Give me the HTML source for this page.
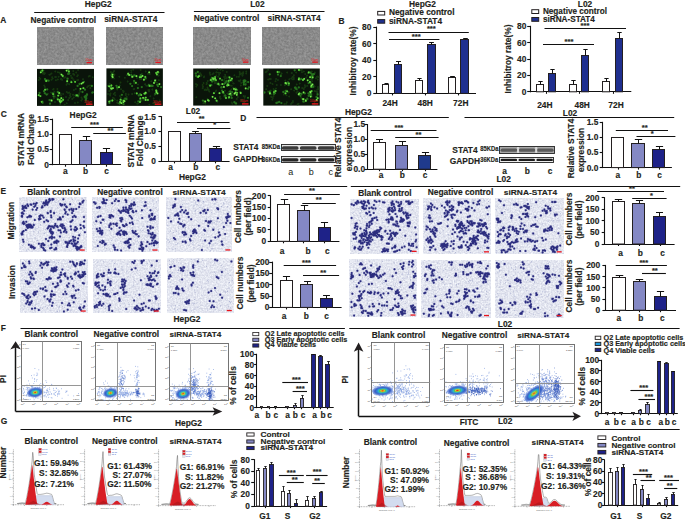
<!DOCTYPE html>
<html><head><meta charset="utf-8"><style>
html,body{margin:0;padding:0;background:#fff;}
svg{display:block;}
text{font-family:"Liberation Sans",sans-serif;}
text[font-weight="bold"]{stroke:#231f20;stroke-width:0.15px;}
</style></head><body>
<svg width="685" height="519" viewBox="0 0 685 519">
<defs>
<filter id="fph" x="0" y="0" width="1" height="1" color-interpolation-filters="sRGB">
<feTurbulence type="fractalNoise" baseFrequency="0.45" numOctaves="3" seed="3"/>
<feColorMatrix values="0.2 0 0 0 0.44  0.2 0 0 0 0.44  0.2 0 0 0 0.44  0 0 0 0 1"/>
<feGaussianBlur stdDeviation="0.35"/>
</filter>
<filter id="fgr" x="0" y="0" width="1" height="1" color-interpolation-filters="sRGB">
<feTurbulence type="fractalNoise" baseFrequency="0.3" numOctaves="2" seed="5"/>
<feComponentTransfer><feFuncR type="table" tableValues="0 0 0 0.02 0.08 0.25 0.6 0.95 1 1"/><feFuncA type="table" tableValues="1 1"/></feComponentTransfer>
<feColorMatrix values="0.42 0 0 0 0.035  0.8 0 0 0 0.07  0.16 0 0 0 0.035  0 0 0 0 1"/>
<feGaussianBlur stdDeviation="0.3"/>
</filter>
<filter id="fbl" x="-2%" y="-2%" width="104%" height="104%"><feGaussianBlur stdDeviation="0.35"/></filter>
<filter id="fbb" x="-30%" y="-30%" width="160%" height="160%"><feGaussianBlur stdDeviation="0.7"/></filter>
<filter id="ftw" x="0" y="0" width="1" height="1" color-interpolation-filters="sRGB">
<feTurbulence type="fractalNoise" baseFrequency="0.6" numOctaves="2" seed="11"/>
<feColorMatrix values="0.26 0 0 0 0.76  0.26 0 0 0 0.77  0.18 0 0 0 0.85  0 0 0 0 1"/>
</filter>
</defs>
<rect width="685" height="519" fill="#fff"/>
<text x="0.2" y="22.8" font-size="8.4" text-anchor="start" font-weight="bold" fill="#231f20" >A</text>
<text x="98.2" y="7" font-size="8.4" text-anchor="middle" font-weight="bold" fill="#231f20" >HepG2</text>
<line x1="34.2" y1="12.5" x2="164.5" y2="12.5" stroke="#111" stroke-width="1.2"/>
<text x="30.5" y="23" font-size="8.4" text-anchor="start" font-weight="bold" fill="#231f20" >Negative control</text>
<text x="104.2" y="22.2" font-size="8.4" text-anchor="start" font-weight="bold" fill="#231f20" >siRNA-STAT4</text>
<rect x="37" y="27.8" width="57" height="37" filter="url(#fph)"/>
<rect x="86.5" y="62" width="5.5" height="1.3" fill="#e8141c"/>
<text x="85.5" y="61.3" font-size="2.6" fill="#e8141c">50μm</text>
<rect x="106.4" y="27.3" width="56.5" height="37.3" filter="url(#fph)"/>
<rect x="155.4" y="61.8" width="5.5" height="1.3" fill="#e8141c"/>
<text x="154.4" y="61.1" font-size="2.6" fill="#e8141c">50μm</text>
<rect x="37" y="68.9" width="57" height="37" fill="#0a140a"/>
<g filter="url(#fbl)">
<path d="M91.8 85.9h0M80.4 91.5h0M79.2 93.2h0M79.0 94.8h0M39.4 77.8h0M54.4 97.8h0M54.4 94.3h0M55.1 96.5h0M51.0 92.5h0M51.8 93.1h0M47.8 93.8h0M65.5 77.2h0M64.5 77.8h0M90.4 87.9h0M88.3 86.1h0M64.7 104.8h0M66.7 92.1h0M68.1 92.9h0M69.2 92.6h0M55.9 80.3h0M72.6 78.5h0M72.0 77.6h0M71.5 78.1h0M43.6 70.6h0M55.0 102.1h0M70.0 95.4h0M70.4 93.9h0M73.1 94.7h0M73.5 73.8h0M73.2 74.0h0M74.1 74.8h0M60.8 79.2h0M57.1 98.9h0M53.7 98.5h0M54.2 97.0h0M79.8 90.6h0M55.9 77.0h0M57.9 79.6h0M55.2 77.0h0M75.8 88.9h0M57.3 97.9h0M52.7 78.5h0M51.5 79.8h0M52.2 77.3h0M60.3 100.2h0M61.4 102.1h0M60.2 104.1h0M73.8 80.3h0M77.2 80.2h0M78.1 80.1h0M66.7 103.2h0M58.6 76.8h0M81.4 100.5h0M81.5 97.5h0M53.1 89.5h0M45.7 94.2h0M47.5 93.9h0M73.3 71.0h0M40.3 78.7h0M38.7 80.0h0M51.9 101.2h0M83.0 79.3h0M88.7 76.4h0M92.7 77.3h0M84.5 97.1h0M82.3 99.1h0M66.5 84.8h0M67.5 83.3h0M73.0 94.8h0M70.6 96.7h0M72.3 99.1h0M73.7 97.5h0M59.9 95.0h0M90.7 104.8h0M91.5 104.7h0M90.1 103.9h0M50.1 74.5h0M51.5 73.6h0M49.4 74.8h0M73.9 89.9h0M44.9 87.0h0M78.1 70.1h0M69.2 98.1h0M71.2 81.0h0M67.3 79.3h0M76.2 72.4h0M77.2 76.3h0M60.6 74.3h0M59.6 72.8h0M85.8 101.7h0M60.6 93.4h0M61.1 95.6h0M63.1 94.1h0M57.4 89.0h0M54.4 91.8h0M53.6 88.9h0M59.0 100.7h0M77.8 102.4h0M75.0 103.0h0M44.2 73.9h0M42.8 73.6h0M89.7 76.1h0M66.0 96.9h0M70.9 75.7h0M44.8 73.3h0M43.4 72.4h0M42.4 72.5h0M55.3 71.6h0M90.0 85.6h0M68.2 100.0h0M61.9 99.2h0M63.3 98.0h0M63.4 77.4h0M62.1 79.7h0M61.1 78.8h0M77.8 75.2h0M44.2 85.6h0M67.1 82.9h0M69.2 84.2h0M57.9 72.3h0M87.2 87.3h0" stroke="#1a4714" stroke-width="2" stroke-linecap="round" stroke-opacity="0.7"/>
<path d="M83.9 81.8h0M83.0 82.6h0M40.4 96.1h0M38.7 95.2h0M46.7 94.6h0M46.2 81.0h0M45.0 79.1h0M48.6 80.7h0M46.9 80.4h0M50.0 103.7h0M91.9 85.9h0M39.5 93.0h0M53.6 96.3h0M53.1 94.1h0M53.0 93.3h0M79.6 84.0h0M81.6 83.6h0M68.9 71.4h0M63.1 99.8h0M59.8 100.0h0M61.3 98.2h0M60.4 102.3h0M80.5 88.8h0M82.5 92.0h0M85.0 89.7h0M83.4 88.2h0M61.5 74.6h0M62.9 75.8h0M75.1 81.8h0M62.7 76.0h0M59.8 101.2h0M61.6 101.1h0M85.6 97.3h0M85.9 99.8h0M86.0 97.4h0M86.2 96.2h0M50.5 100.3h0M49.5 100.1h0M51.6 100.5h0M44.8 93.2h0M44.0 91.2h0M78.1 96.3h0M78.1 95.9h0M76.9 95.4h0M77.0 95.4h0M75.7 95.5h0M92.3 92.7h0M92.9 92.3h0M45.4 79.8h0M42.4 101.7h0M42.6 102.8h0M42.4 101.9h0M41.7 101.8h0M42.4 70.5h0M86.3 98.2h0M84.8 96.7h0M85.4 97.8h0M87.0 94.5h0M71.4 82.2h0M67.6 78.7h0M67.2 81.2h0M68.2 73.9h0M68.3 70.0h0M69.2 73.5h0M66.6 70.6h0M68.7 71.7h0M57.8 92.0h0M58.2 95.6h0M59.2 93.0h0M57.9 99.4h0M45.1 89.7h0M47.2 89.4h0M40.8 72.3h0M41.7 71.0h0M41.5 70.9h0M87.1 94.8h0M85.9 95.8h0M77.6 85.9h0" stroke="#2a8420" stroke-width="2.3" stroke-linecap="round" stroke-opacity="0.8"/>
<path d="M83.0 82.6h0M40.4 96.1h0M38.7 95.2h0M46.2 81.0h0M53.1 94.1h0M81.6 83.6h0M68.9 71.4h0M63.1 99.8h0M59.8 100.0h0M61.3 98.2h0M60.4 102.3h0M80.5 88.8h0M83.4 88.2h0M61.5 74.6h0M75.1 81.8h0M62.7 76.0h0M59.8 101.2h0M61.6 101.1h0M51.6 100.5h0M76.9 95.4h0M77.0 95.4h0M41.7 101.8h0M42.4 70.5h0M71.4 82.2h0M67.2 81.2h0M66.6 70.6h0M58.2 95.6h0M59.2 93.0h0M57.9 99.4h0M45.1 89.7h0M40.8 72.3h0" stroke="#5ccf3a" stroke-width="1.8" stroke-linecap="round"/>
<path d="M83.0 82.6h0M81.6 83.6h0M61.3 98.2h0M80.5 88.8h0M61.5 74.6h0M59.8 101.2h0M51.6 100.5h0M67.2 81.2h0M66.6 70.6h0M59.2 93.0h0M40.8 72.3h0" stroke="#9aec64" stroke-width="1" stroke-linecap="round"/>
</g>
<rect x="86" y="103.5" width="6.5" height="1.4" fill="#e8141c"/>
<text x="84" y="102.5" font-size="2.6" fill="#e8141c">100μm</text>
<rect x="106.4" y="68.4" width="56.5" height="37.5" fill="#0a140a"/>
<g filter="url(#fbl)">
<path d="M159.7 100.4h0M114.2 98.4h0M110.1 94.5h0M110.2 95.5h0M123.5 92.3h0M123.7 91.2h0M117.2 89.6h0M113.8 75.7h0M112.8 74.0h0M114.5 74.6h0M145.1 84.2h0M147.8 85.7h0M146.3 85.7h0M128.0 74.6h0M110.8 71.9h0M110.1 90.2h0M109.3 91.0h0M110.5 93.4h0M143.4 99.7h0M145.0 98.2h0M147.6 100.2h0M119.0 87.3h0M118.3 87.3h0M119.8 85.4h0M113.0 97.8h0M108.0 93.9h0M136.9 77.9h0M121.0 97.8h0M128.5 94.4h0M134.3 83.4h0M157.3 85.1h0M126.8 97.0h0M138.0 84.6h0M132.1 94.1h0M125.8 93.8h0M125.8 95.1h0M134.1 82.5h0M150.8 84.6h0M151.7 85.2h0M151.1 85.3h0M129.2 74.9h0M126.9 75.2h0M119.4 76.8h0M135.8 82.3h0M151.3 81.2h0M122.9 90.8h0M158.6 75.4h0M158.3 75.8h0M139.8 78.9h0M139.3 76.4h0M141.2 78.9h0M153.2 103.2h0M149.4 104.7h0M133.3 69.7h0M131.2 70.4h0M131.4 72.6h0M134.8 93.3h0M153.6 98.5h0M134.1 89.1h0M150.3 96.2h0M155.9 80.1h0M156.9 82.6h0M158.9 80.2h0M114.0 78.6h0M120.0 96.1h0M140.6 70.1h0M141.8 73.8h0M117.6 103.2h0M119.0 103.0h0M117.2 102.8h0M124.9 77.7h0M117.2 100.6h0M137.2 103.8h0M114.8 99.4h0M135.2 102.3h0M115.3 95.2h0M118.7 87.1h0M121.0 89.3h0M117.3 86.9h0M145.6 71.6h0M109.6 83.7h0M124.3 99.6h0M124.4 98.4h0M114.9 92.8h0M113.7 93.9h0M112.0 72.7h0M114.1 71.1h0M113.2 72.5h0M148.0 73.8h0M149.8 74.1h0M127.6 81.6h0M149.0 91.6h0M133.6 89.3h0M154.8 104.3h0M154.8 102.2h0M138.0 103.5h0M157.3 92.3h0M154.6 95.0h0M156.7 92.9h0M149.3 90.0h0M152.4 89.6h0M148.4 90.1h0M111.5 89.4h0M144.5 100.0h0M141.4 101.1h0M143.3 99.4h0M126.7 99.5h0M112.1 78.1h0M120.5 82.5h0" stroke="#1a4714" stroke-width="2" stroke-linecap="round" stroke-opacity="0.7"/>
<path d="M126.4 98.9h0M112.7 77.2h0M112.6 74.6h0M111.6 75.6h0M112.3 76.3h0M111.8 74.5h0M140.0 102.0h0M140.3 99.8h0M138.3 101.3h0M156.7 90.9h0M155.3 93.8h0M140.9 76.0h0M141.1 77.0h0M139.8 77.2h0M142.5 75.9h0M140.7 75.2h0M109.1 86.3h0M111.1 88.3h0M108.6 85.9h0M111.4 85.5h0M159.4 84.1h0M157.3 84.8h0M161.1 87.1h0M158.0 86.2h0M145.8 97.6h0M145.7 99.9h0M147.9 99.9h0M144.4 98.4h0M143.1 97.8h0M132.1 86.1h0M130.4 83.8h0M131.3 75.2h0M134.2 75.3h0M132.5 76.7h0M132.2 76.8h0M120.6 99.7h0M120.1 102.0h0M123.5 104.2h0M121.4 103.2h0M119.5 103.5h0M121.9 94.8h0M112.4 100.5h0M109.4 103.0h0M109.2 101.6h0M110.4 100.9h0M156.4 92.0h0M157.5 93.4h0M156.2 90.4h0M149.2 72.3h0M119.0 87.2h0M151.5 85.9h0M149.6 85.9h0M152.6 85.9h0M148.9 84.9h0M123.9 100.6h0M125.3 98.6h0M124.5 101.2h0M122.0 100.6h0M123.4 102.1h0M128.1 73.8h0M128.3 73.3h0M129.2 75.0h0M116.5 85.8h0M117.2 87.7h0M141.8 87.1h0M137.9 88.1h0M136.5 76.1h0M135.7 75.9h0M145.3 76.9h0M134.1 81.0h0M135.9 82.8h0M111.5 88.9h0M112.9 88.2h0M110.4 87.5h0M110.1 86.4h0M157.0 72.5h0M157.9 72.0h0M156.2 72.9h0M158.4 72.6h0M156.9 74.4h0M140.4 98.3h0M141.2 94.9h0M145.6 78.2h0M145.6 78.4h0M143.9 79.7h0M144.4 93.6h0M145.7 92.7h0M145.1 93.5h0M146.1 93.2h0M155.1 80.4h0M154.0 82.9h0M154.8 81.8h0M138.8 95.4h0M140.2 94.2h0M136.8 93.4h0" stroke="#2a8420" stroke-width="2.3" stroke-linecap="round" stroke-opacity="0.8"/>
<path d="M112.7 77.2h0M112.6 74.6h0M112.3 76.3h0M140.0 102.0h0M141.1 77.0h0M139.8 77.2h0M142.5 75.9h0M109.1 86.3h0M111.1 88.3h0M111.4 85.5h0M159.4 84.1h0M145.8 97.6h0M145.7 99.9h0M147.9 99.9h0M143.1 97.8h0M132.5 76.7h0M132.2 76.8h0M120.6 99.7h0M120.1 102.0h0M121.4 103.2h0M112.4 100.5h0M109.2 101.6h0M156.4 92.0h0M157.5 93.4h0M156.2 90.4h0M149.2 72.3h0M119.0 87.2h0M149.6 85.9h0M123.9 100.6h0M124.5 101.2h0M123.4 102.1h0M128.1 73.8h0M129.2 75.0h0M136.5 76.1h0M145.3 76.9h0M135.9 82.8h0M111.5 88.9h0M112.9 88.2h0M157.9 72.0h0M156.2 72.9h0M156.9 74.4h0M140.4 98.3h0M141.2 94.9h0M143.9 79.7h0M144.4 93.6h0M145.7 92.7h0M145.1 93.5h0M155.1 80.4h0M154.0 82.9h0M136.8 93.4h0" stroke="#5ccf3a" stroke-width="1.8" stroke-linecap="round"/>
<path d="M112.7 77.2h0M112.6 74.6h0M112.3 76.3h0M142.5 75.9h0M109.1 86.3h0M111.1 88.3h0M159.4 84.1h0M145.7 99.9h0M143.1 97.8h0M132.2 76.8h0M121.4 103.2h0M156.4 92.0h0M157.5 93.4h0M149.2 72.3h0M119.0 87.2h0M123.9 100.6h0M124.5 101.2h0M123.4 102.1h0M128.1 73.8h0M129.2 75.0h0M136.5 76.1h0M112.9 88.2h0M157.9 72.0h0M143.9 79.7h0M145.7 92.7h0M155.1 80.4h0M154.0 82.9h0" stroke="#9aec64" stroke-width="1" stroke-linecap="round"/>
</g>
<rect x="154.9" y="103.5" width="6.5" height="1.4" fill="#e8141c"/>
<text x="152.9" y="102.5" font-size="2.6" fill="#e8141c">100μm</text>
<text x="257.4" y="7" font-size="8.4" text-anchor="middle" font-weight="bold" fill="#231f20" >L02</text>
<line x1="193.9" y1="11.5" x2="324.5" y2="11.5" stroke="#111" stroke-width="1.2"/>
<text x="193.8" y="21.2" font-size="8.4" text-anchor="start" font-weight="bold" fill="#231f20" >Negative control</text>
<text x="267.5" y="21.2" font-size="8.4" text-anchor="start" font-weight="bold" fill="#231f20" >siRNA-STAT4</text>
<rect x="193.9" y="27.3" width="56.5" height="37" filter="url(#fph)"/>
<rect x="242.9" y="61.5" width="5.5" height="1.3" fill="#e8141c"/>
<text x="241.9" y="60.8" font-size="2.6" fill="#e8141c">50μm</text>
<rect x="262.8" y="27.3" width="57" height="37" filter="url(#fph)"/>
<rect x="312.3" y="61.5" width="5.5" height="1.3" fill="#e8141c"/>
<text x="311.3" y="60.8" font-size="2.6" fill="#e8141c">50μm</text>
<rect x="193.2" y="68.5" width="56.8" height="37.1" fill="#0a140a"/>
<g filter="url(#fbl)">
<path d="M206.3 90.0h0M209.3 91.6h0M207.7 88.8h0M227.4 93.6h0M227.7 93.8h0M202.6 88.3h0M203.0 86.8h0M209.2 84.7h0M244.6 97.8h0M243.5 96.0h0M245.0 96.3h0M218.2 76.8h0M220.6 98.7h0M220.0 96.4h0M219.9 97.6h0M234.9 93.5h0M232.9 94.7h0M222.1 92.4h0M225.0 90.8h0M231.4 89.5h0M244.5 82.1h0M243.6 84.9h0M246.4 82.4h0M210.2 74.8h0M207.7 80.9h0M232.3 103.8h0M231.7 102.4h0M202.6 85.0h0M243.1 73.3h0M246.2 73.5h0M217.5 101.8h0M216.1 81.0h0M214.7 80.5h0M201.1 74.6h0M203.9 77.3h0M204.1 76.5h0M228.9 91.8h0M229.4 94.4h0M231.4 94.1h0M206.7 82.7h0M228.5 76.7h0M225.4 76.2h0M233.7 83.6h0M231.7 85.8h0M206.9 83.4h0M203.5 83.0h0M211.5 78.9h0M210.1 80.2h0M211.7 77.6h0M216.1 80.8h0M239.6 72.0h0M213.5 73.3h0M212.5 74.2h0M216.3 72.3h0M216.7 72.6h0M217.3 69.6h0M241.8 73.5h0M240.2 74.3h0M240.0 73.8h0M216.1 90.6h0M234.4 75.2h0M240.8 85.4h0M241.3 83.0h0M214.9 81.7h0M214.6 83.2h0M216.1 83.2h0M206.5 84.2h0M233.2 87.7h0M236.8 98.9h0M237.7 97.0h0M239.8 81.3h0M240.4 80.3h0M238.6 80.8h0M226.6 78.2h0M224.8 78.2h0M226.7 77.7h0M226.3 80.7h0M224.1 76.9h0M230.1 85.4h0M233.2 83.2h0M229.6 85.2h0M224.0 95.9h0M224.9 96.9h0M232.2 81.0h0M204.6 89.9h0M205.2 89.6h0M204.4 101.0h0M204.0 101.2h0M203.4 103.2h0M197.3 85.0h0M196.4 86.5h0M195.9 84.1h0M208.7 90.1h0M207.2 89.4h0M207.5 87.4h0M239.7 74.7h0M240.3 73.6h0M242.6 74.9h0M215.6 91.5h0M201.5 75.6h0M200.1 73.2h0M200.6 76.0h0M209.9 72.4h0M209.8 72.9h0M246.3 71.6h0M220.7 69.7h0M222.9 70.6h0M199.2 74.0h0M217.2 84.3h0M218.2 82.4h0M218.3 84.5h0M224.1 81.1h0M224.3 79.7h0M196.3 97.3h0M216.3 75.5h0M228.5 96.5h0M243.9 102.4h0M243.3 102.3h0M207.5 99.1h0M236.8 76.8h0M238.9 76.7h0M225.1 74.8h0M226.7 72.1h0M243.2 72.2h0M242.4 75.8h0M205.3 103.6h0M203.8 102.0h0M235.0 103.6h0M220.2 72.9h0M219.2 74.7h0M218.6 72.7h0M241.9 100.0h0M240.9 100.5h0" stroke="#1a4714" stroke-width="2" stroke-linecap="round" stroke-opacity="0.7"/>
<path d="M234.4 102.2h0M236.1 103.5h0M196.1 76.0h0M199.0 76.1h0M198.1 77.0h0M195.8 73.5h0M215.0 78.8h0M214.4 80.2h0M213.4 80.4h0M213.5 77.9h0M216.0 80.1h0M248.2 82.1h0M211.3 85.1h0M210.2 85.7h0M248.0 97.8h0M229.5 77.3h0M231.9 78.7h0M229.7 79.2h0M230.7 80.3h0M222.0 80.2h0M220.0 78.6h0M236.8 94.8h0M216.6 100.7h0M210.9 80.0h0M211.7 78.8h0M213.2 79.0h0M212.1 81.6h0M225.5 95.9h0M230.8 94.0h0M232.1 92.1h0M229.5 94.2h0M230.2 91.4h0M230.3 93.7h0M197.8 72.0h0M208.7 100.7h0M208.0 100.2h0M221.3 87.4h0M223.8 84.2h0M221.6 87.4h0M222.3 84.1h0M223.9 86.9h0M213.9 93.2h0M212.6 96.8h0M218.3 84.0h0M219.3 84.7h0M202.9 100.6h0M205.2 101.5h0M228.6 82.2h0M228.7 80.8h0M228.2 84.2h0M227.2 85.6h0M226.5 81.5h0M225.3 82.9h0M228.5 85.2h0M227.6 84.4h0M231.2 95.6h0M231.7 97.9h0M228.9 97.9h0M229.1 97.2h0M240.4 92.5h0M240.7 93.0h0M248.9 87.3h0M248.1 88.8h0M245.7 88.4h0M219.5 93.2h0M223.5 93.2h0M223.1 92.0h0M222.1 90.6h0M225.1 95.5h0M226.0 98.0h0M234.7 93.4h0M234.5 93.6h0M237.1 92.8h0M237.0 89.9h0M235.6 92.7h0M243.7 82.5h0M245.5 84.5h0M244.0 84.3h0M245.4 80.9h0M196.9 76.4h0M215.2 98.3h0M235.5 90.0h0M235.5 88.7h0M234.0 88.9h0M235.9 89.5h0M235.8 90.8h0M211.9 78.2h0M214.7 78.4h0M215.1 77.1h0M212.8 78.1h0M244.8 80.3h0M243.7 80.7h0" stroke="#2a8420" stroke-width="2.3" stroke-linecap="round" stroke-opacity="0.8"/>
<path d="M199.0 76.1h0M198.1 77.0h0M215.0 78.8h0M216.0 80.1h0M210.2 85.7h0M229.5 77.3h0M231.9 78.7h0M230.7 80.3h0M220.0 78.6h0M236.8 94.8h0M216.6 100.7h0M210.9 80.0h0M213.2 79.0h0M229.5 94.2h0M230.3 93.7h0M208.7 100.7h0M208.0 100.2h0M222.3 84.1h0M223.9 86.9h0M213.9 93.2h0M212.6 96.8h0M218.3 84.0h0M205.2 101.5h0M228.7 80.8h0M227.2 85.6h0M228.5 85.2h0M227.6 84.4h0M229.1 97.2h0M240.7 93.0h0M245.7 88.4h0M219.5 93.2h0M223.1 92.0h0M226.0 98.0h0M234.7 93.4h0M234.5 93.6h0M237.1 92.8h0M235.6 92.7h0M215.2 98.3h0M234.0 88.9h0M235.9 89.5h0M215.1 77.1h0M212.8 78.1h0" stroke="#5ccf3a" stroke-width="1.8" stroke-linecap="round"/>
<path d="M199.0 76.1h0M215.0 78.8h0M231.9 78.7h0M236.8 94.8h0M213.2 79.0h0M230.3 93.7h0M208.0 100.2h0M222.3 84.1h0M223.9 86.9h0M212.6 96.8h0M205.2 101.5h0M228.5 85.2h0M240.7 93.0h0M245.7 88.4h0M219.5 93.2h0M234.7 93.4h0M234.5 93.6h0M235.6 92.7h0M215.2 98.3h0M234.0 88.9h0M235.9 89.5h0" stroke="#9aec64" stroke-width="1" stroke-linecap="round"/>
</g>
<rect x="242" y="103.2" width="6.5" height="1.4" fill="#e8141c"/>
<text x="240" y="102.2" font-size="2.6" fill="#e8141c">100μm</text>
<rect x="263.3" y="68.5" width="56.5" height="37.1" fill="#0a140a"/>
<g filter="url(#fbl)">
<path d="M271.2 96.8h0M272.8 97.9h0M272.3 99.8h0M281.6 73.4h0M270.4 82.9h0M268.1 79.4h0M269.8 79.1h0M291.0 104.1h0M313.1 74.6h0M311.8 71.6h0M314.7 73.5h0M306.3 77.4h0M307.2 75.6h0M310.7 76.2h0M274.2 90.0h0M276.0 88.6h0M271.6 94.2h0M271.7 97.1h0M273.6 96.1h0M267.3 86.0h0M317.4 92.0h0M317.4 89.4h0M284.8 85.3h0M266.1 89.2h0M307.3 85.7h0M305.4 86.4h0M304.9 85.2h0M316.1 91.4h0M272.5 84.1h0M269.1 91.9h0M270.7 93.5h0M267.9 91.6h0M270.8 90.4h0M314.3 104.1h0M318.3 88.6h0M318.3 89.2h0M317.9 87.1h0M297.5 104.5h0M298.5 103.8h0M312.9 76.4h0M275.5 81.3h0M276.1 79.0h0M277.9 80.0h0M304.3 102.1h0M284.4 103.9h0M286.3 103.8h0M317.7 79.6h0M292.6 77.0h0M289.3 79.3h0M309.2 79.4h0M312.1 81.2h0M311.0 79.4h0M304.6 87.2h0M303.8 89.1h0M302.2 88.1h0M314.5 90.9h0M317.4 93.2h0M268.1 69.7h0M304.1 99.1h0M307.7 99.5h0M288.6 92.0h0M293.7 77.2h0M293.9 79.0h0M285.3 92.5h0M283.9 94.4h0M287.1 72.5h0M314.9 72.6h0M294.1 90.5h0M296.5 92.7h0M297.6 91.5h0M270.7 78.9h0M292.9 102.2h0M301.1 97.8h0M299.7 83.4h0M289.0 85.1h0M288.9 84.2h0M273.8 93.2h0M317.7 76.6h0M318.5 77.0h0M266.7 71.4h0M265.6 72.2h0M291.8 103.0h0M276.7 85.0h0M281.0 74.7h0M296.7 84.6h0M310.8 75.9h0M313.3 76.4h0M296.1 72.5h0M302.0 72.3h0M303.9 71.4h0M305.3 74.0h0M280.9 85.1h0M286.8 102.3h0M293.9 75.3h0M314.6 86.5h0M313.9 85.7h0M315.8 100.3h0M316.5 100.2h0M292.9 100.9h0M285.3 80.5h0M291.8 73.0h0M315.8 78.2h0M317.0 76.8h0M291.4 78.4h0M293.0 79.5h0M286.5 95.3h0M289.1 96.4h0M291.1 89.2h0M288.7 92.5h0M286.8 90.4h0M273.5 88.9h0M299.6 70.3h0M301.8 69.8h0M301.6 70.2h0" stroke="#1a4714" stroke-width="2" stroke-linecap="round" stroke-opacity="0.7"/>
<path d="M269.8 74.3h0M303.3 101.5h0M305.8 100.4h0M303.4 99.2h0M302.7 99.1h0M305.8 100.9h0M308.5 72.9h0M308.7 72.3h0M311.0 73.3h0M309.9 72.3h0M311.1 94.4h0M309.5 95.2h0M311.2 94.1h0M311.2 96.2h0M304.2 93.1h0M303.6 92.4h0M307.3 98.7h0M308.6 95.8h0M310.7 96.6h0M312.2 75.3h0M317.7 98.2h0M316.7 100.0h0M316.5 96.9h0M308.6 83.1h0M307.7 80.3h0M309.9 82.0h0M277.6 72.0h0M310.2 91.8h0M310.0 94.4h0M308.5 93.5h0M310.5 92.5h0M276.4 103.0h0M279.2 102.0h0M277.6 102.6h0M311.6 91.1h0M294.7 70.3h0M299.3 70.2h0M298.9 69.9h0M281.4 103.1h0M311.7 76.9h0M312.7 77.3h0M312.5 78.0h0M269.9 93.5h0M269.9 93.0h0M269.6 91.7h0M275.6 91.0h0M275.0 93.2h0M274.0 92.1h0M274.2 91.6h0M274.0 93.9h0M313.8 74.2h0M311.9 74.1h0M280.8 76.1h0M278.0 74.6h0M279.2 72.2h0M312.3 78.3h0M310.1 77.2h0M298.7 94.4h0M311.4 85.5h0M310.7 83.1h0M311.2 86.7h0M313.0 87.0h0M312.5 84.5h0M285.7 90.8h0M283.3 92.0h0M287.1 91.3h0M285.5 93.3h0M264.5 92.5h0M304.9 93.3h0M298.8 87.4h0M295.8 88.6h0M295.6 87.6h0M295.0 87.7h0M296.6 89.2h0M317.6 94.5h0M288.5 85.1h0M285.5 83.0h0M285.3 83.2h0M288.0 82.3h0M286.3 83.5h0M288.9 83.4h0M301.2 79.0h0M304.2 78.8h0M303.0 80.0h0M299.0 78.5h0M299.8 79.5h0M298.8 79.4h0M299.5 93.5h0M298.9 93.9h0M301.5 93.9h0M300.5 95.8h0" stroke="#2a8420" stroke-width="2.3" stroke-linecap="round" stroke-opacity="0.8"/>
<path d="M305.8 100.4h0M303.4 99.2h0M302.7 99.1h0M305.8 100.9h0M308.7 72.3h0M303.6 92.4h0M310.7 96.6h0M317.7 98.2h0M316.7 100.0h0M307.7 80.3h0M309.9 82.0h0M277.6 72.0h0M310.2 91.8h0M310.5 92.5h0M311.6 91.1h0M298.9 69.9h0M312.7 77.3h0M269.9 93.5h0M269.9 93.0h0M275.6 91.0h0M274.0 92.1h0M310.1 77.2h0M298.7 94.4h0M311.4 85.5h0M311.2 86.7h0M312.5 84.5h0M287.1 91.3h0M285.5 93.3h0M285.5 83.0h0M286.3 83.5h0M288.9 83.4h0M304.2 78.8h0M303.0 80.0h0M299.0 78.5h0M298.8 79.4h0M299.5 93.5h0M298.9 93.9h0" stroke="#5ccf3a" stroke-width="1.8" stroke-linecap="round"/>
<path d="M305.8 100.4h0M303.4 99.2h0M303.6 92.4h0M310.7 96.6h0M316.7 100.0h0M307.7 80.3h0M310.2 91.8h0M310.5 92.5h0M312.7 77.3h0M269.9 93.5h0M310.1 77.2h0M298.7 94.4h0M311.4 85.5h0M312.5 84.5h0M285.5 83.0h0M304.2 78.8h0M298.8 79.4h0M298.9 93.9h0" stroke="#9aec64" stroke-width="1" stroke-linecap="round"/>
</g>
<rect x="311.8" y="103.2" width="6.5" height="1.4" fill="#e8141c"/>
<text x="309.8" y="102.2" font-size="2.6" fill="#e8141c">100μm</text>
<text x="338.5" y="24.4" font-size="8.4" text-anchor="start" font-weight="bold" fill="#231f20" >B</text>
<text x="422.5" y="6.5" font-size="8.4" text-anchor="middle" font-weight="bold" fill="#231f20" >HepG2</text>
<rect x="377.7" y="11.4" width="7" height="3.6" fill="#fff" stroke="#231f20" stroke-width="1"/>
<text x="388.9" y="15.4" font-size="8.4" text-anchor="start" font-weight="bold" fill="#231f20" >Negative control</text>
<rect x="377.7" y="19.6" width="7" height="3.6" fill="#1f2f8f" stroke="#231f20" stroke-width="1"/>
<text x="388.9" y="23.9" font-size="8.4" text-anchor="start" font-weight="bold" fill="#231f20" >siRNA-STAT4</text>
<line x1="376.5" y1="26.6" x2="376.5" y2="93.9" stroke="#111" stroke-width="1.1"/>
<line x1="373.3" y1="93.5" x2="376.1" y2="93.5" stroke="#111" stroke-width="1.1"/>
<text x="371.4" y="96.34" font-size="8.4" text-anchor="end" font-weight="bold" fill="#231f20" >0</text>
<line x1="373.3" y1="76.5" x2="376.1" y2="76.5" stroke="#111" stroke-width="1.1"/>
<text x="371.4" y="79.77" font-size="8.4" text-anchor="end" font-weight="bold" fill="#231f20" >20</text>
<line x1="373.3" y1="60.5" x2="376.1" y2="60.5" stroke="#111" stroke-width="1.1"/>
<text x="371.4" y="63.19" font-size="8.4" text-anchor="end" font-weight="bold" fill="#231f20" >40</text>
<line x1="373.3" y1="43.5" x2="376.1" y2="43.5" stroke="#111" stroke-width="1.1"/>
<text x="371.4" y="46.61" font-size="8.4" text-anchor="end" font-weight="bold" fill="#231f20" >60</text>
<line x1="373.3" y1="27.5" x2="376.1" y2="27.5" stroke="#111" stroke-width="1.1"/>
<text x="371.4" y="30.04" font-size="8.4" text-anchor="end" font-weight="bold" fill="#231f20" >80</text>
<line x1="375.6" y1="93.5" x2="476" y2="93.5" stroke="#111" stroke-width="1.1"/>
<line x1="392.5" y1="93.4" x2="392.5" y2="95.4" stroke="#111" stroke-width="1.1"/>
<line x1="425.5" y1="93.4" x2="425.5" y2="95.4" stroke="#111" stroke-width="1.1"/>
<line x1="458.5" y1="93.4" x2="458.5" y2="95.4" stroke="#111" stroke-width="1.1"/>
<rect x="382.5" y="84.5" width="6" height="8.9" fill="#fff" stroke="#231f20" stroke-width="1"/>
<line x1="386.5" y1="83" x2="386.5" y2="84.5" stroke="#111" stroke-width="1"/>
<line x1="384.49" y1="83.5" x2="388.51" y2="83.5" stroke="#111" stroke-width="1"/>
<rect x="394.5" y="64.5" width="7" height="28.9" fill="#1f2f8f" stroke="#231f20" stroke-width="1"/>
<line x1="398.5" y1="61.8" x2="398.5" y2="64.5" stroke="#111" stroke-width="1"/>
<line x1="396.05" y1="61.5" x2="400.95" y2="61.5" stroke="#111" stroke-width="1"/>
<rect x="415.5" y="80.5" width="7" height="12.9" fill="#fff" stroke="#231f20" stroke-width="1"/>
<line x1="419.5" y1="78.9" x2="419.5" y2="80.5" stroke="#111" stroke-width="1"/>
<line x1="417.38" y1="78.5" x2="421.62" y2="78.5" stroke="#111" stroke-width="1"/>
<rect x="427.5" y="44.5" width="8" height="48.9" fill="#1f2f8f" stroke="#231f20" stroke-width="1"/>
<line x1="431.5" y1="42.9" x2="431.5" y2="44.5" stroke="#111" stroke-width="1"/>
<line x1="429.11" y1="42.5" x2="433.89" y2="42.5" stroke="#111" stroke-width="1"/>
<rect x="448.5" y="77.5" width="7" height="15.9" fill="#fff" stroke="#231f20" stroke-width="1"/>
<line x1="452.5" y1="76.3" x2="452.5" y2="77.5" stroke="#111" stroke-width="1"/>
<line x1="450.13" y1="76.5" x2="454.87" y2="76.5" stroke="#111" stroke-width="1"/>
<rect x="460.5" y="39.5" width="8" height="53.9" fill="#1f2f8f" stroke="#231f20" stroke-width="1"/>
<line x1="465.5" y1="38.2" x2="465.5" y2="39.5" stroke="#111" stroke-width="1"/>
<line x1="463.19" y1="38.5" x2="467.81" y2="38.5" stroke="#111" stroke-width="1"/>
<line x1="388.5" y1="32.5" x2="468.8" y2="32.5" stroke="#111" stroke-width="1.1"/>
<text x="431.3" y="31.4" font-size="7.5" text-anchor="middle" font-weight="bold" fill="#231f20" >***</text>
<line x1="389" y1="39.5" x2="439.4" y2="39.5" stroke="#111" stroke-width="1.1"/>
<text x="416.2" y="39.1" font-size="7.5" text-anchor="middle" font-weight="bold" fill="#231f20" >***</text>
<text x="390.1" y="105.8" font-size="8.4" text-anchor="middle" font-weight="bold" fill="#231f20" >24H</text>
<text x="425.2" y="105.8" font-size="8.4" text-anchor="middle" font-weight="bold" fill="#231f20" >48H</text>
<text x="460.8" y="105.8" font-size="8.4" text-anchor="middle" font-weight="bold" fill="#231f20" >72H</text>
<text transform="translate(356.18,61) rotate(-90)" font-size="8.4" text-anchor="middle" font-weight="bold" fill="#231f20" >Inhibitroy rate(%)</text>
<text x="585" y="6.5" font-size="8.4" text-anchor="middle" font-weight="bold" fill="#231f20" >L02</text>
<rect x="531.8" y="9.7" width="6.9" height="3.8" fill="#fff" stroke="#231f20" stroke-width="1"/>
<text x="542.9" y="13.66" font-size="8.2" text-anchor="start" font-weight="bold" fill="#231f20" >Negative control</text>
<rect x="531.8" y="17.5" width="6.9" height="3.8" fill="#1f2f8f" stroke="#231f20" stroke-width="1"/>
<text x="542.9" y="22.46" font-size="8.2" text-anchor="start" font-weight="bold" fill="#231f20" >siRNA-STAT4</text>
<line x1="530.5" y1="25.8" x2="530.5" y2="92.3" stroke="#111" stroke-width="1.1"/>
<line x1="527.2" y1="91.5" x2="530" y2="91.5" stroke="#111" stroke-width="1.1"/>
<text x="526.4" y="94.74" font-size="8.4" text-anchor="end" font-weight="bold" fill="#231f20" >0</text>
<line x1="527.2" y1="75.5" x2="530" y2="75.5" stroke="#111" stroke-width="1.1"/>
<text x="526.4" y="78.36" font-size="8.4" text-anchor="end" font-weight="bold" fill="#231f20" >20</text>
<line x1="527.2" y1="59.5" x2="530" y2="59.5" stroke="#111" stroke-width="1.1"/>
<text x="526.4" y="61.99" font-size="8.4" text-anchor="end" font-weight="bold" fill="#231f20" >40</text>
<line x1="527.2" y1="42.5" x2="530" y2="42.5" stroke="#111" stroke-width="1.1"/>
<text x="526.4" y="45.61" font-size="8.4" text-anchor="end" font-weight="bold" fill="#231f20" >60</text>
<line x1="527.2" y1="26.5" x2="530" y2="26.5" stroke="#111" stroke-width="1.1"/>
<text x="526.4" y="29.24" font-size="8.4" text-anchor="end" font-weight="bold" fill="#231f20" >80</text>
<line x1="529.5" y1="91.5" x2="631.3" y2="91.5" stroke="#111" stroke-width="1.1"/>
<line x1="546.5" y1="91.8" x2="546.5" y2="93.8" stroke="#111" stroke-width="1.1"/>
<line x1="579.5" y1="91.8" x2="579.5" y2="93.8" stroke="#111" stroke-width="1.1"/>
<line x1="613.5" y1="91.8" x2="613.5" y2="93.8" stroke="#111" stroke-width="1.1"/>
<rect x="536.5" y="84.5" width="7" height="7.3" fill="#fff" stroke="#231f20" stroke-width="1"/>
<line x1="540.5" y1="81" x2="540.5" y2="84.5" stroke="#111" stroke-width="1"/>
<line x1="538.3" y1="81.5" x2="542.7" y2="81.5" stroke="#111" stroke-width="1"/>
<rect x="548.5" y="73.5" width="7" height="18.3" fill="#1f2f8f" stroke="#231f20" stroke-width="1"/>
<line x1="552.5" y1="69.7" x2="552.5" y2="73.5" stroke="#111" stroke-width="1"/>
<line x1="550.33" y1="69.5" x2="554.67" y2="69.5" stroke="#111" stroke-width="1"/>
<rect x="569.5" y="84.5" width="7" height="7.3" fill="#fff" stroke="#231f20" stroke-width="1"/>
<line x1="573.5" y1="80" x2="573.5" y2="84.5" stroke="#111" stroke-width="1"/>
<line x1="571.3" y1="80.5" x2="575.7" y2="80.5" stroke="#111" stroke-width="1"/>
<rect x="581.5" y="55.5" width="7" height="36.3" fill="#1f2f8f" stroke="#231f20" stroke-width="1"/>
<line x1="585.5" y1="49.4" x2="585.5" y2="55.5" stroke="#111" stroke-width="1"/>
<line x1="583.33" y1="49.5" x2="587.67" y2="49.5" stroke="#111" stroke-width="1"/>
<rect x="602.5" y="81.5" width="7" height="10.3" fill="#fff" stroke="#231f20" stroke-width="1"/>
<line x1="606.5" y1="78.4" x2="606.5" y2="81.5" stroke="#111" stroke-width="1"/>
<line x1="604.36" y1="78.5" x2="608.64" y2="78.5" stroke="#111" stroke-width="1"/>
<rect x="615.5" y="38.5" width="7" height="53.3" fill="#1f2f8f" stroke="#231f20" stroke-width="1"/>
<line x1="619.5" y1="32" x2="619.5" y2="38.5" stroke="#111" stroke-width="1"/>
<line x1="617.3" y1="32.5" x2="621.7" y2="32.5" stroke="#111" stroke-width="1"/>
<line x1="544.5" y1="28.5" x2="626" y2="28.5" stroke="#111" stroke-width="1.1"/>
<text x="585" y="27.8" font-size="7.5" text-anchor="middle" font-weight="bold" fill="#231f20" >***</text>
<line x1="543" y1="44.5" x2="594" y2="44.5" stroke="#111" stroke-width="1.1"/>
<text x="569" y="44.1" font-size="7.5" text-anchor="middle" font-weight="bold" fill="#231f20" >***</text>
<text x="544.9" y="107.9" font-size="8.4" text-anchor="middle" font-weight="bold" fill="#231f20" >24H</text>
<text x="582.2" y="107.9" font-size="8.4" text-anchor="middle" font-weight="bold" fill="#231f20" >48H</text>
<text x="616" y="107.9" font-size="8.4" text-anchor="middle" font-weight="bold" fill="#231f20" >72H</text>
<text transform="translate(511.18,59) rotate(-90)" font-size="8.4" text-anchor="middle" font-weight="bold" fill="#231f20" >Inhibitroy rate(%)</text>
<text x="0.8" y="117" font-size="8.4" text-anchor="start" font-weight="bold" fill="#231f20" >C</text>
<text x="83.1" y="117.6" font-size="8.4" text-anchor="middle" font-weight="bold" fill="#231f20" >HepG2</text>
<text transform="translate(24.48,139.5) rotate(-90)" font-size="8.4" text-anchor="middle" font-weight="bold" fill="#231f20" >STAT4 mRNA</text>
<text transform="translate(33.68,139.5) rotate(-90)" font-size="8.4" text-anchor="middle" font-weight="bold" fill="#231f20" >Fold Change</text>
<line x1="52.5" y1="118.7" x2="52.5" y2="165.2" stroke="#111" stroke-width="1.1"/>
<line x1="49.7" y1="164.5" x2="52.5" y2="164.5" stroke="#111" stroke-width="1.1"/>
<text x="48.9" y="167.64" font-size="8.4" text-anchor="end" font-weight="bold" fill="#231f20" >0</text>
<line x1="49.7" y1="149.5" x2="52.5" y2="149.5" stroke="#111" stroke-width="1.1"/>
<text x="48.9" y="152.47" font-size="8.4" text-anchor="end" font-weight="bold" fill="#231f20" >0.5</text>
<line x1="49.7" y1="134.5" x2="52.5" y2="134.5" stroke="#111" stroke-width="1.1"/>
<text x="48.9" y="137.31" font-size="8.4" text-anchor="end" font-weight="bold" fill="#231f20" >1.0</text>
<line x1="49.7" y1="119.5" x2="52.5" y2="119.5" stroke="#111" stroke-width="1.1"/>
<text x="48.9" y="122.14" font-size="8.4" text-anchor="end" font-weight="bold" fill="#231f20" >1.5</text>
<line x1="49.2" y1="164.5" x2="121" y2="164.5" stroke="#111" stroke-width="1.1"/>
<line x1="65.5" y1="164.7" x2="65.5" y2="166.7" stroke="#111" stroke-width="1.1"/>
<line x1="86.5" y1="164.7" x2="86.5" y2="166.7" stroke="#111" stroke-width="1.1"/>
<line x1="106.5" y1="164.7" x2="106.5" y2="166.7" stroke="#111" stroke-width="1.1"/>
<rect x="59.5" y="134.5" width="12" height="30" fill="#fff" stroke="#231f20" stroke-width="1"/>
<rect x="79.5" y="140.5" width="12" height="24" fill="#8488c4" stroke="#231f20" stroke-width="1"/>
<line x1="86.5" y1="136.3" x2="86.5" y2="140.5" stroke="#111" stroke-width="1"/>
<line x1="82.84" y1="136.5" x2="90.16" y2="136.5" stroke="#111" stroke-width="1"/>
<rect x="100.5" y="152.5" width="12" height="12" fill="#1e2288" stroke="#231f20" stroke-width="1"/>
<line x1="106.5" y1="148" x2="106.5" y2="152.5" stroke="#111" stroke-width="1"/>
<line x1="102.92" y1="148.5" x2="110.08" y2="148.5" stroke="#111" stroke-width="1"/>
<text x="65.3" y="174.2" font-size="8.4" text-anchor="middle" font-weight="bold" fill="#231f20" >a</text>
<text x="85.5" y="174.2" font-size="8.4" text-anchor="middle" font-weight="bold" fill="#231f20" >b</text>
<text x="106.6" y="174.2" font-size="8.4" text-anchor="middle" font-weight="bold" fill="#231f20" >c</text>
<line x1="71.2" y1="127.5" x2="122.8" y2="127.5" stroke="#111" stroke-width="1.1"/>
<text x="94.5" y="126.7" font-size="7.5" text-anchor="middle" font-weight="bold" fill="#231f20" >***</text>
<line x1="93.2" y1="133.5" x2="125.9" y2="133.5" stroke="#111" stroke-width="1.1"/>
<text x="110.5" y="133.3" font-size="7.5" text-anchor="middle" font-weight="bold" fill="#231f20" >**</text>
<text x="193" y="114.4" font-size="8.4" text-anchor="middle" font-weight="bold" fill="#231f20" >L02</text>
<text transform="translate(133.58,141) rotate(-90)" font-size="8.4" text-anchor="middle" font-weight="bold" fill="#231f20" >STAT4 mRNA</text>
<text transform="translate(143.18,141) rotate(-90)" font-size="8.4" text-anchor="middle" font-weight="bold" fill="#231f20" >Fold Change</text>
<line x1="161.5" y1="116.1" x2="161.5" y2="161.9" stroke="#111" stroke-width="1.1"/>
<line x1="158.4" y1="161.5" x2="161.2" y2="161.5" stroke="#111" stroke-width="1.1"/>
<text x="156" y="164.34" font-size="8.4" text-anchor="end" font-weight="bold" fill="#231f20" >0</text>
<line x1="158.4" y1="146.5" x2="161.2" y2="146.5" stroke="#111" stroke-width="1.1"/>
<text x="156" y="149.41" font-size="8.4" text-anchor="end" font-weight="bold" fill="#231f20" >0.5</text>
<line x1="158.4" y1="131.5" x2="161.2" y2="131.5" stroke="#111" stroke-width="1.1"/>
<text x="156" y="134.47" font-size="8.4" text-anchor="end" font-weight="bold" fill="#231f20" >1.0</text>
<line x1="158.4" y1="116.5" x2="161.2" y2="116.5" stroke="#111" stroke-width="1.1"/>
<text x="156" y="119.54" font-size="8.4" text-anchor="end" font-weight="bold" fill="#231f20" >1.5</text>
<line x1="160.7" y1="161.5" x2="229.6" y2="161.5" stroke="#111" stroke-width="1.1"/>
<line x1="174.5" y1="161.4" x2="174.5" y2="163.4" stroke="#111" stroke-width="1.1"/>
<line x1="195.5" y1="161.4" x2="195.5" y2="163.4" stroke="#111" stroke-width="1.1"/>
<line x1="215.5" y1="161.4" x2="215.5" y2="163.4" stroke="#111" stroke-width="1.1"/>
<rect x="168.5" y="131.5" width="12" height="29.9" fill="#fff" stroke="#231f20" stroke-width="1"/>
<rect x="189.5" y="133.5" width="12" height="27.9" fill="#8488c4" stroke="#231f20" stroke-width="1"/>
<line x1="195.5" y1="131.6" x2="195.5" y2="133.5" stroke="#111" stroke-width="1"/>
<line x1="192.15" y1="131.5" x2="198.85" y2="131.5" stroke="#111" stroke-width="1"/>
<rect x="209.5" y="148.5" width="12" height="12.9" fill="#1e2288" stroke="#231f20" stroke-width="1"/>
<line x1="216.5" y1="146.5" x2="216.5" y2="148.5" stroke="#111" stroke-width="1"/>
<line x1="212.9" y1="146.5" x2="220.1" y2="146.5" stroke="#111" stroke-width="1"/>
<text x="170.6" y="170.3" font-size="8.4" text-anchor="middle" font-weight="bold" fill="#231f20" >a</text>
<text x="195.8" y="170.3" font-size="8.4" text-anchor="middle" font-weight="bold" fill="#231f20" >b</text>
<text x="217.8" y="170.3" font-size="8.4" text-anchor="middle" font-weight="bold" fill="#231f20" >c</text>
<line x1="177" y1="122.5" x2="229.6" y2="122.5" stroke="#111" stroke-width="1.1"/>
<text x="201.6" y="121.4" font-size="7.5" text-anchor="middle" font-weight="bold" fill="#231f20" >**</text>
<line x1="197" y1="128.5" x2="230.5" y2="128.5" stroke="#111" stroke-width="1.1"/>
<text x="214.7" y="127.4" font-size="7.5" text-anchor="middle" font-weight="bold" fill="#231f20" >*</text>
<text x="240.3" y="120.5" font-size="8.4" text-anchor="start" font-weight="bold" fill="#231f20" >D</text>
<line x1="256.5" y1="117.5" x2="448.8" y2="117.5" stroke="#111" stroke-width="1.2"/>
<text x="358.4" y="114.8" font-size="8.4" text-anchor="middle" font-weight="bold" fill="#231f20" >HepG2</text>
<rect x="281.5" y="144.5" width="54" height="6" fill="#e4e4e4" stroke="#222" stroke-width="0.9"/>
<rect x="281.92" y="146.25" width="16.56" height="3.58" rx="1.62" fill="#3a3a3a" filter="url(#fbb)"/>
<rect x="299.92" y="146.25" width="16.56" height="3.58" rx="1.62" fill="#3a3a3a" filter="url(#fbb)"/>
<rect x="317.92" y="146.25" width="16.56" height="3.58" rx="1.62" fill="#3a3a3a" filter="url(#fbb)"/>
<rect x="281.5" y="156.5" width="54" height="6" fill="#e6e6e6" stroke="#222" stroke-width="0.9"/>
<rect x="281.92" y="158.25" width="16.56" height="3.25" rx="1.62" fill="#262626" filter="url(#fbb)"/>
<rect x="299.92" y="158.25" width="16.56" height="3.25" rx="1.62" fill="#262626" filter="url(#fbb)"/>
<rect x="317.92" y="158.25" width="16.56" height="3.25" rx="1.62" fill="#262626" filter="url(#fbb)"/>
<text x="233.2" y="150.2" font-size="8.4" text-anchor="start" font-weight="bold" fill="#231f20" >STAT4</text>
<text transform="translate(261.7,148.82) scale(0.92,1)" font-size="6.4" font-weight="bold" fill="#231f20">85KDa</text>
<text x="233.3" y="162.3" font-size="8.4" text-anchor="start" font-weight="bold" fill="#231f20" >GAPDH</text>
<text transform="translate(262.1,161.52) scale(0.9,1)" font-size="6.4" font-weight="bold" fill="#231f20">36KDa</text>
<text x="290.8" y="174.6" font-size="9" text-anchor="middle" font-weight="normal" fill="#231f20" >a</text>
<text x="311.3" y="174.6" font-size="9" text-anchor="middle" font-weight="normal" fill="#231f20" >b</text>
<text x="330.8" y="174.6" font-size="9" text-anchor="middle" font-weight="normal" fill="#231f20" >c</text>
<text transform="translate(341.18,147.5) rotate(-90)" font-size="8.4" text-anchor="middle" font-weight="bold" fill="#231f20" >Relative STAT4</text>
<text transform="translate(352.18,149.1) rotate(-90)" font-size="8.4" text-anchor="middle" font-weight="bold" fill="#231f20" >expression</text>
<line x1="367.5" y1="124" x2="367.5" y2="169.7" stroke="#111" stroke-width="1.1"/>
<line x1="364.2" y1="169.5" x2="367" y2="169.5" stroke="#111" stroke-width="1.1"/>
<text x="365.1" y="172.14" font-size="8.4" text-anchor="end" font-weight="bold" fill="#231f20" >0.0</text>
<line x1="364.2" y1="154.5" x2="367" y2="154.5" stroke="#111" stroke-width="1.1"/>
<text x="365.1" y="157.24" font-size="8.4" text-anchor="end" font-weight="bold" fill="#231f20" >0.5</text>
<line x1="364.2" y1="139.5" x2="367" y2="139.5" stroke="#111" stroke-width="1.1"/>
<text x="365.1" y="142.34" font-size="8.4" text-anchor="end" font-weight="bold" fill="#231f20" >1.0</text>
<line x1="364.2" y1="124.5" x2="367" y2="124.5" stroke="#111" stroke-width="1.1"/>
<text x="365.1" y="127.44" font-size="8.4" text-anchor="end" font-weight="bold" fill="#231f20" >1.5</text>
<line x1="366.5" y1="169.5" x2="437.4" y2="169.5" stroke="#111" stroke-width="1.1"/>
<line x1="379.5" y1="169.2" x2="379.5" y2="171.2" stroke="#111" stroke-width="1.1"/>
<line x1="402.5" y1="169.2" x2="402.5" y2="171.2" stroke="#111" stroke-width="1.1"/>
<line x1="425.5" y1="169.2" x2="425.5" y2="171.2" stroke="#111" stroke-width="1.1"/>
<rect x="373.5" y="142.5" width="12" height="26.7" fill="#fff" stroke="#231f20" stroke-width="1"/>
<line x1="379.5" y1="139" x2="379.5" y2="142.5" stroke="#111" stroke-width="1"/>
<line x1="376.01" y1="139.5" x2="382.99" y2="139.5" stroke="#111" stroke-width="1"/>
<rect x="395.5" y="145.5" width="12" height="23.7" fill="#7b80c0" stroke="#231f20" stroke-width="1"/>
<line x1="402.5" y1="141.7" x2="402.5" y2="145.5" stroke="#111" stroke-width="1"/>
<line x1="398.95" y1="141.5" x2="406.05" y2="141.5" stroke="#111" stroke-width="1"/>
<rect x="418.5" y="155.5" width="12" height="13.7" fill="#1f3a8c" stroke="#231f20" stroke-width="1"/>
<line x1="425.5" y1="152.2" x2="425.5" y2="155.5" stroke="#111" stroke-width="1"/>
<line x1="421.93" y1="152.5" x2="429.07" y2="152.5" stroke="#111" stroke-width="1"/>
<text x="381.2" y="178" font-size="8.4" text-anchor="middle" font-weight="bold" fill="#231f20" >a</text>
<text x="402.3" y="178" font-size="8.4" text-anchor="middle" font-weight="bold" fill="#231f20" >b</text>
<text x="425" y="178" font-size="8.4" text-anchor="middle" font-weight="bold" fill="#231f20" >c</text>
<line x1="370.7" y1="130.5" x2="436.5" y2="130.5" stroke="#111" stroke-width="1.1"/>
<text x="398.9" y="129.7" font-size="7.5" text-anchor="middle" font-weight="bold" fill="#231f20" >***</text>
<line x1="395.2" y1="137.5" x2="438.6" y2="137.5" stroke="#111" stroke-width="1.1"/>
<text x="418.5" y="137.2" font-size="7.5" text-anchor="middle" font-weight="bold" fill="#231f20" >**</text>
<line x1="464.5" y1="117.5" x2="674.2" y2="117.5" stroke="#111" stroke-width="1.2"/>
<text x="570" y="115.5" font-size="8.4" text-anchor="middle" font-weight="bold" fill="#231f20" >L02</text>
<rect x="499.5" y="146.5" width="55" height="7" fill="#d8d8d8" stroke="#222" stroke-width="0.9"/>
<rect x="500" y="147" width="54" height="6" fill="#a8a8a8"/>
<rect x="500.63" y="148.53" width="16.68" height="3.25" rx="1.62" fill="#5a5a5a" filter="url(#fbb)"/>
<rect x="518.76" y="148.53" width="16.68" height="3.25" rx="1.62" fill="#5a5a5a" filter="url(#fbb)"/>
<rect x="536.89" y="148.53" width="16.68" height="3.25" rx="1.62" fill="#5a5a5a" filter="url(#fbb)"/>
<rect x="517.03" y="147" width="2" height="6" fill="#d8d8d8" filter="url(#fbl)"/>
<rect x="535.17" y="147" width="2" height="6" fill="#d8d8d8" filter="url(#fbl)"/>
<rect x="499.5" y="157.5" width="54" height="5" fill="#ececec" stroke="#222" stroke-width="0.9"/>
<rect x="500.62" y="158.71" width="16.47" height="2.39" rx="1.42" fill="#1a1a1a" filter="url(#fbb)"/>
<rect x="518.52" y="158.71" width="16.47" height="2.39" rx="1.42" fill="#1a1a1a" filter="url(#fbb)"/>
<rect x="536.42" y="158.71" width="16.47" height="2.39" rx="1.42" fill="#1a1a1a" filter="url(#fbb)"/>
<text x="452.3" y="152.6" font-size="8.4" text-anchor="start" font-weight="bold" fill="#231f20" >STAT4</text>
<text transform="translate(480.2,150.82) scale(0.92,1)" font-size="6.4" font-weight="bold" fill="#231f20">85KDa</text>
<text x="449.8" y="163.6" font-size="8.4" text-anchor="start" font-weight="bold" fill="#231f20" >GAPDH</text>
<text transform="translate(480.2,162.42) scale(0.9,1)" font-size="6.4" font-weight="bold" fill="#231f20">36KDa</text>
<text x="504.5" y="173.7" font-size="8.4" text-anchor="middle" font-weight="bold" fill="#231f20" >a</text>
<text x="527.3" y="173.7" font-size="8.4" text-anchor="middle" font-weight="bold" fill="#231f20" >b</text>
<text x="550" y="173.7" font-size="8.4" text-anchor="middle" font-weight="bold" fill="#231f20" >c</text>
<text transform="translate(573.68,148.5) rotate(-90)" font-size="8.4" text-anchor="middle" font-weight="bold" fill="#231f20" >Relative STAT4</text>
<text transform="translate(583.98,150) rotate(-90)" font-size="8.4" text-anchor="middle" font-weight="bold" fill="#231f20" >expression</text>
<line x1="602.5" y1="121.8" x2="602.5" y2="168.1" stroke="#111" stroke-width="1.1"/>
<line x1="599.7" y1="167.5" x2="602.5" y2="167.5" stroke="#111" stroke-width="1.1"/>
<text x="598.3" y="170.54" font-size="8.4" text-anchor="end" font-weight="bold" fill="#231f20" >0.0</text>
<line x1="599.7" y1="152.5" x2="602.5" y2="152.5" stroke="#111" stroke-width="1.1"/>
<text x="598.3" y="155.44" font-size="8.4" text-anchor="end" font-weight="bold" fill="#231f20" >0.5</text>
<line x1="599.7" y1="137.5" x2="602.5" y2="137.5" stroke="#111" stroke-width="1.1"/>
<text x="598.3" y="140.34" font-size="8.4" text-anchor="end" font-weight="bold" fill="#231f20" >1.0</text>
<line x1="599.7" y1="122.5" x2="602.5" y2="122.5" stroke="#111" stroke-width="1.1"/>
<text x="598.3" y="125.24" font-size="8.4" text-anchor="end" font-weight="bold" fill="#231f20" >1.5</text>
<line x1="602" y1="167.5" x2="671.9" y2="167.5" stroke="#111" stroke-width="1.1"/>
<line x1="618.5" y1="167.6" x2="618.5" y2="169.6" stroke="#111" stroke-width="1.1"/>
<line x1="638.5" y1="167.6" x2="638.5" y2="169.6" stroke="#111" stroke-width="1.1"/>
<line x1="659.5" y1="167.6" x2="659.5" y2="169.6" stroke="#111" stroke-width="1.1"/>
<rect x="611.5" y="137.5" width="12" height="30.1" fill="#fff" stroke="#231f20" stroke-width="1"/>
<rect x="631.5" y="143.5" width="13" height="24.1" fill="#8488c4" stroke="#231f20" stroke-width="1"/>
<line x1="638.5" y1="139.5" x2="638.5" y2="143.5" stroke="#111" stroke-width="1"/>
<line x1="634.84" y1="139.5" x2="642.16" y2="139.5" stroke="#111" stroke-width="1"/>
<rect x="652.5" y="149.5" width="12" height="18.1" fill="#1e2288" stroke="#231f20" stroke-width="1"/>
<line x1="659.5" y1="146.9" x2="659.5" y2="149.5" stroke="#111" stroke-width="1"/>
<line x1="655.9" y1="146.5" x2="663.1" y2="146.5" stroke="#111" stroke-width="1"/>
<text x="617.9" y="178.3" font-size="8.4" text-anchor="middle" font-weight="bold" fill="#231f20" >a</text>
<text x="638.9" y="178.3" font-size="8.4" text-anchor="middle" font-weight="bold" fill="#231f20" >b</text>
<text x="659.6" y="178.3" font-size="8.4" text-anchor="middle" font-weight="bold" fill="#231f20" >c</text>
<line x1="615.8" y1="130.5" x2="668" y2="130.5" stroke="#111" stroke-width="1.1"/>
<text x="644.7" y="130.2" font-size="7.5" text-anchor="middle" font-weight="bold" fill="#231f20" >**</text>
<line x1="636.5" y1="136.5" x2="675.4" y2="136.5" stroke="#111" stroke-width="1.1"/>
<text x="652.2" y="136.3" font-size="7.5" text-anchor="middle" font-weight="bold" fill="#231f20" >*</text>
<text x="0.4" y="193.7" font-size="8.4" text-anchor="start" font-weight="bold" fill="#231f20" >E</text>
<line x1="19.7" y1="186.5" x2="347.2" y2="186.5" stroke="#111" stroke-width="1.2"/>
<line x1="350.8" y1="186.5" x2="680.2" y2="186.5" stroke="#111" stroke-width="1.2"/>
<text x="192.4" y="180" font-size="8.4" text-anchor="middle" font-weight="bold" fill="#231f20" >HepG2</text>
<text x="503.6" y="182.4" font-size="8.4" text-anchor="middle" font-weight="bold" fill="#231f20" >L02</text>
<text x="27.2" y="195.3" font-size="8.4" text-anchor="start" font-weight="bold" fill="#231f20" >Blank control</text>
<text x="97.2" y="195.3" font-size="8.4" text-anchor="start" font-weight="bold" fill="#231f20" >Negative control</text>
<text transform="translate(172.4,194.55) scale(1,0.82)" font-size="8.4" text-anchor="start" font-weight="bold" fill="#231f20" >siRNA-STAT4</text>
<rect x="19.7" y="197.6" width="66.5" height="54.4" filter="url(#ftw)"/>
<path d="M26.1 211.4h0M57.9 235.1h0M41.9 247.3h0M44.0 222.9h0M28.7 249.6h0M29.4 246.0h0M55.8 228.0h0M56.8 212.5h0M79.4 250.6h0M73.4 230.1h0M28.6 241.8h0M39.3 245.6h0M36.2 228.7h0M74.3 208.3h0M56.0 202.6h0M22.8 208.0h0M84.4 247.8h0M63.2 214.7h0M64.0 237.3h0M45.3 229.6h0M72.5 199.5h0M33.6 223.1h0M29.9 218.8h0M57.4 207.7h0M54.2 212.4h0M57.3 216.0h0M62.1 200.6h0M64.0 206.2h0M82.6 230.0h0M51.0 220.2h0M60.9 234.7h0M69.6 238.0h0M52.0 250.7h0M74.8 243.4h0M47.1 221.3h0M57.2 246.0h0M54.6 226.1h0M48.6 246.0h0M41.4 201.5h0M67.5 245.8h0M67.9 229.9h0M69.2 214.6h0M59.0 202.3h0M28.7 222.0h0M53.1 219.4h0M24.1 235.0h0M54.6 211.1h0M40.5 219.3h0M35.9 202.2h0M79.5 249.2h0M63.6 244.0h0M47.9 240.8h0M35.0 237.7h0M57.3 245.9h0M27.1 240.1h0M28.7 226.8h0M82.0 198.6h0M36.4 214.3h0M41.6 201.9h0M78.4 241.3h0M46.3 217.3h0M58.5 201.0h0M22.7 245.7h0M40.6 224.7h0M80.9 249.8h0M51.2 209.4h0M39.7 246.9h0M78.5 208.8h0M74.7 217.2h0M51.2 207.6h0M77.4 250.8h0M33.7 231.7h0M33.1 244.7h0M23.9 204.2h0M67.5 215.0h0M78.8 244.2h0M66.7 205.7h0M65.6 247.7h0M49.4 202.7h0M35.1 214.7h0M66.5 208.9h0M32.4 210.9h0M63.6 240.0h0M44.7 233.3h0M77.7 229.5h0M35.5 214.4h0M80.5 233.6h0M38.6 232.1h0M26.5 250.1h0M49.1 226.3h0M54.9 201.0h0M59.4 213.5h0M36.9 240.7h0M26.3 213.5h0M69.4 211.5h0M38.7 227.3h0M32.7 245.6h0M84.4 200.4h0M50.5 237.9h0M45.5 247.3h0M52.9 208.0h0M56.6 232.4h0M43.9 233.1h0M71.2 225.7h0M53.3 242.9h0M64.8 225.9h0M82.1 207.7h0M71.0 207.3h0M59.9 210.9h0M49.1 239.1h0M71.4 240.1h0M35.9 224.2h0M35.0 229.0h0M52.9 200.5h0M59.2 236.1h0M57.6 244.3h0M32.3 206.6h0M21.8 224.6h0M48.7 221.7h0M37.7 240.4h0" stroke="#9ba1c9" stroke-width="0.8" stroke-linecap="round"/>
<path d="M47.6 228.5h0M50.8 229.8h0M47.9 228.2h0M50.6 229.3h0M32.5 227.4h0M32.1 226.4h0M29.3 226.2h0M31.9 227.0h0M31.1 227.2h0M30.1 227.2h0M28.4 227.2h0M31.1 225.4h0M63.7 225.8h0M60.3 225.7h0M62.6 224.5h0M61.9 226.8h0M61.5 224.8h0M61.1 224.5h0M63.0 225.6h0M62.2 224.9h0M64.8 210.0h0M47.1 204.5h0M45.6 203.8h0M48.1 202.8h0M47.2 202.3h0M46.3 202.4h0M44.6 203.0h0M45.9 201.8h0M43.8 202.6h0M71.4 221.6h0M70.5 221.8h0M72.5 220.2h0M41.4 246.9h0M38.9 243.7h0M23.6 208.5h0M23.0 207.6h0M24.4 206.8h0M22.6 205.9h0M60.8 219.4h0M59.9 217.4h0M57.9 219.4h0M59.0 219.2h0M60.0 236.5h0M32.2 247.2h0M34.0 248.4h0M34.8 247.9h0M33.2 247.0h0M71.1 229.5h0M74.6 229.7h0M50.6 231.9h0M52.6 232.2h0M53.0 232.9h0M51.0 232.9h0M52.3 234.0h0M50.8 232.4h0M42.9 243.4h0M43.3 244.6h0M44.5 245.1h0M79.2 235.2h0M52.3 237.2h0M50.3 237.2h0M54.2 237.4h0M66.8 207.2h0M70.1 204.3h0M66.1 206.6h0M75.3 227.3h0M76.9 228.6h0M76.9 229.0h0M76.1 230.1h0M75.0 230.6h0M75.6 227.1h0M50.6 226.5h0M49.1 226.0h0M50.8 228.9h0M48.5 227.0h0M51.7 226.4h0M21.8 213.1h0M23.4 213.8h0M21.8 216.0h0M21.7 216.4h0M22.5 212.6h0M22.1 215.5h0M22.2 216.7h0M35.7 204.0h0M33.8 203.7h0M34.2 206.8h0M50.6 211.9h0M47.7 212.9h0M66.1 242.7h0M69.2 242.9h0M68.9 243.0h0M65.5 242.0h0M66.9 242.2h0M67.9 243.7h0M23.0 239.8h0M23.5 241.8h0M28.9 224.5h0M27.5 225.7h0M26.9 226.8h0M29.7 226.7h0M27.7 225.7h0M27.8 228.0h0M27.4 225.0h0M26.3 225.3h0M48.3 241.1h0M46.0 239.1h0M50.0 231.3h0M75.1 240.6h0M77.8 242.1h0M78.1 238.5h0M69.4 209.7h0M64.6 209.5h0M65.8 212.0h0M75.7 217.0h0M47.9 213.2h0M47.2 202.5h0M49.0 201.4h0M46.2 200.5h0M49.6 199.1h0M50.1 200.2h0M79.8 204.0h0M82.6 201.8h0M31.4 227.5h0M33.8 224.9h0M30.4 224.7h0M32.7 226.9h0M31.2 227.2h0M47.3 204.8h0M80.5 225.0h0M83.5 226.1h0M84.2 227.6h0M50.1 248.2h0M51.5 247.7h0M51.3 244.6h0M51.1 215.5h0M51.3 217.3h0M83.4 200.7h0M39.7 217.3h0M39.5 216.2h0M40.0 215.9h0M40.8 215.2h0M43.6 217.6h0M42.5 215.7h0M54.2 242.3h0M56.6 242.2h0M56.2 242.8h0M55.3 241.5h0M56.6 242.9h0M41.3 245.7h0M43.1 248.0h0M31.4 204.7h0M27.4 204.4h0M30.6 204.5h0M63.4 199.2h0M63.9 231.7h0M66.3 232.4h0M66.4 232.1h0M55.1 225.7h0M57.1 226.2h0M57.0 226.6h0M55.3 224.0h0M57.7 227.0h0M57.0 225.9h0M44.2 221.8h0M48.1 221.2h0M46.6 220.2h0M51.8 236.3h0M51.9 238.4h0M49.7 237.8h0M76.6 243.6h0M75.5 245.9h0M73.6 246.0h0M74.6 245.0h0M74.8 243.3h0M75.7 243.9h0M73.9 245.8h0M73.6 245.4h0M32.6 209.6h0M53.4 199.3h0M52.3 199.8h0M52.3 199.1h0M34.8 219.9h0M84.9 232.2h0M22.4 232.3h0M23.6 231.1h0M44.8 205.3h0M43.4 203.6h0M54.3 242.7h0M25.9 229.9h0M43.7 248.7h0M44.0 249.9h0M45.3 250.6h0M50.7 211.1h0M54.1 213.2h0M58.5 230.2h0M60.2 230.5h0M60.9 232.4h0M79.7 203.4h0M82.6 202.5h0M56.0 249.3h0M54.5 249.4h0M56.0 247.9h0M56.2 248.9h0M41.8 207.6h0M42.5 207.2h0M42.3 206.2h0M70.7 226.4h0M36.7 203.0h0M35.4 205.7h0M65.3 229.3h0M64.9 230.4h0M62.7 228.1h0M65.5 230.0h0M64.6 228.0h0M64.7 228.5h0M24.1 210.7h0M22.6 208.9h0M60.4 219.3h0M60.4 218.3h0M62.9 216.7h0M59.1 218.9h0M73.4 239.3h0M75.1 237.4h0M73.1 236.8h0M73.7 240.3h0M67.6 245.1h0M67.2 246.9h0M67.0 246.2h0M56.6 243.1h0M58.4 241.6h0M56.9 240.6h0M56.6 243.0h0M65.3 213.6h0M41.4 244.1h0M44.1 244.7h0M43.4 245.0h0M72.8 217.0h0M72.1 213.0h0M74.4 215.8h0M21.7 234.6h0M21.5 233.6h0M22.7 231.8h0M22.5 234.3h0M53.8 227.4h0M54.9 225.8h0M52.7 226.5h0M52.5 226.7h0M53.8 227.8h0M53.8 227.4h0M60.8 204.9h0M60.3 204.1h0M61.8 205.3h0M61.4 205.6h0M62.3 204.7h0M60.4 204.1h0M64.6 204.8h0M64.9 204.5h0M84.0 217.0h0M79.3 248.7h0M78.6 248.6h0M80.0 247.5h0M77.8 249.5h0M76.4 247.1h0M77.1 249.8h0M76.4 248.3h0M79.1 247.5h0M67.7 214.6h0M22.7 222.9h0M24.5 223.6h0M23.7 224.1h0M23.5 221.7h0M23.3 222.6h0M26.3 221.8h0M76.9 246.8h0M77.9 247.6h0M81.1 246.0h0M78.1 248.9h0M80.9 247.0h0M79.3 248.0h0M81.4 246.8h0M77.8 248.6h0M54.0 213.1h0M31.8 247.4h0M28.9 244.8h0M32.1 246.5h0M30.8 246.9h0M31.1 245.5h0M29.0 216.4h0M27.4 217.3h0M31.1 216.6h0M30.1 216.1h0M29.6 215.7h0M29.9 216.8h0M72.2 210.5h0M76.2 208.9h0M73.1 211.1h0M71.4 208.9h0M73.5 209.2h0M24.4 207.2h0M28.1 205.7h0M25.6 206.0h0M24.2 207.6h0M25.9 207.9h0M25.5 206.2h0M28.1 206.1h0M26.3 207.9h0M39.6 216.1h0M39.6 216.6h0M40.5 218.9h0M38.9 218.9h0M39.1 219.5h0M51.4 231.4h0M51.5 232.6h0M50.1 230.3h0M51.7 233.4h0M74.5 229.6h0M84.1 221.4h0M80.5 204.0h0M79.1 207.0h0M49.2 199.5h0M37.2 208.1h0M36.3 209.8h0M71.1 240.5h0M70.0 241.3h0M71.6 243.5h0M69.4 241.5h0M72.2 243.8h0M73.6 241.6h0M80.8 228.3h0" stroke="#5559a4" stroke-width="2.8" stroke-linecap="round" stroke-opacity="0.4"/>
<path d="M47.6 228.5h0M50.8 229.8h0M47.9 228.2h0M50.6 229.3h0M32.5 227.4h0M32.1 226.4h0M29.3 226.2h0M31.9 227.0h0M31.1 227.2h0M30.1 227.2h0M28.4 227.2h0M31.1 225.4h0M63.7 225.8h0M60.3 225.7h0M62.6 224.5h0M61.9 226.8h0M61.5 224.8h0M61.1 224.5h0M63.0 225.6h0M62.2 224.9h0M64.8 210.0h0M47.1 204.5h0M45.6 203.8h0M48.1 202.8h0M47.2 202.3h0M46.3 202.4h0M44.6 203.0h0M45.9 201.8h0M43.8 202.6h0M71.4 221.6h0M70.5 221.8h0M72.5 220.2h0M41.4 246.9h0M38.9 243.7h0M23.6 208.5h0M23.0 207.6h0M24.4 206.8h0M22.6 205.9h0M60.8 219.4h0M59.9 217.4h0M57.9 219.4h0M59.0 219.2h0M60.0 236.5h0M32.2 247.2h0M34.0 248.4h0M34.8 247.9h0M33.2 247.0h0M71.1 229.5h0M74.6 229.7h0M50.6 231.9h0M52.6 232.2h0M53.0 232.9h0M51.0 232.9h0M52.3 234.0h0M50.8 232.4h0M42.9 243.4h0M43.3 244.6h0M44.5 245.1h0M79.2 235.2h0M52.3 237.2h0M50.3 237.2h0M54.2 237.4h0M66.8 207.2h0M70.1 204.3h0M66.1 206.6h0M75.3 227.3h0M76.9 228.6h0M76.9 229.0h0M76.1 230.1h0M75.0 230.6h0M75.6 227.1h0M50.6 226.5h0M49.1 226.0h0M50.8 228.9h0M48.5 227.0h0M51.7 226.4h0M21.8 213.1h0M23.4 213.8h0M21.8 216.0h0M21.7 216.4h0M22.5 212.6h0M22.1 215.5h0M22.2 216.7h0M35.7 204.0h0M33.8 203.7h0M34.2 206.8h0M50.6 211.9h0M47.7 212.9h0M66.1 242.7h0M69.2 242.9h0M68.9 243.0h0M65.5 242.0h0M66.9 242.2h0M67.9 243.7h0M23.0 239.8h0M23.5 241.8h0M28.9 224.5h0M27.5 225.7h0M26.9 226.8h0M29.7 226.7h0M27.7 225.7h0M27.8 228.0h0M27.4 225.0h0M26.3 225.3h0M48.3 241.1h0M46.0 239.1h0M50.0 231.3h0M75.1 240.6h0M77.8 242.1h0M78.1 238.5h0M69.4 209.7h0M64.6 209.5h0M65.8 212.0h0M75.7 217.0h0M47.9 213.2h0M47.2 202.5h0M49.0 201.4h0M46.2 200.5h0M49.6 199.1h0M50.1 200.2h0M79.8 204.0h0M82.6 201.8h0M31.4 227.5h0M33.8 224.9h0M30.4 224.7h0M32.7 226.9h0M31.2 227.2h0M47.3 204.8h0M80.5 225.0h0M83.5 226.1h0M84.2 227.6h0M50.1 248.2h0M51.5 247.7h0M51.3 244.6h0M51.1 215.5h0M51.3 217.3h0M83.4 200.7h0M39.7 217.3h0M39.5 216.2h0M40.0 215.9h0M40.8 215.2h0M43.6 217.6h0M42.5 215.7h0M54.2 242.3h0M56.6 242.2h0M56.2 242.8h0M55.3 241.5h0M56.6 242.9h0M41.3 245.7h0M43.1 248.0h0M31.4 204.7h0M27.4 204.4h0M30.6 204.5h0M63.4 199.2h0M63.9 231.7h0M66.3 232.4h0M66.4 232.1h0M55.1 225.7h0M57.1 226.2h0M57.0 226.6h0M55.3 224.0h0M57.7 227.0h0M57.0 225.9h0M44.2 221.8h0M48.1 221.2h0M46.6 220.2h0M51.8 236.3h0M51.9 238.4h0M49.7 237.8h0M76.6 243.6h0M75.5 245.9h0M73.6 246.0h0M74.6 245.0h0M74.8 243.3h0M75.7 243.9h0M73.9 245.8h0M73.6 245.4h0M32.6 209.6h0M53.4 199.3h0M52.3 199.8h0M52.3 199.1h0M34.8 219.9h0M84.9 232.2h0M22.4 232.3h0M23.6 231.1h0M44.8 205.3h0M43.4 203.6h0M54.3 242.7h0M25.9 229.9h0M43.7 248.7h0M44.0 249.9h0M45.3 250.6h0M50.7 211.1h0M54.1 213.2h0M58.5 230.2h0M60.2 230.5h0M60.9 232.4h0M79.7 203.4h0M82.6 202.5h0M56.0 249.3h0M54.5 249.4h0M56.0 247.9h0M56.2 248.9h0M41.8 207.6h0M42.5 207.2h0M42.3 206.2h0M70.7 226.4h0M36.7 203.0h0M35.4 205.7h0M65.3 229.3h0M64.9 230.4h0M62.7 228.1h0M65.5 230.0h0M64.6 228.0h0M64.7 228.5h0M24.1 210.7h0M22.6 208.9h0M60.4 219.3h0M60.4 218.3h0M62.9 216.7h0M59.1 218.9h0M73.4 239.3h0M75.1 237.4h0M73.1 236.8h0M73.7 240.3h0M67.6 245.1h0M67.2 246.9h0M67.0 246.2h0M56.6 243.1h0M58.4 241.6h0M56.9 240.6h0M56.6 243.0h0M65.3 213.6h0M41.4 244.1h0M44.1 244.7h0M43.4 245.0h0M72.8 217.0h0M72.1 213.0h0M74.4 215.8h0M21.7 234.6h0M21.5 233.6h0M22.7 231.8h0M22.5 234.3h0M53.8 227.4h0M54.9 225.8h0M52.7 226.5h0M52.5 226.7h0M53.8 227.8h0M53.8 227.4h0M60.8 204.9h0M60.3 204.1h0M61.8 205.3h0M61.4 205.6h0M62.3 204.7h0M60.4 204.1h0M64.6 204.8h0M64.9 204.5h0M84.0 217.0h0M79.3 248.7h0M78.6 248.6h0M80.0 247.5h0M77.8 249.5h0M76.4 247.1h0M77.1 249.8h0M76.4 248.3h0M79.1 247.5h0M67.7 214.6h0M22.7 222.9h0M24.5 223.6h0M23.7 224.1h0M23.5 221.7h0M23.3 222.6h0M26.3 221.8h0M76.9 246.8h0M77.9 247.6h0M81.1 246.0h0M78.1 248.9h0M80.9 247.0h0M79.3 248.0h0M81.4 246.8h0M77.8 248.6h0M54.0 213.1h0M31.8 247.4h0M28.9 244.8h0M32.1 246.5h0M30.8 246.9h0M31.1 245.5h0M29.0 216.4h0M27.4 217.3h0M31.1 216.6h0M30.1 216.1h0M29.6 215.7h0M29.9 216.8h0M72.2 210.5h0M76.2 208.9h0M73.1 211.1h0M71.4 208.9h0M73.5 209.2h0M24.4 207.2h0M28.1 205.7h0M25.6 206.0h0M24.2 207.6h0M25.9 207.9h0M25.5 206.2h0M28.1 206.1h0M26.3 207.9h0M39.6 216.1h0M39.6 216.6h0M40.5 218.9h0M38.9 218.9h0M39.1 219.5h0M51.4 231.4h0M51.5 232.6h0M50.1 230.3h0M51.7 233.4h0M74.5 229.6h0M84.1 221.4h0M80.5 204.0h0M79.1 207.0h0M49.2 199.5h0M37.2 208.1h0M36.3 209.8h0M71.1 240.5h0M70.0 241.3h0M71.6 243.5h0M69.4 241.5h0M72.2 243.8h0M73.6 241.6h0M80.8 228.3h0" stroke="#2b2c7e" stroke-width="2" stroke-linecap="round"/>
<rect x="79.7" y="249.4" width="5" height="1.3" fill="#e8141c"/>
<rect x="92.5" y="197.6" width="66.5" height="54.4" filter="url(#ftw)"/>
<path d="M143.9 250.1h0M133.4 199.1h0M148.9 213.8h0M96.8 240.3h0M135.5 235.7h0M94.9 217.9h0M148.7 217.9h0M104.6 221.4h0M101.1 242.9h0M153.0 227.9h0M147.6 208.3h0M133.9 236.3h0M115.3 203.9h0M141.1 214.6h0M142.2 246.7h0M95.3 201.6h0M126.6 211.2h0M113.9 199.3h0M113.6 227.2h0M134.0 243.9h0M114.7 205.1h0M124.9 242.9h0M100.0 245.1h0M123.9 232.2h0M120.7 241.6h0M113.5 226.3h0M125.6 221.0h0M109.2 223.5h0M102.0 208.9h0M94.0 223.0h0M156.2 207.6h0M156.3 241.1h0M111.6 229.8h0M143.8 209.5h0M146.7 242.0h0M94.9 224.4h0M145.9 232.4h0M149.7 250.3h0M138.4 233.3h0M104.1 246.3h0M151.1 246.0h0M129.0 215.3h0M104.6 221.5h0M104.8 248.0h0M128.3 244.4h0M109.4 230.5h0M155.4 220.1h0M111.8 216.2h0M154.0 221.3h0M97.8 231.3h0M101.4 233.3h0M127.2 204.8h0M125.8 200.2h0M142.8 226.5h0M152.6 200.0h0M147.9 221.3h0M121.7 248.0h0M133.0 242.9h0M153.7 200.9h0M116.1 209.1h0M119.2 212.7h0M153.2 227.5h0M117.9 208.4h0M118.8 215.4h0M100.5 206.8h0M140.3 230.2h0M149.9 249.6h0M105.9 206.9h0M100.9 201.7h0M143.5 206.3h0M144.5 239.0h0M117.4 225.1h0M132.2 227.4h0M132.8 221.3h0M137.3 206.2h0M145.8 222.0h0M137.3 240.9h0M111.9 209.3h0M138.0 220.6h0M133.1 205.2h0M95.9 219.8h0M95.3 247.4h0M111.1 210.7h0M96.3 231.0h0M147.3 235.9h0M142.3 230.6h0M96.3 216.7h0M134.4 199.1h0M111.4 240.6h0M152.4 249.6h0M125.1 205.7h0M125.1 250.7h0M131.8 200.5h0M154.2 242.4h0M116.9 238.8h0M152.6 210.3h0M153.6 228.3h0M149.0 235.7h0M113.8 210.2h0M124.0 247.3h0M143.5 241.8h0M134.0 244.7h0M156.6 202.0h0M142.0 202.1h0M105.7 206.1h0M149.1 220.5h0M113.6 247.5h0M138.3 242.2h0M99.7 221.5h0M129.1 206.0h0M109.3 249.1h0M106.6 248.4h0M121.5 234.5h0M105.5 227.0h0M141.0 211.5h0M113.3 245.8h0M123.1 224.5h0M110.9 244.4h0M149.3 226.2h0M126.9 210.7h0" stroke="#9ba1c9" stroke-width="0.8" stroke-linecap="round"/>
<path d="M123.2 234.1h0M125.9 232.9h0M123.0 231.7h0M124.9 232.1h0M126.2 233.0h0M125.7 232.8h0M123.5 233.9h0M123.1 232.5h0M124.6 242.5h0M127.3 241.4h0M128.2 240.5h0M128.8 242.6h0M127.4 241.1h0M125.8 241.7h0M125.8 243.0h0M127.7 243.0h0M97.1 207.8h0M129.9 223.1h0M132.9 224.1h0M132.2 222.4h0M153.5 243.1h0M154.1 245.2h0M151.6 243.6h0M126.2 200.4h0M125.5 199.9h0M126.3 202.1h0M141.9 210.3h0M111.2 215.1h0M110.4 217.7h0M109.4 217.3h0M112.3 215.8h0M113.2 216.6h0M110.4 216.4h0M111.6 215.6h0M109.5 215.3h0M152.3 240.4h0M98.2 231.0h0M97.8 231.2h0M96.9 228.9h0M132.8 210.8h0M133.4 212.3h0M132.6 211.5h0M132.7 211.4h0M136.1 211.2h0M148.6 231.0h0M148.6 233.2h0M148.0 230.3h0M150.5 233.7h0M120.0 211.5h0M118.7 210.5h0M121.9 210.9h0M96.3 221.2h0M129.8 215.8h0M132.0 218.5h0M131.1 217.2h0M94.0 202.2h0M95.6 203.2h0M95.3 203.7h0M151.5 234.7h0M154.0 236.4h0M152.6 233.0h0M154.9 235.2h0M154.8 235.3h0M136.9 234.3h0M136.3 234.3h0M115.9 199.3h0M119.0 201.1h0M114.8 201.0h0M118.2 201.1h0M154.9 216.7h0M154.4 217.8h0M149.5 216.5h0M152.2 215.1h0M149.2 216.7h0M152.1 215.2h0M149.3 215.6h0M119.9 234.0h0M117.7 233.2h0M119.1 233.5h0M119.4 231.6h0M118.3 233.1h0M116.8 234.1h0M120.3 235.0h0M117.6 234.4h0M118.0 232.8h0M121.1 230.6h0M100.1 230.8h0M100.1 233.1h0M101.7 233.6h0M100.7 233.1h0M100.0 233.3h0M102.4 233.0h0M101.8 234.4h0M101.2 232.0h0M149.6 243.9h0M147.5 242.0h0M146.3 246.2h0M141.6 243.7h0M142.2 244.3h0M141.4 242.2h0M142.1 244.4h0M140.7 245.4h0M131.4 204.2h0M132.7 204.3h0M133.7 205.2h0M131.2 204.3h0M131.1 205.9h0M134.1 202.4h0M134.9 204.6h0M133.6 204.3h0M142.2 217.9h0M120.6 220.4h0M122.4 219.2h0M121.3 221.4h0M121.9 217.9h0M121.5 219.8h0M120.3 218.3h0M152.8 234.2h0M154.0 236.7h0M154.4 235.8h0M153.4 238.5h0M151.1 237.3h0M152.3 237.5h0M154.5 237.4h0M155.3 235.8h0M143.3 247.9h0M141.7 247.3h0M142.5 248.3h0M102.7 219.7h0M100.8 222.7h0M103.4 219.7h0M123.4 207.6h0M126.2 209.5h0M124.6 210.7h0M125.9 207.4h0M123.5 209.4h0M123.4 210.9h0M102.3 230.8h0M99.8 228.3h0M100.4 230.2h0M99.8 231.1h0M116.8 225.7h0M116.8 223.5h0M113.4 223.7h0M115.5 224.2h0M114.9 249.8h0M114.9 249.6h0M117.4 250.1h0M135.5 233.7h0M134.2 232.7h0M132.9 232.1h0M133.5 232.7h0M135.5 231.3h0M132.6 230.8h0M125.7 231.9h0M124.0 233.6h0M126.7 233.9h0M124.2 234.9h0M124.3 234.6h0M124.1 231.5h0M130.2 208.5h0M131.5 208.4h0M130.3 209.1h0M100.1 241.9h0M102.5 242.6h0M102.4 240.8h0M128.6 210.3h0M128.4 212.9h0M128.1 211.5h0M127.6 212.6h0M125.9 211.7h0M126.2 224.2h0M124.7 226.0h0M123.5 225.9h0M124.5 226.2h0M126.7 225.0h0M122.9 225.0h0M152.9 227.5h0M150.2 227.8h0M150.7 227.9h0M150.5 226.3h0M150.5 228.6h0M109.4 225.3h0M110.6 223.6h0M110.8 224.4h0M112.1 203.2h0M145.4 202.2h0M129.1 207.9h0M126.1 209.2h0M127.4 209.8h0M138.6 236.6h0M138.7 236.3h0M103.8 201.0h0M103.4 199.0h0M104.3 200.3h0M103.8 202.0h0M106.7 200.1h0M129.5 206.1h0M129.2 238.9h0M130.6 238.9h0M142.4 250.7h0M139.5 248.7h0M143.2 249.1h0M139.6 248.9h0M140.4 248.9h0M144.6 206.0h0M145.8 205.5h0M154.6 242.3h0M157.6 242.6h0M156.0 241.8h0M156.7 243.3h0M154.3 243.1h0M156.0 242.9h0M155.3 240.9h0M103.4 241.2h0M105.8 244.0h0M105.3 243.8h0M103.7 242.2h0M104.8 244.7h0M102.2 242.9h0M102.3 202.3h0M103.0 203.2h0M105.8 203.3h0M104.8 203.0h0M109.3 227.1h0M111.4 228.8h0M130.4 245.0h0M128.4 246.6h0M129.3 245.6h0M129.4 247.8h0M129.6 245.6h0M97.8 245.9h0M119.6 227.8h0M147.5 226.7h0M99.7 207.6h0M99.2 207.1h0M99.4 207.9h0M152.2 213.8h0M151.6 214.1h0M150.5 210.3h0M121.1 250.5h0M114.5 247.5h0M114.8 247.6h0M115.0 249.7h0M113.6 245.5h0M151.8 219.6h0M154.3 217.8h0M151.5 218.6h0M154.7 219.1h0M150.5 219.8h0M153.6 219.0h0M153.5 219.3h0M150.4 219.3h0M142.1 249.5h0M100.6 216.0h0M98.0 217.0h0M98.4 216.6h0M120.9 212.7h0" stroke="#5559a4" stroke-width="2.8" stroke-linecap="round" stroke-opacity="0.4"/>
<path d="M123.2 234.1h0M125.9 232.9h0M123.0 231.7h0M124.9 232.1h0M126.2 233.0h0M125.7 232.8h0M123.5 233.9h0M123.1 232.5h0M124.6 242.5h0M127.3 241.4h0M128.2 240.5h0M128.8 242.6h0M127.4 241.1h0M125.8 241.7h0M125.8 243.0h0M127.7 243.0h0M97.1 207.8h0M129.9 223.1h0M132.9 224.1h0M132.2 222.4h0M153.5 243.1h0M154.1 245.2h0M151.6 243.6h0M126.2 200.4h0M125.5 199.9h0M126.3 202.1h0M141.9 210.3h0M111.2 215.1h0M110.4 217.7h0M109.4 217.3h0M112.3 215.8h0M113.2 216.6h0M110.4 216.4h0M111.6 215.6h0M109.5 215.3h0M152.3 240.4h0M98.2 231.0h0M97.8 231.2h0M96.9 228.9h0M132.8 210.8h0M133.4 212.3h0M132.6 211.5h0M132.7 211.4h0M136.1 211.2h0M148.6 231.0h0M148.6 233.2h0M148.0 230.3h0M150.5 233.7h0M120.0 211.5h0M118.7 210.5h0M121.9 210.9h0M96.3 221.2h0M129.8 215.8h0M132.0 218.5h0M131.1 217.2h0M94.0 202.2h0M95.6 203.2h0M95.3 203.7h0M151.5 234.7h0M154.0 236.4h0M152.6 233.0h0M154.9 235.2h0M154.8 235.3h0M136.9 234.3h0M136.3 234.3h0M115.9 199.3h0M119.0 201.1h0M114.8 201.0h0M118.2 201.1h0M154.9 216.7h0M154.4 217.8h0M149.5 216.5h0M152.2 215.1h0M149.2 216.7h0M152.1 215.2h0M149.3 215.6h0M119.9 234.0h0M117.7 233.2h0M119.1 233.5h0M119.4 231.6h0M118.3 233.1h0M116.8 234.1h0M120.3 235.0h0M117.6 234.4h0M118.0 232.8h0M121.1 230.6h0M100.1 230.8h0M100.1 233.1h0M101.7 233.6h0M100.7 233.1h0M100.0 233.3h0M102.4 233.0h0M101.8 234.4h0M101.2 232.0h0M149.6 243.9h0M147.5 242.0h0M146.3 246.2h0M141.6 243.7h0M142.2 244.3h0M141.4 242.2h0M142.1 244.4h0M140.7 245.4h0M131.4 204.2h0M132.7 204.3h0M133.7 205.2h0M131.2 204.3h0M131.1 205.9h0M134.1 202.4h0M134.9 204.6h0M133.6 204.3h0M142.2 217.9h0M120.6 220.4h0M122.4 219.2h0M121.3 221.4h0M121.9 217.9h0M121.5 219.8h0M120.3 218.3h0M152.8 234.2h0M154.0 236.7h0M154.4 235.8h0M153.4 238.5h0M151.1 237.3h0M152.3 237.5h0M154.5 237.4h0M155.3 235.8h0M143.3 247.9h0M141.7 247.3h0M142.5 248.3h0M102.7 219.7h0M100.8 222.7h0M103.4 219.7h0M123.4 207.6h0M126.2 209.5h0M124.6 210.7h0M125.9 207.4h0M123.5 209.4h0M123.4 210.9h0M102.3 230.8h0M99.8 228.3h0M100.4 230.2h0M99.8 231.1h0M116.8 225.7h0M116.8 223.5h0M113.4 223.7h0M115.5 224.2h0M114.9 249.8h0M114.9 249.6h0M117.4 250.1h0M135.5 233.7h0M134.2 232.7h0M132.9 232.1h0M133.5 232.7h0M135.5 231.3h0M132.6 230.8h0M125.7 231.9h0M124.0 233.6h0M126.7 233.9h0M124.2 234.9h0M124.3 234.6h0M124.1 231.5h0M130.2 208.5h0M131.5 208.4h0M130.3 209.1h0M100.1 241.9h0M102.5 242.6h0M102.4 240.8h0M128.6 210.3h0M128.4 212.9h0M128.1 211.5h0M127.6 212.6h0M125.9 211.7h0M126.2 224.2h0M124.7 226.0h0M123.5 225.9h0M124.5 226.2h0M126.7 225.0h0M122.9 225.0h0M152.9 227.5h0M150.2 227.8h0M150.7 227.9h0M150.5 226.3h0M150.5 228.6h0M109.4 225.3h0M110.6 223.6h0M110.8 224.4h0M112.1 203.2h0M145.4 202.2h0M129.1 207.9h0M126.1 209.2h0M127.4 209.8h0M138.6 236.6h0M138.7 236.3h0M103.8 201.0h0M103.4 199.0h0M104.3 200.3h0M103.8 202.0h0M106.7 200.1h0M129.5 206.1h0M129.2 238.9h0M130.6 238.9h0M142.4 250.7h0M139.5 248.7h0M143.2 249.1h0M139.6 248.9h0M140.4 248.9h0M144.6 206.0h0M145.8 205.5h0M154.6 242.3h0M157.6 242.6h0M156.0 241.8h0M156.7 243.3h0M154.3 243.1h0M156.0 242.9h0M155.3 240.9h0M103.4 241.2h0M105.8 244.0h0M105.3 243.8h0M103.7 242.2h0M104.8 244.7h0M102.2 242.9h0M102.3 202.3h0M103.0 203.2h0M105.8 203.3h0M104.8 203.0h0M109.3 227.1h0M111.4 228.8h0M130.4 245.0h0M128.4 246.6h0M129.3 245.6h0M129.4 247.8h0M129.6 245.6h0M97.8 245.9h0M119.6 227.8h0M147.5 226.7h0M99.7 207.6h0M99.2 207.1h0M99.4 207.9h0M152.2 213.8h0M151.6 214.1h0M150.5 210.3h0M121.1 250.5h0M114.5 247.5h0M114.8 247.6h0M115.0 249.7h0M113.6 245.5h0M151.8 219.6h0M154.3 217.8h0M151.5 218.6h0M154.7 219.1h0M150.5 219.8h0M153.6 219.0h0M153.5 219.3h0M150.4 219.3h0M142.1 249.5h0M100.6 216.0h0M98.0 217.0h0M98.4 216.6h0M120.9 212.7h0" stroke="#2b2c7e" stroke-width="2" stroke-linecap="round"/>
<rect x="152.5" y="249.4" width="5" height="1.3" fill="#e8141c"/>
<rect x="166.2" y="197.4" width="65.7" height="54.5" filter="url(#ftw)"/>
<path d="M211.8 240.3h0M221.5 206.5h0M170.6 231.0h0M200.2 225.8h0M217.0 207.5h0M212.2 220.8h0M194.1 211.2h0M185.1 228.8h0M202.5 246.0h0M185.0 236.0h0M173.4 232.6h0M177.4 243.4h0M228.7 211.8h0M218.7 209.9h0M186.7 203.8h0M195.3 203.9h0M212.1 228.6h0M194.0 235.7h0M182.1 215.8h0M190.4 198.5h0M223.7 203.0h0M173.6 240.3h0M219.3 221.9h0M194.0 205.7h0M167.3 225.7h0M182.7 206.3h0M224.9 199.4h0M190.3 237.9h0M214.8 204.0h0M214.5 228.0h0M207.3 247.9h0M218.1 229.9h0M216.2 224.2h0M202.3 241.3h0M206.7 218.2h0M168.5 239.9h0M188.9 220.9h0M185.5 227.6h0M192.7 242.2h0M205.0 227.7h0M217.1 221.5h0M201.4 237.8h0M213.2 237.4h0M224.0 227.7h0M202.6 208.3h0M182.6 221.2h0M199.0 245.6h0M169.9 216.8h0M214.3 222.5h0M221.2 206.8h0M216.3 221.0h0M203.4 201.4h0M192.9 240.5h0M214.0 228.0h0M194.1 200.4h0M211.7 221.8h0M213.3 230.5h0M192.8 244.3h0M175.6 248.8h0M172.7 249.3h0M204.6 221.9h0M226.8 225.3h0M199.6 201.5h0M218.0 232.0h0M182.5 204.4h0M194.0 247.5h0M222.7 222.8h0M169.5 241.9h0M180.1 236.8h0M199.0 249.0h0M176.6 240.1h0M213.1 199.3h0M203.2 213.9h0M211.5 248.9h0M209.6 224.3h0M205.7 211.5h0M197.0 204.5h0M213.1 201.9h0M200.8 207.8h0M203.1 201.4h0M168.9 231.2h0M213.0 245.0h0M210.3 250.7h0M176.3 231.4h0M207.7 207.6h0M176.1 211.0h0M200.5 239.7h0M212.5 228.4h0M172.1 236.3h0M199.8 207.3h0M206.6 211.3h0M186.9 222.1h0M215.1 204.0h0M195.4 210.7h0M209.9 241.2h0M184.0 236.2h0M196.8 209.8h0M184.8 226.6h0M218.6 230.0h0M167.2 239.4h0M204.2 220.6h0M182.6 221.5h0M211.3 212.6h0M176.0 244.5h0M195.4 202.1h0M223.9 204.1h0M190.4 230.9h0M209.5 245.6h0M178.4 228.3h0M223.2 222.9h0M212.7 222.9h0M212.8 248.7h0M188.8 237.1h0M189.2 245.0h0M215.9 243.4h0M222.9 229.7h0M227.7 206.6h0M203.8 202.3h0M204.3 234.5h0" stroke="#9ba1c9" stroke-width="0.8" stroke-linecap="round"/>
<path d="M184.6 232.2h0M182.6 232.7h0M185.3 232.9h0M184.1 234.8h0M185.1 232.6h0M184.8 234.4h0M182.8 232.1h0M186.2 234.2h0M173.9 238.1h0M175.1 239.3h0M185.2 241.8h0M185.8 242.6h0M185.3 241.6h0M182.8 241.7h0M204.3 230.0h0M205.0 230.7h0M210.2 221.7h0M188.7 217.1h0M191.2 219.2h0M182.1 210.1h0M180.5 211.7h0M198.2 200.4h0M179.3 218.8h0M178.3 222.2h0M191.1 235.9h0M184.6 225.0h0M184.4 224.9h0M181.5 224.0h0M183.3 226.4h0M180.2 223.7h0M183.3 225.8h0M205.1 240.6h0M208.2 226.0h0M185.7 210.5h0M184.1 212.4h0M188.0 213.0h0M187.6 214.1h0M184.2 212.2h0M186.7 213.7h0M217.9 218.2h0M209.5 243.3h0M211.0 241.0h0M196.1 232.3h0M196.4 233.0h0M194.4 231.9h0M218.0 208.5h0M218.1 209.2h0M217.3 208.3h0M217.8 209.0h0M177.0 215.0h0M178.4 215.7h0M175.1 215.5h0M177.9 214.7h0M176.4 214.5h0M177.8 213.4h0M223.8 227.0h0M225.1 234.1h0M190.5 240.6h0M189.9 239.3h0M215.3 237.5h0M218.4 236.5h0M174.9 204.4h0M174.0 206.4h0M173.5 205.5h0M173.0 207.4h0M174.9 206.1h0M200.6 212.8h0M194.0 229.8h0M194.3 230.2h0M193.3 233.2h0M193.0 231.2h0M194.7 229.5h0M194.7 231.0h0M194.2 232.3h0M195.5 230.5h0M222.5 244.8h0M221.7 241.6h0M222.3 244.5h0M227.4 220.7h0M230.4 223.1h0M226.1 222.9h0M175.4 199.0h0M198.9 225.8h0M210.8 221.2h0M209.9 222.6h0M208.8 221.4h0M206.0 220.9h0M208.4 222.6h0M203.9 211.3h0M207.8 209.9h0M204.7 209.9h0M203.3 211.0h0M206.0 213.0h0M168.3 217.9h0M219.0 232.5h0M219.9 234.9h0M213.3 229.7h0M215.0 199.0h0M212.4 199.4h0M215.5 199.4h0M228.4 217.0h0M226.7 217.8h0M227.8 214.0h0M226.8 218.4h0M229.8 216.6h0M226.2 217.3h0M228.1 215.9h0M227.6 216.4h0M201.9 250.0h0M180.9 207.0h0M171.0 221.4h0" stroke="#5559a4" stroke-width="2.8" stroke-linecap="round" stroke-opacity="0.4"/>
<path d="M184.6 232.2h0M182.6 232.7h0M185.3 232.9h0M184.1 234.8h0M185.1 232.6h0M184.8 234.4h0M182.8 232.1h0M186.2 234.2h0M173.9 238.1h0M175.1 239.3h0M185.2 241.8h0M185.8 242.6h0M185.3 241.6h0M182.8 241.7h0M204.3 230.0h0M205.0 230.7h0M210.2 221.7h0M188.7 217.1h0M191.2 219.2h0M182.1 210.1h0M180.5 211.7h0M198.2 200.4h0M179.3 218.8h0M178.3 222.2h0M191.1 235.9h0M184.6 225.0h0M184.4 224.9h0M181.5 224.0h0M183.3 226.4h0M180.2 223.7h0M183.3 225.8h0M205.1 240.6h0M208.2 226.0h0M185.7 210.5h0M184.1 212.4h0M188.0 213.0h0M187.6 214.1h0M184.2 212.2h0M186.7 213.7h0M217.9 218.2h0M209.5 243.3h0M211.0 241.0h0M196.1 232.3h0M196.4 233.0h0M194.4 231.9h0M218.0 208.5h0M218.1 209.2h0M217.3 208.3h0M217.8 209.0h0M177.0 215.0h0M178.4 215.7h0M175.1 215.5h0M177.9 214.7h0M176.4 214.5h0M177.8 213.4h0M223.8 227.0h0M225.1 234.1h0M190.5 240.6h0M189.9 239.3h0M215.3 237.5h0M218.4 236.5h0M174.9 204.4h0M174.0 206.4h0M173.5 205.5h0M173.0 207.4h0M174.9 206.1h0M200.6 212.8h0M194.0 229.8h0M194.3 230.2h0M193.3 233.2h0M193.0 231.2h0M194.7 229.5h0M194.7 231.0h0M194.2 232.3h0M195.5 230.5h0M222.5 244.8h0M221.7 241.6h0M222.3 244.5h0M227.4 220.7h0M230.4 223.1h0M226.1 222.9h0M175.4 199.0h0M198.9 225.8h0M210.8 221.2h0M209.9 222.6h0M208.8 221.4h0M206.0 220.9h0M208.4 222.6h0M203.9 211.3h0M207.8 209.9h0M204.7 209.9h0M203.3 211.0h0M206.0 213.0h0M168.3 217.9h0M219.0 232.5h0M219.9 234.9h0M213.3 229.7h0M215.0 199.0h0M212.4 199.4h0M215.5 199.4h0M228.4 217.0h0M226.7 217.8h0M227.8 214.0h0M226.8 218.4h0M229.8 216.6h0M226.2 217.3h0M228.1 215.9h0M227.6 216.4h0M201.9 250.0h0M180.9 207.0h0M171.0 221.4h0" stroke="#2b2c7e" stroke-width="2" stroke-linecap="round"/>
<rect x="225.4" y="249.3" width="5" height="1.3" fill="#e8141c"/>
<rect x="20.5" y="259" width="66.7" height="54" filter="url(#ftw)"/>
<path d="M75.0 280.5h0M40.6 300.0h0M50.9 298.1h0M86.1 288.9h0M50.5 269.7h0M79.6 305.7h0M40.1 310.4h0M54.2 261.8h0M71.1 310.0h0M32.6 309.1h0M81.2 304.8h0M59.7 310.9h0M74.3 288.6h0M52.8 270.8h0M32.4 305.3h0M24.0 305.3h0M29.6 261.4h0M73.8 281.4h0M58.7 268.8h0M53.5 268.7h0M60.3 276.3h0M70.3 268.4h0M79.5 273.7h0M38.6 286.6h0M35.9 303.9h0M70.8 273.2h0M55.0 294.3h0M54.1 262.0h0M49.9 304.1h0M39.8 291.1h0M67.0 311.2h0M64.4 307.3h0M73.6 285.5h0M63.3 303.9h0M68.1 270.2h0M45.6 306.7h0M82.1 260.6h0M42.3 280.9h0M59.8 275.3h0M49.5 304.9h0M21.9 280.3h0M25.4 272.6h0M57.0 311.1h0M58.8 274.1h0M31.0 266.4h0M65.0 288.7h0M42.4 272.2h0M40.6 307.8h0M31.8 281.6h0M71.7 288.3h0M50.8 275.2h0M78.7 289.8h0M64.1 289.9h0M56.9 305.7h0M25.7 261.5h0M72.5 277.6h0M68.1 262.6h0M28.5 298.8h0M74.2 288.1h0M59.4 306.4h0M48.3 290.3h0M75.2 294.1h0M24.5 306.7h0M64.8 278.8h0M37.1 308.5h0M62.3 306.6h0M37.3 296.7h0M58.3 277.7h0M59.7 285.1h0M58.3 262.5h0M84.3 280.2h0M47.4 307.7h0M79.0 298.0h0M29.2 280.7h0M50.7 261.1h0M44.7 299.1h0M55.8 303.0h0M68.8 267.1h0M85.8 276.6h0M48.6 287.0h0M23.1 309.3h0M39.7 261.6h0M34.8 310.6h0M27.9 299.1h0M36.1 299.8h0M29.0 292.5h0M36.5 292.3h0M69.5 296.1h0M59.2 307.4h0M49.9 284.2h0M63.6 266.1h0M69.0 277.7h0M21.5 289.0h0M22.1 296.5h0M24.6 279.6h0M33.1 297.3h0M81.0 304.7h0M74.0 298.0h0M46.6 300.2h0M37.9 268.7h0M75.7 278.6h0M83.7 301.9h0M81.1 266.2h0M52.3 306.6h0M69.2 287.6h0M56.7 263.2h0M76.2 282.7h0M80.2 277.9h0M42.7 308.5h0M35.5 305.0h0M57.3 311.6h0M78.0 275.1h0M58.8 308.8h0M71.7 265.6h0M45.4 295.7h0M84.3 264.6h0M73.5 296.1h0M26.8 295.8h0M74.8 301.9h0M27.4 272.8h0" stroke="#9ba1c9" stroke-width="0.8" stroke-linecap="round"/>
<path d="M27.4 296.2h0M28.5 295.2h0M30.2 297.1h0M26.3 296.9h0M26.7 297.8h0M28.4 298.6h0M27.7 298.3h0M27.3 297.8h0M54.3 267.8h0M54.4 267.9h0M54.5 269.2h0M55.6 270.8h0M52.8 269.9h0M53.0 269.3h0M56.4 267.2h0M56.4 269.7h0M62.4 269.6h0M65.4 276.3h0M64.1 274.2h0M65.2 273.6h0M64.8 274.6h0M64.8 273.4h0M64.1 274.1h0M51.5 296.4h0M51.0 295.9h0M53.2 294.5h0M51.2 296.5h0M51.2 294.4h0M58.0 285.3h0M57.6 283.3h0M47.7 279.3h0M47.8 279.5h0M50.8 278.6h0M49.2 277.5h0M49.9 278.8h0M49.0 278.2h0M55.2 287.1h0M56.5 286.6h0M55.6 287.1h0M51.9 268.3h0M53.3 271.6h0M45.3 287.1h0M46.6 290.7h0M46.0 290.7h0M45.5 290.6h0M43.1 288.4h0M42.9 289.3h0M22.3 293.6h0M23.8 294.1h0M24.5 295.2h0M32.5 275.2h0M31.6 273.8h0M30.3 271.9h0M29.3 274.4h0M27.6 301.9h0M37.1 291.4h0M34.1 292.4h0M35.5 291.9h0M33.5 294.0h0M35.7 294.1h0M34.3 295.3h0M34.7 292.1h0M37.1 291.5h0M26.2 303.5h0M81.2 264.6h0M80.0 265.0h0M83.2 263.8h0M81.9 262.2h0M80.1 263.6h0M82.8 263.6h0M80.6 262.1h0M84.1 263.8h0M38.8 309.9h0M24.4 265.5h0M25.5 267.0h0M24.6 266.0h0M24.2 267.0h0M21.8 268.0h0M24.1 265.9h0M67.7 309.7h0M63.9 311.4h0M85.0 301.4h0M50.9 294.3h0M63.4 294.2h0M66.4 294.0h0M65.3 291.7h0M51.3 270.7h0M67.7 277.7h0M72.1 278.8h0M67.8 278.7h0M70.9 276.7h0M41.3 262.8h0M51.9 291.2h0M54.7 294.7h0M53.5 294.9h0M84.2 306.3h0M60.6 280.5h0M59.6 277.3h0M58.0 278.0h0M29.4 263.3h0M29.1 261.6h0M75.9 273.5h0M75.6 272.4h0M78.3 271.8h0M74.3 295.5h0M72.8 295.9h0M71.6 296.0h0M72.4 297.7h0M75.4 298.1h0M62.0 303.0h0M78.4 289.8h0M75.9 290.5h0M48.4 262.2h0M47.9 264.8h0M47.1 262.8h0M44.3 263.8h0M47.8 264.4h0M45.1 263.3h0M46.5 261.9h0M47.1 265.3h0M44.5 296.4h0M32.0 308.7h0M35.0 308.3h0M47.6 299.1h0M49.3 300.7h0M49.4 300.6h0M50.6 299.4h0M49.8 301.5h0M35.9 272.0h0M35.6 273.1h0M70.2 261.7h0M72.6 261.8h0M73.7 302.3h0M61.3 274.7h0M64.8 275.0h0M60.4 274.9h0M60.9 272.6h0M80.0 307.5h0M83.4 307.6h0M80.3 309.3h0M79.3 307.9h0M81.0 310.0h0M76.9 264.0h0M75.5 266.2h0M73.8 264.5h0M76.9 263.3h0M74.2 264.8h0M75.6 265.8h0M75.0 265.5h0M73.4 263.0h0M68.8 283.5h0M67.7 286.7h0M67.0 285.4h0M46.6 279.1h0M31.6 301.6h0M29.9 304.5h0M31.2 302.7h0M31.7 301.2h0M27.6 301.0h0M29.8 302.6h0M28.9 304.4h0M31.0 302.5h0M54.4 270.9h0M84.8 260.6h0M60.9 281.6h0M60.4 281.8h0M61.0 281.5h0M25.9 281.2h0M28.9 283.3h0M29.8 282.6h0M28.5 283.9h0M27.3 281.5h0M27.6 283.6h0M83.9 283.4h0M82.8 283.1h0M73.1 285.8h0M73.5 286.6h0M52.1 269.4h0M55.8 268.6h0M51.8 270.4h0M55.1 269.6h0M55.4 269.5h0M54.0 269.6h0M22.9 263.5h0M31.1 278.5h0M33.3 278.6h0M33.9 279.0h0M30.7 277.2h0M75.0 274.4h0M74.7 274.1h0M78.3 275.7h0M82.8 272.3h0M84.6 272.0h0M82.1 274.9h0M85.2 273.9h0M83.7 275.0h0M83.6 273.6h0M53.0 283.8h0M40.6 288.6h0M80.3 276.2h0M78.8 276.4h0M83.2 276.1h0M82.3 275.5h0M80.2 277.8h0M81.8 277.1h0M79.7 274.9h0M81.6 277.0h0M52.7 302.8h0M52.0 305.7h0M40.4 265.4h0M42.1 267.7h0M43.2 264.5h0M43.8 264.5h0M41.5 263.5h0M69.1 303.5h0M67.9 305.3h0M70.0 305.5h0" stroke="#5559a4" stroke-width="2.8" stroke-linecap="round" stroke-opacity="0.4"/>
<path d="M27.4 296.2h0M28.5 295.2h0M30.2 297.1h0M26.3 296.9h0M26.7 297.8h0M28.4 298.6h0M27.7 298.3h0M27.3 297.8h0M54.3 267.8h0M54.4 267.9h0M54.5 269.2h0M55.6 270.8h0M52.8 269.9h0M53.0 269.3h0M56.4 267.2h0M56.4 269.7h0M62.4 269.6h0M65.4 276.3h0M64.1 274.2h0M65.2 273.6h0M64.8 274.6h0M64.8 273.4h0M64.1 274.1h0M51.5 296.4h0M51.0 295.9h0M53.2 294.5h0M51.2 296.5h0M51.2 294.4h0M58.0 285.3h0M57.6 283.3h0M47.7 279.3h0M47.8 279.5h0M50.8 278.6h0M49.2 277.5h0M49.9 278.8h0M49.0 278.2h0M55.2 287.1h0M56.5 286.6h0M55.6 287.1h0M51.9 268.3h0M53.3 271.6h0M45.3 287.1h0M46.6 290.7h0M46.0 290.7h0M45.5 290.6h0M43.1 288.4h0M42.9 289.3h0M22.3 293.6h0M23.8 294.1h0M24.5 295.2h0M32.5 275.2h0M31.6 273.8h0M30.3 271.9h0M29.3 274.4h0M27.6 301.9h0M37.1 291.4h0M34.1 292.4h0M35.5 291.9h0M33.5 294.0h0M35.7 294.1h0M34.3 295.3h0M34.7 292.1h0M37.1 291.5h0M26.2 303.5h0M81.2 264.6h0M80.0 265.0h0M83.2 263.8h0M81.9 262.2h0M80.1 263.6h0M82.8 263.6h0M80.6 262.1h0M84.1 263.8h0M38.8 309.9h0M24.4 265.5h0M25.5 267.0h0M24.6 266.0h0M24.2 267.0h0M21.8 268.0h0M24.1 265.9h0M67.7 309.7h0M63.9 311.4h0M85.0 301.4h0M50.9 294.3h0M63.4 294.2h0M66.4 294.0h0M65.3 291.7h0M51.3 270.7h0M67.7 277.7h0M72.1 278.8h0M67.8 278.7h0M70.9 276.7h0M41.3 262.8h0M51.9 291.2h0M54.7 294.7h0M53.5 294.9h0M84.2 306.3h0M60.6 280.5h0M59.6 277.3h0M58.0 278.0h0M29.4 263.3h0M29.1 261.6h0M75.9 273.5h0M75.6 272.4h0M78.3 271.8h0M74.3 295.5h0M72.8 295.9h0M71.6 296.0h0M72.4 297.7h0M75.4 298.1h0M62.0 303.0h0M78.4 289.8h0M75.9 290.5h0M48.4 262.2h0M47.9 264.8h0M47.1 262.8h0M44.3 263.8h0M47.8 264.4h0M45.1 263.3h0M46.5 261.9h0M47.1 265.3h0M44.5 296.4h0M32.0 308.7h0M35.0 308.3h0M47.6 299.1h0M49.3 300.7h0M49.4 300.6h0M50.6 299.4h0M49.8 301.5h0M35.9 272.0h0M35.6 273.1h0M70.2 261.7h0M72.6 261.8h0M73.7 302.3h0M61.3 274.7h0M64.8 275.0h0M60.4 274.9h0M60.9 272.6h0M80.0 307.5h0M83.4 307.6h0M80.3 309.3h0M79.3 307.9h0M81.0 310.0h0M76.9 264.0h0M75.5 266.2h0M73.8 264.5h0M76.9 263.3h0M74.2 264.8h0M75.6 265.8h0M75.0 265.5h0M73.4 263.0h0M68.8 283.5h0M67.7 286.7h0M67.0 285.4h0M46.6 279.1h0M31.6 301.6h0M29.9 304.5h0M31.2 302.7h0M31.7 301.2h0M27.6 301.0h0M29.8 302.6h0M28.9 304.4h0M31.0 302.5h0M54.4 270.9h0M84.8 260.6h0M60.9 281.6h0M60.4 281.8h0M61.0 281.5h0M25.9 281.2h0M28.9 283.3h0M29.8 282.6h0M28.5 283.9h0M27.3 281.5h0M27.6 283.6h0M83.9 283.4h0M82.8 283.1h0M73.1 285.8h0M73.5 286.6h0M52.1 269.4h0M55.8 268.6h0M51.8 270.4h0M55.1 269.6h0M55.4 269.5h0M54.0 269.6h0M22.9 263.5h0M31.1 278.5h0M33.3 278.6h0M33.9 279.0h0M30.7 277.2h0M75.0 274.4h0M74.7 274.1h0M78.3 275.7h0M82.8 272.3h0M84.6 272.0h0M82.1 274.9h0M85.2 273.9h0M83.7 275.0h0M83.6 273.6h0M53.0 283.8h0M40.6 288.6h0M80.3 276.2h0M78.8 276.4h0M83.2 276.1h0M82.3 275.5h0M80.2 277.8h0M81.8 277.1h0M79.7 274.9h0M81.6 277.0h0M52.7 302.8h0M52.0 305.7h0M40.4 265.4h0M42.1 267.7h0M43.2 264.5h0M43.8 264.5h0M41.5 263.5h0M69.1 303.5h0M67.9 305.3h0M70.0 305.5h0" stroke="#2b2c7e" stroke-width="2" stroke-linecap="round"/>
<rect x="80.7" y="310.4" width="5" height="1.3" fill="#e8141c"/>
<rect x="93.3" y="259" width="67" height="54" filter="url(#ftw)"/>
<path d="M149.7 272.4h0M112.3 290.1h0M105.6 293.6h0M154.3 276.6h0M105.4 305.7h0M97.8 304.3h0M121.6 301.5h0M118.7 309.9h0M137.0 291.0h0M99.1 290.2h0M109.7 296.9h0M115.0 271.9h0M103.4 273.2h0M102.4 274.5h0M129.2 304.6h0M144.8 278.8h0M154.4 278.3h0M122.0 288.4h0M133.2 285.6h0M137.4 270.3h0M108.1 277.5h0M122.9 273.2h0M131.2 263.8h0M121.8 283.8h0M133.6 267.4h0M136.9 284.0h0M154.4 267.2h0M120.4 300.7h0M155.1 302.1h0M152.1 282.8h0M109.0 273.4h0M135.6 294.5h0M121.9 269.9h0M151.2 276.9h0M109.9 303.3h0M144.8 294.9h0M146.0 292.3h0M134.7 280.3h0M105.6 308.4h0M101.3 300.2h0M114.9 299.0h0M152.7 300.7h0M95.8 305.4h0M109.3 273.8h0M158.4 303.8h0M104.7 304.2h0M111.1 292.6h0M147.3 263.7h0M106.2 266.6h0M103.6 307.1h0M96.3 276.5h0M149.5 261.1h0M124.1 303.3h0M153.8 302.8h0M97.8 262.1h0M142.5 283.9h0M126.1 295.3h0M146.6 274.4h0M156.7 275.5h0M150.9 264.1h0M96.7 291.2h0M143.0 293.1h0M98.5 308.4h0M154.3 307.0h0M140.1 260.3h0M123.1 269.7h0M109.2 284.9h0M149.9 293.5h0M157.9 278.3h0M100.3 301.6h0M151.6 286.3h0M109.4 293.3h0M110.8 280.8h0M132.7 297.6h0M142.3 265.2h0M120.3 286.6h0M114.5 263.5h0M111.3 282.7h0M135.4 311.0h0M107.6 289.5h0M107.9 266.9h0M112.7 282.0h0M149.3 276.2h0M155.9 300.7h0M120.3 305.6h0M112.0 260.9h0M124.1 292.3h0M138.9 260.8h0M95.2 295.6h0M154.3 285.5h0M144.2 269.1h0M103.6 284.2h0M156.8 266.0h0M128.9 295.7h0M95.8 302.0h0M106.9 303.2h0M133.3 262.7h0M108.0 282.1h0M98.0 298.4h0M121.9 266.8h0M108.4 295.5h0M122.4 287.3h0M107.1 274.4h0M109.6 283.1h0M103.3 261.4h0M156.2 310.4h0M96.8 306.4h0M113.5 287.8h0M127.7 264.1h0M116.5 282.2h0M130.0 288.3h0M118.0 286.9h0M102.0 296.5h0M132.6 269.7h0M124.0 286.2h0M126.4 271.9h0M125.9 289.0h0M158.4 304.9h0M144.1 278.6h0M128.0 276.9h0" stroke="#9ba1c9" stroke-width="0.8" stroke-linecap="round"/>
<path d="M156.8 260.9h0M97.0 307.1h0M95.1 306.1h0M96.8 305.1h0M94.8 306.5h0M94.9 307.4h0M147.3 284.9h0M146.5 284.5h0M147.7 284.3h0M150.4 283.7h0M126.2 308.9h0M134.1 300.6h0M151.7 265.4h0M139.8 308.6h0M142.4 309.7h0M118.4 274.0h0M116.0 273.4h0M149.8 300.6h0M149.0 300.6h0M148.7 308.0h0M152.2 308.8h0M153.0 286.7h0M149.2 285.2h0M151.1 284.1h0M150.3 284.8h0M151.0 286.0h0M115.5 293.9h0M117.4 293.1h0M114.2 294.2h0M98.7 282.6h0M95.7 283.6h0M95.6 282.4h0M109.1 310.1h0M112.2 311.0h0M109.1 307.9h0M156.5 310.0h0M154.0 309.8h0M154.7 310.7h0M157.3 310.3h0M100.0 304.1h0M101.7 305.5h0M100.0 302.9h0M98.9 305.1h0M99.8 302.4h0M103.3 303.8h0M99.0 302.7h0M100.1 301.8h0M123.3 290.1h0M124.1 292.2h0M123.8 293.7h0M126.5 292.2h0M123.4 289.4h0M125.9 292.5h0M105.4 294.6h0M107.9 296.0h0M108.2 294.7h0M106.3 295.8h0M151.7 280.2h0M153.6 279.4h0M150.0 279.6h0M152.3 279.9h0M149.0 280.2h0M149.8 277.4h0M124.7 282.8h0M125.7 281.0h0M123.3 281.2h0M122.0 281.6h0M124.1 279.7h0M124.3 279.7h0M122.2 279.6h0M125.0 283.1h0M122.8 285.1h0M124.2 284.2h0M122.0 284.5h0M124.9 285.9h0M122.4 286.9h0M124.5 284.1h0M156.5 275.7h0M154.2 273.1h0M152.5 273.2h0M106.1 293.8h0M103.5 294.1h0M110.5 272.7h0M108.5 272.5h0M108.9 269.9h0M142.7 307.9h0M140.5 310.7h0M140.9 310.5h0M143.2 309.7h0M107.0 294.0h0M109.9 296.4h0M114.3 273.0h0M114.8 272.4h0M115.2 269.2h0M115.3 272.8h0M138.2 307.6h0M135.3 307.4h0M136.6 309.8h0M135.9 308.4h0M137.5 309.3h0M147.5 276.3h0M148.5 278.5h0M136.9 305.9h0M134.6 308.5h0M135.7 307.7h0M139.5 294.8h0M134.8 260.9h0M133.9 262.9h0M132.4 262.1h0M158.9 308.7h0M151.5 310.0h0M95.3 283.8h0M96.1 284.6h0M97.4 282.9h0M95.5 284.9h0M154.9 280.8h0M157.6 283.7h0M156.9 284.3h0M149.9 272.8h0M150.9 275.6h0M151.2 276.7h0M110.2 283.7h0M107.8 282.8h0M110.7 285.2h0M99.2 287.7h0M98.8 285.5h0M97.3 286.5h0M105.0 289.5h0M103.1 290.4h0M100.6 289.8h0M141.7 263.0h0M141.6 261.1h0M98.1 293.3h0M131.7 269.6h0M135.5 268.2h0M119.5 300.7h0M119.3 298.4h0M119.6 299.6h0M110.0 281.7h0M110.7 281.6h0M108.0 279.7h0M141.5 261.2h0M142.0 261.6h0M143.7 260.4h0M142.0 262.6h0M142.2 261.5h0M142.1 261.8h0M102.3 276.2h0M103.9 273.3h0M102.9 275.5h0M103.8 276.1h0M101.1 274.5h0M120.7 287.9h0M123.7 287.5h0M154.9 271.2h0M158.4 272.3h0M157.9 272.9h0M96.9 277.6h0M96.9 275.5h0M97.0 276.5h0M98.0 273.9h0M98.5 276.4h0M143.8 303.3h0M145.8 306.6h0M141.6 304.1h0M102.4 285.4h0M105.1 287.0h0M108.8 306.2h0M110.1 305.2h0M155.6 296.6h0M156.0 297.7h0M156.6 298.3h0M156.0 298.1h0M155.4 296.6h0M156.1 299.1h0M140.9 280.3h0" stroke="#5559a4" stroke-width="2.8" stroke-linecap="round" stroke-opacity="0.4"/>
<path d="M156.8 260.9h0M97.0 307.1h0M95.1 306.1h0M96.8 305.1h0M94.8 306.5h0M94.9 307.4h0M147.3 284.9h0M146.5 284.5h0M147.7 284.3h0M150.4 283.7h0M126.2 308.9h0M134.1 300.6h0M151.7 265.4h0M139.8 308.6h0M142.4 309.7h0M118.4 274.0h0M116.0 273.4h0M149.8 300.6h0M149.0 300.6h0M148.7 308.0h0M152.2 308.8h0M153.0 286.7h0M149.2 285.2h0M151.1 284.1h0M150.3 284.8h0M151.0 286.0h0M115.5 293.9h0M117.4 293.1h0M114.2 294.2h0M98.7 282.6h0M95.7 283.6h0M95.6 282.4h0M109.1 310.1h0M112.2 311.0h0M109.1 307.9h0M156.5 310.0h0M154.0 309.8h0M154.7 310.7h0M157.3 310.3h0M100.0 304.1h0M101.7 305.5h0M100.0 302.9h0M98.9 305.1h0M99.8 302.4h0M103.3 303.8h0M99.0 302.7h0M100.1 301.8h0M123.3 290.1h0M124.1 292.2h0M123.8 293.7h0M126.5 292.2h0M123.4 289.4h0M125.9 292.5h0M105.4 294.6h0M107.9 296.0h0M108.2 294.7h0M106.3 295.8h0M151.7 280.2h0M153.6 279.4h0M150.0 279.6h0M152.3 279.9h0M149.0 280.2h0M149.8 277.4h0M124.7 282.8h0M125.7 281.0h0M123.3 281.2h0M122.0 281.6h0M124.1 279.7h0M124.3 279.7h0M122.2 279.6h0M125.0 283.1h0M122.8 285.1h0M124.2 284.2h0M122.0 284.5h0M124.9 285.9h0M122.4 286.9h0M124.5 284.1h0M156.5 275.7h0M154.2 273.1h0M152.5 273.2h0M106.1 293.8h0M103.5 294.1h0M110.5 272.7h0M108.5 272.5h0M108.9 269.9h0M142.7 307.9h0M140.5 310.7h0M140.9 310.5h0M143.2 309.7h0M107.0 294.0h0M109.9 296.4h0M114.3 273.0h0M114.8 272.4h0M115.2 269.2h0M115.3 272.8h0M138.2 307.6h0M135.3 307.4h0M136.6 309.8h0M135.9 308.4h0M137.5 309.3h0M147.5 276.3h0M148.5 278.5h0M136.9 305.9h0M134.6 308.5h0M135.7 307.7h0M139.5 294.8h0M134.8 260.9h0M133.9 262.9h0M132.4 262.1h0M158.9 308.7h0M151.5 310.0h0M95.3 283.8h0M96.1 284.6h0M97.4 282.9h0M95.5 284.9h0M154.9 280.8h0M157.6 283.7h0M156.9 284.3h0M149.9 272.8h0M150.9 275.6h0M151.2 276.7h0M110.2 283.7h0M107.8 282.8h0M110.7 285.2h0M99.2 287.7h0M98.8 285.5h0M97.3 286.5h0M105.0 289.5h0M103.1 290.4h0M100.6 289.8h0M141.7 263.0h0M141.6 261.1h0M98.1 293.3h0M131.7 269.6h0M135.5 268.2h0M119.5 300.7h0M119.3 298.4h0M119.6 299.6h0M110.0 281.7h0M110.7 281.6h0M108.0 279.7h0M141.5 261.2h0M142.0 261.6h0M143.7 260.4h0M142.0 262.6h0M142.2 261.5h0M142.1 261.8h0M102.3 276.2h0M103.9 273.3h0M102.9 275.5h0M103.8 276.1h0M101.1 274.5h0M120.7 287.9h0M123.7 287.5h0M154.9 271.2h0M158.4 272.3h0M157.9 272.9h0M96.9 277.6h0M96.9 275.5h0M97.0 276.5h0M98.0 273.9h0M98.5 276.4h0M143.8 303.3h0M145.8 306.6h0M141.6 304.1h0M102.4 285.4h0M105.1 287.0h0M108.8 306.2h0M110.1 305.2h0M155.6 296.6h0M156.0 297.7h0M156.6 298.3h0M156.0 298.1h0M155.4 296.6h0M156.1 299.1h0M140.9 280.3h0" stroke="#2b2c7e" stroke-width="2" stroke-linecap="round"/>
<rect x="153.8" y="310.4" width="5" height="1.3" fill="#e8141c"/>
<rect x="167.3" y="258.3" width="66" height="54.2" filter="url(#ftw)"/>
<path d="M193.9 303.6h0M196.9 307.9h0M177.5 309.7h0M179.0 305.5h0M180.8 289.7h0M207.6 310.0h0M194.7 303.3h0M171.6 306.2h0M201.5 287.3h0M230.3 275.7h0M207.6 289.9h0M187.7 267.0h0M195.8 274.1h0M207.3 280.6h0M173.6 295.3h0M227.4 291.5h0M187.4 275.1h0M229.6 282.5h0M214.7 263.2h0M220.4 305.9h0M185.0 275.3h0M209.9 309.0h0M218.6 260.4h0M175.7 305.7h0M194.0 309.0h0M197.1 302.9h0M182.3 309.7h0M198.7 259.5h0M181.0 263.6h0M195.1 309.3h0M230.4 307.7h0M194.5 299.5h0M215.9 302.7h0M230.3 302.8h0M217.2 275.9h0M179.2 281.1h0M186.9 298.6h0M178.4 269.9h0M215.1 261.4h0M173.7 259.3h0M169.6 264.4h0M215.7 273.3h0M175.1 285.3h0M191.2 259.5h0M172.5 272.6h0M195.2 265.5h0M195.1 284.6h0M227.7 291.1h0M187.8 270.9h0M180.0 279.5h0M229.4 309.9h0M177.8 293.0h0M217.2 307.6h0M216.8 292.4h0M174.1 273.1h0M228.4 306.8h0M224.9 276.9h0M218.3 300.4h0M193.6 276.8h0M197.7 287.4h0M169.5 260.4h0M232.2 280.5h0M194.5 290.1h0M202.1 295.7h0M202.4 260.3h0M171.1 273.0h0M191.4 310.8h0M200.1 266.1h0M221.8 275.7h0M195.2 292.3h0M214.4 272.0h0M194.8 259.8h0M228.1 305.0h0M220.7 270.0h0M208.4 281.8h0M178.0 270.4h0M224.1 291.0h0M206.5 266.4h0M205.9 305.9h0M181.2 271.6h0M228.1 273.6h0M197.8 307.2h0M215.4 275.6h0M189.7 272.2h0M170.9 286.6h0M177.7 272.7h0M221.3 265.6h0M173.5 262.0h0M208.7 272.1h0M185.5 286.5h0M215.1 309.9h0M172.1 277.5h0M169.3 277.7h0M210.9 276.9h0M195.8 275.3h0M231.1 301.6h0M225.2 291.3h0M225.5 292.9h0M174.2 266.2h0M229.1 288.2h0M215.5 288.5h0M225.6 269.7h0M178.5 270.7h0M215.2 290.5h0M202.2 270.0h0M195.5 274.4h0M174.5 309.1h0M219.5 300.7h0M192.3 303.0h0M220.2 271.5h0M229.4 301.5h0M171.9 264.8h0M173.8 294.3h0M178.3 267.0h0M170.4 282.1h0M187.9 288.7h0M179.8 295.8h0M208.3 279.9h0M230.1 290.2h0" stroke="#9ba1c9" stroke-width="0.8" stroke-linecap="round"/>
<path d="M191.5 284.6h0M192.9 282.8h0M191.6 285.5h0M188.8 303.2h0M186.6 303.6h0M188.7 301.3h0M189.2 300.3h0M187.2 301.3h0M185.4 302.1h0M187.1 302.7h0M186.9 302.8h0M217.5 277.4h0M216.7 276.9h0M218.4 278.2h0M231.4 261.4h0M217.1 260.5h0M215.1 259.7h0M214.0 307.1h0M212.2 305.6h0M211.3 307.3h0M220.2 294.7h0M174.5 265.9h0M222.1 297.7h0M178.4 294.3h0M178.4 293.7h0M175.6 293.0h0M173.8 293.1h0M197.8 261.6h0M185.8 310.2h0M184.1 309.9h0M186.1 310.5h0M221.9 271.9h0M181.8 269.1h0M181.1 270.2h0M183.9 267.8h0M180.6 268.1h0M184.2 267.5h0M183.4 267.2h0M183.0 271.0h0M183.3 270.6h0M177.9 288.1h0M176.7 287.7h0M178.7 289.0h0M177.1 286.5h0M176.3 288.0h0M176.2 289.1h0M178.1 288.6h0M177.1 288.4h0M168.9 276.6h0M170.7 276.3h0M168.9 278.4h0M170.0 275.0h0M208.6 292.4h0M211.2 290.9h0M183.6 290.8h0M182.3 288.6h0M182.8 290.2h0M193.3 272.3h0M192.9 275.2h0M190.6 273.1h0M194.2 275.9h0M192.4 275.4h0M191.3 274.8h0M192.9 274.7h0M193.3 274.6h0M209.7 300.9h0M213.5 301.3h0M193.3 265.2h0M193.0 266.5h0M193.3 267.7h0M182.1 279.4h0M215.0 288.1h0M171.0 266.9h0M170.5 267.3h0" stroke="#5559a4" stroke-width="2.8" stroke-linecap="round" stroke-opacity="0.4"/>
<path d="M191.5 284.6h0M192.9 282.8h0M191.6 285.5h0M188.8 303.2h0M186.6 303.6h0M188.7 301.3h0M189.2 300.3h0M187.2 301.3h0M185.4 302.1h0M187.1 302.7h0M186.9 302.8h0M217.5 277.4h0M216.7 276.9h0M218.4 278.2h0M231.4 261.4h0M217.1 260.5h0M215.1 259.7h0M214.0 307.1h0M212.2 305.6h0M211.3 307.3h0M220.2 294.7h0M174.5 265.9h0M222.1 297.7h0M178.4 294.3h0M178.4 293.7h0M175.6 293.0h0M173.8 293.1h0M197.8 261.6h0M185.8 310.2h0M184.1 309.9h0M186.1 310.5h0M221.9 271.9h0M181.8 269.1h0M181.1 270.2h0M183.9 267.8h0M180.6 268.1h0M184.2 267.5h0M183.4 267.2h0M183.0 271.0h0M183.3 270.6h0M177.9 288.1h0M176.7 287.7h0M178.7 289.0h0M177.1 286.5h0M176.3 288.0h0M176.2 289.1h0M178.1 288.6h0M177.1 288.4h0M168.9 276.6h0M170.7 276.3h0M168.9 278.4h0M170.0 275.0h0M208.6 292.4h0M211.2 290.9h0M183.6 290.8h0M182.3 288.6h0M182.8 290.2h0M193.3 272.3h0M192.9 275.2h0M190.6 273.1h0M194.2 275.9h0M192.4 275.4h0M191.3 274.8h0M192.9 274.7h0M193.3 274.6h0M209.7 300.9h0M213.5 301.3h0M193.3 265.2h0M193.0 266.5h0M193.3 267.7h0M182.1 279.4h0M215.0 288.1h0M171.0 266.9h0M170.5 267.3h0" stroke="#2b2c7e" stroke-width="2" stroke-linecap="round"/>
<rect x="226.8" y="309.9" width="5" height="1.3" fill="#e8141c"/>
<text transform="translate(13.98,220.6) rotate(-90)" font-size="8.4" text-anchor="middle" font-weight="bold" fill="#231f20" >Migration</text>
<text transform="translate(14.78,282) rotate(-90)" font-size="8.4" text-anchor="middle" font-weight="bold" fill="#231f20" >Invasion</text>
<text transform="translate(241.48,216.5) rotate(-90)" font-size="8.4" text-anchor="middle" font-weight="bold" fill="#231f20" >Cell numbers</text>
<text transform="translate(250.98,216.5) rotate(-90)" font-size="8.4" text-anchor="middle" font-weight="bold" fill="#231f20" >(per field)</text>
<line x1="270.5" y1="195.3" x2="270.5" y2="241.8" stroke="#111" stroke-width="1.1"/>
<line x1="267.7" y1="241.5" x2="270.5" y2="241.5" stroke="#111" stroke-width="1.1"/>
<text x="266.1" y="244.24" font-size="8.4" text-anchor="end" font-weight="bold" fill="#231f20" >0</text>
<line x1="267.7" y1="229.5" x2="270.5" y2="229.5" stroke="#111" stroke-width="1.1"/>
<text x="266.1" y="232.87" font-size="8.4" text-anchor="end" font-weight="bold" fill="#231f20" >50</text>
<line x1="267.7" y1="218.5" x2="270.5" y2="218.5" stroke="#111" stroke-width="1.1"/>
<text x="266.1" y="221.49" font-size="8.4" text-anchor="end" font-weight="bold" fill="#231f20" >100</text>
<line x1="267.7" y1="207.5" x2="270.5" y2="207.5" stroke="#111" stroke-width="1.1"/>
<text x="266.1" y="210.12" font-size="8.4" text-anchor="end" font-weight="bold" fill="#231f20" >150</text>
<line x1="267.7" y1="195.5" x2="270.5" y2="195.5" stroke="#111" stroke-width="1.1"/>
<text x="266.1" y="198.74" font-size="8.4" text-anchor="end" font-weight="bold" fill="#231f20" >200</text>
<line x1="270" y1="241.5" x2="339.4" y2="241.5" stroke="#111" stroke-width="1.1"/>
<line x1="283.5" y1="241.3" x2="283.5" y2="243.3" stroke="#111" stroke-width="1.1"/>
<line x1="303.5" y1="241.3" x2="303.5" y2="243.3" stroke="#111" stroke-width="1.1"/>
<line x1="324.5" y1="241.3" x2="324.5" y2="243.3" stroke="#111" stroke-width="1.1"/>
<rect x="277.5" y="204.5" width="12" height="36.8" fill="#fff" stroke="#231f20" stroke-width="1"/>
<line x1="284.5" y1="199.4" x2="284.5" y2="204.5" stroke="#111" stroke-width="1"/>
<line x1="280.81" y1="199.5" x2="288.19" y2="199.5" stroke="#111" stroke-width="1"/>
<rect x="297.5" y="210.5" width="12" height="30.8" fill="#8488c4" stroke="#231f20" stroke-width="1"/>
<line x1="304.5" y1="205.5" x2="304.5" y2="210.5" stroke="#111" stroke-width="1"/>
<line x1="300.81" y1="205.5" x2="308.19" y2="205.5" stroke="#111" stroke-width="1"/>
<rect x="318.5" y="227.5" width="12" height="13.8" fill="#1e2288" stroke="#231f20" stroke-width="1"/>
<line x1="324.5" y1="222.8" x2="324.5" y2="227.5" stroke="#111" stroke-width="1"/>
<line x1="320.93" y1="222.5" x2="328.07" y2="222.5" stroke="#111" stroke-width="1"/>
<text x="282" y="254" font-size="8.4" text-anchor="middle" font-weight="bold" fill="#231f20" >a</text>
<text x="308" y="254" font-size="8.4" text-anchor="middle" font-weight="bold" fill="#231f20" >b</text>
<text x="327.4" y="254" font-size="8.4" text-anchor="middle" font-weight="bold" fill="#231f20" >c</text>
<line x1="284.1" y1="194.5" x2="339.8" y2="194.5" stroke="#111" stroke-width="1.1"/>
<text x="311.9" y="193.4" font-size="7.5" text-anchor="middle" font-weight="bold" fill="#231f20" >**</text>
<line x1="302.3" y1="203.5" x2="335.8" y2="203.5" stroke="#111" stroke-width="1.1"/>
<text x="318.7" y="202.4" font-size="7.5" text-anchor="middle" font-weight="bold" fill="#231f20" >**</text>
<text transform="translate(243.48,283) rotate(-90)" font-size="8.4" text-anchor="middle" font-weight="bold" fill="#231f20" >Cell numbers</text>
<text transform="translate(253.98,283.5) rotate(-90)" font-size="8.4" text-anchor="middle" font-weight="bold" fill="#231f20" >(per field)</text>
<line x1="272.5" y1="261.6" x2="272.5" y2="307.9" stroke="#111" stroke-width="1.1"/>
<line x1="269.2" y1="307.5" x2="272" y2="307.5" stroke="#111" stroke-width="1.1"/>
<text x="269.4" y="310.34" font-size="8.4" text-anchor="end" font-weight="bold" fill="#231f20" >0</text>
<line x1="269.2" y1="296.5" x2="272" y2="296.5" stroke="#111" stroke-width="1.1"/>
<text x="269.4" y="299.01" font-size="8.4" text-anchor="end" font-weight="bold" fill="#231f20" >50</text>
<line x1="269.2" y1="284.5" x2="272" y2="284.5" stroke="#111" stroke-width="1.1"/>
<text x="269.4" y="287.69" font-size="8.4" text-anchor="end" font-weight="bold" fill="#231f20" >100</text>
<line x1="269.2" y1="273.5" x2="272" y2="273.5" stroke="#111" stroke-width="1.1"/>
<text x="269.4" y="276.37" font-size="8.4" text-anchor="end" font-weight="bold" fill="#231f20" >150</text>
<line x1="269.2" y1="262.5" x2="272" y2="262.5" stroke="#111" stroke-width="1.1"/>
<text x="269.4" y="265.04" font-size="8.4" text-anchor="end" font-weight="bold" fill="#231f20" >200</text>
<line x1="271.5" y1="307.5" x2="341.6" y2="307.5" stroke="#111" stroke-width="1.1"/>
<line x1="286.5" y1="307.4" x2="286.5" y2="309.4" stroke="#111" stroke-width="1.1"/>
<line x1="307.5" y1="307.4" x2="307.5" y2="309.4" stroke="#111" stroke-width="1.1"/>
<line x1="326.5" y1="307.4" x2="326.5" y2="309.4" stroke="#111" stroke-width="1.1"/>
<rect x="280.5" y="280.5" width="12" height="26.9" fill="#fff" stroke="#231f20" stroke-width="1"/>
<line x1="286.5" y1="276.3" x2="286.5" y2="280.5" stroke="#111" stroke-width="1"/>
<line x1="282.93" y1="276.5" x2="290.07" y2="276.5" stroke="#111" stroke-width="1"/>
<rect x="300.5" y="284.5" width="12" height="22.9" fill="#8488c4" stroke="#231f20" stroke-width="1"/>
<line x1="307.5" y1="281.4" x2="307.5" y2="284.5" stroke="#111" stroke-width="1"/>
<line x1="304.04" y1="281.5" x2="310.96" y2="281.5" stroke="#111" stroke-width="1"/>
<rect x="320.5" y="298.5" width="12" height="8.9" fill="#1e2288" stroke="#231f20" stroke-width="1"/>
<line x1="326.5" y1="295.6" x2="326.5" y2="298.5" stroke="#111" stroke-width="1"/>
<line x1="323.04" y1="295.5" x2="329.96" y2="295.5" stroke="#111" stroke-width="1"/>
<text x="284.1" y="319.1" font-size="8.4" text-anchor="middle" font-weight="bold" fill="#231f20" >a</text>
<text x="306.4" y="319.1" font-size="8.4" text-anchor="middle" font-weight="bold" fill="#231f20" >b</text>
<text x="326.5" y="319.1" font-size="8.4" text-anchor="middle" font-weight="bold" fill="#231f20" >c</text>
<line x1="283.7" y1="265.5" x2="336.1" y2="265.5" stroke="#111" stroke-width="1.1"/>
<text x="306.4" y="264.8" font-size="7.5" text-anchor="middle" font-weight="bold" fill="#231f20" >***</text>
<line x1="303" y1="275.5" x2="339.1" y2="275.5" stroke="#111" stroke-width="1.1"/>
<text x="323.2" y="274.6" font-size="7.5" text-anchor="middle" font-weight="bold" fill="#231f20" >**</text>
<text x="358.2" y="195.6" font-size="8.4" text-anchor="start" font-weight="bold" fill="#231f20" >Blank control</text>
<text x="427.7" y="195.4" font-size="8.4" text-anchor="start" font-weight="bold" fill="#231f20" >Negative control</text>
<text transform="translate(503.8,194.75) scale(1,0.82)" font-size="8.4" text-anchor="start" font-weight="bold" fill="#231f20" >siRNA-STAT4</text>
<rect x="350.1" y="199.1" width="68" height="54.2" filter="url(#ftw)"/>
<path d="M388.0 226.4h0M372.2 222.4h0M359.3 247.0h0M368.4 216.0h0M405.4 209.8h0M372.8 224.2h0M392.9 223.2h0M416.0 245.0h0M374.7 242.9h0M365.8 234.1h0M363.5 231.6h0M367.2 232.1h0M407.9 204.2h0M362.4 218.5h0M361.0 223.4h0M388.5 215.3h0M410.9 245.4h0M376.5 216.6h0M364.2 216.3h0M391.6 211.8h0M354.9 217.0h0M370.9 228.1h0M372.4 233.3h0M362.5 239.6h0M376.7 223.4h0M403.5 243.6h0M396.3 237.9h0M353.2 212.5h0M395.6 222.6h0M415.4 235.7h0M361.6 210.7h0M380.4 229.8h0M402.8 235.5h0M377.9 201.9h0M383.0 222.6h0M390.1 207.3h0M394.0 200.2h0M355.0 238.4h0M399.5 206.8h0M364.1 240.7h0M411.6 239.8h0M408.1 226.9h0M370.7 221.6h0M398.6 203.6h0M390.1 240.1h0M386.7 222.1h0M413.2 202.2h0M365.8 202.8h0M371.2 225.3h0M396.6 244.3h0M370.3 237.6h0M386.5 220.1h0M392.7 247.6h0M390.7 202.0h0M366.0 213.9h0M379.1 205.1h0M409.8 200.6h0M416.4 217.8h0M414.8 201.0h0M410.2 236.3h0M360.5 216.4h0M359.3 220.6h0M360.6 203.2h0M360.5 209.7h0M381.4 233.5h0M404.1 226.7h0M368.2 229.6h0M361.7 202.0h0M403.7 204.0h0M356.4 241.3h0M393.7 246.9h0M403.6 211.3h0M366.3 226.2h0M412.6 209.5h0M369.8 244.2h0M363.0 246.1h0M361.1 231.8h0M352.6 245.5h0M403.4 214.1h0M376.8 220.2h0M380.0 208.4h0M392.6 245.0h0M407.0 204.6h0M403.8 223.6h0M398.7 206.6h0M388.4 244.3h0M411.7 232.5h0M368.8 210.2h0M393.6 205.3h0M366.4 233.6h0M391.9 249.3h0M411.2 239.6h0M387.5 217.4h0M384.8 226.6h0M416.7 243.9h0M370.9 249.7h0M403.7 200.3h0M398.9 232.9h0M407.7 223.9h0M411.3 250.9h0M379.9 251.9h0M412.1 227.0h0M408.6 242.2h0M364.0 241.8h0M369.3 247.8h0M360.3 213.0h0M361.0 215.7h0M404.0 209.7h0M376.8 226.6h0M411.0 239.3h0M359.2 212.9h0M388.7 204.5h0M358.2 208.6h0M381.2 248.5h0M389.6 240.7h0M395.1 225.7h0M359.0 202.2h0M354.0 233.1h0M386.1 248.1h0M351.7 241.5h0M363.3 236.7h0M370.2 231.5h0" stroke="#9ba1c9" stroke-width="0.8" stroke-linecap="round"/>
<path d="M361.7 238.1h0M364.0 235.9h0M363.3 235.8h0M359.9 235.6h0M364.7 236.2h0M361.3 236.4h0M362.2 233.7h0M361.6 234.5h0M416.1 239.9h0M415.6 241.6h0M375.5 208.4h0M380.2 229.4h0M380.1 227.5h0M381.3 228.3h0M364.4 233.1h0M362.4 234.2h0M365.6 236.3h0M364.9 234.2h0M366.5 234.1h0M363.0 235.9h0M362.8 235.6h0M365.9 235.1h0M353.8 205.2h0M351.6 204.2h0M351.8 204.6h0M354.0 205.1h0M394.1 234.2h0M394.9 233.4h0M397.3 233.6h0M404.0 220.1h0M401.5 218.8h0M403.1 219.3h0M402.2 219.5h0M401.2 221.1h0M401.0 217.8h0M402.3 221.5h0M400.7 220.3h0M401.1 203.7h0M399.5 204.8h0M362.0 203.3h0M363.9 205.6h0M363.5 204.3h0M395.1 247.6h0M395.1 245.7h0M395.4 246.2h0M392.2 248.2h0M406.1 215.8h0M406.7 214.9h0M408.5 217.7h0M406.8 217.6h0M407.0 218.6h0M378.9 235.7h0M357.7 201.1h0M358.6 202.6h0M356.7 203.8h0M355.6 203.0h0M392.7 211.7h0M392.1 208.0h0M389.8 209.7h0M354.5 248.5h0M355.2 247.4h0M354.8 247.2h0M397.0 216.6h0M399.5 250.0h0M397.2 250.7h0M402.0 208.1h0M400.1 211.2h0M401.8 210.1h0M401.6 210.5h0M401.9 208.3h0M399.0 210.8h0M353.2 233.2h0M354.8 234.0h0M354.0 234.0h0M388.7 221.6h0M388.6 222.4h0M388.2 219.6h0M355.6 226.5h0M357.4 226.7h0M355.6 223.8h0M356.7 223.3h0M406.4 213.2h0M403.3 212.5h0M407.6 213.4h0M406.5 214.0h0M371.8 220.6h0M385.5 230.8h0M387.5 233.8h0M385.2 231.4h0M373.6 234.1h0M375.2 233.8h0M375.7 232.7h0M374.8 232.5h0M373.5 235.4h0M373.1 232.6h0M372.0 234.4h0M371.3 234.0h0M395.0 235.9h0M395.7 234.7h0M396.1 232.8h0M395.1 234.5h0M394.7 234.8h0M393.5 233.6h0M368.6 202.6h0M367.7 202.1h0M368.2 200.8h0M364.9 201.7h0M371.7 223.7h0M372.5 220.3h0M369.3 222.3h0M371.2 221.4h0M369.4 222.8h0M416.1 234.4h0M390.1 230.7h0M391.7 233.2h0M390.6 234.2h0M393.4 232.5h0M395.1 210.0h0M369.0 203.4h0M403.0 221.0h0M386.4 219.8h0M388.7 222.5h0M363.8 201.3h0M365.1 202.2h0M364.2 203.7h0M407.9 223.2h0M363.2 240.1h0M367.2 240.3h0M368.0 239.7h0M365.7 240.3h0M364.4 242.0h0M363.8 239.3h0M392.0 208.7h0M394.0 210.4h0M393.3 210.3h0M394.0 206.5h0M394.8 208.1h0M391.2 217.3h0M390.9 218.8h0M388.8 219.4h0M392.7 218.9h0M390.8 219.3h0M392.3 217.8h0M392.1 217.5h0M391.5 219.4h0M379.2 231.6h0M379.1 235.0h0M377.8 234.6h0M379.0 235.2h0M379.4 201.2h0M383.0 202.2h0M374.7 200.8h0M376.4 201.8h0M398.4 202.6h0M398.4 206.1h0M402.0 247.5h0M404.6 246.6h0M369.3 208.2h0M366.5 205.8h0M360.6 242.1h0M359.1 241.8h0M359.4 241.0h0M360.6 240.6h0M396.9 221.7h0M383.4 250.9h0M382.3 251.8h0M376.8 233.0h0M374.4 234.1h0M374.5 231.6h0M374.4 232.4h0M376.1 235.4h0M377.8 231.9h0M376.2 231.0h0M375.8 231.9h0M360.8 202.3h0M361.6 201.6h0M364.2 209.0h0M362.6 207.9h0M362.3 206.8h0M364.3 208.8h0M363.2 207.2h0M365.9 208.5h0M366.3 231.4h0M366.5 228.2h0M378.7 230.2h0M391.5 210.9h0M389.7 207.8h0M388.3 209.6h0M388.2 211.4h0M388.4 208.6h0M389.5 209.3h0M389.1 210.5h0M388.3 211.7h0M399.6 208.9h0M399.6 206.1h0M353.8 238.8h0M355.8 238.7h0M356.3 237.5h0M353.9 233.6h0M355.9 231.9h0M354.6 233.1h0M355.0 234.8h0M353.4 234.3h0M354.7 234.6h0M381.5 237.6h0M380.1 236.3h0M381.5 239.7h0M381.8 239.5h0M382.6 237.3h0M370.2 238.4h0M372.3 239.8h0M369.6 240.8h0M371.2 237.2h0M370.1 238.7h0M368.0 238.0h0M370.8 241.4h0M370.4 238.0h0M357.2 201.7h0M386.3 249.6h0M387.1 249.5h0M384.4 250.4h0M384.5 248.4h0M385.4 251.1h0M384.3 250.5h0M384.5 251.3h0M383.2 249.5h0M410.3 214.9h0M408.4 215.6h0M406.5 216.6h0M409.8 223.5h0M407.7 225.7h0M407.6 222.8h0M364.8 208.7h0M351.6 218.0h0M384.4 202.6h0M386.9 243.6h0M387.7 243.5h0M388.9 243.7h0M366.2 213.0h0M367.2 213.7h0M369.3 211.9h0M367.0 242.8h0M368.7 242.3h0M381.5 236.1h0M413.1 246.0h0M416.6 247.3h0M396.5 201.7h0M401.1 202.0h0M410.8 251.1h0M408.8 249.7h0M395.5 251.5h0M394.1 251.8h0M370.2 215.2h0M370.6 215.1h0M373.7 212.9h0M408.9 226.2h0M408.5 222.8h0M409.8 222.2h0M408.7 225.8h0M398.5 226.3h0M400.0 229.9h0M415.3 227.6h0M367.6 238.4h0M368.0 239.1h0M366.9 237.8h0M412.1 243.9h0M408.9 243.7h0M409.0 244.0h0M413.2 243.8h0M411.1 245.7h0M409.1 245.1h0M395.5 213.9h0M372.1 218.7h0M370.3 221.8h0M392.8 219.8h0M396.3 221.4h0M374.5 217.9h0M377.2 219.9h0M376.4 217.4h0M394.2 247.2h0M389.9 237.3h0M392.3 238.2h0M391.2 236.0h0M391.4 239.7h0M389.3 238.5h0M390.9 235.4h0M391.8 239.4h0M388.8 238.9h0M361.0 243.4h0M362.7 243.4h0M362.5 242.5h0M373.9 205.0h0M371.6 207.5h0M373.1 208.4h0M410.4 202.8h0M410.5 203.1h0M412.2 201.9h0M409.8 204.0h0M409.9 203.3h0M391.4 202.9h0M392.4 201.4h0M367.0 224.0h0M369.0 227.0h0M401.5 221.4h0M400.1 221.6h0M400.4 221.8h0M405.3 235.7h0M371.0 234.2h0M370.0 232.4h0M368.7 235.7h0M369.2 236.7h0M360.5 228.6h0M385.4 250.7h0M383.6 250.0h0M387.8 251.2h0M388.1 249.6h0M387.1 249.9h0M405.6 212.4h0M403.9 213.5h0M375.1 235.4h0M377.2 237.0h0M389.5 214.3h0M366.8 225.7h0M369.6 225.2h0M367.3 225.7h0M408.0 201.5h0M409.0 203.9h0M408.7 201.5h0M391.7 204.9h0M393.9 204.3h0M392.7 203.4h0M367.7 243.4h0M369.4 244.3h0M366.8 244.9h0M354.8 227.8h0M357.1 229.1h0M355.5 225.8h0M369.7 234.7h0M366.8 232.9h0M377.2 230.3h0M368.3 247.8h0M360.9 249.7h0M359.7 246.7h0M362.7 246.7h0M359.5 249.5h0M361.5 248.5h0M358.3 248.6h0M372.3 219.0h0M372.6 218.7h0M408.5 203.3h0M406.2 201.5h0M366.0 231.5h0M364.3 230.2h0M366.1 230.4h0M396.8 225.7h0M393.4 224.5h0M395.7 225.5h0M397.3 223.7h0M394.9 224.5h0" stroke="#5559a4" stroke-width="2.8" stroke-linecap="round" stroke-opacity="0.4"/>
<path d="M361.7 238.1h0M364.0 235.9h0M363.3 235.8h0M359.9 235.6h0M364.7 236.2h0M361.3 236.4h0M362.2 233.7h0M361.6 234.5h0M416.1 239.9h0M415.6 241.6h0M375.5 208.4h0M380.2 229.4h0M380.1 227.5h0M381.3 228.3h0M364.4 233.1h0M362.4 234.2h0M365.6 236.3h0M364.9 234.2h0M366.5 234.1h0M363.0 235.9h0M362.8 235.6h0M365.9 235.1h0M353.8 205.2h0M351.6 204.2h0M351.8 204.6h0M354.0 205.1h0M394.1 234.2h0M394.9 233.4h0M397.3 233.6h0M404.0 220.1h0M401.5 218.8h0M403.1 219.3h0M402.2 219.5h0M401.2 221.1h0M401.0 217.8h0M402.3 221.5h0M400.7 220.3h0M401.1 203.7h0M399.5 204.8h0M362.0 203.3h0M363.9 205.6h0M363.5 204.3h0M395.1 247.6h0M395.1 245.7h0M395.4 246.2h0M392.2 248.2h0M406.1 215.8h0M406.7 214.9h0M408.5 217.7h0M406.8 217.6h0M407.0 218.6h0M378.9 235.7h0M357.7 201.1h0M358.6 202.6h0M356.7 203.8h0M355.6 203.0h0M392.7 211.7h0M392.1 208.0h0M389.8 209.7h0M354.5 248.5h0M355.2 247.4h0M354.8 247.2h0M397.0 216.6h0M399.5 250.0h0M397.2 250.7h0M402.0 208.1h0M400.1 211.2h0M401.8 210.1h0M401.6 210.5h0M401.9 208.3h0M399.0 210.8h0M353.2 233.2h0M354.8 234.0h0M354.0 234.0h0M388.7 221.6h0M388.6 222.4h0M388.2 219.6h0M355.6 226.5h0M357.4 226.7h0M355.6 223.8h0M356.7 223.3h0M406.4 213.2h0M403.3 212.5h0M407.6 213.4h0M406.5 214.0h0M371.8 220.6h0M385.5 230.8h0M387.5 233.8h0M385.2 231.4h0M373.6 234.1h0M375.2 233.8h0M375.7 232.7h0M374.8 232.5h0M373.5 235.4h0M373.1 232.6h0M372.0 234.4h0M371.3 234.0h0M395.0 235.9h0M395.7 234.7h0M396.1 232.8h0M395.1 234.5h0M394.7 234.8h0M393.5 233.6h0M368.6 202.6h0M367.7 202.1h0M368.2 200.8h0M364.9 201.7h0M371.7 223.7h0M372.5 220.3h0M369.3 222.3h0M371.2 221.4h0M369.4 222.8h0M416.1 234.4h0M390.1 230.7h0M391.7 233.2h0M390.6 234.2h0M393.4 232.5h0M395.1 210.0h0M369.0 203.4h0M403.0 221.0h0M386.4 219.8h0M388.7 222.5h0M363.8 201.3h0M365.1 202.2h0M364.2 203.7h0M407.9 223.2h0M363.2 240.1h0M367.2 240.3h0M368.0 239.7h0M365.7 240.3h0M364.4 242.0h0M363.8 239.3h0M392.0 208.7h0M394.0 210.4h0M393.3 210.3h0M394.0 206.5h0M394.8 208.1h0M391.2 217.3h0M390.9 218.8h0M388.8 219.4h0M392.7 218.9h0M390.8 219.3h0M392.3 217.8h0M392.1 217.5h0M391.5 219.4h0M379.2 231.6h0M379.1 235.0h0M377.8 234.6h0M379.0 235.2h0M379.4 201.2h0M383.0 202.2h0M374.7 200.8h0M376.4 201.8h0M398.4 202.6h0M398.4 206.1h0M402.0 247.5h0M404.6 246.6h0M369.3 208.2h0M366.5 205.8h0M360.6 242.1h0M359.1 241.8h0M359.4 241.0h0M360.6 240.6h0M396.9 221.7h0M383.4 250.9h0M382.3 251.8h0M376.8 233.0h0M374.4 234.1h0M374.5 231.6h0M374.4 232.4h0M376.1 235.4h0M377.8 231.9h0M376.2 231.0h0M375.8 231.9h0M360.8 202.3h0M361.6 201.6h0M364.2 209.0h0M362.6 207.9h0M362.3 206.8h0M364.3 208.8h0M363.2 207.2h0M365.9 208.5h0M366.3 231.4h0M366.5 228.2h0M378.7 230.2h0M391.5 210.9h0M389.7 207.8h0M388.3 209.6h0M388.2 211.4h0M388.4 208.6h0M389.5 209.3h0M389.1 210.5h0M388.3 211.7h0M399.6 208.9h0M399.6 206.1h0M353.8 238.8h0M355.8 238.7h0M356.3 237.5h0M353.9 233.6h0M355.9 231.9h0M354.6 233.1h0M355.0 234.8h0M353.4 234.3h0M354.7 234.6h0M381.5 237.6h0M380.1 236.3h0M381.5 239.7h0M381.8 239.5h0M382.6 237.3h0M370.2 238.4h0M372.3 239.8h0M369.6 240.8h0M371.2 237.2h0M370.1 238.7h0M368.0 238.0h0M370.8 241.4h0M370.4 238.0h0M357.2 201.7h0M386.3 249.6h0M387.1 249.5h0M384.4 250.4h0M384.5 248.4h0M385.4 251.1h0M384.3 250.5h0M384.5 251.3h0M383.2 249.5h0M410.3 214.9h0M408.4 215.6h0M406.5 216.6h0M409.8 223.5h0M407.7 225.7h0M407.6 222.8h0M364.8 208.7h0M351.6 218.0h0M384.4 202.6h0M386.9 243.6h0M387.7 243.5h0M388.9 243.7h0M366.2 213.0h0M367.2 213.7h0M369.3 211.9h0M367.0 242.8h0M368.7 242.3h0M381.5 236.1h0M413.1 246.0h0M416.6 247.3h0M396.5 201.7h0M401.1 202.0h0M410.8 251.1h0M408.8 249.7h0M395.5 251.5h0M394.1 251.8h0M370.2 215.2h0M370.6 215.1h0M373.7 212.9h0M408.9 226.2h0M408.5 222.8h0M409.8 222.2h0M408.7 225.8h0M398.5 226.3h0M400.0 229.9h0M415.3 227.6h0M367.6 238.4h0M368.0 239.1h0M366.9 237.8h0M412.1 243.9h0M408.9 243.7h0M409.0 244.0h0M413.2 243.8h0M411.1 245.7h0M409.1 245.1h0M395.5 213.9h0M372.1 218.7h0M370.3 221.8h0M392.8 219.8h0M396.3 221.4h0M374.5 217.9h0M377.2 219.9h0M376.4 217.4h0M394.2 247.2h0M389.9 237.3h0M392.3 238.2h0M391.2 236.0h0M391.4 239.7h0M389.3 238.5h0M390.9 235.4h0M391.8 239.4h0M388.8 238.9h0M361.0 243.4h0M362.7 243.4h0M362.5 242.5h0M373.9 205.0h0M371.6 207.5h0M373.1 208.4h0M410.4 202.8h0M410.5 203.1h0M412.2 201.9h0M409.8 204.0h0M409.9 203.3h0M391.4 202.9h0M392.4 201.4h0M367.0 224.0h0M369.0 227.0h0M401.5 221.4h0M400.1 221.6h0M400.4 221.8h0M405.3 235.7h0M371.0 234.2h0M370.0 232.4h0M368.7 235.7h0M369.2 236.7h0M360.5 228.6h0M385.4 250.7h0M383.6 250.0h0M387.8 251.2h0M388.1 249.6h0M387.1 249.9h0M405.6 212.4h0M403.9 213.5h0M375.1 235.4h0M377.2 237.0h0M389.5 214.3h0M366.8 225.7h0M369.6 225.2h0M367.3 225.7h0M408.0 201.5h0M409.0 203.9h0M408.7 201.5h0M391.7 204.9h0M393.9 204.3h0M392.7 203.4h0M367.7 243.4h0M369.4 244.3h0M366.8 244.9h0M354.8 227.8h0M357.1 229.1h0M355.5 225.8h0M369.7 234.7h0M366.8 232.9h0M377.2 230.3h0M368.3 247.8h0M360.9 249.7h0M359.7 246.7h0M362.7 246.7h0M359.5 249.5h0M361.5 248.5h0M358.3 248.6h0M372.3 219.0h0M372.6 218.7h0M408.5 203.3h0M406.2 201.5h0M366.0 231.5h0M364.3 230.2h0M366.1 230.4h0M396.8 225.7h0M393.4 224.5h0M395.7 225.5h0M397.3 223.7h0M394.9 224.5h0" stroke="#2b2c7e" stroke-width="2" stroke-linecap="round"/>
<rect x="411.6" y="250.7" width="5" height="1.3" fill="#e8141c"/>
<rect x="423.2" y="198.8" width="67.3" height="55" filter="url(#ftw)"/>
<path d="M445.7 214.7h0M443.3 230.8h0M447.9 234.7h0M482.4 252.4h0M424.5 232.1h0M462.0 222.7h0M472.2 246.5h0M440.2 233.5h0M434.5 223.1h0M447.3 243.3h0M483.7 245.9h0M458.3 237.4h0M466.7 228.5h0M433.1 214.1h0M486.7 231.3h0M431.7 218.7h0M432.9 206.4h0M449.1 215.3h0M425.4 226.1h0M484.8 224.3h0M450.3 220.0h0M441.6 217.1h0M436.9 222.5h0M484.0 219.2h0M481.7 226.3h0M465.8 225.3h0M449.8 246.7h0M462.8 209.9h0M444.2 220.6h0M461.2 219.8h0M441.5 215.9h0M489.1 239.0h0M480.6 247.2h0M433.5 228.2h0M471.5 225.6h0M458.8 233.3h0M465.5 209.1h0M427.7 214.2h0M426.5 216.2h0M426.7 205.4h0M467.1 210.1h0M470.8 222.0h0M478.8 229.4h0M481.1 222.3h0M451.5 249.0h0M468.9 222.5h0M481.1 238.4h0M466.3 201.3h0M482.2 205.5h0M425.3 217.8h0M436.9 212.6h0M455.9 226.5h0M468.6 245.7h0M469.6 245.7h0M452.3 207.6h0M470.6 252.5h0M435.3 232.3h0M449.5 251.9h0M426.3 225.1h0M447.6 219.4h0M472.7 199.8h0M442.2 251.1h0M454.2 200.5h0M464.6 234.6h0M484.8 246.7h0M486.1 213.8h0M445.0 236.7h0M446.8 219.7h0M426.8 210.3h0M432.9 219.5h0M470.0 210.1h0M443.0 204.2h0M450.8 231.0h0M463.4 234.1h0M459.2 236.7h0M476.5 244.3h0M424.2 249.1h0M455.5 252.4h0M474.0 224.3h0M427.2 204.9h0M474.9 200.2h0M427.5 236.8h0M463.8 235.6h0M428.6 250.6h0M473.1 200.4h0M461.4 217.1h0M439.4 232.3h0M488.4 201.5h0M476.8 249.2h0M429.9 247.4h0M425.1 216.9h0M425.7 209.2h0M435.4 229.6h0M452.6 251.1h0M473.5 203.8h0M428.8 214.6h0M477.4 242.3h0M478.9 245.7h0M471.9 229.4h0M479.2 243.4h0M477.6 246.4h0M458.9 204.4h0M465.0 236.9h0M486.2 239.4h0M482.7 248.2h0M445.6 248.9h0M461.4 222.8h0M453.2 226.1h0M451.3 238.1h0M440.9 222.9h0M466.6 251.2h0M471.9 229.2h0M448.7 234.8h0M484.6 200.7h0M449.4 214.8h0M474.8 235.2h0M424.4 247.3h0M450.9 207.2h0M430.7 203.6h0M440.4 204.2h0M470.2 207.1h0M452.4 234.6h0M453.0 215.2h0" stroke="#9ba1c9" stroke-width="0.8" stroke-linecap="round"/>
<path d="M486.5 207.5h0M470.1 238.2h0M469.8 239.4h0M471.0 238.7h0M460.1 238.0h0M461.7 237.3h0M459.8 239.5h0M480.9 231.1h0M478.9 231.5h0M477.6 232.0h0M481.2 229.0h0M478.1 230.5h0M479.2 232.6h0M452.4 218.0h0M441.6 244.4h0M442.3 247.7h0M441.7 245.7h0M463.2 226.3h0M462.3 228.9h0M462.3 228.8h0M473.4 203.0h0M477.1 204.4h0M436.7 230.8h0M434.4 227.6h0M436.5 229.1h0M474.7 238.3h0M472.9 240.0h0M476.4 238.1h0M475.9 237.5h0M472.9 238.6h0M477.1 238.7h0M472.7 239.2h0M473.9 237.7h0M475.2 243.9h0M475.8 244.3h0M476.0 243.3h0M473.9 241.7h0M474.9 242.1h0M476.2 243.5h0M468.2 249.9h0M479.6 200.6h0M479.1 204.1h0M478.1 201.7h0M469.1 223.2h0M469.0 222.7h0M467.4 208.7h0M468.3 209.4h0M468.8 206.8h0M467.2 210.4h0M468.1 210.4h0M465.6 208.9h0M466.0 208.9h0M466.8 209.3h0M486.7 235.7h0M488.8 234.3h0M485.8 234.9h0M443.1 245.5h0M443.8 246.2h0M457.5 236.6h0M450.8 245.9h0M437.1 208.6h0M428.0 227.6h0M430.9 203.6h0M443.1 246.5h0M443.5 249.9h0M446.8 247.2h0M446.6 246.7h0M443.9 246.8h0M444.5 249.0h0M430.1 247.2h0M430.1 250.1h0M477.9 248.2h0M447.5 243.8h0M445.6 241.2h0M481.8 224.3h0M483.8 225.3h0M444.6 207.4h0M435.0 227.8h0M435.8 230.0h0M432.6 230.9h0M460.6 223.8h0M459.9 224.7h0M461.1 224.5h0M461.3 222.1h0M464.0 225.6h0M462.2 223.5h0M460.1 223.3h0M462.1 225.0h0M471.9 208.1h0M474.5 210.5h0M472.3 223.6h0M453.5 244.1h0M453.9 240.9h0M451.6 241.6h0M460.6 230.9h0M459.3 232.2h0M487.1 207.7h0M489.0 206.4h0M460.3 225.7h0M459.2 224.7h0M460.2 227.3h0M458.7 227.9h0M460.1 226.7h0M457.9 227.3h0M461.5 228.4h0M459.1 226.5h0M432.0 221.3h0M430.3 217.7h0M430.2 218.0h0M429.9 221.4h0M446.2 244.8h0M447.5 245.4h0M442.9 243.9h0M444.3 243.5h0M443.3 245.3h0M445.6 246.6h0M444.9 244.8h0M444.3 246.0h0M431.5 247.4h0M433.3 245.9h0M435.4 249.5h0M482.6 224.4h0M485.8 224.1h0M484.2 224.5h0M461.7 247.5h0M459.7 247.7h0M450.8 209.9h0M451.6 210.4h0M473.1 243.5h0M472.7 242.7h0M472.8 243.3h0M474.5 241.6h0M472.6 242.1h0M474.4 239.8h0M473.6 240.3h0M475.5 240.7h0M485.2 223.1h0M484.9 224.3h0M483.0 226.2h0M484.3 223.5h0M483.4 224.8h0M484.1 225.6h0M453.3 206.9h0M449.7 206.7h0M453.1 209.4h0M451.9 208.6h0M451.7 205.7h0M453.2 207.0h0M449.8 209.9h0M449.7 206.7h0M468.6 230.2h0M469.0 230.2h0M488.4 248.0h0M487.3 247.8h0M432.3 204.9h0M463.7 233.4h0M465.6 230.3h0M466.1 233.5h0M465.2 233.0h0M471.8 223.2h0M474.8 223.1h0M472.3 225.4h0M474.1 223.4h0M473.2 222.9h0M487.0 228.3h0M486.1 226.8h0M487.1 228.5h0M480.2 220.0h0M481.6 220.5h0M470.9 244.2h0M470.9 243.7h0M471.2 245.1h0M487.8 214.3h0M444.7 213.1h0M444.7 213.5h0M447.1 215.2h0M444.9 216.7h0M446.1 215.9h0M479.1 225.3h0M478.2 223.4h0M478.5 226.4h0M477.2 226.4h0M479.0 224.4h0M451.3 215.0h0M451.7 217.0h0M453.1 214.6h0M454.8 214.9h0M488.3 238.6h0M486.1 235.8h0M486.4 235.0h0M487.7 236.1h0M488.5 236.5h0M487.6 237.2h0M447.5 212.3h0M447.4 213.0h0M447.7 211.5h0M430.1 236.9h0M431.6 240.1h0M430.6 239.0h0M427.7 238.4h0M429.2 240.6h0M428.8 240.5h0M471.2 245.2h0M470.1 245.4h0M431.4 210.1h0M431.3 207.0h0M445.9 210.6h0M447.5 214.2h0M448.8 212.3h0M429.0 207.5h0M427.9 209.2h0M429.4 206.5h0M431.0 209.1h0M428.2 206.5h0M428.3 208.6h0M426.7 226.5h0M463.0 231.5h0M461.2 230.9h0M441.9 205.8h0M453.0 229.6h0M482.5 233.6h0M484.0 232.0h0M484.3 231.8h0M429.4 241.4h0M428.3 242.1h0M431.1 243.1h0M428.7 241.2h0M430.6 240.5h0M432.6 241.4h0M428.7 242.5h0M428.4 241.2h0M468.5 247.0h0M467.5 247.1h0M469.2 248.5h0M466.4 227.8h0M464.5 228.1h0M467.4 221.1h0M471.7 221.2h0M467.7 222.0h0M470.3 221.3h0M469.5 216.4h0M470.0 216.0h0M467.8 217.0h0M446.0 202.2h0M447.5 202.9h0M447.2 202.1h0M447.6 205.0h0M447.2 204.3h0M457.1 228.8h0M441.4 244.2h0M441.0 245.9h0M442.9 244.1h0M434.7 235.6h0M433.3 233.4h0M434.2 234.2h0M433.7 232.3h0M435.0 233.5h0M452.3 233.9h0M454.9 232.3h0M486.1 226.8h0M435.3 230.2h0M448.0 219.6h0M472.8 240.6h0M472.2 241.6h0M473.8 240.5h0M478.1 239.8h0M456.9 211.8h0M457.4 210.7h0M460.9 212.4h0M487.3 241.6h0M485.1 240.4h0M484.9 242.5h0M468.4 226.3h0M477.9 235.8h0M475.1 237.7h0M473.6 236.0h0M429.7 241.1h0M426.4 239.9h0M483.5 234.0h0M483.9 232.2h0M485.5 233.0h0M484.2 235.1h0M484.7 233.1h0M480.9 233.5h0M481.7 233.3h0M482.9 232.2h0M449.2 202.4h0M449.6 201.4h0M447.3 201.2h0M479.6 223.5h0M479.8 223.7h0M480.3 225.5h0M470.5 224.4h0M472.4 223.9h0M471.9 224.1h0M471.5 223.1h0M434.5 207.3h0M431.6 231.4h0M431.9 231.5h0M430.0 229.3h0M429.8 229.3h0M432.6 229.6h0M430.9 231.4h0M435.4 236.7h0M458.5 227.2h0M457.0 228.1h0M455.3 224.7h0M455.5 226.0h0M476.4 236.7h0M467.8 202.2h0M467.7 202.3h0M468.2 202.6h0M466.5 201.1h0M465.0 201.2h0M438.1 223.8h0M441.0 223.1h0M439.1 223.8h0M440.1 223.6h0M453.6 248.5h0M462.7 203.6h0M461.7 202.3h0M458.5 202.2h0M461.5 202.9h0M460.2 202.8h0M458.8 205.1h0M459.1 202.2h0M458.8 204.0h0M426.5 229.5h0M465.8 245.3h0M467.2 242.2h0M463.6 241.7h0M428.7 217.4h0M429.5 215.6h0M430.0 218.5h0M457.8 221.8h0M457.0 220.8h0M456.8 221.2h0M458.3 221.0h0M458.7 247.0h0M461.5 245.4h0M461.7 246.8h0M459.2 247.6h0M461.1 247.3h0M461.6 245.5h0M461.5 245.6h0M460.6 246.9h0M447.6 226.2h0" stroke="#5559a4" stroke-width="2.8" stroke-linecap="round" stroke-opacity="0.4"/>
<path d="M486.5 207.5h0M470.1 238.2h0M469.8 239.4h0M471.0 238.7h0M460.1 238.0h0M461.7 237.3h0M459.8 239.5h0M480.9 231.1h0M478.9 231.5h0M477.6 232.0h0M481.2 229.0h0M478.1 230.5h0M479.2 232.6h0M452.4 218.0h0M441.6 244.4h0M442.3 247.7h0M441.7 245.7h0M463.2 226.3h0M462.3 228.9h0M462.3 228.8h0M473.4 203.0h0M477.1 204.4h0M436.7 230.8h0M434.4 227.6h0M436.5 229.1h0M474.7 238.3h0M472.9 240.0h0M476.4 238.1h0M475.9 237.5h0M472.9 238.6h0M477.1 238.7h0M472.7 239.2h0M473.9 237.7h0M475.2 243.9h0M475.8 244.3h0M476.0 243.3h0M473.9 241.7h0M474.9 242.1h0M476.2 243.5h0M468.2 249.9h0M479.6 200.6h0M479.1 204.1h0M478.1 201.7h0M469.1 223.2h0M469.0 222.7h0M467.4 208.7h0M468.3 209.4h0M468.8 206.8h0M467.2 210.4h0M468.1 210.4h0M465.6 208.9h0M466.0 208.9h0M466.8 209.3h0M486.7 235.7h0M488.8 234.3h0M485.8 234.9h0M443.1 245.5h0M443.8 246.2h0M457.5 236.6h0M450.8 245.9h0M437.1 208.6h0M428.0 227.6h0M430.9 203.6h0M443.1 246.5h0M443.5 249.9h0M446.8 247.2h0M446.6 246.7h0M443.9 246.8h0M444.5 249.0h0M430.1 247.2h0M430.1 250.1h0M477.9 248.2h0M447.5 243.8h0M445.6 241.2h0M481.8 224.3h0M483.8 225.3h0M444.6 207.4h0M435.0 227.8h0M435.8 230.0h0M432.6 230.9h0M460.6 223.8h0M459.9 224.7h0M461.1 224.5h0M461.3 222.1h0M464.0 225.6h0M462.2 223.5h0M460.1 223.3h0M462.1 225.0h0M471.9 208.1h0M474.5 210.5h0M472.3 223.6h0M453.5 244.1h0M453.9 240.9h0M451.6 241.6h0M460.6 230.9h0M459.3 232.2h0M487.1 207.7h0M489.0 206.4h0M460.3 225.7h0M459.2 224.7h0M460.2 227.3h0M458.7 227.9h0M460.1 226.7h0M457.9 227.3h0M461.5 228.4h0M459.1 226.5h0M432.0 221.3h0M430.3 217.7h0M430.2 218.0h0M429.9 221.4h0M446.2 244.8h0M447.5 245.4h0M442.9 243.9h0M444.3 243.5h0M443.3 245.3h0M445.6 246.6h0M444.9 244.8h0M444.3 246.0h0M431.5 247.4h0M433.3 245.9h0M435.4 249.5h0M482.6 224.4h0M485.8 224.1h0M484.2 224.5h0M461.7 247.5h0M459.7 247.7h0M450.8 209.9h0M451.6 210.4h0M473.1 243.5h0M472.7 242.7h0M472.8 243.3h0M474.5 241.6h0M472.6 242.1h0M474.4 239.8h0M473.6 240.3h0M475.5 240.7h0M485.2 223.1h0M484.9 224.3h0M483.0 226.2h0M484.3 223.5h0M483.4 224.8h0M484.1 225.6h0M453.3 206.9h0M449.7 206.7h0M453.1 209.4h0M451.9 208.6h0M451.7 205.7h0M453.2 207.0h0M449.8 209.9h0M449.7 206.7h0M468.6 230.2h0M469.0 230.2h0M488.4 248.0h0M487.3 247.8h0M432.3 204.9h0M463.7 233.4h0M465.6 230.3h0M466.1 233.5h0M465.2 233.0h0M471.8 223.2h0M474.8 223.1h0M472.3 225.4h0M474.1 223.4h0M473.2 222.9h0M487.0 228.3h0M486.1 226.8h0M487.1 228.5h0M480.2 220.0h0M481.6 220.5h0M470.9 244.2h0M470.9 243.7h0M471.2 245.1h0M487.8 214.3h0M444.7 213.1h0M444.7 213.5h0M447.1 215.2h0M444.9 216.7h0M446.1 215.9h0M479.1 225.3h0M478.2 223.4h0M478.5 226.4h0M477.2 226.4h0M479.0 224.4h0M451.3 215.0h0M451.7 217.0h0M453.1 214.6h0M454.8 214.9h0M488.3 238.6h0M486.1 235.8h0M486.4 235.0h0M487.7 236.1h0M488.5 236.5h0M487.6 237.2h0M447.5 212.3h0M447.4 213.0h0M447.7 211.5h0M430.1 236.9h0M431.6 240.1h0M430.6 239.0h0M427.7 238.4h0M429.2 240.6h0M428.8 240.5h0M471.2 245.2h0M470.1 245.4h0M431.4 210.1h0M431.3 207.0h0M445.9 210.6h0M447.5 214.2h0M448.8 212.3h0M429.0 207.5h0M427.9 209.2h0M429.4 206.5h0M431.0 209.1h0M428.2 206.5h0M428.3 208.6h0M426.7 226.5h0M463.0 231.5h0M461.2 230.9h0M441.9 205.8h0M453.0 229.6h0M482.5 233.6h0M484.0 232.0h0M484.3 231.8h0M429.4 241.4h0M428.3 242.1h0M431.1 243.1h0M428.7 241.2h0M430.6 240.5h0M432.6 241.4h0M428.7 242.5h0M428.4 241.2h0M468.5 247.0h0M467.5 247.1h0M469.2 248.5h0M466.4 227.8h0M464.5 228.1h0M467.4 221.1h0M471.7 221.2h0M467.7 222.0h0M470.3 221.3h0M469.5 216.4h0M470.0 216.0h0M467.8 217.0h0M446.0 202.2h0M447.5 202.9h0M447.2 202.1h0M447.6 205.0h0M447.2 204.3h0M457.1 228.8h0M441.4 244.2h0M441.0 245.9h0M442.9 244.1h0M434.7 235.6h0M433.3 233.4h0M434.2 234.2h0M433.7 232.3h0M435.0 233.5h0M452.3 233.9h0M454.9 232.3h0M486.1 226.8h0M435.3 230.2h0M448.0 219.6h0M472.8 240.6h0M472.2 241.6h0M473.8 240.5h0M478.1 239.8h0M456.9 211.8h0M457.4 210.7h0M460.9 212.4h0M487.3 241.6h0M485.1 240.4h0M484.9 242.5h0M468.4 226.3h0M477.9 235.8h0M475.1 237.7h0M473.6 236.0h0M429.7 241.1h0M426.4 239.9h0M483.5 234.0h0M483.9 232.2h0M485.5 233.0h0M484.2 235.1h0M484.7 233.1h0M480.9 233.5h0M481.7 233.3h0M482.9 232.2h0M449.2 202.4h0M449.6 201.4h0M447.3 201.2h0M479.6 223.5h0M479.8 223.7h0M480.3 225.5h0M470.5 224.4h0M472.4 223.9h0M471.9 224.1h0M471.5 223.1h0M434.5 207.3h0M431.6 231.4h0M431.9 231.5h0M430.0 229.3h0M429.8 229.3h0M432.6 229.6h0M430.9 231.4h0M435.4 236.7h0M458.5 227.2h0M457.0 228.1h0M455.3 224.7h0M455.5 226.0h0M476.4 236.7h0M467.8 202.2h0M467.7 202.3h0M468.2 202.6h0M466.5 201.1h0M465.0 201.2h0M438.1 223.8h0M441.0 223.1h0M439.1 223.8h0M440.1 223.6h0M453.6 248.5h0M462.7 203.6h0M461.7 202.3h0M458.5 202.2h0M461.5 202.9h0M460.2 202.8h0M458.8 205.1h0M459.1 202.2h0M458.8 204.0h0M426.5 229.5h0M465.8 245.3h0M467.2 242.2h0M463.6 241.7h0M428.7 217.4h0M429.5 215.6h0M430.0 218.5h0M457.8 221.8h0M457.0 220.8h0M456.8 221.2h0M458.3 221.0h0M458.7 247.0h0M461.5 245.4h0M461.7 246.8h0M459.2 247.6h0M461.1 247.3h0M461.6 245.5h0M461.5 245.6h0M460.6 246.9h0M447.6 226.2h0" stroke="#2b2c7e" stroke-width="2" stroke-linecap="round"/>
<rect x="484" y="251.2" width="5" height="1.3" fill="#e8141c"/>
<rect x="495.2" y="198.8" width="68" height="55" filter="url(#ftw)"/>
<path d="M503.2 237.4h0M556.2 212.3h0M535.3 238.0h0M531.5 214.0h0M509.0 245.9h0M540.8 237.7h0M537.4 220.7h0M545.7 216.1h0M553.4 220.6h0M527.5 231.2h0M549.2 231.5h0M549.8 199.9h0M553.0 209.6h0M553.7 206.6h0M528.1 217.9h0M516.8 235.2h0M545.8 233.7h0M547.1 213.4h0M519.4 210.9h0M522.1 234.0h0M559.1 220.2h0M504.9 237.2h0M523.2 236.3h0M556.8 220.2h0M523.3 227.3h0M559.9 237.4h0M549.3 248.4h0M506.8 252.7h0M526.4 204.1h0M533.5 207.7h0M535.3 215.8h0M503.7 230.0h0M527.6 245.1h0M529.0 242.8h0M523.6 224.6h0M496.5 209.9h0M526.8 226.3h0M501.3 211.9h0M541.8 207.4h0M501.1 229.0h0M499.1 237.6h0M503.7 250.2h0M542.9 200.7h0M547.4 206.0h0M537.2 248.7h0M557.8 218.5h0M527.2 228.0h0M560.8 246.4h0M504.5 211.5h0M541.9 244.1h0M497.0 216.2h0M496.8 250.7h0M549.2 211.6h0M497.2 206.2h0M551.5 241.9h0M540.8 228.1h0M551.7 206.7h0M550.7 243.8h0M515.7 235.8h0M551.0 217.8h0M534.8 234.4h0M531.6 206.3h0M529.8 210.8h0M505.6 209.4h0M503.0 226.5h0M513.7 252.1h0M549.2 205.1h0M550.6 213.7h0M528.5 230.6h0M520.8 232.0h0M510.8 218.4h0M559.6 236.0h0M546.2 228.9h0M525.8 236.5h0M496.8 252.7h0M524.9 202.2h0M501.6 226.3h0M516.9 229.8h0M538.1 237.5h0M527.2 200.1h0M517.2 245.7h0M528.7 218.7h0M561.1 238.7h0M496.4 230.9h0M555.3 241.2h0M500.9 238.6h0M500.4 212.0h0M540.9 252.5h0M560.6 235.3h0M552.5 221.0h0M542.1 224.2h0M499.8 249.5h0M503.1 207.8h0M536.2 216.0h0M512.0 203.9h0M517.1 247.1h0M498.2 242.8h0M554.5 231.5h0M543.7 230.2h0M512.5 240.0h0M513.0 242.2h0M548.1 221.4h0M553.9 212.6h0M529.7 214.6h0M536.6 201.9h0M558.9 228.0h0M518.7 214.9h0M510.6 243.3h0M550.3 246.6h0M553.6 225.9h0M507.3 245.4h0M535.7 241.4h0M504.0 236.5h0M507.2 209.9h0M515.2 236.3h0M523.4 223.2h0M529.6 230.3h0M523.4 240.0h0M528.4 217.0h0M519.2 220.8h0M560.5 213.6h0M503.5 214.7h0M538.2 200.6h0M517.0 248.0h0" stroke="#9ba1c9" stroke-width="0.8" stroke-linecap="round"/>
<path d="M557.0 249.8h0M521.3 219.1h0M519.5 217.3h0M501.8 252.3h0M503.3 250.1h0M505.6 252.3h0M501.6 250.5h0M534.9 250.1h0M538.5 250.7h0M539.1 250.7h0M548.3 208.6h0M549.1 208.6h0M550.4 210.6h0M550.2 208.5h0M504.0 205.3h0M514.8 231.0h0M516.6 241.7h0M515.8 240.3h0M516.9 239.3h0M516.0 241.6h0M516.4 240.1h0M521.6 223.6h0M499.2 242.6h0M498.0 242.0h0M499.7 242.0h0M498.3 242.7h0M498.5 240.9h0M499.3 242.8h0M496.7 242.8h0M503.4 230.8h0M503.0 228.2h0M500.3 230.3h0M501.1 229.7h0M504.3 227.9h0M504.2 228.1h0M500.6 230.3h0M503.5 227.6h0M511.4 217.6h0M511.6 215.2h0M512.0 215.9h0M507.3 251.5h0M504.4 250.4h0M534.5 224.7h0M533.0 225.1h0M535.3 224.2h0M531.3 226.0h0M500.1 234.0h0M498.1 236.2h0M500.7 234.3h0M508.7 227.6h0M509.8 226.5h0M527.4 241.2h0M528.4 239.5h0M529.5 239.7h0M530.0 240.4h0M531.4 241.4h0M527.9 239.0h0M530.5 239.7h0M528.5 239.5h0M554.9 251.9h0M526.8 206.2h0M529.0 206.9h0M528.5 207.8h0M525.1 205.8h0M526.2 206.8h0M527.4 208.1h0M537.2 241.0h0M540.9 215.5h0M536.1 202.2h0M497.7 232.1h0M555.1 215.6h0M535.2 217.2h0M510.6 249.7h0M508.4 249.6h0M509.5 249.3h0M508.8 230.0h0M512.8 229.0h0M520.1 251.1h0M545.4 229.5h0M548.2 228.6h0M525.7 210.2h0M528.8 208.8h0M528.1 207.2h0M520.5 226.2h0M526.6 231.8h0M523.9 232.2h0M525.3 230.7h0M524.0 232.4h0M498.2 218.7h0M498.6 221.5h0M498.2 220.2h0M497.1 219.7h0M497.9 220.3h0M500.4 221.2h0M500.0 222.0h0M498.0 222.3h0M544.1 230.2h0M545.9 230.6h0M545.1 230.4h0M547.7 230.7h0M544.1 231.5h0M542.6 210.7h0M546.1 213.2h0M546.8 211.0h0M546.7 213.1h0M545.7 211.5h0M545.2 211.1h0M546.9 212.7h0M544.4 209.4h0M536.2 226.5h0M537.7 226.8h0M556.6 247.7h0M557.1 247.4h0M556.8 248.9h0M556.2 247.6h0M556.7 248.3h0M557.5 246.4h0M554.9 247.6h0M557.3 246.6h0M504.1 240.1h0M503.2 241.0h0M507.4 241.9h0M527.4 215.3h0M525.5 217.1h0M527.1 215.7h0M527.3 213.4h0M528.2 216.5h0M526.4 214.1h0M505.6 234.3h0M508.4 233.5h0M507.5 237.4h0M508.7 233.8h0M510.1 234.9h0M509.0 236.8h0M507.0 236.4h0M505.1 235.6h0M548.0 206.8h0M545.7 205.8h0M535.0 242.1h0M535.3 241.5h0M532.9 240.8h0M533.2 233.5h0M554.9 214.5h0M556.8 214.6h0M524.5 225.3h0M521.1 238.5h0M500.6 201.3h0M499.1 200.3h0M558.4 233.3h0M513.1 227.2h0M512.6 227.0h0M512.6 229.7h0M513.1 227.7h0M513.9 229.3h0M516.0 228.7h0M514.0 204.6h0M517.7 204.9h0M516.2 203.7h0M516.3 204.6h0M534.3 248.4h0M536.5 248.1h0M534.9 246.0h0M512.3 246.5h0M514.2 248.6h0M543.2 240.6h0M542.2 238.1h0M545.8 239.6h0M517.1 241.6h0M509.6 244.5h0M510.2 246.7h0M520.5 228.9h0M518.8 231.7h0M516.7 231.1h0M516.2 228.7h0M498.9 234.4h0M549.9 227.8h0M552.0 228.6h0M550.8 226.6h0M550.8 226.8h0M551.8 230.0h0M550.0 227.3h0M550.8 227.5h0M549.8 230.0h0M554.5 202.0h0M555.5 201.9h0M524.9 241.5h0M560.2 245.6h0M508.3 243.9h0M507.5 242.1h0M525.5 251.1h0M498.3 219.8h0M497.6 218.7h0M496.8 218.7h0M497.6 220.1h0M502.0 213.1h0M523.0 214.0h0M525.8 214.2h0M525.2 213.9h0M523.2 214.0h0M552.2 202.0h0M553.2 246.8h0M551.1 248.6h0M552.6 246.5h0M551.5 247.3h0M553.9 248.3h0M515.1 242.2h0M517.6 241.4h0M517.0 231.1h0M518.1 233.9h0M516.7 233.1h0M524.2 205.9h0M527.9 204.1h0M511.3 218.0h0M542.6 252.4h0M542.9 250.5h0M544.5 250.2h0M545.1 250.8h0M506.9 238.2h0M526.0 231.8h0M526.9 230.4h0M523.0 229.1h0M512.0 242.0h0M510.6 243.2h0M509.3 243.9h0M513.6 242.7h0M510.1 245.1h0M553.0 251.8h0M551.8 249.4h0M553.4 249.6h0M554.2 251.5h0M553.1 250.4h0M553.2 250.3h0M553.2 250.8h0M520.6 207.6h0M521.5 207.2h0M533.4 249.5h0" stroke="#5559a4" stroke-width="2.8" stroke-linecap="round" stroke-opacity="0.4"/>
<path d="M557.0 249.8h0M521.3 219.1h0M519.5 217.3h0M501.8 252.3h0M503.3 250.1h0M505.6 252.3h0M501.6 250.5h0M534.9 250.1h0M538.5 250.7h0M539.1 250.7h0M548.3 208.6h0M549.1 208.6h0M550.4 210.6h0M550.2 208.5h0M504.0 205.3h0M514.8 231.0h0M516.6 241.7h0M515.8 240.3h0M516.9 239.3h0M516.0 241.6h0M516.4 240.1h0M521.6 223.6h0M499.2 242.6h0M498.0 242.0h0M499.7 242.0h0M498.3 242.7h0M498.5 240.9h0M499.3 242.8h0M496.7 242.8h0M503.4 230.8h0M503.0 228.2h0M500.3 230.3h0M501.1 229.7h0M504.3 227.9h0M504.2 228.1h0M500.6 230.3h0M503.5 227.6h0M511.4 217.6h0M511.6 215.2h0M512.0 215.9h0M507.3 251.5h0M504.4 250.4h0M534.5 224.7h0M533.0 225.1h0M535.3 224.2h0M531.3 226.0h0M500.1 234.0h0M498.1 236.2h0M500.7 234.3h0M508.7 227.6h0M509.8 226.5h0M527.4 241.2h0M528.4 239.5h0M529.5 239.7h0M530.0 240.4h0M531.4 241.4h0M527.9 239.0h0M530.5 239.7h0M528.5 239.5h0M554.9 251.9h0M526.8 206.2h0M529.0 206.9h0M528.5 207.8h0M525.1 205.8h0M526.2 206.8h0M527.4 208.1h0M537.2 241.0h0M540.9 215.5h0M536.1 202.2h0M497.7 232.1h0M555.1 215.6h0M535.2 217.2h0M510.6 249.7h0M508.4 249.6h0M509.5 249.3h0M508.8 230.0h0M512.8 229.0h0M520.1 251.1h0M545.4 229.5h0M548.2 228.6h0M525.7 210.2h0M528.8 208.8h0M528.1 207.2h0M520.5 226.2h0M526.6 231.8h0M523.9 232.2h0M525.3 230.7h0M524.0 232.4h0M498.2 218.7h0M498.6 221.5h0M498.2 220.2h0M497.1 219.7h0M497.9 220.3h0M500.4 221.2h0M500.0 222.0h0M498.0 222.3h0M544.1 230.2h0M545.9 230.6h0M545.1 230.4h0M547.7 230.7h0M544.1 231.5h0M542.6 210.7h0M546.1 213.2h0M546.8 211.0h0M546.7 213.1h0M545.7 211.5h0M545.2 211.1h0M546.9 212.7h0M544.4 209.4h0M536.2 226.5h0M537.7 226.8h0M556.6 247.7h0M557.1 247.4h0M556.8 248.9h0M556.2 247.6h0M556.7 248.3h0M557.5 246.4h0M554.9 247.6h0M557.3 246.6h0M504.1 240.1h0M503.2 241.0h0M507.4 241.9h0M527.4 215.3h0M525.5 217.1h0M527.1 215.7h0M527.3 213.4h0M528.2 216.5h0M526.4 214.1h0M505.6 234.3h0M508.4 233.5h0M507.5 237.4h0M508.7 233.8h0M510.1 234.9h0M509.0 236.8h0M507.0 236.4h0M505.1 235.6h0M548.0 206.8h0M545.7 205.8h0M535.0 242.1h0M535.3 241.5h0M532.9 240.8h0M533.2 233.5h0M554.9 214.5h0M556.8 214.6h0M524.5 225.3h0M521.1 238.5h0M500.6 201.3h0M499.1 200.3h0M558.4 233.3h0M513.1 227.2h0M512.6 227.0h0M512.6 229.7h0M513.1 227.7h0M513.9 229.3h0M516.0 228.7h0M514.0 204.6h0M517.7 204.9h0M516.2 203.7h0M516.3 204.6h0M534.3 248.4h0M536.5 248.1h0M534.9 246.0h0M512.3 246.5h0M514.2 248.6h0M543.2 240.6h0M542.2 238.1h0M545.8 239.6h0M517.1 241.6h0M509.6 244.5h0M510.2 246.7h0M520.5 228.9h0M518.8 231.7h0M516.7 231.1h0M516.2 228.7h0M498.9 234.4h0M549.9 227.8h0M552.0 228.6h0M550.8 226.6h0M550.8 226.8h0M551.8 230.0h0M550.0 227.3h0M550.8 227.5h0M549.8 230.0h0M554.5 202.0h0M555.5 201.9h0M524.9 241.5h0M560.2 245.6h0M508.3 243.9h0M507.5 242.1h0M525.5 251.1h0M498.3 219.8h0M497.6 218.7h0M496.8 218.7h0M497.6 220.1h0M502.0 213.1h0M523.0 214.0h0M525.8 214.2h0M525.2 213.9h0M523.2 214.0h0M552.2 202.0h0M553.2 246.8h0M551.1 248.6h0M552.6 246.5h0M551.5 247.3h0M553.9 248.3h0M515.1 242.2h0M517.6 241.4h0M517.0 231.1h0M518.1 233.9h0M516.7 233.1h0M524.2 205.9h0M527.9 204.1h0M511.3 218.0h0M542.6 252.4h0M542.9 250.5h0M544.5 250.2h0M545.1 250.8h0M506.9 238.2h0M526.0 231.8h0M526.9 230.4h0M523.0 229.1h0M512.0 242.0h0M510.6 243.2h0M509.3 243.9h0M513.6 242.7h0M510.1 245.1h0M553.0 251.8h0M551.8 249.4h0M553.4 249.6h0M554.2 251.5h0M553.1 250.4h0M553.2 250.3h0M553.2 250.8h0M520.6 207.6h0M521.5 207.2h0M533.4 249.5h0" stroke="#2b2c7e" stroke-width="2" stroke-linecap="round"/>
<rect x="556.7" y="251.2" width="5" height="1.3" fill="#e8141c"/>
<rect x="349.4" y="259.4" width="67.6" height="57.6" filter="url(#ftw)"/>
<path d="M369.7 261.5h0M378.6 296.9h0M371.4 311.5h0M394.5 263.0h0M382.9 307.1h0M396.7 310.7h0M370.5 293.6h0M352.2 310.7h0M392.1 297.4h0M367.4 295.2h0M390.0 276.2h0M405.9 291.6h0M370.0 304.2h0M382.3 283.6h0M377.5 287.6h0M384.8 304.7h0M371.0 293.4h0M383.3 282.5h0M394.6 290.3h0M374.1 272.6h0M390.1 274.8h0M378.3 300.8h0M379.1 271.8h0M356.5 284.5h0M382.3 304.0h0M395.6 291.3h0M415.9 275.3h0M393.7 279.9h0M384.1 311.4h0M351.8 276.1h0M386.5 291.4h0M357.6 260.9h0M407.2 263.1h0M353.0 301.6h0M367.8 279.7h0M391.1 285.6h0M365.9 286.1h0M365.7 264.6h0M401.5 300.6h0M380.0 307.9h0M365.4 286.3h0M400.4 287.0h0M380.6 265.1h0M362.6 277.1h0M395.9 272.2h0M374.0 290.5h0M357.2 270.9h0M351.4 300.0h0M366.4 272.7h0M389.7 269.2h0M382.5 261.4h0M384.8 282.7h0M384.0 311.7h0M393.5 308.8h0M376.7 265.1h0M380.9 292.0h0M359.8 287.9h0M368.4 278.5h0M380.2 292.2h0M367.7 303.3h0M369.6 293.2h0M383.4 289.4h0M367.7 267.1h0M377.4 300.6h0M355.6 306.2h0M367.8 276.5h0M355.9 284.6h0M384.8 295.2h0M406.3 272.8h0M361.5 315.0h0M413.1 305.2h0M359.8 294.7h0M382.0 305.3h0M361.7 272.6h0M411.8 297.9h0M410.1 276.0h0M395.6 283.7h0M368.5 315.6h0M351.7 292.2h0M399.2 298.9h0M401.8 289.6h0M410.4 279.7h0M372.0 313.0h0M405.4 303.3h0M412.8 277.9h0M402.7 278.3h0M413.5 298.6h0M408.9 274.5h0M387.4 307.9h0M382.8 309.2h0M378.0 268.0h0M402.0 274.4h0M410.8 280.2h0M392.4 274.6h0M408.5 270.9h0M353.8 281.4h0M415.9 299.3h0M402.8 309.0h0M361.9 295.5h0M372.4 263.3h0M403.7 269.9h0M379.6 272.9h0M362.9 261.9h0M405.0 278.4h0M362.3 285.7h0M400.3 282.8h0M373.7 267.0h0M411.7 291.5h0M402.6 273.9h0M362.9 282.2h0M367.8 300.9h0M369.4 290.2h0M354.0 275.0h0M394.5 286.7h0M408.6 273.2h0M398.0 314.5h0M386.2 284.7h0M377.1 264.9h0M399.4 289.1h0M407.3 276.9h0M384.0 280.6h0M358.8 273.3h0M404.8 298.4h0M384.1 280.5h0M398.1 269.5h0M407.2 274.7h0M382.0 293.0h0M376.1 265.1h0M414.0 261.8h0" stroke="#9ba1c9" stroke-width="0.8" stroke-linecap="round"/>
<path d="M397.0 306.9h0M361.7 298.2h0M412.0 262.5h0M412.8 260.9h0M409.3 261.8h0M413.2 264.6h0M412.0 266.5h0M385.9 280.9h0M408.9 264.5h0M361.5 306.4h0M360.5 305.1h0M362.2 308.2h0M361.2 308.1h0M381.9 297.6h0M384.6 273.6h0M383.0 274.7h0M364.2 273.0h0M366.3 271.0h0M361.4 294.1h0M363.2 292.0h0M364.3 290.9h0M379.2 304.0h0M395.1 305.4h0M398.3 303.6h0M396.6 306.7h0M398.3 306.9h0M398.8 306.0h0M405.0 311.0h0M401.6 311.7h0M402.5 312.3h0M402.2 309.5h0M403.1 310.6h0M409.8 287.2h0M359.3 298.1h0M359.1 297.1h0M359.2 296.1h0M360.7 295.9h0M358.7 296.1h0M360.8 295.5h0M357.4 270.8h0M389.1 288.3h0M388.5 288.1h0M388.5 288.2h0M391.9 289.3h0M390.3 288.3h0M363.1 269.1h0M412.0 306.6h0M412.2 309.3h0M411.0 306.0h0M413.1 308.6h0M414.1 307.8h0M414.9 307.2h0M411.5 307.6h0M413.1 305.5h0M360.8 263.2h0M403.6 263.2h0M369.7 273.0h0M372.2 275.6h0M369.8 272.8h0M371.3 274.6h0M403.3 313.5h0M402.4 314.8h0M401.4 313.8h0M402.2 313.4h0M404.9 313.3h0M351.4 301.9h0M354.6 304.0h0M413.2 309.9h0M413.2 310.6h0M414.3 312.6h0M413.4 311.7h0M415.2 309.8h0M415.4 309.9h0M413.0 310.1h0M351.6 307.2h0M412.8 285.3h0M412.6 288.0h0M412.5 286.8h0M412.3 286.7h0M411.3 286.2h0M413.2 271.8h0M397.9 313.1h0M398.8 314.4h0M400.8 311.9h0M398.7 314.9h0M351.4 276.6h0M351.0 278.4h0M352.9 276.2h0M352.7 275.8h0M353.0 276.7h0M372.4 275.4h0M370.8 276.9h0M368.8 312.9h0M369.9 313.6h0M387.0 302.1h0M387.0 305.7h0M359.0 300.6h0M359.9 300.0h0M357.5 300.3h0M359.6 274.9h0M378.4 278.0h0M380.3 275.4h0M381.1 276.6h0M377.4 276.2h0M379.2 277.6h0M376.9 275.8h0M413.7 283.8h0M412.8 285.4h0M413.2 282.8h0M356.9 286.6h0M400.6 296.0h0M400.9 298.2h0M398.9 295.0h0M402.1 298.2h0M388.2 293.3h0M370.3 274.0h0M370.7 272.7h0M373.6 276.5h0M372.1 275.5h0M372.8 275.5h0M370.6 275.4h0M372.6 274.1h0M371.9 277.0h0M368.9 284.2h0M371.9 283.8h0M415.2 295.5h0M363.6 268.6h0M366.9 271.4h0M365.1 267.9h0M367.4 272.4h0M365.8 274.8h0M365.8 274.8h0M414.9 297.8h0M413.9 295.9h0M354.1 315.6h0M377.8 270.6h0M379.1 269.0h0M373.1 306.4h0M369.5 306.6h0M372.7 303.9h0M359.8 291.4h0M354.4 306.0h0M354.2 304.9h0M356.0 305.2h0M361.9 264.4h0M360.0 264.3h0M393.1 307.9h0M390.4 310.0h0M392.2 309.7h0M392.6 276.3h0M402.9 268.4h0M402.8 269.1h0M402.0 267.3h0M381.4 313.1h0M381.0 315.4h0M394.5 269.3h0M396.0 273.0h0M352.4 293.8h0M396.4 291.8h0M396.5 292.4h0M395.9 291.8h0M398.7 292.3h0M395.7 293.5h0M397.1 291.0h0M397.7 290.2h0M397.3 292.9h0M351.7 273.1h0M352.3 275.7h0M352.3 277.2h0M351.8 276.4h0M351.5 274.7h0M373.7 274.3h0M374.5 274.8h0M374.2 273.7h0M375.1 274.6h0M376.4 271.8h0M376.3 274.5h0M374.7 292.2h0M377.7 293.1h0M378.4 292.7h0M374.3 294.1h0M378.0 293.3h0M398.2 293.0h0M380.8 295.0h0M380.6 295.4h0M383.5 293.6h0M369.4 293.1h0M370.8 291.9h0M370.6 293.3h0M371.2 292.6h0M367.9 292.3h0M365.8 311.0h0M363.4 310.9h0M407.3 295.4h0M377.2 311.4h0M378.2 310.1h0M361.8 312.3h0M362.8 312.9h0M363.7 310.8h0M374.1 306.3h0M358.8 283.1h0M360.5 281.2h0M415.5 276.0h0M413.9 276.1h0M415.2 273.7h0M414.1 277.2h0M403.4 265.9h0M400.6 264.0h0M372.3 314.0h0M367.6 313.0h0M368.3 315.7h0M371.4 314.6h0M371.0 314.2h0M371.6 313.3h0M372.0 314.7h0M371.5 312.4h0M378.9 268.3h0M377.4 268.7h0M379.7 266.8h0M371.1 265.5h0M400.5 282.3h0M394.8 299.3h0M382.0 305.6h0M384.3 305.5h0" stroke="#5559a4" stroke-width="2.8" stroke-linecap="round" stroke-opacity="0.4"/>
<path d="M397.0 306.9h0M361.7 298.2h0M412.0 262.5h0M412.8 260.9h0M409.3 261.8h0M413.2 264.6h0M412.0 266.5h0M385.9 280.9h0M408.9 264.5h0M361.5 306.4h0M360.5 305.1h0M362.2 308.2h0M361.2 308.1h0M381.9 297.6h0M384.6 273.6h0M383.0 274.7h0M364.2 273.0h0M366.3 271.0h0M361.4 294.1h0M363.2 292.0h0M364.3 290.9h0M379.2 304.0h0M395.1 305.4h0M398.3 303.6h0M396.6 306.7h0M398.3 306.9h0M398.8 306.0h0M405.0 311.0h0M401.6 311.7h0M402.5 312.3h0M402.2 309.5h0M403.1 310.6h0M409.8 287.2h0M359.3 298.1h0M359.1 297.1h0M359.2 296.1h0M360.7 295.9h0M358.7 296.1h0M360.8 295.5h0M357.4 270.8h0M389.1 288.3h0M388.5 288.1h0M388.5 288.2h0M391.9 289.3h0M390.3 288.3h0M363.1 269.1h0M412.0 306.6h0M412.2 309.3h0M411.0 306.0h0M413.1 308.6h0M414.1 307.8h0M414.9 307.2h0M411.5 307.6h0M413.1 305.5h0M360.8 263.2h0M403.6 263.2h0M369.7 273.0h0M372.2 275.6h0M369.8 272.8h0M371.3 274.6h0M403.3 313.5h0M402.4 314.8h0M401.4 313.8h0M402.2 313.4h0M404.9 313.3h0M351.4 301.9h0M354.6 304.0h0M413.2 309.9h0M413.2 310.6h0M414.3 312.6h0M413.4 311.7h0M415.2 309.8h0M415.4 309.9h0M413.0 310.1h0M351.6 307.2h0M412.8 285.3h0M412.6 288.0h0M412.5 286.8h0M412.3 286.7h0M411.3 286.2h0M413.2 271.8h0M397.9 313.1h0M398.8 314.4h0M400.8 311.9h0M398.7 314.9h0M351.4 276.6h0M351.0 278.4h0M352.9 276.2h0M352.7 275.8h0M353.0 276.7h0M372.4 275.4h0M370.8 276.9h0M368.8 312.9h0M369.9 313.6h0M387.0 302.1h0M387.0 305.7h0M359.0 300.6h0M359.9 300.0h0M357.5 300.3h0M359.6 274.9h0M378.4 278.0h0M380.3 275.4h0M381.1 276.6h0M377.4 276.2h0M379.2 277.6h0M376.9 275.8h0M413.7 283.8h0M412.8 285.4h0M413.2 282.8h0M356.9 286.6h0M400.6 296.0h0M400.9 298.2h0M398.9 295.0h0M402.1 298.2h0M388.2 293.3h0M370.3 274.0h0M370.7 272.7h0M373.6 276.5h0M372.1 275.5h0M372.8 275.5h0M370.6 275.4h0M372.6 274.1h0M371.9 277.0h0M368.9 284.2h0M371.9 283.8h0M415.2 295.5h0M363.6 268.6h0M366.9 271.4h0M365.1 267.9h0M367.4 272.4h0M365.8 274.8h0M365.8 274.8h0M414.9 297.8h0M413.9 295.9h0M354.1 315.6h0M377.8 270.6h0M379.1 269.0h0M373.1 306.4h0M369.5 306.6h0M372.7 303.9h0M359.8 291.4h0M354.4 306.0h0M354.2 304.9h0M356.0 305.2h0M361.9 264.4h0M360.0 264.3h0M393.1 307.9h0M390.4 310.0h0M392.2 309.7h0M392.6 276.3h0M402.9 268.4h0M402.8 269.1h0M402.0 267.3h0M381.4 313.1h0M381.0 315.4h0M394.5 269.3h0M396.0 273.0h0M352.4 293.8h0M396.4 291.8h0M396.5 292.4h0M395.9 291.8h0M398.7 292.3h0M395.7 293.5h0M397.1 291.0h0M397.7 290.2h0M397.3 292.9h0M351.7 273.1h0M352.3 275.7h0M352.3 277.2h0M351.8 276.4h0M351.5 274.7h0M373.7 274.3h0M374.5 274.8h0M374.2 273.7h0M375.1 274.6h0M376.4 271.8h0M376.3 274.5h0M374.7 292.2h0M377.7 293.1h0M378.4 292.7h0M374.3 294.1h0M378.0 293.3h0M398.2 293.0h0M380.8 295.0h0M380.6 295.4h0M383.5 293.6h0M369.4 293.1h0M370.8 291.9h0M370.6 293.3h0M371.2 292.6h0M367.9 292.3h0M365.8 311.0h0M363.4 310.9h0M407.3 295.4h0M377.2 311.4h0M378.2 310.1h0M361.8 312.3h0M362.8 312.9h0M363.7 310.8h0M374.1 306.3h0M358.8 283.1h0M360.5 281.2h0M415.5 276.0h0M413.9 276.1h0M415.2 273.7h0M414.1 277.2h0M403.4 265.9h0M400.6 264.0h0M372.3 314.0h0M367.6 313.0h0M368.3 315.7h0M371.4 314.6h0M371.0 314.2h0M371.6 313.3h0M372.0 314.7h0M371.5 312.4h0M378.9 268.3h0M377.4 268.7h0M379.7 266.8h0M371.1 265.5h0M400.5 282.3h0M394.8 299.3h0M382.0 305.6h0M384.3 305.5h0" stroke="#2b2c7e" stroke-width="2" stroke-linecap="round"/>
<rect x="410.5" y="314.4" width="5" height="1.3" fill="#e8141c"/>
<rect x="421.7" y="260.2" width="68.8" height="57.3" filter="url(#ftw)"/>
<path d="M481.3 291.2h0M431.9 293.8h0M457.5 310.1h0M482.4 309.8h0M432.8 289.4h0M456.0 285.1h0M480.7 313.7h0M431.2 305.3h0M450.3 283.5h0M424.4 289.5h0M463.7 300.4h0M431.8 277.2h0M458.5 276.1h0M481.2 285.8h0M424.8 291.2h0M433.9 301.7h0M449.9 311.8h0M433.5 299.9h0M468.5 281.4h0M478.8 307.3h0M486.6 294.4h0M436.6 307.2h0M434.8 300.9h0M442.9 282.6h0M444.3 295.4h0M480.6 307.0h0M423.6 308.3h0M469.2 282.2h0M481.3 276.4h0M479.2 313.8h0M469.7 280.2h0M447.6 277.4h0M451.2 269.7h0M480.6 280.3h0M437.4 272.5h0M462.5 264.4h0M475.9 308.5h0M443.5 270.8h0M487.3 284.0h0M488.0 299.0h0M466.4 292.5h0M427.8 269.2h0M472.4 280.8h0M443.2 313.1h0M439.4 289.1h0M453.5 308.0h0M435.4 279.6h0M445.4 269.5h0M454.0 303.0h0M472.7 279.1h0M467.0 287.8h0M447.7 302.5h0M463.2 267.8h0M447.0 297.3h0M442.0 294.7h0M435.7 276.2h0M436.5 306.4h0M453.9 267.6h0M462.4 272.4h0M424.5 313.6h0M428.3 313.8h0M449.1 267.8h0M480.0 297.3h0M464.0 269.3h0M486.1 307.6h0M458.6 284.0h0M488.9 312.9h0M444.7 284.7h0M459.4 298.3h0M489.2 304.1h0M437.4 267.2h0M425.5 267.4h0M429.5 281.6h0M458.7 289.8h0M461.4 303.1h0M423.2 300.3h0M432.2 302.6h0M480.4 266.5h0M464.4 269.7h0M458.9 271.9h0M470.8 280.7h0M486.7 291.5h0M478.6 277.7h0M479.4 267.0h0M473.6 308.5h0M427.9 291.1h0M434.7 272.6h0M479.2 267.6h0M475.7 287.7h0M432.3 276.4h0M462.9 271.8h0M468.1 314.7h0M488.9 267.0h0M425.7 281.6h0M477.5 312.1h0M454.5 281.0h0M442.3 305.0h0M466.2 282.2h0M461.0 288.2h0M476.7 309.0h0M486.9 304.5h0M461.5 305.6h0M437.3 306.2h0M432.4 308.8h0M472.7 270.4h0M477.0 283.3h0M457.8 269.6h0M451.5 287.4h0M456.4 284.7h0M423.2 301.9h0M484.7 283.1h0M467.5 303.2h0M435.1 294.2h0M463.9 308.1h0M470.7 291.4h0M437.5 263.0h0M429.0 308.5h0M484.2 274.4h0M472.3 272.9h0M454.5 269.7h0M452.2 268.1h0M475.3 288.4h0M439.0 310.5h0M437.8 277.2h0M460.7 271.8h0M486.7 281.9h0M431.2 272.5h0M442.0 315.0h0M432.1 278.6h0M426.0 313.4h0M469.4 262.1h0" stroke="#9ba1c9" stroke-width="0.8" stroke-linecap="round"/>
<path d="M448.0 312.2h0M467.0 264.2h0M467.1 265.1h0M458.8 301.2h0M459.5 299.9h0M432.6 280.8h0M436.1 279.5h0M433.7 280.3h0M433.7 282.7h0M462.2 264.8h0M465.7 267.0h0M465.0 265.7h0M478.2 272.4h0M477.8 271.9h0M476.1 272.3h0M477.3 288.6h0M479.4 296.2h0M475.1 296.7h0M479.2 295.2h0M477.8 296.7h0M435.4 296.3h0M485.9 282.0h0M474.7 291.7h0M473.2 290.6h0M473.8 290.5h0M486.3 268.6h0M487.8 265.9h0M463.4 274.1h0M456.7 301.8h0M456.1 301.9h0M480.3 276.3h0M451.0 315.5h0M449.9 315.1h0M448.3 313.3h0M450.5 316.1h0M451.6 312.7h0M450.4 314.9h0M451.3 313.7h0M451.2 316.2h0M440.5 300.8h0M442.1 306.2h0M443.5 307.4h0M427.4 279.1h0M427.2 280.1h0M484.4 275.7h0M485.1 275.7h0M487.5 273.4h0M485.1 274.9h0M426.5 266.8h0M423.8 313.7h0M484.7 278.3h0M484.6 279.3h0M483.1 278.6h0M483.8 277.1h0M484.4 279.1h0M473.3 302.5h0M476.2 272.5h0M449.1 293.6h0M450.3 297.3h0M460.1 264.8h0M458.7 290.9h0M472.3 264.6h0M472.2 267.0h0M472.0 265.9h0M469.5 265.3h0M471.9 265.1h0M472.4 264.0h0M472.0 266.0h0M472.1 264.6h0M451.3 262.5h0M451.4 264.8h0M449.2 262.3h0M452.0 262.5h0M479.7 272.8h0M481.1 272.9h0M479.0 272.4h0M480.5 271.9h0M480.0 272.5h0M478.7 274.5h0M480.2 274.1h0M482.6 273.2h0M455.9 273.7h0M455.9 275.2h0M455.3 275.7h0M455.8 275.1h0M456.1 275.3h0M428.9 309.1h0M431.1 310.0h0M429.6 310.3h0M429.0 309.0h0M430.3 308.9h0M430.9 309.0h0M433.7 309.5h0M433.0 309.8h0M470.8 300.5h0M425.3 274.7h0M425.5 274.6h0M424.9 276.1h0M425.8 274.2h0M433.9 315.1h0M432.8 315.7h0M466.5 289.4h0M469.0 290.6h0M469.1 291.1h0M464.8 289.3h0M467.0 292.8h0M466.4 289.3h0M446.5 294.4h0M468.7 307.0h0M467.2 306.5h0M466.1 307.7h0M469.2 309.7h0M468.7 307.9h0M469.6 309.4h0M480.2 261.8h0M480.1 262.9h0M481.2 263.2h0M477.9 262.6h0M457.2 293.5h0M441.9 279.3h0M439.4 277.5h0M473.9 310.3h0M465.8 293.6h0M464.9 292.1h0M429.1 267.4h0M467.1 266.3h0M447.3 297.3h0M432.1 272.0h0M433.0 270.1h0M430.7 268.8h0M432.7 270.8h0M434.3 270.2h0M465.4 295.3h0M465.7 294.4h0M466.0 296.4h0M467.6 296.0h0M468.7 263.5h0M469.0 262.7h0M470.8 264.6h0M480.8 315.0h0M479.5 315.7h0M479.8 315.8h0M430.9 265.2h0M429.0 265.9h0M429.2 314.8h0M452.6 304.0h0M431.8 306.2h0M433.2 306.4h0M434.3 303.9h0M431.5 275.4h0M433.6 275.5h0M432.4 273.7h0M470.8 301.2h0M426.3 289.4h0M427.2 289.0h0M488.6 273.5h0M489.0 274.2h0M486.5 276.3h0M487.5 273.2h0M486.2 273.5h0M487.4 276.6h0M483.7 281.7h0M485.5 279.8h0M483.4 282.6h0M451.1 303.4h0M464.1 296.0h0M464.1 298.7h0M464.8 297.4h0M428.8 316.0h0M457.6 314.9h0M424.3 293.2h0M425.4 292.7h0M440.9 313.6h0M471.6 312.6h0M471.9 312.8h0M471.0 311.5h0M472.4 311.4h0M471.9 311.5h0M472.9 308.8h0M463.3 272.1h0M449.3 290.9h0M449.8 291.6h0M449.5 290.0h0M466.7 274.6h0M468.2 274.5h0M466.8 274.8h0M470.8 273.0h0M470.5 273.2h0M485.3 273.5h0M487.4 274.6h0M487.5 274.7h0M487.4 273.5h0M484.6 274.4h0M487.0 276.2h0" stroke="#5559a4" stroke-width="2.8" stroke-linecap="round" stroke-opacity="0.4"/>
<path d="M448.0 312.2h0M467.0 264.2h0M467.1 265.1h0M458.8 301.2h0M459.5 299.9h0M432.6 280.8h0M436.1 279.5h0M433.7 280.3h0M433.7 282.7h0M462.2 264.8h0M465.7 267.0h0M465.0 265.7h0M478.2 272.4h0M477.8 271.9h0M476.1 272.3h0M477.3 288.6h0M479.4 296.2h0M475.1 296.7h0M479.2 295.2h0M477.8 296.7h0M435.4 296.3h0M485.9 282.0h0M474.7 291.7h0M473.2 290.6h0M473.8 290.5h0M486.3 268.6h0M487.8 265.9h0M463.4 274.1h0M456.7 301.8h0M456.1 301.9h0M480.3 276.3h0M451.0 315.5h0M449.9 315.1h0M448.3 313.3h0M450.5 316.1h0M451.6 312.7h0M450.4 314.9h0M451.3 313.7h0M451.2 316.2h0M440.5 300.8h0M442.1 306.2h0M443.5 307.4h0M427.4 279.1h0M427.2 280.1h0M484.4 275.7h0M485.1 275.7h0M487.5 273.4h0M485.1 274.9h0M426.5 266.8h0M423.8 313.7h0M484.7 278.3h0M484.6 279.3h0M483.1 278.6h0M483.8 277.1h0M484.4 279.1h0M473.3 302.5h0M476.2 272.5h0M449.1 293.6h0M450.3 297.3h0M460.1 264.8h0M458.7 290.9h0M472.3 264.6h0M472.2 267.0h0M472.0 265.9h0M469.5 265.3h0M471.9 265.1h0M472.4 264.0h0M472.0 266.0h0M472.1 264.6h0M451.3 262.5h0M451.4 264.8h0M449.2 262.3h0M452.0 262.5h0M479.7 272.8h0M481.1 272.9h0M479.0 272.4h0M480.5 271.9h0M480.0 272.5h0M478.7 274.5h0M480.2 274.1h0M482.6 273.2h0M455.9 273.7h0M455.9 275.2h0M455.3 275.7h0M455.8 275.1h0M456.1 275.3h0M428.9 309.1h0M431.1 310.0h0M429.6 310.3h0M429.0 309.0h0M430.3 308.9h0M430.9 309.0h0M433.7 309.5h0M433.0 309.8h0M470.8 300.5h0M425.3 274.7h0M425.5 274.6h0M424.9 276.1h0M425.8 274.2h0M433.9 315.1h0M432.8 315.7h0M466.5 289.4h0M469.0 290.6h0M469.1 291.1h0M464.8 289.3h0M467.0 292.8h0M466.4 289.3h0M446.5 294.4h0M468.7 307.0h0M467.2 306.5h0M466.1 307.7h0M469.2 309.7h0M468.7 307.9h0M469.6 309.4h0M480.2 261.8h0M480.1 262.9h0M481.2 263.2h0M477.9 262.6h0M457.2 293.5h0M441.9 279.3h0M439.4 277.5h0M473.9 310.3h0M465.8 293.6h0M464.9 292.1h0M429.1 267.4h0M467.1 266.3h0M447.3 297.3h0M432.1 272.0h0M433.0 270.1h0M430.7 268.8h0M432.7 270.8h0M434.3 270.2h0M465.4 295.3h0M465.7 294.4h0M466.0 296.4h0M467.6 296.0h0M468.7 263.5h0M469.0 262.7h0M470.8 264.6h0M480.8 315.0h0M479.5 315.7h0M479.8 315.8h0M430.9 265.2h0M429.0 265.9h0M429.2 314.8h0M452.6 304.0h0M431.8 306.2h0M433.2 306.4h0M434.3 303.9h0M431.5 275.4h0M433.6 275.5h0M432.4 273.7h0M470.8 301.2h0M426.3 289.4h0M427.2 289.0h0M488.6 273.5h0M489.0 274.2h0M486.5 276.3h0M487.5 273.2h0M486.2 273.5h0M487.4 276.6h0M483.7 281.7h0M485.5 279.8h0M483.4 282.6h0M451.1 303.4h0M464.1 296.0h0M464.1 298.7h0M464.8 297.4h0M428.8 316.0h0M457.6 314.9h0M424.3 293.2h0M425.4 292.7h0M440.9 313.6h0M471.6 312.6h0M471.9 312.8h0M471.0 311.5h0M472.4 311.4h0M471.9 311.5h0M472.9 308.8h0M463.3 272.1h0M449.3 290.9h0M449.8 291.6h0M449.5 290.0h0M466.7 274.6h0M468.2 274.5h0M466.8 274.8h0M470.8 273.0h0M470.5 273.2h0M485.3 273.5h0M487.4 274.6h0M487.5 274.7h0M487.4 273.5h0M484.6 274.4h0M487.0 276.2h0" stroke="#2b2c7e" stroke-width="2" stroke-linecap="round"/>
<rect x="484" y="314.9" width="5" height="1.3" fill="#e8141c"/>
<rect x="495.2" y="260.2" width="68" height="57.3" filter="url(#ftw)"/>
<path d="M501.2 289.5h0M513.7 291.2h0M513.5 275.4h0M559.6 281.2h0M525.6 316.2h0M525.5 279.7h0M513.6 269.9h0M551.3 313.3h0M535.4 295.6h0M503.4 264.9h0M520.4 264.6h0M543.1 300.5h0M552.2 282.2h0M529.1 264.5h0M523.8 311.5h0M510.8 293.4h0M532.1 274.1h0M515.6 266.8h0M551.3 309.4h0M551.7 311.0h0M497.7 266.8h0M515.6 269.3h0M541.2 294.5h0M518.5 316.2h0M497.2 272.9h0M507.9 264.0h0M515.9 298.3h0M560.9 291.4h0M510.9 289.9h0M533.1 271.3h0M540.5 309.7h0M540.8 267.4h0M533.3 314.7h0M543.9 280.3h0M513.4 304.8h0M515.5 314.8h0M559.2 293.4h0M505.9 294.9h0M531.5 261.8h0M499.8 287.2h0M526.0 268.4h0M547.2 296.7h0M513.6 304.2h0M534.4 281.3h0M538.8 268.2h0M499.5 298.8h0M530.0 281.4h0M524.7 296.8h0M504.9 296.6h0M505.7 312.5h0M514.0 295.2h0M537.0 266.0h0M505.5 312.5h0M560.6 308.3h0M553.2 312.3h0M518.1 272.3h0M507.8 280.2h0M505.4 282.7h0M544.2 289.4h0M500.7 307.9h0M514.3 310.5h0M501.2 261.9h0M514.9 296.6h0M557.5 291.2h0M548.2 263.6h0M517.1 285.9h0M510.9 264.0h0M499.2 271.4h0M508.9 280.3h0M497.5 293.9h0M551.2 298.6h0M514.5 288.4h0M551.4 278.0h0M534.5 282.5h0M516.3 283.7h0M551.1 304.9h0M502.3 299.3h0M548.7 295.2h0M504.8 310.9h0M520.6 287.6h0M538.2 274.5h0M500.4 314.2h0M537.8 267.0h0M497.9 302.0h0M499.5 315.2h0M525.7 301.3h0M538.9 313.3h0M523.7 310.4h0M527.7 280.2h0M527.8 275.9h0M515.0 299.8h0M553.1 268.6h0M531.7 298.8h0M534.5 301.9h0M543.9 287.8h0M500.2 304.6h0M511.4 267.8h0M554.6 310.0h0M523.3 288.1h0M519.2 304.3h0M529.6 312.4h0M554.3 274.3h0M542.8 291.3h0M531.1 269.1h0M499.5 270.6h0M526.8 290.6h0M554.9 299.2h0M508.2 283.1h0M560.1 268.8h0M510.1 283.3h0M555.5 277.5h0M551.3 298.0h0M498.7 267.5h0M544.8 292.0h0M511.3 286.1h0M537.3 272.6h0M557.2 289.0h0M505.3 274.4h0M500.8 282.2h0M526.0 287.7h0M546.4 280.4h0M502.7 289.9h0M562.0 269.2h0M534.0 288.3h0M560.1 270.1h0M561.3 280.2h0M497.0 296.8h0M522.0 310.2h0M556.9 305.2h0" stroke="#9ba1c9" stroke-width="0.8" stroke-linecap="round"/>
<path d="M543.6 273.3h0M547.1 274.2h0M525.6 301.4h0M530.2 300.8h0M525.7 302.6h0M528.3 299.2h0M530.2 301.8h0M527.9 302.3h0M534.0 309.0h0M538.1 307.8h0M535.1 309.0h0M504.6 263.9h0M514.9 280.0h0M517.8 281.1h0M517.0 281.2h0M515.7 280.0h0M516.4 278.9h0M518.7 279.7h0M516.9 278.5h0M515.7 279.7h0M547.6 315.7h0M522.6 262.2h0M523.9 264.1h0M523.2 264.6h0M507.0 312.5h0M503.2 312.6h0M504.5 312.6h0M530.6 294.5h0M499.1 266.9h0M498.1 267.8h0M497.2 267.1h0M498.1 267.4h0M500.9 309.0h0M529.7 305.7h0M531.0 304.2h0M521.0 267.5h0M523.6 268.4h0M560.2 281.9h0M559.5 281.8h0M561.3 283.3h0M505.9 274.8h0M529.7 297.5h0M527.1 296.7h0M510.4 302.9h0M560.1 315.5h0M559.0 314.6h0M558.1 315.8h0M557.6 315.7h0M558.9 315.6h0M532.9 279.7h0M533.2 276.3h0M531.7 279.2h0M546.8 278.6h0M548.6 274.7h0M548.3 275.3h0M549.2 275.2h0M549.8 276.5h0M548.0 277.7h0M549.4 276.3h0M545.8 276.5h0M536.3 293.2h0M536.4 294.9h0M537.0 294.7h0M498.8 264.8h0M498.7 264.0h0M498.0 265.4h0M496.8 262.9h0M497.8 265.8h0M498.5 264.2h0M497.2 266.2h0M559.0 275.8h0M500.8 308.3h0M500.4 308.1h0M559.2 297.3h0M558.8 297.2h0M556.2 296.9h0M528.0 272.1h0M528.8 274.7h0M526.5 272.7h0M529.1 271.8h0M545.7 265.9h0M547.7 266.6h0M545.9 268.5h0M548.2 266.3h0M547.3 268.3h0M548.7 268.5h0M547.1 266.5h0M545.5 268.3h0M558.2 286.1h0M558.0 287.9h0M560.2 284.4h0M557.0 287.8h0M556.7 286.0h0M552.3 299.0h0M555.7 300.5h0M552.9 298.8h0M554.5 300.8h0M555.9 300.2h0M553.5 301.6h0M499.2 303.6h0M500.4 300.2h0M502.2 302.3h0M501.8 301.2h0M500.9 302.9h0M531.0 306.2h0M530.8 307.5h0M529.9 305.9h0M509.8 286.2h0M549.4 282.0h0M547.1 281.8h0M546.3 283.5h0M548.1 280.5h0M546.8 282.6h0M548.6 280.7h0M545.1 316.2h0M545.0 313.3h0M521.1 312.9h0M522.5 311.7h0M520.3 313.7h0M521.7 313.8h0M552.5 274.5h0M555.0 275.1h0M504.3 309.7h0M508.7 309.0h0M512.4 305.0h0M515.0 302.9h0M514.4 302.2h0M515.4 302.6h0M515.2 303.8h0M518.3 281.2h0M520.6 282.4h0M520.4 280.5h0" stroke="#5559a4" stroke-width="2.8" stroke-linecap="round" stroke-opacity="0.4"/>
<path d="M543.6 273.3h0M547.1 274.2h0M525.6 301.4h0M530.2 300.8h0M525.7 302.6h0M528.3 299.2h0M530.2 301.8h0M527.9 302.3h0M534.0 309.0h0M538.1 307.8h0M535.1 309.0h0M504.6 263.9h0M514.9 280.0h0M517.8 281.1h0M517.0 281.2h0M515.7 280.0h0M516.4 278.9h0M518.7 279.7h0M516.9 278.5h0M515.7 279.7h0M547.6 315.7h0M522.6 262.2h0M523.9 264.1h0M523.2 264.6h0M507.0 312.5h0M503.2 312.6h0M504.5 312.6h0M530.6 294.5h0M499.1 266.9h0M498.1 267.8h0M497.2 267.1h0M498.1 267.4h0M500.9 309.0h0M529.7 305.7h0M531.0 304.2h0M521.0 267.5h0M523.6 268.4h0M560.2 281.9h0M559.5 281.8h0M561.3 283.3h0M505.9 274.8h0M529.7 297.5h0M527.1 296.7h0M510.4 302.9h0M560.1 315.5h0M559.0 314.6h0M558.1 315.8h0M557.6 315.7h0M558.9 315.6h0M532.9 279.7h0M533.2 276.3h0M531.7 279.2h0M546.8 278.6h0M548.6 274.7h0M548.3 275.3h0M549.2 275.2h0M549.8 276.5h0M548.0 277.7h0M549.4 276.3h0M545.8 276.5h0M536.3 293.2h0M536.4 294.9h0M537.0 294.7h0M498.8 264.8h0M498.7 264.0h0M498.0 265.4h0M496.8 262.9h0M497.8 265.8h0M498.5 264.2h0M497.2 266.2h0M559.0 275.8h0M500.8 308.3h0M500.4 308.1h0M559.2 297.3h0M558.8 297.2h0M556.2 296.9h0M528.0 272.1h0M528.8 274.7h0M526.5 272.7h0M529.1 271.8h0M545.7 265.9h0M547.7 266.6h0M545.9 268.5h0M548.2 266.3h0M547.3 268.3h0M548.7 268.5h0M547.1 266.5h0M545.5 268.3h0M558.2 286.1h0M558.0 287.9h0M560.2 284.4h0M557.0 287.8h0M556.7 286.0h0M552.3 299.0h0M555.7 300.5h0M552.9 298.8h0M554.5 300.8h0M555.9 300.2h0M553.5 301.6h0M499.2 303.6h0M500.4 300.2h0M502.2 302.3h0M501.8 301.2h0M500.9 302.9h0M531.0 306.2h0M530.8 307.5h0M529.9 305.9h0M509.8 286.2h0M549.4 282.0h0M547.1 281.8h0M546.3 283.5h0M548.1 280.5h0M546.8 282.6h0M548.6 280.7h0M545.1 316.2h0M545.0 313.3h0M521.1 312.9h0M522.5 311.7h0M520.3 313.7h0M521.7 313.8h0M552.5 274.5h0M555.0 275.1h0M504.3 309.7h0M508.7 309.0h0M512.4 305.0h0M515.0 302.9h0M514.4 302.2h0M515.4 302.6h0M515.2 303.8h0M518.3 281.2h0M520.6 282.4h0M520.4 280.5h0" stroke="#2b2c7e" stroke-width="2" stroke-linecap="round"/>
<rect x="556.7" y="314.9" width="5" height="1.3" fill="#e8141c"/>
<text transform="translate(571.88,219) rotate(-90)" font-size="8.4" text-anchor="middle" font-weight="bold" fill="#231f20" >Cell numbers</text>
<text transform="translate(581.68,219.6) rotate(-90)" font-size="8.4" text-anchor="middle" font-weight="bold" fill="#231f20" >(per field)</text>
<line x1="604.5" y1="197.2" x2="604.5" y2="244.5" stroke="#111" stroke-width="1.1"/>
<line x1="601.7" y1="244.5" x2="604.5" y2="244.5" stroke="#111" stroke-width="1.1"/>
<text x="599.4" y="246.94" font-size="8.4" text-anchor="end" font-weight="bold" fill="#231f20" >0</text>
<line x1="601.7" y1="232.5" x2="604.5" y2="232.5" stroke="#111" stroke-width="1.1"/>
<text x="599.4" y="235.37" font-size="8.4" text-anchor="end" font-weight="bold" fill="#231f20" >50</text>
<line x1="601.7" y1="220.5" x2="604.5" y2="220.5" stroke="#111" stroke-width="1.1"/>
<text x="599.4" y="223.79" font-size="8.4" text-anchor="end" font-weight="bold" fill="#231f20" >100</text>
<line x1="601.7" y1="209.5" x2="604.5" y2="209.5" stroke="#111" stroke-width="1.1"/>
<text x="599.4" y="212.21" font-size="8.4" text-anchor="end" font-weight="bold" fill="#231f20" >150</text>
<line x1="601.7" y1="197.5" x2="604.5" y2="197.5" stroke="#111" stroke-width="1.1"/>
<text x="599.4" y="200.64" font-size="8.4" text-anchor="end" font-weight="bold" fill="#231f20" >200</text>
<line x1="604" y1="244.5" x2="674.6" y2="244.5" stroke="#111" stroke-width="1.1"/>
<line x1="618.5" y1="244" x2="618.5" y2="246" stroke="#111" stroke-width="1.1"/>
<line x1="639.5" y1="244" x2="639.5" y2="246" stroke="#111" stroke-width="1.1"/>
<line x1="660.5" y1="244" x2="660.5" y2="246" stroke="#111" stroke-width="1.1"/>
<rect x="612.5" y="201.5" width="12" height="42.5" fill="#fff" stroke="#231f20" stroke-width="1"/>
<line x1="618.5" y1="199.2" x2="618.5" y2="201.5" stroke="#111" stroke-width="1"/>
<line x1="614.82" y1="199.5" x2="622.18" y2="199.5" stroke="#111" stroke-width="1"/>
<rect x="632.5" y="203.5" width="12" height="40.5" fill="#8488c4" stroke="#231f20" stroke-width="1"/>
<line x1="639.5" y1="200.2" x2="639.5" y2="203.5" stroke="#111" stroke-width="1"/>
<line x1="635.92" y1="200.5" x2="643.08" y2="200.5" stroke="#111" stroke-width="1"/>
<rect x="653.5" y="216.5" width="12" height="27.5" fill="#1e2288" stroke="#231f20" stroke-width="1"/>
<line x1="659.5" y1="212.5" x2="659.5" y2="216.5" stroke="#111" stroke-width="1"/>
<line x1="656.01" y1="212.5" x2="662.99" y2="212.5" stroke="#111" stroke-width="1"/>
<text x="620.7" y="255.8" font-size="8.4" text-anchor="middle" font-weight="bold" fill="#231f20" >a</text>
<text x="640.3" y="255.8" font-size="8.4" text-anchor="middle" font-weight="bold" fill="#231f20" >b</text>
<text x="662.6" y="255.8" font-size="8.4" text-anchor="middle" font-weight="bold" fill="#231f20" >c</text>
<line x1="597.2" y1="191.5" x2="664" y2="191.5" stroke="#111" stroke-width="1.1"/>
<text x="631.9" y="191.3" font-size="7.5" text-anchor="middle" font-weight="bold" fill="#231f20" >**</text>
<line x1="632.2" y1="198.5" x2="666.6" y2="198.5" stroke="#111" stroke-width="1.1"/>
<text x="651.5" y="197.7" font-size="7.5" text-anchor="middle" font-weight="bold" fill="#231f20" >*</text>
<text transform="translate(571.88,286) rotate(-90)" font-size="8.4" text-anchor="middle" font-weight="bold" fill="#231f20" >Cell numbers</text>
<text transform="translate(581.68,286.6) rotate(-90)" font-size="8.4" text-anchor="middle" font-weight="bold" fill="#231f20" >(per field)</text>
<line x1="605.5" y1="264.9" x2="605.5" y2="310.7" stroke="#111" stroke-width="1.1"/>
<line x1="602.4" y1="310.5" x2="605.2" y2="310.5" stroke="#111" stroke-width="1.1"/>
<text x="600.2" y="313.14" font-size="8.4" text-anchor="end" font-weight="bold" fill="#231f20" >0</text>
<line x1="602.4" y1="299.5" x2="605.2" y2="299.5" stroke="#111" stroke-width="1.1"/>
<text x="600.2" y="301.94" font-size="8.4" text-anchor="end" font-weight="bold" fill="#231f20" >50</text>
<line x1="602.4" y1="287.5" x2="605.2" y2="287.5" stroke="#111" stroke-width="1.1"/>
<text x="600.2" y="290.74" font-size="8.4" text-anchor="end" font-weight="bold" fill="#231f20" >100</text>
<line x1="602.4" y1="276.5" x2="605.2" y2="276.5" stroke="#111" stroke-width="1.1"/>
<text x="600.2" y="279.54" font-size="8.4" text-anchor="end" font-weight="bold" fill="#231f20" >150</text>
<line x1="602.4" y1="265.5" x2="605.2" y2="265.5" stroke="#111" stroke-width="1.1"/>
<text x="600.2" y="268.34" font-size="8.4" text-anchor="end" font-weight="bold" fill="#231f20" >200</text>
<line x1="604.7" y1="310.5" x2="676" y2="310.5" stroke="#111" stroke-width="1.1"/>
<line x1="619.5" y1="310.2" x2="619.5" y2="312.2" stroke="#111" stroke-width="1.1"/>
<line x1="639.5" y1="310.2" x2="639.5" y2="312.2" stroke="#111" stroke-width="1.1"/>
<line x1="660.5" y1="310.2" x2="660.5" y2="312.2" stroke="#111" stroke-width="1.1"/>
<rect x="612.5" y="277.5" width="13" height="32.7" fill="#fff" stroke="#231f20" stroke-width="1"/>
<line x1="619.5" y1="275.2" x2="619.5" y2="277.5" stroke="#111" stroke-width="1"/>
<line x1="615.73" y1="275.5" x2="623.27" y2="275.5" stroke="#111" stroke-width="1"/>
<rect x="633.5" y="281.5" width="12" height="28.7" fill="#8488c4" stroke="#231f20" stroke-width="1"/>
<line x1="639.5" y1="279.3" x2="639.5" y2="281.5" stroke="#111" stroke-width="1"/>
<line x1="635.84" y1="279.5" x2="643.16" y2="279.5" stroke="#111" stroke-width="1"/>
<rect x="654.5" y="296.5" width="12" height="13.7" fill="#1e2288" stroke="#231f20" stroke-width="1"/>
<line x1="660.5" y1="291.1" x2="660.5" y2="296.5" stroke="#111" stroke-width="1"/>
<line x1="656.9" y1="291.5" x2="664.1" y2="291.5" stroke="#111" stroke-width="1"/>
<text x="618.9" y="320.5" font-size="8.4" text-anchor="middle" font-weight="bold" fill="#231f20" >a</text>
<text x="640.9" y="320.5" font-size="8.4" text-anchor="middle" font-weight="bold" fill="#231f20" >b</text>
<text x="662.3" y="320.5" font-size="8.4" text-anchor="middle" font-weight="bold" fill="#231f20" >c</text>
<line x1="615.7" y1="265.5" x2="666.9" y2="265.5" stroke="#111" stroke-width="1.1"/>
<text x="643.8" y="264.8" font-size="7.5" text-anchor="middle" font-weight="bold" fill="#231f20" >***</text>
<line x1="642" y1="273.5" x2="665.9" y2="273.5" stroke="#111" stroke-width="1.1"/>
<text x="654.8" y="272.9" font-size="7.5" text-anchor="middle" font-weight="bold" fill="#231f20" >**</text>
<text x="0.8" y="331.2" font-size="8.4" text-anchor="start" font-weight="bold" fill="#231f20" >F</text>
<line x1="20.5" y1="328.5" x2="344.9" y2="328.5" stroke="#111" stroke-width="1.2"/>
<line x1="349.3" y1="328.5" x2="679.6" y2="328.5" stroke="#111" stroke-width="1.2"/>
<text x="187" y="322.3" font-size="8.4" text-anchor="middle" font-weight="bold" fill="#231f20" >HepG2</text>
<text x="505" y="326.8" font-size="8.4" text-anchor="middle" font-weight="bold" fill="#231f20" >L02</text>
<text x="24.5" y="336.5" font-size="8.4" text-anchor="start" font-weight="bold" fill="#231f20" >Blank control</text>
<text x="93.5" y="336.5" font-size="8.4" text-anchor="start" font-weight="bold" fill="#231f20" >Negative control</text>
<text transform="translate(169.4,337.21) scale(1,0.85)" font-size="8.2" text-anchor="start" font-weight="bold" fill="#231f20" >siRNA-STAT4</text>
<line x1="15.5" y1="344.3" x2="15.5" y2="411.5" stroke="#111" stroke-width="1.5"/>
<path d="M15.6,341.3 L20.9,349.6 L15.6,347.4 L10.3,349.6 Z" fill="#231f20"/>
<line x1="15.6" y1="411.5" x2="219.3" y2="411.5" stroke="#111" stroke-width="1.5"/>
<path d="M222.3,411.5 L212.6,407.2 L214.8,411.5 L212.6,415.8 Z" fill="#231f20"/>
<text transform="translate(6.18,379) rotate(-90)" font-size="8.4" text-anchor="middle" font-weight="bold" fill="#231f20" >PI</text>
<text x="122.5" y="421.8" font-size="8.4" text-anchor="middle" font-weight="bold" fill="#231f20" >FITC</text>
<g>
<text x="20.3" y="400.9" font-size="2.4" fill="#444" text-anchor="end">10<tspan dy="-1" font-size="1.7">0</tspan></text>
<line x1="20.5" y1="400.1" x2="21.1" y2="400.1" stroke="#777" stroke-width="0.4"/>
<text x="22.6" y="405.4" font-size="2.4" fill="#444" text-anchor="middle">10<tspan dy="-1" font-size="1.7">0</tspan></text>
<line x1="22.6" y1="401.6" x2="22.6" y2="402.2" stroke="#777" stroke-width="0.4"/>
<text x="20.3" y="389.88" font-size="2.4" fill="#444" text-anchor="end">10<tspan dy="-1" font-size="1.7">1</tspan></text>
<line x1="20.5" y1="389.08" x2="21.1" y2="389.08" stroke="#777" stroke-width="0.4"/>
<text x="33.76" y="405.4" font-size="2.4" fill="#444" text-anchor="middle">10<tspan dy="-1" font-size="1.7">1</tspan></text>
<line x1="33.76" y1="401.6" x2="33.76" y2="402.2" stroke="#777" stroke-width="0.4"/>
<text x="20.3" y="378.86" font-size="2.4" fill="#444" text-anchor="end">10<tspan dy="-1" font-size="1.7">2</tspan></text>
<line x1="20.5" y1="378.06" x2="21.1" y2="378.06" stroke="#777" stroke-width="0.4"/>
<text x="44.92" y="405.4" font-size="2.4" fill="#444" text-anchor="middle">10<tspan dy="-1" font-size="1.7">2</tspan></text>
<line x1="44.92" y1="401.6" x2="44.92" y2="402.2" stroke="#777" stroke-width="0.4"/>
<text x="20.3" y="367.84" font-size="2.4" fill="#444" text-anchor="end">10<tspan dy="-1" font-size="1.7">3</tspan></text>
<line x1="20.5" y1="367.04" x2="21.1" y2="367.04" stroke="#777" stroke-width="0.4"/>
<text x="56.08" y="405.4" font-size="2.4" fill="#444" text-anchor="middle">10<tspan dy="-1" font-size="1.7">3</tspan></text>
<line x1="56.08" y1="401.6" x2="56.08" y2="402.2" stroke="#777" stroke-width="0.4"/>
<text x="20.3" y="356.82" font-size="2.4" fill="#444" text-anchor="end">10<tspan dy="-1" font-size="1.7">4</tspan></text>
<line x1="20.5" y1="356.02" x2="21.1" y2="356.02" stroke="#777" stroke-width="0.4"/>
<text x="67.24" y="405.4" font-size="2.4" fill="#444" text-anchor="middle">10<tspan dy="-1" font-size="1.7">4</tspan></text>
<line x1="67.24" y1="401.6" x2="67.24" y2="402.2" stroke="#777" stroke-width="0.4"/>
<text x="20.3" y="345.8" font-size="2.4" fill="#444" text-anchor="end">10<tspan dy="-1" font-size="1.7">5</tspan></text>
<line x1="20.5" y1="345" x2="21.1" y2="345" stroke="#777" stroke-width="0.4"/>
<text x="78.4" y="405.4" font-size="2.4" fill="#444" text-anchor="middle">10<tspan dy="-1" font-size="1.7">5</tspan></text>
<line x1="78.4" y1="401.6" x2="78.4" y2="402.2" stroke="#777" stroke-width="0.4"/>
<rect x="21.5" y="341.5" width="60" height="60" fill="#fff" stroke="#666" stroke-width="0.9"/>
<path d="M38.4 391.2h0M26.7 394.8h0M37.2 392.5h0M36.3 397.7h0M41.9 396.3h0M33.0 389.2h0M27.6 390.0h0M36.2 391.4h0M41.6 389.5h0M37.0 394.4h0M23.5 398.5h0M36.2 393.7h0M27.4 388.4h0M47.8 388.8h0M32.1 393.1h0M45.9 380.7h0M46.2 392.2h0M41.9 386.7h0M37.5 398.0h0M34.4 388.4h0M31.9 388.8h0M41.1 391.9h0M31.4 394.5h0M27.0 384.9h0M53.6 388.4h0M47.4 390.7h0M33.5 393.3h0M28.7 387.5h0M33.6 389.4h0M40.5 399.4h0M26.3 387.3h0M40.8 393.3h0M43.6 387.9h0M39.6 390.9h0M22.9 393.0h0M23.4 393.4h0M31.8 390.2h0M51.2 397.6h0M38.4 392.8h0M29.4 396.4h0M39.8 387.4h0M22.7 391.1h0M33.8 394.8h0M27.4 387.3h0M38.3 391.5h0M42.3 395.9h0M28.4 380.9h0M35.6 388.0h0M37.0 379.5h0M34.4 391.5h0M31.0 393.3h0M36.0 392.1h0M44.9 396.7h0M44.2 392.7h0M36.2 393.5h0M37.5 388.0h0M38.1 395.0h0M32.1 386.4h0M39.5 387.9h0M24.0 390.0h0M24.2 392.5h0M31.3 391.4h0M43.7 395.9h0M34.5 381.4h0M31.6 386.1h0M41.9 397.8h0M40.4 393.9h0M39.3 394.0h0M32.4 394.9h0M32.9 386.2h0M35.6 397.9h0M33.8 383.5h0M44.5 392.1h0M39.3 389.1h0M38.8 398.0h0M30.3 394.1h0M37.8 387.4h0M36.5 393.6h0M28.9 396.1h0M26.9 396.1h0M39.8 392.2h0M29.3 387.8h0M34.2 393.5h0M42.9 392.0h0M32.7 395.3h0M35.1 391.0h0M26.4 395.6h0M30.2 399.4h0M28.8 389.1h0M35.9 388.1h0M24.3 386.2h0M29.1 390.1h0M42.5 394.0h0M37.6 394.6h0M31.1 386.7h0M38.8 388.3h0M27.0 394.9h0M30.3 390.1h0M24.0 395.0h0M35.5 397.3h0M51.6 394.0h0M32.5 387.8h0M47.4 390.2h0M39.9 392.1h0M36.4 392.0h0M34.2 392.1h0M27.7 393.7h0M31.4 391.8h0M47.5 392.0h0M27.6 392.7h0M24.5 391.8h0M45.6 386.6h0M34.1 387.4h0M36.5 392.5h0M36.5 389.9h0M32.0 394.6h0M29.6 384.0h0M46.0 392.6h0M28.2 392.2h0M39.6 385.0h0M44.7 387.5h0M41.2 388.7h0M23.5 388.6h0M31.4 391.6h0M22.8 386.9h0M37.5 389.5h0M31.3 393.0h0M25.4 399.5h0M29.7 392.6h0M33.9 395.3h0M31.9 387.8h0M37.0 393.6h0M34.1 399.7h0M40.7 396.9h0M44.6 395.4h0M33.8 397.9h0M32.4 391.7h0M45.4 395.0h0M27.2 389.8h0M28.6 395.9h0M32.5 391.2h0M30.1 388.9h0M40.0 386.9h0M35.5 389.0h0M32.4 385.7h0M43.6 384.3h0M26.1 389.3h0M35.6 387.9h0M23.2 389.0h0M27.7 388.2h0M46.7 382.4h0M34.8 392.6h0M32.0 389.5h0M42.8 390.1h0M31.5 375.6h0M36.9 375.6h0M34.5 379.1h0M34.7 378.8h0M37.7 374.1h0M31.9 386.2h0M37.0 373.1h0M32.3 378.0h0M36.5 381.0h0M36.9 375.2h0M34.9 368.5h0M34.1 375.0h0M38.8 369.8h0M40.8 383.5h0M48.8 391.4h0M53.3 394.0h0M56.4 388.5h0M49.8 394.3h0M57.6 394.1h0M51.4 393.8h0M48.7 397.4h0M57.6 394.0h0M48.4 392.9h0M54.3 393.2h0M62.1 398.3h0M58.1 390.0h0M56.3 391.7h0M52.0 398.0h0M41.3 389.5h0M48.1 395.0h0M49.5 387.9h0M54.4 394.7h0M59.7 393.3h0M58.9 391.5h0M57.5 396.1h0M50.3 392.0h0M59.6 391.1h0M46.5 393.1h0M55.6 395.4h0M49.1 394.4h0M46.6 390.1h0M67.1 391.1h0M42.7 393.8h0M47.5 394.9h0M36.6 390.1h0M58.5 393.7h0M46.4 396.9h0M58.5 392.1h0M59.1 394.6h0M49.7 389.6h0M61.5 388.7h0M47.0 390.4h0M65.8 392.4h0M51.6 384.4h0M66.1 391.1h0M66.4 391.6h0M55.5 392.5h0M53.6 390.2h0M52.0 385.1h0M68.1 395.2h0M54.9 390.6h0M78.5 393.6h0M56.2 388.0h0M73.7 395.9h0" stroke="#7a98de" stroke-width="0.75" stroke-linecap="round"/>
<g filter="url(#fbb)" transform="rotate(-8 35.2 392.4)">
<ellipse cx="35.2" cy="392.4" rx="8.05" ry="4.83" fill="#6d8ddb"/>
<ellipse cx="35.2" cy="392.4" rx="6.65" ry="3.99" fill="#3a5ec4"/>
<ellipse cx="35.2" cy="392.4" rx="5.18" ry="3.11" fill="#2f84d6"/>
<ellipse cx="35.2" cy="392.4" rx="3.92" ry="2.35" fill="#2cbdc4"/>
<ellipse cx="35.2" cy="392.4" rx="2.87" ry="1.72" fill="#5cc24a"/>
<ellipse cx="35.2" cy="392.4" rx="1.96" ry="1.18" fill="#e8d41e"/>
<ellipse cx="35.2" cy="392.4" rx="1.05" ry="0.63" fill="#e8281c"/>
</g>
<line x1="42.5" y1="341.5" x2="42.5" y2="401.6" stroke="#8a8a8a" stroke-width="0.9"/>
<line x1="21.1" y1="385.5" x2="80.9" y2="385.5" stroke="#8a8a8a" stroke-width="0.9"/>
<text x="22.6" y="344.7" font-size="2.3" fill="#444" text-anchor="start">Q1</text>
<text x="22.6" y="348.7" font-size="2.3" fill="#444" text-anchor="start">0.40%</text>
<text x="79.4" y="344.7" font-size="2.3" fill="#444" text-anchor="end">Q2</text>
<text x="79.4" y="348.7" font-size="2.3" fill="#444" text-anchor="end">0.13%</text>
<text x="22.6" y="396.4" font-size="2.3" fill="#444" text-anchor="start">Q4</text>
<text x="22.6" y="400.4" font-size="2.3" fill="#444" text-anchor="start">98.2%</text>
<text x="79.4" y="396.4" font-size="2.3" fill="#444" text-anchor="end">Q3</text>
<text x="79.4" y="400.4" font-size="2.3" fill="#444" text-anchor="end">1.20%</text>
</g>
<g>
<text x="94.7" y="400.4" font-size="2.4" fill="#444" text-anchor="end">10<tspan dy="-1" font-size="1.7">0</tspan></text>
<line x1="94.9" y1="399.6" x2="95.5" y2="399.6" stroke="#777" stroke-width="0.4"/>
<text x="97" y="404.9" font-size="2.4" fill="#444" text-anchor="middle">10<tspan dy="-1" font-size="1.7">0</tspan></text>
<line x1="97" y1="401.1" x2="97" y2="401.7" stroke="#777" stroke-width="0.4"/>
<text x="94.7" y="389.72" font-size="2.4" fill="#444" text-anchor="end">10<tspan dy="-1" font-size="1.7">1</tspan></text>
<line x1="94.9" y1="388.92" x2="95.5" y2="388.92" stroke="#777" stroke-width="0.4"/>
<text x="108.2" y="404.9" font-size="2.4" fill="#444" text-anchor="middle">10<tspan dy="-1" font-size="1.7">1</tspan></text>
<line x1="108.2" y1="401.1" x2="108.2" y2="401.7" stroke="#777" stroke-width="0.4"/>
<text x="94.7" y="379.04" font-size="2.4" fill="#444" text-anchor="end">10<tspan dy="-1" font-size="1.7">2</tspan></text>
<line x1="94.9" y1="378.24" x2="95.5" y2="378.24" stroke="#777" stroke-width="0.4"/>
<text x="119.4" y="404.9" font-size="2.4" fill="#444" text-anchor="middle">10<tspan dy="-1" font-size="1.7">2</tspan></text>
<line x1="119.4" y1="401.1" x2="119.4" y2="401.7" stroke="#777" stroke-width="0.4"/>
<text x="94.7" y="368.36" font-size="2.4" fill="#444" text-anchor="end">10<tspan dy="-1" font-size="1.7">3</tspan></text>
<line x1="94.9" y1="367.56" x2="95.5" y2="367.56" stroke="#777" stroke-width="0.4"/>
<text x="130.6" y="404.9" font-size="2.4" fill="#444" text-anchor="middle">10<tspan dy="-1" font-size="1.7">3</tspan></text>
<line x1="130.6" y1="401.1" x2="130.6" y2="401.7" stroke="#777" stroke-width="0.4"/>
<text x="94.7" y="357.68" font-size="2.4" fill="#444" text-anchor="end">10<tspan dy="-1" font-size="1.7">4</tspan></text>
<line x1="94.9" y1="356.88" x2="95.5" y2="356.88" stroke="#777" stroke-width="0.4"/>
<text x="141.8" y="404.9" font-size="2.4" fill="#444" text-anchor="middle">10<tspan dy="-1" font-size="1.7">4</tspan></text>
<line x1="141.8" y1="401.1" x2="141.8" y2="401.7" stroke="#777" stroke-width="0.4"/>
<text x="94.7" y="347" font-size="2.4" fill="#444" text-anchor="end">10<tspan dy="-1" font-size="1.7">5</tspan></text>
<line x1="94.9" y1="346.2" x2="95.5" y2="346.2" stroke="#777" stroke-width="0.4"/>
<text x="153" y="404.9" font-size="2.4" fill="#444" text-anchor="middle">10<tspan dy="-1" font-size="1.7">5</tspan></text>
<line x1="153" y1="401.1" x2="153" y2="401.7" stroke="#777" stroke-width="0.4"/>
<rect x="95.5" y="342.5" width="60" height="58" fill="#fff" stroke="#666" stroke-width="0.9"/>
<path d="M114.3 393.3h0M105.1 400.1h0M98.8 392.2h0M116.7 394.8h0M114.7 387.9h0M123.6 389.2h0M109.8 392.1h0M110.1 389.9h0M121.3 392.4h0M117.3 385.6h0M114.5 391.2h0M113.1 393.0h0M113.4 391.7h0M110.8 392.7h0M111.9 392.3h0M107.5 393.9h0M104.1 400.6h0M116.4 398.4h0M109.3 386.8h0M99.3 388.9h0M105.7 390.5h0M107.5 394.6h0M107.6 392.7h0M97.3 393.1h0M99.7 394.1h0M112.1 392.8h0M108.8 390.9h0M107.8 395.7h0M110.7 393.0h0M127.2 392.4h0M103.5 382.9h0M116.3 387.8h0M101.8 391.2h0M111.0 395.8h0M109.2 389.4h0M114.9 388.1h0M99.7 387.5h0M107.7 390.3h0M110.0 392.2h0M127.0 393.7h0M111.2 388.6h0M125.5 390.1h0M107.2 392.5h0M108.2 394.2h0M108.1 393.2h0M105.5 381.1h0M113.0 398.8h0M103.1 389.7h0M115.7 389.9h0M110.8 391.0h0M114.3 391.5h0M124.4 392.2h0M108.1 386.1h0M110.7 388.1h0M114.6 394.3h0M128.9 388.8h0M110.9 396.3h0M123.2 392.3h0M109.8 397.0h0M112.0 393.2h0M116.1 388.8h0M123.8 390.6h0M110.0 390.4h0M107.4 392.0h0M115.2 391.6h0M105.4 397.8h0M105.5 391.9h0M119.7 391.5h0M109.0 392.6h0M98.3 391.6h0M111.3 393.5h0M107.4 383.1h0M104.3 395.2h0M104.4 388.3h0M113.9 394.3h0M111.3 394.6h0M115.9 394.1h0M112.6 399.6h0M112.1 389.1h0M115.2 396.3h0M101.5 392.8h0M116.2 395.4h0M110.4 387.7h0M109.8 391.7h0M106.2 392.7h0M111.7 387.9h0M124.8 397.0h0M112.9 386.8h0M107.5 391.4h0M115.9 391.6h0M102.0 391.3h0M108.7 392.1h0M116.4 389.1h0M99.1 396.9h0M117.1 387.1h0M115.4 390.0h0M115.1 394.3h0M100.1 387.8h0M109.0 386.4h0M101.6 388.5h0M108.9 391.7h0M104.6 391.1h0M118.7 394.4h0M113.1 389.3h0M105.3 387.1h0M104.1 384.6h0M109.0 390.5h0M105.2 389.5h0M100.9 395.0h0M114.5 397.0h0M112.6 391.4h0M116.5 387.0h0M100.2 395.9h0M113.6 393.1h0M119.8 391.9h0M111.8 393.8h0M101.7 393.6h0M114.5 391.8h0M105.0 388.8h0M119.8 397.1h0M109.4 388.9h0M118.5 396.5h0M113.9 389.1h0M115.8 395.9h0M106.8 388.7h0M107.2 393.0h0M113.1 394.2h0M110.2 390.0h0M112.5 396.2h0M111.3 394.9h0M109.6 389.1h0M107.3 391.4h0M99.2 391.3h0M105.7 392.8h0M115.5 392.6h0M107.3 393.0h0M102.5 394.1h0M119.5 394.3h0M120.5 390.3h0M97.4 394.4h0M126.1 388.7h0M121.4 390.0h0M121.1 389.6h0M108.3 393.9h0M99.1 392.5h0M109.2 395.8h0M111.8 392.6h0M109.2 399.8h0M113.7 392.8h0M110.4 393.2h0M116.1 393.1h0M120.4 392.2h0M114.2 393.0h0M114.9 393.5h0M113.6 393.3h0M111.8 394.7h0M105.5 389.1h0M110.3 392.6h0M119.1 386.1h0M120.4 390.0h0M104.3 393.5h0M112.6 396.1h0M113.3 397.9h0M108.8 386.2h0M108.4 391.2h0M115.1 395.9h0M111.1 389.3h0M117.2 397.5h0M125.4 392.6h0M118.1 394.8h0M111.7 390.6h0M117.9 395.4h0M109.8 391.4h0M97.8 393.4h0M111.1 388.1h0M119.7 392.3h0M102.9 391.0h0M102.4 389.0h0M101.2 392.6h0M98.9 389.4h0M110.4 391.2h0M111.1 389.1h0M105.7 393.3h0M107.5 395.8h0M106.8 392.5h0M107.9 396.2h0M103.5 395.2h0M126.6 372.0h0M119.8 376.5h0M124.9 379.6h0M120.2 372.5h0M120.9 367.4h0M121.0 370.8h0M122.5 372.9h0M122.5 373.5h0M122.0 372.1h0M123.6 379.9h0M122.4 370.3h0M130.4 374.8h0M122.1 373.6h0M117.5 371.9h0M120.9 371.2h0M120.1 372.7h0M128.0 370.6h0M124.1 378.3h0M123.7 370.5h0M125.4 377.0h0M136.0 385.4h0M137.5 384.1h0M134.7 377.9h0M137.8 382.8h0M136.3 397.0h0M139.2 382.6h0M135.6 366.4h0M138.9 388.7h0M135.0 386.5h0M139.1 376.0h0M137.1 377.5h0M136.4 394.2h0M136.9 375.8h0M138.3 392.1h0M138.0 370.3h0M137.8 375.6h0M134.9 381.2h0M137.3 373.2h0M135.5 389.1h0M137.2 375.9h0M137.0 384.5h0M136.6 386.2h0M137.7 380.2h0M137.4 372.5h0M138.9 380.6h0M136.8 375.0h0M138.2 393.6h0M138.0 372.2h0M136.6 370.8h0M136.4 377.3h0M136.8 383.5h0M137.2 382.3h0M137.8 374.4h0M138.4 380.7h0M138.2 371.4h0M137.6 382.2h0M136.2 385.3h0M137.0 377.8h0M137.8 366.8h0M134.2 375.4h0M137.6 385.2h0M138.3 394.0h0M138.1 376.2h0M137.3 373.7h0M137.9 374.5h0M136.2 373.5h0M135.4 371.8h0M136.8 376.7h0M136.8 384.2h0M136.1 379.2h0M120.9 394.0h0M129.6 392.3h0M119.5 394.3h0M120.5 394.0h0M125.6 394.1h0M122.1 394.0h0M124.4 394.5h0M132.8 394.7h0M126.7 393.9h0M131.1 393.5h0M124.9 395.1h0M140.1 393.0h0M138.3 393.4h0M127.5 393.3h0M124.3 397.4h0M123.2 394.3h0M120.8 395.1h0M122.2 391.9h0M121.9 394.0h0M118.0 392.8h0M110.7 397.8h0M124.1 394.2h0M120.7 395.3h0M120.5 396.3h0M125.3 392.3h0M125.0 391.2h0M130.5 399.4h0M144.5 394.1h0M127.5 391.1h0M140.4 394.0h0M128.0 395.2h0M133.1 392.8h0M137.5 393.5h0M134.2 392.5h0M136.7 393.5h0M122.8 394.9h0M122.0 393.6h0M143.4 393.9h0M137.0 392.5h0M133.2 392.3h0M130.5 394.0h0M128.9 395.8h0M128.5 394.3h0M120.8 391.7h0M137.4 393.1h0M131.9 393.3h0M127.0 395.8h0M129.9 394.0h0M122.5 395.9h0M133.0 392.9h0M123.3 393.4h0M137.1 392.9h0M126.0 394.2h0M126.7 392.4h0M127.7 392.9h0M133.8 392.5h0M119.8 393.8h0M125.3 395.4h0M122.6 395.8h0M130.2 394.5h0M128.3 393.2h0M142.9 394.0h0M127.5 396.7h0M120.1 397.7h0M130.8 394.9h0M124.7 393.2h0M122.7 395.3h0M131.1 391.9h0M121.6 394.2h0M144.6 396.0h0M124.9 394.6h0M123.8 394.4h0M123.1 394.7h0M121.0 392.7h0M143.3 393.1h0M123.6 396.0h0M140.8 397.6h0M131.6 392.6h0M126.5 392.9h0M128.5 394.0h0M123.6 395.7h0M127.0 395.2h0M125.7 392.9h0M125.1 395.4h0M143.2 394.7h0M125.7 393.6h0M132.0 394.3h0M130.4 394.9h0M126.9 390.8h0M127.1 393.7h0" stroke="#7a98de" stroke-width="0.75" stroke-linecap="round"/>
<path d="M123.7 384.1h0M124.0 378.3h0M119.1 379.4h0M121.1 383.7h0M120.9 380.1h0M121.4 388.8h0M120.8 381.9h0M122.3 388.4h0M119.8 375.1h0M121.7 378.7h0M120.8 374.1h0M124.4 376.0h0M122.5 384.4h0M123.2 388.5h0M121.1 377.2h0M122.3 385.9h0M121.7 381.1h0M123.7 378.0h0M124.9 376.0h0M120.5 381.7h0M120.5 385.2h0M120.8 380.0h0M121.3 386.7h0M121.8 381.3h0M123.7 378.6h0M119.8 382.0h0M122.5 378.2h0M121.5 383.6h0M121.5 383.2h0M121.7 387.7h0M119.6 388.9h0M118.8 383.5h0M123.0 392.6h0M123.9 375.1h0M122.5 377.5h0M123.5 388.4h0M123.5 380.8h0M122.0 376.4h0M122.2 373.3h0M121.3 380.2h0M119.9 383.9h0M122.2 388.2h0M121.5 383.5h0M120.2 387.1h0M120.9 379.3h0M119.7 385.0h0M122.2 380.5h0M122.3 385.9h0M122.0 384.5h0M121.5 384.1h0M123.4 383.0h0M119.8 384.1h0M125.2 378.0h0M120.5 382.5h0M120.5 379.1h0M118.7 377.0h0M122.1 370.3h0M122.8 375.7h0M124.4 381.8h0M121.8 376.0h0" stroke="#5577cc" stroke-width="0.75" stroke-linecap="round"/>
<path d="M136.6 390.9h0M135.8 391.8h0M137.3 391.6h0M137.1 393.5h0M138.0 396.9h0M135.7 389.9h0M136.8 393.3h0M139.4 394.3h0M138.9 390.0h0M137.9 395.8h0M138.4 391.4h0M133.8 392.7h0M138.1 395.3h0M137.8 389.9h0M138.8 391.3h0M138.1 394.1h0M136.9 394.7h0M135.8 395.2h0M135.9 390.0h0M137.1 392.0h0M137.8 393.4h0M137.2 390.6h0M138.7 388.7h0M138.6 390.1h0M137.5 393.3h0M135.2 392.7h0M137.9 392.0h0M138.8 393.2h0M136.6 391.4h0M136.7 389.4h0M139.0 388.5h0M138.9 396.7h0M139.1 393.6h0M137.6 391.5h0M137.3 395.5h0M136.9 392.9h0M139.2 393.4h0M138.0 393.4h0M137.4 395.0h0M138.5 393.4h0M137.3 394.0h0M137.5 390.3h0M138.2 388.0h0M138.4 392.0h0M137.2 391.5h0M139.3 393.1h0M136.7 392.3h0M136.9 395.6h0M137.0 391.9h0M137.7 392.2h0" stroke="#3a5cbc" stroke-width="0.75" stroke-linecap="round"/>
<g filter="url(#fbb)" transform="rotate(-10 110.4 393)">
<ellipse cx="110.4" cy="393" rx="7.13" ry="4.6" fill="#6d8ddb"/>
<ellipse cx="110.4" cy="393" rx="5.89" ry="3.8" fill="#3a5ec4"/>
<ellipse cx="110.4" cy="393" rx="4.59" ry="2.96" fill="#2f84d6"/>
<ellipse cx="110.4" cy="393" rx="3.47" ry="2.24" fill="#2cbdc4"/>
<ellipse cx="110.4" cy="393" rx="2.54" ry="1.64" fill="#5cc24a"/>
<ellipse cx="110.4" cy="393" rx="1.74" ry="1.12" fill="#e8d41e"/>
<ellipse cx="110.4" cy="393" rx="0.93" ry="0.6" fill="#e8281c"/>
</g>
<line x1="117.5" y1="342.7" x2="117.5" y2="401.1" stroke="#8a8a8a" stroke-width="0.9"/>
<line x1="95.5" y1="386.5" x2="155.5" y2="386.5" stroke="#8a8a8a" stroke-width="0.9"/>
<text x="97" y="345.9" font-size="2.3" fill="#444" text-anchor="start">Q1</text>
<text x="97" y="349.9" font-size="2.3" fill="#444" text-anchor="start">0.48%</text>
<text x="154" y="345.9" font-size="2.3" fill="#444" text-anchor="end">Q2</text>
<text x="154" y="349.9" font-size="2.3" fill="#444" text-anchor="end">1.97%</text>
<text x="97" y="395.9" font-size="2.3" fill="#444" text-anchor="start">Q4</text>
<text x="97" y="399.9" font-size="2.3" fill="#444" text-anchor="start">95.2%</text>
<text x="154" y="395.9" font-size="2.3" fill="#444" text-anchor="end">Q3</text>
<text x="154" y="399.9" font-size="2.3" fill="#444" text-anchor="end">3.20%</text>
</g>
<g>
<text x="168.5" y="400" font-size="2.4" fill="#444" text-anchor="end">10<tspan dy="-1" font-size="1.7">0</tspan></text>
<line x1="168.7" y1="399.2" x2="169.3" y2="399.2" stroke="#777" stroke-width="0.4"/>
<text x="170.8" y="404.5" font-size="2.4" fill="#444" text-anchor="middle">10<tspan dy="-1" font-size="1.7">0</tspan></text>
<line x1="170.8" y1="400.7" x2="170.8" y2="401.3" stroke="#777" stroke-width="0.4"/>
<text x="168.5" y="389.52" font-size="2.4" fill="#444" text-anchor="end">10<tspan dy="-1" font-size="1.7">1</tspan></text>
<line x1="168.7" y1="388.72" x2="169.3" y2="388.72" stroke="#777" stroke-width="0.4"/>
<text x="181.82" y="404.5" font-size="2.4" fill="#444" text-anchor="middle">10<tspan dy="-1" font-size="1.7">1</tspan></text>
<line x1="181.82" y1="400.7" x2="181.82" y2="401.3" stroke="#777" stroke-width="0.4"/>
<text x="168.5" y="379.04" font-size="2.4" fill="#444" text-anchor="end">10<tspan dy="-1" font-size="1.7">2</tspan></text>
<line x1="168.7" y1="378.24" x2="169.3" y2="378.24" stroke="#777" stroke-width="0.4"/>
<text x="192.84" y="404.5" font-size="2.4" fill="#444" text-anchor="middle">10<tspan dy="-1" font-size="1.7">2</tspan></text>
<line x1="192.84" y1="400.7" x2="192.84" y2="401.3" stroke="#777" stroke-width="0.4"/>
<text x="168.5" y="368.56" font-size="2.4" fill="#444" text-anchor="end">10<tspan dy="-1" font-size="1.7">3</tspan></text>
<line x1="168.7" y1="367.76" x2="169.3" y2="367.76" stroke="#777" stroke-width="0.4"/>
<text x="203.86" y="404.5" font-size="2.4" fill="#444" text-anchor="middle">10<tspan dy="-1" font-size="1.7">3</tspan></text>
<line x1="203.86" y1="400.7" x2="203.86" y2="401.3" stroke="#777" stroke-width="0.4"/>
<text x="168.5" y="358.08" font-size="2.4" fill="#444" text-anchor="end">10<tspan dy="-1" font-size="1.7">4</tspan></text>
<line x1="168.7" y1="357.28" x2="169.3" y2="357.28" stroke="#777" stroke-width="0.4"/>
<text x="214.88" y="404.5" font-size="2.4" fill="#444" text-anchor="middle">10<tspan dy="-1" font-size="1.7">4</tspan></text>
<line x1="214.88" y1="400.7" x2="214.88" y2="401.3" stroke="#777" stroke-width="0.4"/>
<text x="168.5" y="347.6" font-size="2.4" fill="#444" text-anchor="end">10<tspan dy="-1" font-size="1.7">5</tspan></text>
<line x1="168.7" y1="346.8" x2="169.3" y2="346.8" stroke="#777" stroke-width="0.4"/>
<text x="225.9" y="404.5" font-size="2.4" fill="#444" text-anchor="middle">10<tspan dy="-1" font-size="1.7">5</tspan></text>
<line x1="225.9" y1="400.7" x2="225.9" y2="401.3" stroke="#777" stroke-width="0.4"/>
<rect x="169.5" y="343.5" width="59" height="57" fill="#fff" stroke="#666" stroke-width="0.9"/>
<path d="M174.1 390.3h0M185.3 389.7h0M174.5 385.3h0M186.8 391.4h0M177.4 387.9h0M175.5 392.1h0M192.3 390.8h0M181.1 396.7h0M180.7 393.0h0M174.1 388.4h0M170.9 396.9h0M191.0 390.5h0M181.5 391.0h0M201.4 397.3h0M182.0 396.0h0M192.3 388.5h0M187.4 395.8h0M183.3 396.6h0M191.5 393.2h0M180.7 397.2h0M184.3 395.0h0M196.9 394.9h0M182.9 387.2h0M185.8 394.8h0M187.5 395.7h0M188.3 394.3h0M184.3 395.8h0M178.6 388.9h0M176.5 393.7h0M171.1 391.1h0M182.0 394.6h0M176.2 393.5h0M183.6 390.9h0M183.8 392.4h0M175.7 391.7h0M181.8 390.4h0M173.4 393.2h0M185.9 393.4h0M173.9 388.7h0M175.9 394.1h0M177.6 392.8h0M195.8 384.9h0M181.6 393.1h0M172.9 397.9h0M181.5 394.9h0M187.4 399.5h0M178.9 390.4h0M174.6 387.7h0M195.9 391.2h0M171.3 396.3h0M195.6 388.9h0M183.0 387.0h0M175.1 387.9h0M183.4 395.0h0M181.8 398.9h0M178.8 391.7h0M197.4 397.5h0M184.3 387.2h0M193.6 392.8h0M199.5 393.5h0M184.5 390.7h0M184.4 393.2h0M185.4 385.2h0M183.5 395.2h0M174.6 399.0h0M182.2 384.0h0M194.5 391.5h0M183.7 392.3h0M196.9 393.4h0M178.4 390.3h0M187.4 395.9h0M178.6 397.5h0M178.5 393.9h0M187.1 394.5h0M185.2 394.5h0M179.8 394.2h0M185.7 387.6h0M173.3 394.6h0M183.1 394.0h0M188.6 394.9h0M179.6 395.6h0M190.6 393.3h0M178.8 395.5h0M182.2 389.8h0M187.0 393.7h0M189.4 392.4h0M172.3 384.1h0M176.8 400.2h0M188.0 393.9h0M185.3 387.8h0M184.7 388.7h0M185.0 391.7h0M179.8 391.0h0M171.4 396.5h0M180.6 400.1h0M191.2 389.5h0M184.0 399.7h0M195.0 390.5h0M176.4 394.6h0M192.7 397.5h0M185.7 395.6h0M187.1 393.6h0M177.1 396.4h0M186.3 397.2h0M183.2 391.0h0M188.6 397.1h0M195.9 387.3h0M180.2 392.2h0M198.4 382.9h0M189.9 389.7h0M176.1 397.0h0M188.7 379.0h0M174.7 393.2h0M179.8 398.2h0M177.5 392.0h0M183.5 396.4h0M195.9 389.0h0M184.5 390.2h0M170.6 395.6h0M183.2 399.1h0M194.2 385.4h0M180.9 394.8h0M189.0 393.8h0M177.6 391.9h0M187.5 387.2h0M173.5 387.2h0M178.2 398.7h0M179.6 396.0h0M192.3 398.2h0M184.4 392.3h0M182.5 391.4h0M177.7 394.9h0M189.1 390.3h0M176.4 392.7h0M182.8 396.4h0M184.1 393.3h0M172.1 390.7h0M180.4 389.9h0M185.8 392.9h0M177.3 394.7h0M182.2 390.7h0M178.9 395.7h0M181.2 396.8h0M177.9 390.9h0M180.9 392.1h0M174.0 391.7h0M192.2 390.1h0M179.4 394.4h0M178.9 390.4h0M187.4 397.8h0M186.1 399.1h0M183.1 392.3h0M179.9 390.8h0M177.2 399.2h0M188.9 392.2h0M183.2 388.8h0M187.0 392.0h0M181.5 391.4h0M172.3 390.3h0M193.2 389.0h0M176.3 391.6h0M176.1 388.3h0M174.5 388.4h0M182.5 382.4h0M172.6 386.7h0M182.6 388.6h0M185.2 388.9h0M189.8 384.9h0M195.2 387.0h0M180.1 388.1h0M180.6 399.2h0M188.2 390.4h0M187.0 391.4h0M185.2 394.7h0M170.5 390.3h0M187.6 393.9h0M171.7 390.8h0M172.3 393.3h0M178.7 396.4h0M182.6 393.0h0M185.0 397.0h0M180.4 390.5h0M178.8 389.2h0M185.3 386.0h0M186.7 387.7h0M180.6 391.7h0M176.7 394.9h0M182.7 397.3h0M186.7 390.9h0M187.8 395.7h0M183.7 393.9h0M190.5 390.0h0M191.5 393.9h0M186.7 397.6h0M201.2 388.8h0M173.2 397.7h0M180.1 393.1h0M172.7 397.8h0M184.9 385.9h0M189.8 392.7h0M179.2 385.1h0M195.6 388.8h0M187.5 390.1h0M198.5 374.5h0M193.9 372.6h0M194.4 372.6h0M193.7 379.6h0M193.7 377.0h0M195.4 378.6h0M194.1 376.8h0M193.5 368.6h0M191.7 381.5h0M194.5 375.3h0M190.4 373.6h0M197.0 383.6h0M195.3 371.3h0M188.5 374.3h0M199.7 378.9h0M191.5 375.5h0M193.8 381.0h0M198.5 380.4h0M188.6 380.6h0M199.1 373.9h0M195.7 377.9h0M189.1 369.0h0M192.0 373.3h0M195.2 371.8h0M191.2 373.6h0M197.9 374.3h0M197.3 379.6h0M192.5 377.4h0M191.6 376.1h0M196.0 375.1h0M206.8 373.2h0M209.1 369.0h0M209.7 376.9h0M210.6 382.3h0M210.2 382.0h0M210.6 384.0h0M207.5 386.3h0M210.8 375.0h0M209.3 386.7h0M208.8 384.5h0M207.9 382.2h0M213.3 390.5h0M212.4 391.9h0M210.3 383.1h0M211.6 381.7h0M208.1 389.5h0M212.1 387.0h0M211.4 377.9h0M211.1 383.5h0M211.0 380.2h0M209.6 374.7h0M210.6 374.5h0M207.4 380.5h0M210.0 378.7h0M212.1 386.5h0M208.1 379.0h0M209.0 399.9h0M208.8 379.4h0M210.7 386.4h0M209.9 392.0h0M207.7 388.7h0M208.9 393.4h0M212.5 381.4h0M210.6 378.2h0M208.7 384.5h0M206.7 392.4h0M208.1 396.5h0M210.1 378.3h0M208.7 385.6h0M206.4 386.7h0M209.0 377.7h0M208.9 380.3h0M211.3 387.3h0M211.2 373.0h0M212.4 384.8h0M210.4 374.6h0M211.5 381.6h0M211.0 388.3h0M213.3 384.8h0M208.0 386.0h0M208.2 382.9h0M208.2 390.3h0M213.6 369.5h0M208.6 380.3h0M206.5 376.7h0M210.1 383.9h0M207.0 382.7h0M211.1 387.3h0M208.6 376.9h0M208.9 391.8h0M204.3 389.5h0M202.2 392.0h0M194.7 394.3h0M198.5 395.6h0M209.0 391.3h0M203.4 396.6h0M197.4 391.5h0M198.2 394.1h0M190.6 394.2h0M196.9 394.7h0M200.6 399.8h0M200.0 395.7h0M200.8 395.9h0M202.3 388.1h0M187.9 390.2h0M197.8 396.7h0M196.8 394.4h0M196.8 394.0h0M197.5 391.9h0M197.5 389.1h0M205.8 393.3h0M195.0 390.1h0M199.2 392.7h0M199.9 391.6h0M209.9 393.5h0M196.4 393.7h0M203.7 394.9h0M199.2 392.4h0M193.5 392.7h0M204.4 391.1h0M204.1 395.9h0M202.3 393.6h0M206.2 391.1h0M197.5 394.4h0M203.8 395.0h0M187.4 395.9h0M194.2 393.5h0M194.9 393.0h0M194.0 393.0h0M201.7 395.3h0M200.4 392.0h0M189.2 389.5h0M194.4 391.6h0M206.5 390.0h0M199.9 393.1h0M205.6 391.6h0M199.7 393.2h0M201.9 397.0h0M197.2 392.1h0M200.5 388.6h0M207.0 394.9h0M197.0 395.1h0M198.2 396.0h0M212.9 396.4h0M210.6 398.9h0M206.1 393.4h0M197.9 393.9h0M198.4 393.6h0M196.4 393.1h0M200.6 394.4h0M191.6 400.0h0M191.7 392.2h0M203.0 390.7h0M199.5 392.6h0M188.8 392.2h0M198.1 394.0h0M209.1 390.8h0M198.8 394.1h0M194.9 394.9h0M199.1 397.9h0M189.9 391.3h0M186.0 392.1h0M195.4 390.8h0M188.2 393.4h0M194.5 390.8h0M206.2 397.5h0M191.8 386.6h0M196.6 393.9h0M205.1 393.7h0M195.5 393.0h0M199.4 391.4h0M203.0 392.3h0M201.2 394.1h0M203.0 388.0h0M198.4 391.3h0M204.8 389.7h0M199.7 398.4h0M200.4 391.0h0M199.2 392.9h0M201.9 393.6h0M202.7 390.5h0M189.3 389.7h0M199.3 394.3h0M198.8 398.8h0M199.2 393.7h0M205.3 394.0h0M203.3 391.8h0M201.0 390.7h0M208.1 392.5h0M200.4 395.2h0M194.0 392.5h0M185.7 394.9h0M205.5 393.6h0M199.6 387.6h0M204.1 391.3h0M192.0 397.1h0M186.6 390.2h0M207.5 396.0h0M197.4 385.0h0M200.0 396.4h0M203.9 390.8h0M206.5 395.7h0M201.8 394.3h0M206.7 392.9h0M213.9 391.5h0M202.7 394.4h0M200.3 391.4h0M202.1 393.7h0M208.8 389.2h0M204.1 391.2h0M200.6 396.1h0M204.0 393.3h0M215.6 389.1h0M197.0 394.3h0M190.0 389.5h0M193.3 391.7h0M195.2 389.6h0M198.5 395.2h0M193.3 393.4h0M203.9 392.9h0M207.5 393.5h0M214.2 392.0h0M212.9 400.0h0M203.9 391.9h0M200.2 394.7h0M192.4 393.3h0M201.7 395.8h0M196.6 392.7h0" stroke="#7a98de" stroke-width="0.75" stroke-linecap="round"/>
<path d="M191.2 389.9h0M194.8 388.3h0M192.4 388.0h0M194.7 391.3h0M193.1 387.3h0M195.0 376.8h0M193.9 392.0h0M194.7 387.4h0M195.0 390.9h0M189.6 383.3h0M191.4 380.3h0M195.5 382.2h0M193.6 388.4h0M195.9 380.2h0M190.1 378.2h0M194.2 382.2h0M194.3 389.9h0M197.4 381.8h0M193.7 386.0h0M188.8 388.9h0M196.4 380.7h0M194.8 387.1h0M193.8 381.7h0M191.0 395.2h0M195.9 386.5h0M195.9 381.8h0M194.7 383.9h0M187.7 381.9h0M195.0 389.1h0M194.7 385.9h0M193.9 379.4h0M193.1 398.1h0M193.6 383.9h0M197.9 385.5h0M192.9 386.1h0M194.0 380.8h0M193.4 384.4h0M189.4 386.9h0M193.2 383.6h0M192.2 389.9h0M187.0 389.1h0M193.5 385.9h0M192.5 384.5h0M195.2 382.3h0M197.3 380.7h0M194.6 385.0h0M196.9 388.7h0M189.7 387.5h0M191.3 387.5h0M193.2 382.2h0M191.2 386.1h0M193.0 384.6h0M190.6 387.2h0M191.5 378.1h0M189.5 393.4h0M192.8 382.2h0M191.5 384.6h0M193.1 385.3h0M195.1 383.7h0M194.3 386.1h0M192.5 388.6h0M194.5 382.7h0M194.9 384.4h0M190.4 394.1h0M196.7 378.7h0M194.0 387.0h0M192.7 382.6h0M194.2 387.1h0M192.6 389.1h0M190.0 375.7h0M195.3 392.2h0M189.7 381.5h0M198.3 385.5h0M195.8 390.8h0M193.7 382.1h0M197.0 387.3h0M190.8 381.1h0M193.5 379.5h0M198.4 388.6h0M195.4 385.0h0M194.6 376.8h0M191.6 387.5h0M190.3 381.8h0M190.5 389.2h0M195.4 384.9h0M194.4 384.8h0M189.9 381.8h0M191.9 387.8h0M193.0 389.7h0M191.6 388.6h0M193.5 391.4h0M193.7 389.1h0M188.7 387.9h0M193.2 388.5h0M193.9 380.8h0M197.7 393.4h0M194.4 391.4h0M193.7 393.5h0M191.3 390.1h0M194.4 380.0h0M192.7 389.1h0M191.1 383.6h0M193.2 384.5h0M193.6 386.1h0M193.9 383.7h0M193.4 381.6h0M196.4 384.4h0M194.0 384.5h0M195.1 383.6h0M197.6 388.1h0M193.7 391.8h0M195.8 386.5h0M191.1 386.9h0M194.2 383.1h0M194.5 384.8h0M195.2 385.3h0M191.2 377.7h0M191.6 378.9h0M198.3 391.4h0M196.6 387.5h0M195.1 379.9h0M193.0 380.6h0M195.0 385.8h0M196.8 382.1h0M194.3 390.2h0M192.3 386.9h0M196.0 379.7h0M193.4 384.9h0M192.8 376.9h0M192.4 376.9h0" stroke="#5577cc" stroke-width="0.75" stroke-linecap="round"/>
<path d="M210.0 393.9h0M209.4 398.1h0M207.8 394.0h0M208.2 392.1h0M210.0 393.4h0M210.7 392.4h0M208.2 396.2h0M211.0 392.9h0M209.7 397.5h0M209.5 391.0h0M208.9 385.2h0M211.7 395.2h0M211.0 388.7h0M211.6 393.2h0M210.2 398.4h0M211.5 389.3h0M209.4 393.7h0M209.8 391.8h0M210.3 394.0h0M209.4 396.4h0M208.5 393.1h0M207.9 393.7h0M211.4 398.9h0M208.8 389.2h0M208.4 392.5h0M211.4 390.2h0M209.9 400.0h0M210.7 396.2h0M211.0 391.1h0M212.2 399.2h0M209.9 393.7h0M209.4 396.3h0M209.7 398.7h0M210.3 395.2h0M211.5 391.0h0M206.9 394.9h0M208.9 388.7h0M209.5 396.2h0M209.3 396.9h0M209.3 393.1h0M206.7 391.1h0M210.2 393.7h0M208.0 394.6h0M214.9 397.1h0M210.7 390.3h0M207.9 393.5h0M208.5 396.4h0M208.7 393.9h0M209.7 394.2h0M209.3 392.6h0M210.1 395.7h0M210.2 390.7h0M208.5 392.3h0M208.9 392.5h0M210.0 399.1h0M210.1 392.3h0M211.1 396.2h0M210.6 391.5h0M210.5 397.1h0M207.9 394.0h0M209.5 396.7h0M212.9 393.5h0M210.6 397.5h0M210.4 396.1h0M209.4 396.2h0M209.3 396.5h0M209.5 394.8h0M208.5 390.7h0M210.3 395.6h0M211.2 394.4h0M208.0 393.5h0M212.9 391.9h0M210.9 395.9h0M210.4 395.1h0M212.2 394.7h0M214.4 391.7h0M211.4 394.3h0M208.3 398.8h0M211.6 395.9h0M212.2 390.3h0M211.0 397.3h0M209.8 392.6h0M211.8 390.6h0M209.2 396.0h0M213.1 397.4h0M211.0 397.7h0M209.5 390.1h0M210.6 391.7h0M209.7 392.2h0M209.5 389.1h0M207.7 395.0h0M210.1 393.5h0M210.5 396.0h0M209.1 388.7h0M210.8 397.0h0M211.0 392.0h0M210.5 393.3h0M209.4 399.6h0M209.7 392.7h0M208.2 394.2h0M213.9 395.3h0M213.8 395.1h0M209.4 389.9h0M209.4 395.6h0M206.3 394.3h0M211.7 395.9h0" stroke="#3a5cbc" stroke-width="0.75" stroke-linecap="round"/>
<g filter="url(#fbb)" transform="rotate(-12 183.1 393.7)">
<ellipse cx="183.1" cy="393.7" rx="7.36" ry="5.06" fill="#6d8ddb"/>
<ellipse cx="183.1" cy="393.7" rx="6.08" ry="4.18" fill="#3a5ec4"/>
<ellipse cx="183.1" cy="393.7" rx="4.74" ry="3.26" fill="#2f84d6"/>
<ellipse cx="183.1" cy="393.7" rx="3.58" ry="2.46" fill="#2cbdc4"/>
<ellipse cx="183.1" cy="393.7" rx="2.62" ry="1.8" fill="#5cc24a"/>
<ellipse cx="183.1" cy="393.7" rx="1.79" ry="1.23" fill="#e8d41e"/>
<ellipse cx="183.1" cy="393.7" rx="0.96" ry="0.66" fill="#e8281c"/>
</g>
<line x1="190.5" y1="343.3" x2="190.5" y2="400.7" stroke="#8a8a8a" stroke-width="0.9"/>
<line x1="169.3" y1="386.5" x2="228.4" y2="386.5" stroke="#8a8a8a" stroke-width="0.9"/>
<text x="170.8" y="346.5" font-size="2.3" fill="#444" text-anchor="start">Q1</text>
<text x="170.8" y="350.5" font-size="2.3" fill="#444" text-anchor="start">1.18%</text>
<text x="226.9" y="346.5" font-size="2.3" fill="#444" text-anchor="end">Q2</text>
<text x="226.9" y="350.5" font-size="2.3" fill="#444" text-anchor="end">2.15%</text>
<text x="170.8" y="395.5" font-size="2.3" fill="#444" text-anchor="start">Q4</text>
<text x="170.8" y="399.5" font-size="2.3" fill="#444" text-anchor="start">81.9%</text>
<text x="226.9" y="395.5" font-size="2.3" fill="#444" text-anchor="end">Q3</text>
<text x="226.9" y="399.5" font-size="2.3" fill="#444" text-anchor="end">15.2%</text>
</g>
<rect x="252.8" y="332.5" width="6" height="3.2" fill="#fff" stroke="#231f20" stroke-width="0.8"/>
<rect x="252.8" y="338.2" width="6" height="3.2" fill="#8488c4" stroke="#231f20" stroke-width="0.8"/>
<rect x="252.8" y="343.9" width="6" height="3.2" fill="#1e2288" stroke="#231f20" stroke-width="0.8"/>
<text transform="translate(264.8,336.1) scale(1,0.92)" font-size="7.3" font-weight="bold" fill="#231f20">Q2 Late apoptotic cells</text>
<text transform="translate(264.8,341.9) scale(1,0.92)" font-size="7.3" font-weight="bold" fill="#231f20">Q3 Early apoptotic cells</text>
<text transform="translate(264.8,347.4) scale(1,0.92)" font-size="7.3" font-weight="bold" fill="#231f20">Q4 Viable cells</text>
<text transform="translate(235.78,385.5) rotate(-90)" font-size="8.4" text-anchor="middle" font-weight="bold" fill="#231f20" >% of cells</text>
<line x1="256.5" y1="353.8" x2="256.5" y2="408.1" stroke="#111" stroke-width="1.1"/>
<line x1="254.1" y1="407.5" x2="256.9" y2="407.5" stroke="#111" stroke-width="1.1"/>
<text x="254.1" y="410.54" font-size="8.4" text-anchor="end" font-weight="bold" fill="#231f20" >0</text>
<line x1="254.1" y1="396.5" x2="256.9" y2="396.5" stroke="#111" stroke-width="1.1"/>
<text x="254.1" y="399.88" font-size="8.4" text-anchor="end" font-weight="bold" fill="#231f20" >20</text>
<line x1="254.1" y1="386.5" x2="256.9" y2="386.5" stroke="#111" stroke-width="1.1"/>
<text x="254.1" y="389.22" font-size="8.4" text-anchor="end" font-weight="bold" fill="#231f20" >40</text>
<line x1="254.1" y1="375.5" x2="256.9" y2="375.5" stroke="#111" stroke-width="1.1"/>
<text x="254.1" y="378.56" font-size="8.4" text-anchor="end" font-weight="bold" fill="#231f20" >60</text>
<line x1="254.1" y1="364.5" x2="256.9" y2="364.5" stroke="#111" stroke-width="1.1"/>
<text x="254.1" y="367.9" font-size="8.4" text-anchor="end" font-weight="bold" fill="#231f20" >80</text>
<line x1="254.1" y1="354.5" x2="256.9" y2="354.5" stroke="#111" stroke-width="1.1"/>
<text x="254.1" y="357.24" font-size="8.4" text-anchor="end" font-weight="bold" fill="#231f20" >100</text>
<line x1="256.4" y1="407.5" x2="333.7" y2="407.5" stroke="#111" stroke-width="1.1"/>
<line x1="261.5" y1="407.6" x2="261.5" y2="409.2" stroke="#111" stroke-width="1.1"/>
<line x1="269.5" y1="407.6" x2="269.5" y2="409.2" stroke="#111" stroke-width="1.1"/>
<line x1="275.5" y1="407.6" x2="275.5" y2="409.2" stroke="#111" stroke-width="1.1"/>
<line x1="287.5" y1="407.6" x2="287.5" y2="409.2" stroke="#111" stroke-width="1.1"/>
<line x1="294.5" y1="407.6" x2="294.5" y2="409.2" stroke="#111" stroke-width="1.1"/>
<line x1="301.5" y1="407.6" x2="301.5" y2="409.2" stroke="#111" stroke-width="1.1"/>
<line x1="313.5" y1="407.6" x2="313.5" y2="409.2" stroke="#111" stroke-width="1.1"/>
<line x1="320.5" y1="407.6" x2="320.5" y2="409.2" stroke="#111" stroke-width="1.1"/>
<line x1="327.5" y1="407.6" x2="327.5" y2="409.2" stroke="#111" stroke-width="1.1"/>
<rect x="260.5" y="406.5" width="2" height="1.1" fill="#fff" stroke="#231f20" stroke-width="0.9"/>
<rect x="267.5" y="406.5" width="2" height="1.1" fill="#fff" stroke="#231f20" stroke-width="0.9"/>
<rect x="274.5" y="406.5" width="2" height="1.1" fill="#fff" stroke="#231f20" stroke-width="0.9"/>
<line x1="275.5" y1="406.27" x2="275.5" y2="406.5" stroke="#111" stroke-width="0.9"/>
<line x1="274.45" y1="406.5" x2="276.55" y2="406.5" stroke="#111" stroke-width="0.9"/>
<rect x="285.5" y="406.5" width="3" height="1.1" fill="#8488c4" stroke="#231f20" stroke-width="0.9"/>
<rect x="293.5" y="405.5" width="3" height="2.1" fill="#8488c4" stroke="#231f20" stroke-width="0.9"/>
<line x1="295.5" y1="403.6" x2="295.5" y2="405.5" stroke="#111" stroke-width="0.9"/>
<line x1="294.4" y1="403.5" x2="296.6" y2="403.5" stroke="#111" stroke-width="0.9"/>
<rect x="300.5" y="398.5" width="3" height="9.1" fill="#8488c4" stroke="#231f20" stroke-width="0.9"/>
<line x1="302.5" y1="395.61" x2="302.5" y2="398.5" stroke="#111" stroke-width="0.9"/>
<line x1="301.32" y1="395.5" x2="303.68" y2="395.5" stroke="#111" stroke-width="0.9"/>
<rect x="311.5" y="354.5" width="4" height="53.1" fill="#1e2288" stroke="#231f20" stroke-width="0.9"/>
<line x1="313.5" y1="354.3" x2="313.5" y2="354.5" stroke="#111" stroke-width="0.9"/>
<line x1="312.26" y1="354.5" x2="314.74" y2="354.5" stroke="#111" stroke-width="0.9"/>
<rect x="318.5" y="356.5" width="4" height="51.1" fill="#1e2288" stroke="#231f20" stroke-width="0.9"/>
<line x1="320.5" y1="355.37" x2="320.5" y2="356.5" stroke="#111" stroke-width="0.9"/>
<line x1="319.18" y1="355.5" x2="321.82" y2="355.5" stroke="#111" stroke-width="0.9"/>
<rect x="325.5" y="364.5" width="4" height="43.1" fill="#1e2288" stroke="#231f20" stroke-width="0.9"/>
<line x1="328.5" y1="361.5" x2="328.5" y2="364.5" stroke="#111" stroke-width="0.9"/>
<line x1="327.15" y1="361.5" x2="329.85" y2="361.5" stroke="#111" stroke-width="0.9"/>
<text x="256.9" y="418" font-size="8.4" text-anchor="middle" font-weight="bold" fill="#231f20" >a</text>
<text x="268.1" y="418" font-size="8.4" text-anchor="middle" font-weight="bold" fill="#231f20" >b</text>
<text x="275.9" y="418" font-size="8.4" text-anchor="middle" font-weight="bold" fill="#231f20" >c</text>
<text x="287.7" y="418" font-size="8.4" text-anchor="middle" font-weight="bold" fill="#231f20" >a</text>
<text x="295.4" y="418" font-size="8.4" text-anchor="middle" font-weight="bold" fill="#231f20" >b</text>
<text x="303.2" y="418" font-size="8.4" text-anchor="middle" font-weight="bold" fill="#231f20" >c</text>
<text x="314.7" y="418" font-size="8.4" text-anchor="middle" font-weight="bold" fill="#231f20" >a</text>
<text x="323.1" y="418" font-size="8.4" text-anchor="middle" font-weight="bold" fill="#231f20" >b</text>
<text x="329.5" y="418" font-size="8.4" text-anchor="middle" font-weight="bold" fill="#231f20" >c</text>
<line x1="282.3" y1="382.5" x2="308" y2="382.5" stroke="#111" stroke-width="1.1"/>
<text x="296.3" y="382.1" font-size="7.5" text-anchor="middle" font-weight="bold" fill="#231f20" >***</text>
<line x1="292.6" y1="391.5" x2="307" y2="391.5" stroke="#111" stroke-width="1.1"/>
<text x="300.3" y="391.3" font-size="7.5" text-anchor="middle" font-weight="bold" fill="#231f20" >***</text>
<line x1="358.5" y1="345.6" x2="358.5" y2="416.3" stroke="#111" stroke-width="1.5"/>
<path d="M358.6,342.6 L363.4,351.8 L358.6,349.6 L353.8,351.8 Z" fill="#231f20"/>
<line x1="358.6" y1="416.5" x2="578" y2="416.5" stroke="#111" stroke-width="1.5"/>
<path d="M581,416.3 L572.4,411.7 L574.6,416.3 L572.4,420.9 Z" fill="#231f20"/>
<text transform="translate(348.18,379.6) rotate(-90)" font-size="8.4" text-anchor="middle" font-weight="bold" fill="#231f20" >PI</text>
<text x="469" y="424.8" font-size="8.4" text-anchor="middle" font-weight="bold" fill="#231f20" >FITC</text>
<text x="371.8" y="338" font-size="8.4" text-anchor="start" font-weight="bold" fill="#231f20" >Blank control</text>
<text x="441.7" y="338" font-size="8.4" text-anchor="start" font-weight="bold" fill="#231f20" >Negative control</text>
<text transform="translate(517.3,337.81) scale(1,0.85)" font-size="8.2" text-anchor="start" font-weight="bold" fill="#231f20" >siRNA-STAT4</text>
<g>
<text x="371.1" y="402.1" font-size="2.4" fill="#444" text-anchor="end">10<tspan dy="-1" font-size="1.7">0</tspan></text>
<line x1="371.3" y1="401.3" x2="371.9" y2="401.3" stroke="#777" stroke-width="0.4"/>
<text x="373.4" y="406.6" font-size="2.4" fill="#444" text-anchor="middle">10<tspan dy="-1" font-size="1.7">0</tspan></text>
<line x1="373.4" y1="402.8" x2="373.4" y2="403.4" stroke="#777" stroke-width="0.4"/>
<text x="371.1" y="391" font-size="2.4" fill="#444" text-anchor="end">10<tspan dy="-1" font-size="1.7">1</tspan></text>
<line x1="371.3" y1="390.2" x2="371.9" y2="390.2" stroke="#777" stroke-width="0.4"/>
<text x="384.24" y="406.6" font-size="2.4" fill="#444" text-anchor="middle">10<tspan dy="-1" font-size="1.7">1</tspan></text>
<line x1="384.24" y1="402.8" x2="384.24" y2="403.4" stroke="#777" stroke-width="0.4"/>
<text x="371.1" y="379.9" font-size="2.4" fill="#444" text-anchor="end">10<tspan dy="-1" font-size="1.7">2</tspan></text>
<line x1="371.3" y1="379.1" x2="371.9" y2="379.1" stroke="#777" stroke-width="0.4"/>
<text x="395.08" y="406.6" font-size="2.4" fill="#444" text-anchor="middle">10<tspan dy="-1" font-size="1.7">2</tspan></text>
<line x1="395.08" y1="402.8" x2="395.08" y2="403.4" stroke="#777" stroke-width="0.4"/>
<text x="371.1" y="368.8" font-size="2.4" fill="#444" text-anchor="end">10<tspan dy="-1" font-size="1.7">3</tspan></text>
<line x1="371.3" y1="368" x2="371.9" y2="368" stroke="#777" stroke-width="0.4"/>
<text x="405.92" y="406.6" font-size="2.4" fill="#444" text-anchor="middle">10<tspan dy="-1" font-size="1.7">3</tspan></text>
<line x1="405.92" y1="402.8" x2="405.92" y2="403.4" stroke="#777" stroke-width="0.4"/>
<text x="371.1" y="357.7" font-size="2.4" fill="#444" text-anchor="end">10<tspan dy="-1" font-size="1.7">4</tspan></text>
<line x1="371.3" y1="356.9" x2="371.9" y2="356.9" stroke="#777" stroke-width="0.4"/>
<text x="416.76" y="406.6" font-size="2.4" fill="#444" text-anchor="middle">10<tspan dy="-1" font-size="1.7">4</tspan></text>
<line x1="416.76" y1="402.8" x2="416.76" y2="403.4" stroke="#777" stroke-width="0.4"/>
<text x="371.1" y="346.6" font-size="2.4" fill="#444" text-anchor="end">10<tspan dy="-1" font-size="1.7">5</tspan></text>
<line x1="371.3" y1="345.8" x2="371.9" y2="345.8" stroke="#777" stroke-width="0.4"/>
<text x="427.6" y="406.6" font-size="2.4" fill="#444" text-anchor="middle">10<tspan dy="-1" font-size="1.7">5</tspan></text>
<line x1="427.6" y1="402.8" x2="427.6" y2="403.4" stroke="#777" stroke-width="0.4"/>
<rect x="371.5" y="342.5" width="58" height="60" fill="#fff" stroke="#666" stroke-width="0.9"/>
<path d="M377.2 393.0h0M392.0 398.7h0M373.6 389.7h0M380.6 385.8h0M384.6 385.2h0M387.2 387.4h0M384.9 392.9h0M381.1 388.6h0M374.9 386.4h0M396.7 393.6h0M399.7 392.7h0M385.4 388.7h0M379.8 384.6h0M391.5 395.2h0M396.2 397.2h0M372.6 380.6h0M389.4 392.2h0M373.0 387.3h0M389.8 398.6h0M386.3 388.2h0M390.1 395.7h0M373.0 391.2h0M386.8 391.3h0M377.5 388.1h0M384.1 392.1h0M399.4 393.0h0M392.6 386.3h0M392.2 394.7h0M395.1 397.0h0M373.6 385.5h0M374.7 388.4h0M395.3 382.7h0M382.5 395.3h0M380.6 385.0h0M373.7 393.3h0M389.1 390.4h0M385.3 396.9h0M378.8 399.4h0M372.6 399.1h0M382.1 384.5h0M383.2 393.3h0M387.6 391.5h0M380.4 389.7h0M382.9 396.2h0M386.5 394.0h0M383.8 397.0h0M404.9 400.4h0M400.7 389.4h0M383.0 390.1h0M375.0 387.3h0M378.7 389.0h0M379.8 384.1h0M391.7 393.1h0M375.1 388.9h0M373.5 382.8h0M388.4 389.1h0M392.2 397.4h0M387.0 388.6h0M375.5 389.2h0M386.1 385.1h0M382.7 395.7h0M376.6 389.4h0M386.2 395.1h0M391.5 393.0h0M397.6 388.2h0M397.9 393.5h0M379.0 384.9h0M397.0 392.1h0M387.5 397.8h0M378.2 394.4h0M390.5 398.1h0M385.2 399.0h0M376.9 390.8h0M375.8 386.9h0M398.5 392.3h0M381.7 391.9h0M383.5 384.6h0M377.6 392.7h0M378.1 386.7h0M384.1 393.3h0M387.7 383.6h0M389.0 393.5h0M397.6 394.1h0M395.4 391.0h0M382.1 387.1h0M383.1 389.4h0M376.2 393.7h0M385.6 389.1h0M384.1 392.5h0M386.3 388.1h0M388.4 389.0h0M385.1 388.7h0M401.9 384.8h0M392.0 386.8h0M397.9 385.6h0M389.0 390.3h0M391.2 385.4h0M378.9 393.0h0M390.2 388.3h0M375.2 391.3h0M377.7 386.5h0M380.1 397.1h0M387.6 389.3h0M387.8 384.8h0M376.2 390.6h0M378.3 388.2h0M381.9 398.8h0M381.5 392.7h0M398.5 380.3h0M378.9 394.8h0M395.0 391.4h0M384.1 400.2h0M387.9 391.6h0M379.5 394.7h0M386.4 394.7h0M391.9 393.7h0M399.3 389.2h0M380.3 385.4h0M378.4 391.4h0M397.0 385.7h0M386.6 385.2h0M390.7 381.7h0M397.2 389.8h0M403.7 392.0h0M373.0 389.2h0M375.5 392.3h0M394.2 392.2h0M379.2 389.9h0M399.2 387.0h0M389.4 387.3h0M374.4 394.0h0M398.8 386.8h0M379.1 387.9h0M392.5 401.6h0M381.1 394.2h0M378.1 391.1h0M376.7 390.6h0M383.8 389.5h0M384.3 388.0h0M385.8 384.0h0M387.4 390.3h0M387.1 390.8h0M381.4 391.4h0M378.3 391.1h0M384.6 385.3h0M404.2 397.3h0M386.6 393.7h0M396.1 388.9h0M385.9 395.1h0M375.4 390.2h0M382.7 392.6h0M372.7 390.8h0M376.0 394.7h0M376.9 394.2h0M382.4 388.7h0M390.1 393.5h0M379.5 395.4h0M395.8 383.5h0M390.2 382.8h0M383.0 394.7h0M387.7 393.1h0M381.6 394.0h0M376.2 386.3h0M392.7 388.5h0M375.5 390.9h0M389.7 393.5h0M378.0 392.2h0M383.6 390.8h0M375.7 392.1h0M390.8 390.1h0M377.5 382.8h0M379.7 394.9h0M395.8 398.0h0M403.6 395.9h0M398.9 390.3h0M394.7 396.9h0M398.3 391.7h0M392.6 391.8h0M393.8 391.7h0M408.3 389.0h0M393.9 392.3h0M400.5 388.4h0M389.9 391.7h0M402.9 392.1h0M408.5 392.6h0M402.7 386.1h0M398.9 390.4h0M395.6 393.9h0M397.6 393.3h0M397.0 392.8h0M407.1 392.9h0M406.3 391.6h0M391.1 394.7h0M398.2 387.3h0M409.5 391.2h0M398.6 386.1h0M407.0 390.8h0M394.1 393.6h0M406.7 394.0h0M406.0 394.8h0M393.0 387.6h0M403.8 396.1h0M416.4 387.4h0M400.3 389.0h0M400.6 388.8h0M401.5 390.9h0M406.0 391.4h0M413.1 395.1h0M404.2 389.8h0M403.8 388.6h0M401.3 389.4h0M406.1 389.6h0M400.6 394.8h0M401.7 391.0h0M392.0 391.7h0M407.3 390.9h0M397.6 393.3h0M413.2 392.0h0M398.5 388.4h0M400.4 385.6h0M395.8 388.1h0M409.4 385.2h0M400.2 388.8h0M391.8 392.6h0M406.8 389.8h0M397.8 391.1h0M404.4 392.1h0M398.1 388.8h0M400.3 386.0h0M398.3 395.1h0M400.8 390.2h0M393.0 386.8h0M405.3 390.3h0M392.9 386.2h0M396.6 396.7h0M400.0 382.4h0M397.5 391.9h0M391.0 390.5h0M408.6 388.0h0M388.7 389.0h0M404.9 387.1h0M399.9 391.5h0M399.2 390.7h0M389.3 399.5h0M399.5 396.3h0M399.5 387.9h0M390.0 386.7h0M399.1 387.9h0M408.9 390.8h0M400.7 397.3h0M402.6 384.0h0M405.5 385.7h0M392.2 394.7h0M401.0 384.5h0M403.8 401.0h0M388.3 387.5h0M389.6 390.4h0M396.1 389.2h0M388.9 391.4h0M397.5 398.8h0M398.8 384.9h0M390.7 390.1h0M395.9 388.3h0M407.7 391.1h0M397.2 386.9h0M393.9 393.6h0M406.8 394.1h0M402.9 391.8h0M413.0 395.1h0M407.1 388.3h0M403.8 390.1h0M396.4 387.6h0M406.1 393.9h0M403.7 392.8h0M402.8 393.1h0M405.6 388.5h0M396.8 390.4h0M401.6 392.3h0M397.6 386.6h0M399.6 386.4h0M400.0 394.5h0M390.8 396.9h0M396.7 384.7h0M391.6 383.5h0M400.0 390.9h0M401.5 391.5h0M403.2 389.5h0M392.3 392.1h0M400.8 393.8h0M402.8 389.5h0M403.3 387.6h0M397.8 387.8h0M400.9 371.0h0M400.5 380.0h0M396.0 381.5h0M409.1 378.2h0M399.5 384.2h0M400.7 377.8h0M410.7 373.5h0M409.5 374.9h0M412.5 376.0h0M403.0 380.4h0M406.2 375.1h0M409.8 369.8h0M411.5 384.0h0M404.2 375.9h0M405.9 365.8h0M401.2 383.3h0M401.3 380.0h0M409.7 384.3h0M408.1 377.5h0M412.4 378.8h0M403.8 388.0h0M404.7 379.0h0M402.7 382.8h0M399.4 380.1h0M401.6 390.5h0M409.3 378.3h0M406.7 375.0h0M406.5 382.8h0M397.5 371.1h0M405.9 375.0h0M408.4 376.7h0M409.2 368.7h0M409.4 381.2h0M406.5 383.4h0M407.2 369.2h0M405.1 376.8h0M401.6 389.0h0M404.2 369.5h0M406.6 380.6h0M396.8 378.5h0M413.7 385.2h0M392.7 372.9h0M410.0 375.2h0M403.2 387.4h0M396.9 378.1h0M409.5 381.1h0M406.5 391.6h0M413.2 390.8h0M408.7 393.1h0M404.9 387.2h0M409.0 393.2h0M419.8 397.9h0M401.9 387.2h0M411.5 395.3h0M415.0 397.2h0M402.9 389.0h0M408.2 390.1h0M419.0 396.2h0M416.2 390.9h0M409.7 396.5h0M406.1 396.7h0M406.3 392.6h0M409.3 394.1h0M422.6 387.5h0M413.2 395.8h0M411.1 388.3h0M406.0 393.9h0M411.4 395.9h0M409.7 382.7h0M421.4 395.2h0M418.3 395.0h0M417.9 393.6h0M413.2 399.2h0M417.9 392.6h0M418.0 390.8h0M405.2 394.1h0M414.1 386.1h0M409.1 393.4h0M413.2 387.4h0M416.4 391.0h0M410.0 396.2h0M420.7 391.5h0M409.9 397.9h0M412.8 390.8h0M411.9 387.5h0M418.1 387.5h0M410.6 393.2h0M407.9 394.2h0M414.2 397.8h0M415.5 388.7h0M416.8 395.4h0M411.2 393.0h0M416.1 394.3h0M414.6 392.5h0M417.8 390.3h0" stroke="#7a98de" stroke-width="0.75" stroke-linecap="round"/>
<g filter="url(#fbb)" transform="rotate(-4 382.6 390.8)">
<ellipse cx="382.6" cy="390.8" rx="10.35" ry="4.71" fill="#6d8ddb"/>
<ellipse cx="382.6" cy="390.8" rx="8.55" ry="3.89" fill="#3a5ec4"/>
<ellipse cx="382.6" cy="390.8" rx="6.66" ry="3.03" fill="#2f84d6"/>
<ellipse cx="382.6" cy="390.8" rx="5.04" ry="2.3" fill="#2cbdc4"/>
<ellipse cx="382.6" cy="390.8" rx="3.69" ry="1.68" fill="#5cc24a"/>
<ellipse cx="382.6" cy="390.8" rx="2.52" ry="1.15" fill="#e8d41e"/>
<ellipse cx="382.6" cy="390.8" rx="1.35" ry="0.61" fill="#e8281c"/>
</g>
<line x1="394.5" y1="342.3" x2="394.5" y2="402.8" stroke="#8a8a8a" stroke-width="0.9"/>
<line x1="371.9" y1="382.5" x2="430.1" y2="382.5" stroke="#8a8a8a" stroke-width="0.9"/>
<text x="373.4" y="345.5" font-size="2.3" fill="#444" text-anchor="start">Q1</text>
<text x="373.4" y="349.5" font-size="2.3" fill="#444" text-anchor="start">1.18%</text>
<text x="428.6" y="345.5" font-size="2.3" fill="#444" text-anchor="end">Q2</text>
<text x="428.6" y="349.5" font-size="2.3" fill="#444" text-anchor="end">0.40%</text>
<text x="373.4" y="397.6" font-size="2.3" fill="#444" text-anchor="start">Q4</text>
<text x="373.4" y="401.6" font-size="2.3" fill="#444" text-anchor="start">96.4%</text>
<text x="428.6" y="397.6" font-size="2.3" fill="#444" text-anchor="end">Q3</text>
<text x="428.6" y="401.6" font-size="2.3" fill="#444" text-anchor="end">1.92%</text>
</g>
<g>
<text x="443.7" y="401.7" font-size="2.4" fill="#444" text-anchor="end">10<tspan dy="-1" font-size="1.7">0</tspan></text>
<line x1="443.9" y1="400.9" x2="444.5" y2="400.9" stroke="#777" stroke-width="0.4"/>
<text x="446" y="406.2" font-size="2.4" fill="#444" text-anchor="middle">10<tspan dy="-1" font-size="1.7">0</tspan></text>
<line x1="446" y1="402.4" x2="446" y2="403" stroke="#777" stroke-width="0.4"/>
<text x="443.7" y="391.08" font-size="2.4" fill="#444" text-anchor="end">10<tspan dy="-1" font-size="1.7">1</tspan></text>
<line x1="443.9" y1="390.28" x2="444.5" y2="390.28" stroke="#777" stroke-width="0.4"/>
<text x="457" y="406.2" font-size="2.4" fill="#444" text-anchor="middle">10<tspan dy="-1" font-size="1.7">1</tspan></text>
<line x1="457" y1="402.4" x2="457" y2="403" stroke="#777" stroke-width="0.4"/>
<text x="443.7" y="380.46" font-size="2.4" fill="#444" text-anchor="end">10<tspan dy="-1" font-size="1.7">2</tspan></text>
<line x1="443.9" y1="379.66" x2="444.5" y2="379.66" stroke="#777" stroke-width="0.4"/>
<text x="468" y="406.2" font-size="2.4" fill="#444" text-anchor="middle">10<tspan dy="-1" font-size="1.7">2</tspan></text>
<line x1="468" y1="402.4" x2="468" y2="403" stroke="#777" stroke-width="0.4"/>
<text x="443.7" y="369.84" font-size="2.4" fill="#444" text-anchor="end">10<tspan dy="-1" font-size="1.7">3</tspan></text>
<line x1="443.9" y1="369.04" x2="444.5" y2="369.04" stroke="#777" stroke-width="0.4"/>
<text x="479" y="406.2" font-size="2.4" fill="#444" text-anchor="middle">10<tspan dy="-1" font-size="1.7">3</tspan></text>
<line x1="479" y1="402.4" x2="479" y2="403" stroke="#777" stroke-width="0.4"/>
<text x="443.7" y="359.22" font-size="2.4" fill="#444" text-anchor="end">10<tspan dy="-1" font-size="1.7">4</tspan></text>
<line x1="443.9" y1="358.42" x2="444.5" y2="358.42" stroke="#777" stroke-width="0.4"/>
<text x="490" y="406.2" font-size="2.4" fill="#444" text-anchor="middle">10<tspan dy="-1" font-size="1.7">4</tspan></text>
<line x1="490" y1="402.4" x2="490" y2="403" stroke="#777" stroke-width="0.4"/>
<text x="443.7" y="348.6" font-size="2.4" fill="#444" text-anchor="end">10<tspan dy="-1" font-size="1.7">5</tspan></text>
<line x1="443.9" y1="347.8" x2="444.5" y2="347.8" stroke="#777" stroke-width="0.4"/>
<text x="501" y="406.2" font-size="2.4" fill="#444" text-anchor="middle">10<tspan dy="-1" font-size="1.7">5</tspan></text>
<line x1="501" y1="402.4" x2="501" y2="403" stroke="#777" stroke-width="0.4"/>
<rect x="444.5" y="344.5" width="59" height="58" fill="#fff" stroke="#666" stroke-width="0.9"/>
<path d="M455.7 389.3h0M456.0 392.8h0M455.9 384.0h0M460.0 388.9h0M455.0 390.5h0M459.1 394.7h0M462.9 390.4h0M450.4 385.9h0M459.2 395.2h0M457.4 389.6h0M461.8 384.2h0M454.2 392.0h0M464.9 389.0h0M460.4 391.0h0M464.0 385.5h0M462.1 383.9h0M448.8 393.5h0M463.0 385.1h0M464.6 386.0h0M456.2 388.8h0M458.0 393.3h0M462.7 391.4h0M462.8 391.9h0M451.4 387.1h0M452.8 392.0h0M454.7 399.3h0M449.6 385.6h0M463.9 395.7h0M461.6 393.3h0M469.8 389.6h0M465.6 384.2h0M457.3 391.0h0M454.2 392.9h0M462.2 399.3h0M462.6 387.6h0M451.9 386.7h0M465.6 387.7h0M456.4 393.0h0M450.5 388.8h0M451.9 391.7h0M467.7 389.9h0M459.4 390.7h0M466.8 393.6h0M459.5 386.0h0M465.1 391.5h0M468.0 389.9h0M474.6 388.6h0M471.3 390.5h0M452.4 385.5h0M455.6 395.7h0M464.3 392.8h0M462.0 387.8h0M451.4 390.0h0M472.5 385.8h0M453.1 395.4h0M453.0 388.5h0M457.9 385.0h0M459.0 385.2h0M465.0 390.0h0M477.6 391.1h0M469.3 384.8h0M455.9 391.3h0M472.7 383.3h0M465.9 392.4h0M470.8 392.8h0M457.5 387.9h0M445.8 390.8h0M455.3 398.1h0M451.5 391.3h0M459.4 393.3h0M470.0 389.8h0M446.9 391.8h0M461.7 392.0h0M450.7 394.5h0M457.8 392.8h0M468.5 392.4h0M459.6 398.6h0M459.2 388.8h0M458.0 395.9h0M458.1 392.1h0M467.8 387.9h0M459.1 387.6h0M464.8 392.4h0M448.0 392.1h0M455.2 384.1h0M461.1 389.8h0M450.3 392.1h0M461.4 387.7h0M460.6 394.1h0M450.6 391.5h0M457.0 399.1h0M454.2 389.6h0M474.1 390.0h0M477.2 388.2h0M460.2 388.0h0M450.8 390.2h0M454.5 390.8h0M455.5 397.0h0M447.9 391.2h0M485.5 386.5h0M461.3 392.8h0M468.6 389.0h0M468.2 391.9h0M469.6 398.5h0M462.1 391.2h0M445.8 386.6h0M457.4 392.0h0M462.2 388.1h0M446.6 386.9h0M446.6 392.6h0M461.0 396.1h0M457.6 394.0h0M453.4 387.0h0M450.9 396.1h0M465.9 391.9h0M487.0 389.9h0M462.6 391.2h0M455.0 399.3h0M470.6 384.4h0M453.4 391.7h0M464.0 384.6h0M456.4 389.6h0M460.1 386.9h0M446.0 381.9h0M460.0 391.5h0M465.9 393.2h0M455.3 395.4h0M455.8 387.4h0M452.3 387.7h0M459.2 388.6h0M450.6 391.5h0M472.5 390.2h0M452.4 387.6h0M456.4 384.9h0M455.9 390.2h0M473.6 393.8h0M466.3 387.1h0M463.0 385.4h0M459.8 391.7h0M450.1 398.0h0M462.1 382.4h0M462.0 388.4h0M457.0 391.9h0M460.5 381.8h0M446.6 393.1h0M468.7 397.6h0M473.2 381.8h0M463.9 382.3h0M471.5 391.0h0M446.7 398.0h0M462.8 382.4h0M459.6 387.1h0M458.0 388.1h0M469.4 384.3h0M459.9 397.3h0M449.6 390.8h0M458.8 387.2h0M462.8 390.4h0M448.5 397.0h0M464.1 389.3h0M451.3 386.9h0M468.1 389.4h0M461.1 389.3h0M462.5 389.5h0M463.9 389.3h0M464.5 392.7h0M456.0 386.6h0M448.5 387.0h0M448.1 393.5h0M456.6 396.3h0M477.5 390.1h0M456.3 384.0h0M454.7 391.1h0M452.9 386.9h0M450.2 397.1h0M455.6 386.7h0M453.6 393.8h0M450.8 391.9h0M463.6 393.0h0M469.6 387.8h0M467.2 386.8h0M453.4 394.8h0M464.4 390.0h0M446.3 392.2h0M451.3 386.3h0M451.2 391.0h0M458.6 387.7h0M466.3 392.4h0M451.5 387.3h0M463.3 383.9h0M454.0 387.5h0M457.6 390.8h0M457.3 394.5h0M459.1 388.7h0M446.1 392.9h0M461.8 395.8h0M450.3 390.1h0M456.5 389.6h0M457.1 383.1h0M464.4 392.6h0M467.2 399.0h0M454.1 389.9h0M457.1 397.8h0M476.8 388.1h0M455.9 374.4h0M474.0 384.2h0M471.7 382.9h0M469.7 382.0h0M472.1 385.2h0M482.1 391.2h0M473.4 382.4h0M478.3 382.5h0M477.6 376.2h0M480.6 379.4h0M471.3 376.1h0M486.1 383.3h0M486.0 385.4h0M466.1 378.6h0M483.3 380.2h0M470.4 383.1h0M476.8 378.9h0M475.7 381.6h0M459.9 386.5h0M472.3 390.5h0M469.9 376.1h0M486.3 376.1h0M473.5 387.0h0M475.7 375.7h0M479.3 383.0h0M487.0 386.9h0M499.3 375.8h0M477.8 378.7h0M486.1 388.1h0M483.3 380.1h0M472.8 373.9h0M490.0 386.5h0M476.2 388.7h0M483.3 388.9h0M466.6 380.4h0M479.4 385.8h0M484.7 379.0h0M478.9 395.0h0M482.8 388.4h0M477.9 387.8h0M490.6 384.5h0M486.6 379.6h0M482.1 388.5h0M472.7 389.5h0M473.3 380.0h0M478.0 393.7h0M480.2 388.7h0M472.9 384.4h0M469.8 381.1h0M483.8 383.8h0M488.2 383.0h0M476.6 390.4h0M473.5 376.4h0M487.1 386.1h0M462.8 384.2h0M475.2 392.7h0M472.9 381.1h0M471.6 378.7h0M473.1 376.8h0M482.9 375.4h0M481.5 375.6h0M484.4 380.9h0M482.3 387.9h0M485.9 382.4h0M484.6 394.6h0M486.7 387.9h0M478.2 381.1h0M479.5 382.4h0M487.1 381.0h0M487.6 378.9h0M487.7 375.7h0M485.2 387.5h0M487.6 384.2h0M491.8 382.5h0M484.6 368.4h0M491.3 382.8h0M482.5 392.9h0M489.7 385.6h0M481.7 387.5h0M484.1 378.0h0M489.1 372.2h0M487.7 387.8h0M492.2 387.0h0M479.8 380.0h0M486.2 387.1h0M488.9 373.2h0M485.0 390.8h0M490.6 396.2h0M484.8 391.6h0" stroke="#7a98de" stroke-width="0.75" stroke-linecap="round"/>
<path d="M469.2 385.8h0M465.9 388.2h0M484.4 389.3h0M476.6 388.7h0M481.7 388.8h0M485.9 389.0h0M473.4 391.2h0M478.1 393.8h0M478.7 388.6h0M474.6 389.9h0M482.4 391.8h0M477.3 392.7h0M474.8 390.7h0M479.1 394.1h0M477.4 390.3h0M471.7 392.4h0M474.5 391.7h0M466.6 393.1h0M470.0 389.4h0M484.4 388.3h0M477.5 391.1h0M472.0 393.7h0M487.0 387.1h0M469.3 392.6h0M470.2 390.2h0M478.8 392.4h0M476.7 391.2h0M473.3 393.6h0M475.0 391.7h0M474.9 391.2h0M477.0 390.7h0M471.9 392.6h0M486.5 391.5h0M482.4 392.7h0M483.6 391.6h0M479.3 392.7h0M478.4 389.1h0M478.1 387.2h0M478.0 391.8h0M485.4 391.3h0M483.6 391.0h0M471.9 388.2h0M472.2 388.3h0M481.8 390.6h0M481.4 391.1h0M484.3 393.1h0M474.1 390.5h0M474.8 387.8h0M482.1 393.4h0M478.0 390.0h0M484.5 386.3h0M479.1 391.3h0M474.6 393.8h0M483.8 390.5h0M477.5 390.2h0M474.9 388.4h0M486.3 393.1h0M482.8 388.8h0M490.5 395.0h0M479.1 389.2h0M472.8 391.8h0M472.5 390.9h0M484.5 388.0h0M490.0 394.1h0M470.6 388.2h0M476.3 388.9h0M476.4 385.8h0M476.6 394.6h0M471.3 390.5h0M469.1 392.3h0M476.6 394.9h0M479.2 390.3h0M481.3 390.0h0M470.0 391.6h0M477.0 391.3h0M480.3 390.0h0M480.5 394.5h0M471.4 394.5h0M476.5 389.5h0M492.6 391.3h0M486.2 392.6h0M467.9 391.2h0M474.8 388.3h0M467.4 391.2h0M481.5 391.8h0M476.2 389.4h0M472.1 389.9h0M471.8 390.6h0M477.9 389.2h0M476.6 389.5h0M478.0 392.0h0M479.1 391.9h0M468.1 390.2h0M479.7 392.3h0M468.4 391.3h0M485.2 390.6h0M477.4 391.9h0M479.5 392.3h0M478.4 391.3h0M473.3 390.7h0M485.5 390.6h0M477.0 390.0h0M482.7 389.3h0M483.5 389.1h0M471.7 391.4h0M478.8 391.6h0M484.4 390.2h0M480.7 389.2h0M485.6 392.3h0M481.2 391.4h0M473.3 390.3h0M481.0 391.0h0M478.7 388.3h0M479.1 389.6h0M471.5 390.7h0M466.9 392.4h0M483.1 390.9h0M472.0 389.1h0M477.1 386.2h0M479.1 392.3h0M476.1 390.0h0M479.1 391.7h0M484.6 391.0h0M473.9 390.1h0M479.1 394.1h0M476.1 388.9h0M472.8 386.8h0M480.0 388.3h0M470.6 387.0h0M471.3 392.1h0M470.1 387.5h0M479.1 390.3h0M480.6 392.5h0M477.9 388.4h0M477.3 392.0h0M474.5 388.1h0M484.6 390.2h0M475.5 391.0h0M484.2 391.5h0M476.0 392.4h0M490.9 393.8h0M482.0 388.8h0M500.5 388.6h0M475.8 389.6h0M487.8 391.8h0M469.4 391.5h0M481.3 390.4h0M470.7 389.5h0M475.4 391.0h0M474.9 392.5h0M472.3 387.5h0M473.6 393.7h0M474.6 395.7h0M480.9 388.7h0M473.0 391.5h0M470.9 395.7h0M472.1 392.4h0M486.8 390.8h0M472.0 390.5h0M480.2 392.8h0M478.3 388.2h0M478.3 389.7h0M464.9 389.6h0M469.4 392.2h0M489.7 394.7h0M474.6 390.1h0M482.1 393.1h0M475.5 390.7h0M491.2 390.8h0M475.1 391.2h0M481.5 389.0h0M476.5 388.7h0M476.3 394.8h0M482.5 390.8h0M472.4 390.4h0M484.3 389.9h0M486.7 388.3h0M476.3 394.5h0M466.0 393.4h0M466.9 390.8h0" stroke="#3a5cbc" stroke-width="0.75" stroke-linecap="round"/>
<g filter="url(#fbb)" transform="rotate(-6 457.4 390.4)">
<ellipse cx="457.4" cy="390.4" rx="10.35" ry="4.6" fill="#6d8ddb"/>
<ellipse cx="457.4" cy="390.4" rx="8.55" ry="3.8" fill="#3a5ec4"/>
<ellipse cx="457.4" cy="390.4" rx="6.66" ry="2.96" fill="#2f84d6"/>
<ellipse cx="457.4" cy="390.4" rx="5.04" ry="2.24" fill="#2cbdc4"/>
<ellipse cx="457.4" cy="390.4" rx="3.69" ry="1.64" fill="#5cc24a"/>
<ellipse cx="457.4" cy="390.4" rx="2.52" ry="1.12" fill="#e8d41e"/>
<ellipse cx="457.4" cy="390.4" rx="1.35" ry="0.6" fill="#e8281c"/>
</g>
<line x1="467.5" y1="344.3" x2="467.5" y2="402.4" stroke="#8a8a8a" stroke-width="0.9"/>
<line x1="444.5" y1="382.5" x2="503.5" y2="382.5" stroke="#8a8a8a" stroke-width="0.9"/>
<text x="446" y="347.5" font-size="2.3" fill="#444" text-anchor="start">Q1</text>
<text x="446" y="351.5" font-size="2.3" fill="#444" text-anchor="start">0.98%</text>
<text x="502" y="347.5" font-size="2.3" fill="#444" text-anchor="end">Q2</text>
<text x="502" y="351.5" font-size="2.3" fill="#444" text-anchor="end">0.83%</text>
<text x="446" y="397.2" font-size="2.3" fill="#444" text-anchor="start">Q4</text>
<text x="446" y="401.2" font-size="2.3" fill="#444" text-anchor="start">92.4%</text>
<text x="502" y="397.2" font-size="2.3" fill="#444" text-anchor="end">Q3</text>
<text x="502" y="401.2" font-size="2.3" fill="#444" text-anchor="end">5.8%</text>
</g>
<g>
<text x="514.3" y="402.3" font-size="2.4" fill="#444" text-anchor="end">10<tspan dy="-1" font-size="1.7">0</tspan></text>
<line x1="514.5" y1="401.5" x2="515.1" y2="401.5" stroke="#777" stroke-width="0.4"/>
<text x="516.6" y="406.8" font-size="2.4" fill="#444" text-anchor="middle">10<tspan dy="-1" font-size="1.7">0</tspan></text>
<line x1="516.6" y1="403" x2="516.6" y2="403.6" stroke="#777" stroke-width="0.4"/>
<text x="514.3" y="391.5" font-size="2.4" fill="#444" text-anchor="end">10<tspan dy="-1" font-size="1.7">1</tspan></text>
<line x1="514.5" y1="390.7" x2="515.1" y2="390.7" stroke="#777" stroke-width="0.4"/>
<text x="527.6" y="406.8" font-size="2.4" fill="#444" text-anchor="middle">10<tspan dy="-1" font-size="1.7">1</tspan></text>
<line x1="527.6" y1="403" x2="527.6" y2="403.6" stroke="#777" stroke-width="0.4"/>
<text x="514.3" y="380.7" font-size="2.4" fill="#444" text-anchor="end">10<tspan dy="-1" font-size="1.7">2</tspan></text>
<line x1="514.5" y1="379.9" x2="515.1" y2="379.9" stroke="#777" stroke-width="0.4"/>
<text x="538.6" y="406.8" font-size="2.4" fill="#444" text-anchor="middle">10<tspan dy="-1" font-size="1.7">2</tspan></text>
<line x1="538.6" y1="403" x2="538.6" y2="403.6" stroke="#777" stroke-width="0.4"/>
<text x="514.3" y="369.9" font-size="2.4" fill="#444" text-anchor="end">10<tspan dy="-1" font-size="1.7">3</tspan></text>
<line x1="514.5" y1="369.1" x2="515.1" y2="369.1" stroke="#777" stroke-width="0.4"/>
<text x="549.6" y="406.8" font-size="2.4" fill="#444" text-anchor="middle">10<tspan dy="-1" font-size="1.7">3</tspan></text>
<line x1="549.6" y1="403" x2="549.6" y2="403.6" stroke="#777" stroke-width="0.4"/>
<text x="514.3" y="359.1" font-size="2.4" fill="#444" text-anchor="end">10<tspan dy="-1" font-size="1.7">4</tspan></text>
<line x1="514.5" y1="358.3" x2="515.1" y2="358.3" stroke="#777" stroke-width="0.4"/>
<text x="560.6" y="406.8" font-size="2.4" fill="#444" text-anchor="middle">10<tspan dy="-1" font-size="1.7">4</tspan></text>
<line x1="560.6" y1="403" x2="560.6" y2="403.6" stroke="#777" stroke-width="0.4"/>
<text x="514.3" y="348.3" font-size="2.4" fill="#444" text-anchor="end">10<tspan dy="-1" font-size="1.7">5</tspan></text>
<line x1="514.5" y1="347.5" x2="515.1" y2="347.5" stroke="#777" stroke-width="0.4"/>
<text x="571.6" y="406.8" font-size="2.4" fill="#444" text-anchor="middle">10<tspan dy="-1" font-size="1.7">5</tspan></text>
<line x1="571.6" y1="403" x2="571.6" y2="403.6" stroke="#777" stroke-width="0.4"/>
<rect x="515.5" y="344.5" width="59" height="59" fill="#fff" stroke="#666" stroke-width="0.9"/>
<path d="M545.0 394.2h0M538.5 397.3h0M526.3 382.6h0M524.0 394.0h0M541.5 392.8h0M522.1 400.4h0M520.2 389.1h0M528.4 393.5h0M541.8 383.0h0M530.4 393.9h0M523.7 391.5h0M534.5 384.0h0M522.5 391.7h0M531.2 393.3h0M550.7 397.4h0M536.6 387.7h0M540.4 387.3h0M545.6 399.1h0M517.0 384.9h0M531.5 389.6h0M522.9 384.6h0M538.8 388.8h0M520.8 390.3h0M540.8 402.1h0M533.5 390.1h0M526.6 388.9h0M537.3 399.5h0M542.9 390.5h0M540.1 396.6h0M536.6 377.3h0M532.5 390.3h0M543.6 390.3h0M536.6 393.6h0M543.1 396.6h0M541.2 401.0h0M540.7 396.7h0M530.9 392.6h0M550.3 392.2h0M537.1 391.5h0M530.7 374.0h0M546.7 384.9h0M526.3 400.1h0M528.5 380.9h0M537.9 387.4h0M532.2 389.4h0M523.0 397.1h0M527.5 389.9h0M517.9 385.2h0M529.6 396.9h0M535.0 395.5h0M538.8 383.7h0M544.6 390.1h0M538.5 390.9h0M535.1 395.9h0M534.4 398.6h0M534.7 392.5h0M522.4 389.7h0M545.6 380.7h0M527.5 389.8h0M542.3 399.4h0M533.5 392.5h0M531.7 389.1h0M529.1 389.2h0M531.8 392.5h0M527.9 395.8h0M532.7 395.2h0M522.1 387.8h0M533.7 393.7h0M531.6 401.2h0M531.3 400.6h0M544.2 396.2h0M536.6 395.3h0M531.8 385.2h0M528.8 388.2h0M529.7 387.6h0M524.4 392.8h0M544.4 386.7h0M518.3 388.5h0M523.1 385.9h0M522.6 391.1h0M523.5 383.5h0M531.6 391.2h0M545.9 399.8h0M527.6 379.6h0M537.6 389.3h0M543.9 391.2h0M531.8 384.8h0M532.6 398.9h0M526.5 393.2h0M528.3 397.4h0M532.5 395.3h0M535.5 386.7h0M523.8 399.9h0M530.2 385.8h0M527.8 402.0h0M533.7 398.7h0M533.7 400.0h0M530.5 391.7h0M534.3 388.0h0M522.2 387.0h0M538.2 389.4h0M535.4 396.2h0M544.3 384.2h0M528.7 391.7h0M536.4 387.5h0M533.3 387.4h0M540.0 399.6h0M526.9 395.6h0M524.8 394.5h0M521.6 393.6h0M542.4 397.6h0M518.3 392.9h0M530.2 400.7h0M536.4 400.9h0M528.8 385.2h0M530.9 393.9h0M531.8 393.6h0M544.8 384.8h0M537.5 399.8h0M530.6 393.1h0M530.8 390.1h0M547.5 383.5h0M528.5 389.0h0M533.3 390.3h0M538.2 395.3h0M547.6 397.4h0M525.9 382.5h0M529.9 388.4h0M531.1 400.1h0M535.9 383.9h0M526.8 401.7h0M523.5 396.5h0M539.9 384.8h0M522.7 394.0h0M535.4 398.2h0M537.6 386.0h0M547.6 393.2h0M534.2 393.3h0M521.0 387.1h0M539.6 396.2h0M529.0 392.7h0M528.8 388.7h0M529.6 385.4h0M527.3 391.3h0M533.1 391.1h0M531.6 394.6h0M534.0 392.5h0M529.9 391.7h0M539.4 396.2h0M530.7 388.3h0M527.4 385.6h0M546.0 387.0h0M540.5 391.7h0M538.3 388.5h0M531.3 398.2h0M545.7 393.4h0M542.4 396.4h0M540.9 394.3h0M530.7 397.4h0M531.6 394.9h0M528.8 388.0h0M532.1 397.1h0M524.4 400.5h0M533.9 395.0h0M528.0 398.8h0M532.2 394.8h0M539.9 388.0h0M528.5 393.5h0M526.9 383.6h0M532.4 400.4h0M538.6 395.1h0M529.6 402.4h0M526.0 387.1h0M523.6 394.9h0M526.9 392.5h0M539.9 382.6h0M526.9 396.0h0M534.5 391.5h0M533.5 388.4h0M535.7 397.2h0M528.0 388.3h0M523.5 391.2h0M542.2 388.2h0M531.6 400.4h0M526.6 390.2h0M532.8 391.2h0M549.2 391.0h0M544.7 395.5h0M520.3 394.9h0M532.6 400.7h0M547.1 393.9h0M532.5 395.7h0M524.2 394.6h0M537.6 393.0h0M525.6 397.1h0M531.7 388.9h0M536.3 386.9h0M540.7 391.7h0M525.9 393.8h0M549.0 398.7h0M521.7 386.5h0M538.2 397.7h0M531.6 396.7h0M524.1 397.2h0M521.1 394.5h0M543.7 391.4h0M539.0 377.9h0M540.3 391.0h0M539.5 384.1h0M547.7 393.3h0M546.6 384.3h0M526.3 400.2h0M537.1 386.3h0M527.9 387.5h0M541.6 388.5h0M533.4 398.3h0M526.4 389.0h0M527.7 399.4h0M529.1 398.3h0M539.1 394.6h0M539.9 396.5h0M529.3 397.2h0M556.8 395.4h0M533.3 392.8h0M531.1 391.1h0M517.1 386.2h0M541.5 394.4h0M536.0 388.2h0M534.9 393.5h0M528.5 382.4h0M526.4 394.5h0M539.0 391.5h0M537.5 381.6h0M519.6 395.1h0M532.7 383.6h0M539.4 384.4h0M538.0 387.8h0M519.4 402.2h0M526.6 394.1h0M535.6 386.8h0M524.0 395.8h0M546.1 398.0h0M531.1 390.8h0M538.5 394.8h0M520.0 396.6h0M549.7 371.0h0M545.5 380.3h0M551.9 382.6h0M552.1 375.6h0M546.6 378.7h0M532.6 374.5h0M549.1 380.6h0M540.8 376.7h0M549.5 375.1h0M549.4 371.9h0M539.7 382.4h0M534.0 377.8h0M546.1 380.0h0M549.3 373.1h0M541.8 370.1h0M537.2 373.8h0M542.5 379.6h0M544.4 373.2h0M553.3 382.5h0M545.0 378.4h0M541.6 374.9h0M545.1 378.9h0M534.1 375.2h0M543.8 373.5h0M542.1 376.5h0M540.2 381.8h0M547.7 371.8h0M538.5 373.7h0M552.1 383.9h0M543.9 382.1h0M549.3 381.2h0M543.4 379.5h0M552.3 386.1h0M549.0 375.2h0M538.9 375.7h0M560.7 376.7h0M545.7 374.5h0M544.2 375.7h0M542.2 378.3h0M546.9 378.2h0M554.9 375.5h0M548.2 375.1h0M542.2 377.6h0M539.1 376.2h0M549.2 380.6h0M549.5 378.0h0M539.2 375.5h0M548.4 380.6h0M554.4 371.9h0M542.5 369.6h0M560.7 398.5h0M540.5 394.0h0M550.0 391.5h0M554.0 394.9h0M548.9 400.3h0M541.6 394.2h0M549.2 397.1h0M542.2 392.5h0M547.3 393.7h0M558.0 397.9h0M544.5 394.1h0M541.3 395.8h0M554.7 397.0h0M549.5 397.8h0M544.5 393.3h0M548.8 389.8h0M547.1 396.3h0M547.1 398.0h0M559.7 397.5h0M559.0 390.2h0M534.2 393.0h0M557.0 397.6h0M548.0 395.3h0M539.6 398.4h0M550.5 397.8h0M558.2 398.6h0M542.9 398.1h0M536.0 401.3h0M548.3 395.6h0M555.3 390.8h0M539.4 397.3h0M562.1 390.4h0M549.3 390.2h0M565.8 396.2h0M543.9 397.0h0M557.5 395.6h0M551.6 397.4h0M548.7 397.7h0M560.9 397.9h0M551.0 393.6h0M542.2 390.5h0M557.6 396.0h0M544.3 394.9h0M541.3 396.1h0M557.3 398.2h0M547.0 392.6h0M547.8 396.6h0M551.1 397.2h0M542.7 394.6h0M546.6 398.2h0M534.8 392.9h0M550.5 394.8h0M548.1 394.5h0M558.1 395.2h0M557.7 399.5h0M546.1 397.7h0M549.4 395.0h0M548.9 394.9h0M548.5 399.2h0M548.9 396.4h0M541.7 392.9h0M565.8 401.4h0M541.4 394.3h0M541.7 393.9h0M552.3 394.6h0M539.3 396.4h0M546.8 393.6h0M552.6 394.3h0M554.7 393.3h0M562.0 397.8h0M549.7 400.6h0M555.7 395.3h0M545.9 399.6h0M546.0 398.1h0M552.6 397.5h0M556.5 395.3h0M557.5 397.2h0M551.9 399.6h0M553.7 401.6h0M550.9 397.0h0M555.3 395.3h0M554.3 400.6h0M540.2 396.5h0M548.3 396.3h0M540.1 398.9h0M555.9 394.3h0M541.1 395.0h0M547.4 399.0h0M545.4 397.4h0M553.9 399.0h0M563.1 396.6h0M541.6 396.9h0M554.1 397.5h0M551.0 393.4h0M543.7 394.3h0M553.6 396.0h0M548.3 399.3h0M547.3 401.0h0M560.9 396.9h0M547.2 397.4h0M549.8 401.0h0M562.9 394.2h0M547.2 399.3h0M552.0 391.2h0M543.8 401.1h0M553.8 396.9h0M551.9 395.5h0M545.3 394.5h0M550.1 389.1h0M540.5 398.7h0M550.8 394.5h0M554.5 400.4h0M553.0 392.6h0M548.2 394.0h0M559.9 399.2h0M556.1 398.1h0M556.9 399.2h0" stroke="#7a98de" stroke-width="0.75" stroke-linecap="round"/>
<path d="M550.1 378.6h0M546.1 380.9h0M551.8 390.9h0M547.0 386.6h0M547.1 389.1h0M544.5 392.7h0M543.3 388.5h0M544.1 387.1h0M549.8 377.0h0M536.3 394.5h0M543.1 381.4h0M542.8 383.1h0M555.3 397.8h0M548.8 400.1h0M541.4 393.1h0M542.8 384.2h0M558.6 387.4h0M542.9 391.6h0M557.8 378.7h0M545.0 390.5h0M540.5 386.5h0M539.4 390.9h0M554.7 388.7h0M543.8 381.1h0M554.8 388.1h0M554.9 383.5h0M541.2 387.4h0M548.4 394.5h0M550.3 387.1h0M541.7 383.0h0M550.8 390.4h0M546.9 390.6h0M556.4 394.2h0M543.7 396.3h0M539.8 388.5h0M545.5 388.4h0M549.8 389.4h0M550.6 379.4h0M555.9 385.8h0M548.2 395.8h0M544.5 383.8h0M537.9 393.6h0M547.4 389.4h0M551.3 384.6h0M534.4 378.0h0M548.6 392.4h0M544.5 392.2h0M545.7 388.0h0M554.4 368.0h0M548.4 393.9h0M540.4 394.6h0M536.7 394.1h0M551.4 386.5h0M553.1 393.5h0M552.7 390.4h0M550.8 398.6h0M537.6 394.4h0M538.7 382.6h0M541.7 378.9h0M546.0 377.2h0M544.1 390.4h0M548.2 399.0h0M554.6 394.8h0M548.0 388.3h0M546.0 378.4h0M548.3 382.4h0M543.1 379.0h0M547.4 391.0h0M551.8 389.9h0M547.7 383.8h0M551.4 380.5h0M551.6 386.6h0M557.2 386.2h0M551.6 389.4h0M551.0 391.6h0M533.3 380.0h0M550.3 383.9h0M540.9 384.5h0M551.8 388.6h0M539.9 387.9h0M546.0 383.0h0M560.3 386.5h0M546.1 391.1h0M547.9 393.5h0M540.6 388.8h0M539.5 382.1h0M550.2 388.2h0M540.5 390.7h0M546.7 378.0h0M540.6 393.7h0M545.0 394.9h0M552.2 379.7h0M556.6 389.2h0M535.8 382.2h0M547.2 388.1h0M542.7 394.3h0M548.6 395.0h0M547.4 382.8h0M554.0 391.9h0M548.4 388.7h0M550.1 392.6h0M554.9 401.2h0M543.0 378.7h0M544.8 383.2h0M548.0 388.1h0M550.6 392.5h0M537.1 386.4h0M557.4 383.1h0M539.4 382.3h0M560.8 384.3h0M540.5 381.4h0M553.3 377.7h0M539.4 386.3h0M551.9 386.9h0M538.9 387.3h0M546.5 388.5h0M537.5 383.0h0M544.1 389.1h0M548.7 389.0h0M552.4 381.6h0M550.4 377.3h0M554.4 389.3h0M549.6 392.2h0M550.0 394.6h0M545.8 390.3h0M550.9 377.1h0M535.0 384.4h0M543.5 387.2h0M549.7 381.0h0M545.0 389.8h0M549.5 383.9h0M551.3 387.3h0M545.6 396.4h0M542.7 374.8h0M546.1 390.7h0M549.4 382.9h0M550.9 391.2h0M546.1 389.3h0M558.5 387.2h0M540.9 385.5h0M554.4 389.6h0M541.1 397.2h0M549.7 392.1h0M547.7 369.8h0M541.8 386.8h0M540.9 373.4h0M550.9 388.7h0M552.4 393.7h0M549.9 383.4h0M547.5 387.0h0M550.5 390.2h0M551.3 381.0h0M555.6 391.5h0M551.6 383.4h0M534.6 389.2h0M548.7 392.5h0M549.3 384.0h0M547.2 385.6h0M548.8 394.2h0M542.1 387.4h0M549.2 389.2h0M549.7 383.7h0M541.2 396.4h0M544.5 382.0h0M547.0 394.6h0M551.6 381.2h0M546.4 393.4h0M545.3 375.2h0M544.7 393.9h0M547.7 395.7h0M537.1 385.6h0M555.6 380.4h0M553.4 384.8h0M555.7 394.2h0M549.7 388.9h0M542.2 380.0h0M548.5 383.6h0M546.5 381.5h0M556.7 389.1h0M543.9 383.1h0M544.2 389.6h0M548.6 383.8h0M549.3 398.3h0M540.9 393.7h0M540.1 387.1h0M541.8 383.5h0M553.3 391.3h0M545.9 387.8h0M563.4 388.3h0M545.6 390.6h0M552.3 391.7h0M555.1 380.2h0M537.1 388.3h0M542.8 379.1h0M551.4 384.4h0M537.2 388.3h0M546.8 376.8h0M554.9 392.4h0M548.1 379.7h0M542.8 385.1h0M544.3 391.4h0M549.2 388.1h0M565.6 396.9h0M533.5 385.2h0M538.3 390.0h0M546.8 386.1h0M544.9 386.4h0M551.1 390.3h0M554.6 381.2h0M550.1 391.8h0M544.2 391.3h0M544.1 393.2h0M549.8 373.2h0M549.8 396.6h0M552.1 380.7h0M546.8 382.6h0M555.3 390.7h0M560.0 389.7h0M557.7 386.7h0M547.8 390.5h0M544.0 375.3h0M544.9 381.5h0M544.0 395.7h0M544.9 390.8h0M539.5 389.4h0M543.1 379.6h0M544.1 394.2h0M546.9 374.4h0M545.7 381.0h0M553.6 388.8h0M539.4 388.3h0M540.6 386.2h0M540.5 391.5h0M542.6 397.7h0M539.8 398.3h0M556.1 384.9h0M555.8 394.7h0M548.1 386.6h0M546.1 377.9h0M544.0 391.8h0M560.1 388.9h0M540.4 395.8h0M551.3 397.3h0M545.4 395.6h0M546.8 393.9h0M544.6 385.3h0M544.9 393.6h0M542.4 391.8h0M547.1 391.1h0M546.8 381.0h0M548.5 384.2h0M549.5 387.9h0M562.5 390.3h0M543.3 394.1h0M543.6 390.5h0M560.0 382.5h0M539.3 388.2h0" stroke="#5577cc" stroke-width="0.75" stroke-linecap="round"/>
<path d="M554.7 393.3h0M555.4 384.5h0M560.1 393.1h0M556.2 384.3h0M556.8 381.4h0M557.9 389.4h0M559.5 390.9h0M556.8 397.0h0M559.0 385.7h0M556.0 391.0h0M555.3 392.6h0M556.4 391.0h0M555.9 389.3h0M555.5 383.0h0M559.4 391.4h0M556.8 384.8h0M555.1 382.7h0M556.3 396.2h0M558.2 389.0h0M556.4 391.8h0M558.1 384.2h0M556.0 386.4h0M557.1 381.6h0M554.6 387.9h0M554.8 389.7h0M558.8 393.9h0M558.3 389.4h0M556.3 389.1h0M556.7 393.0h0M556.3 383.5h0M557.9 381.8h0M557.0 382.0h0M555.1 395.0h0M557.9 386.0h0M561.0 391.4h0M554.6 388.2h0M555.2 389.5h0M554.4 386.9h0M555.5 381.9h0M558.7 384.1h0M557.7 386.1h0M557.5 389.0h0M555.4 386.1h0M559.8 401.1h0M556.5 381.0h0M557.2 388.8h0M559.6 393.0h0M557.5 391.3h0M556.8 382.6h0M555.3 394.7h0M554.1 396.7h0M558.8 392.7h0M555.7 390.0h0M558.2 388.3h0M554.4 390.4h0M557.0 393.0h0M555.3 387.2h0M555.8 389.9h0M556.8 388.2h0M556.4 381.5h0M556.1 381.7h0M555.1 378.5h0M555.7 384.2h0M556.4 384.8h0M555.7 380.5h0M554.1 393.2h0M556.2 379.8h0M559.0 386.9h0M558.7 390.1h0M553.7 389.5h0M558.2 390.5h0M555.4 385.3h0M555.1 384.5h0M555.1 386.4h0M557.5 377.8h0M555.5 388.8h0M558.7 386.4h0M554.9 396.8h0M557.5 392.0h0M554.4 382.1h0M558.4 394.0h0M558.1 388.5h0M555.5 385.6h0M557.8 384.0h0M558.2 386.5h0M554.3 392.2h0M558.0 384.8h0M556.4 383.4h0M556.3 394.1h0M557.2 385.4h0M556.7 393.4h0M557.0 390.9h0M556.6 396.8h0M557.6 394.0h0M554.4 385.5h0M559.0 387.6h0M559.6 378.6h0M557.4 385.8h0M555.0 384.8h0M555.8 382.4h0M555.5 391.1h0M557.2 382.0h0M555.0 392.2h0M553.9 385.2h0M558.0 385.1h0M557.7 385.8h0M558.0 391.5h0M553.5 389.8h0M555.9 391.8h0M557.6 383.6h0M558.1 390.7h0M558.3 398.3h0M554.9 385.3h0M557.8 397.8h0M559.4 394.4h0M556.4 397.0h0M555.0 389.0h0M558.9 392.8h0M559.0 386.7h0M554.0 386.4h0M559.3 392.0h0M553.7 395.0h0M556.8 389.8h0M560.0 386.8h0M558.4 385.4h0M560.4 387.7h0M556.9 399.3h0M555.8 389.1h0M558.8 380.7h0M556.4 386.1h0M560.8 386.8h0M561.8 380.1h0M555.5 395.7h0M556.5 396.3h0M555.6 384.4h0M550.6 383.1h0M555.3 384.9h0M558.0 392.8h0M559.2 385.7h0M552.0 385.1h0M556.5 378.8h0M554.4 390.6h0M558.3 377.1h0M556.5 387.7h0M555.8 393.1h0M558.4 389.4h0M556.8 388.6h0M553.9 393.3h0M556.1 373.5h0M556.2 376.4h0M556.4 399.0h0M558.4 386.8h0M555.2 397.0h0M558.4 381.3h0M558.4 384.3h0M558.3 387.4h0M556.8 386.7h0M557.7 388.0h0M553.9 386.0h0M558.5 382.7h0M554.3 396.3h0M553.8 387.7h0M558.3 387.2h0M554.4 395.0h0M553.6 383.1h0M560.3 389.0h0M555.7 381.8h0M558.0 391.5h0M558.6 385.5h0M558.4 385.6h0M555.0 382.9h0M558.5 396.7h0M557.7 390.3h0M557.5 392.7h0M557.0 388.0h0M556.2 380.7h0M556.8 387.1h0M554.1 389.0h0M557.3 391.7h0M557.2 389.4h0" stroke="#3a5cbc" stroke-width="0.75" stroke-linecap="round"/>
<g filter="url(#fbb)" transform="rotate(-38 534 393.4)">
<ellipse cx="534" cy="393.4" rx="11.5" ry="5.17" fill="#6d8ddb"/>
<ellipse cx="534" cy="393.4" rx="9.5" ry="4.27" fill="#3a5ec4"/>
<ellipse cx="534" cy="393.4" rx="7.4" ry="3.33" fill="#2f84d6"/>
<ellipse cx="534" cy="393.4" rx="5.6" ry="2.52" fill="#2cbdc4"/>
<ellipse cx="534" cy="393.4" rx="4.1" ry="1.84" fill="#5cc24a"/>
<ellipse cx="534" cy="393.4" rx="2.8" ry="1.26" fill="#e8d41e"/>
<ellipse cx="534" cy="393.4" rx="1.5" ry="0.67" fill="#e8281c"/>
</g>
<line x1="539.5" y1="344" x2="539.5" y2="403" stroke="#8a8a8a" stroke-width="0.9"/>
<line x1="515.1" y1="383.5" x2="574.1" y2="383.5" stroke="#8a8a8a" stroke-width="0.9"/>
<text x="516.6" y="347.2" font-size="2.3" fill="#444" text-anchor="start">Q1</text>
<text x="516.6" y="351.2" font-size="2.3" fill="#444" text-anchor="start">1.04%</text>
<text x="572.6" y="347.2" font-size="2.3" fill="#444" text-anchor="end">Q2</text>
<text x="572.6" y="351.2" font-size="2.3" fill="#444" text-anchor="end">3.22%</text>
<text x="516.6" y="397.8" font-size="2.3" fill="#444" text-anchor="start">Q4</text>
<text x="516.6" y="401.8" font-size="2.3" fill="#444" text-anchor="start">73.0%</text>
<text x="572.6" y="397.8" font-size="2.3" fill="#444" text-anchor="end">Q3</text>
<text x="572.6" y="401.8" font-size="2.3" fill="#444" text-anchor="end">22.7%</text>
</g>
<rect x="595.2" y="336.2" width="5.6" height="3.2" fill="#fff" stroke="#231f20" stroke-width="0.9"/>
<rect x="595.2" y="342.3" width="5.6" height="3.2" fill="#1e9be0" stroke="#231f20" stroke-width="0.9"/>
<rect x="595.2" y="348.3" width="5.6" height="3.2" fill="#1e2288" stroke="#231f20" stroke-width="0.9"/>
<text transform="translate(603.5,339.8) scale(1,0.98)" font-size="7.3" font-weight="bold" fill="#231f20">Q2 Late apoptotic cells</text>
<text transform="translate(603.5,346.2) scale(1,0.98)" font-size="7.3" font-weight="bold" fill="#231f20">Q3 Early apoptotic cells</text>
<text transform="translate(603.5,352.5) scale(1,0.98)" font-size="7.3" font-weight="bold" fill="#231f20">Q4 Viable cells</text>
<text transform="translate(584.88,386.2) rotate(-90)" font-size="8.4" text-anchor="middle" font-weight="bold" fill="#231f20" >% of cells</text>
<line x1="601.5" y1="359.8" x2="601.5" y2="414.1" stroke="#111" stroke-width="1.1"/>
<line x1="598.2" y1="413.5" x2="601" y2="413.5" stroke="#111" stroke-width="1.1"/>
<text x="599.2" y="416.54" font-size="8.4" text-anchor="end" font-weight="bold" fill="#231f20" >0</text>
<line x1="598.2" y1="402.5" x2="601" y2="402.5" stroke="#111" stroke-width="1.1"/>
<text x="599.2" y="405.88" font-size="8.4" text-anchor="end" font-weight="bold" fill="#231f20" >20</text>
<line x1="598.2" y1="392.5" x2="601" y2="392.5" stroke="#111" stroke-width="1.1"/>
<text x="599.2" y="395.22" font-size="8.4" text-anchor="end" font-weight="bold" fill="#231f20" >40</text>
<line x1="598.2" y1="381.5" x2="601" y2="381.5" stroke="#111" stroke-width="1.1"/>
<text x="599.2" y="384.56" font-size="8.4" text-anchor="end" font-weight="bold" fill="#231f20" >60</text>
<line x1="598.2" y1="370.5" x2="601" y2="370.5" stroke="#111" stroke-width="1.1"/>
<text x="599.2" y="373.9" font-size="8.4" text-anchor="end" font-weight="bold" fill="#231f20" >80</text>
<line x1="598.2" y1="360.5" x2="601" y2="360.5" stroke="#111" stroke-width="1.1"/>
<text x="599.2" y="363.24" font-size="8.4" text-anchor="end" font-weight="bold" fill="#231f20" >100</text>
<line x1="600.5" y1="413.5" x2="677.8" y2="413.5" stroke="#111" stroke-width="1.1"/>
<line x1="607.5" y1="413.6" x2="607.5" y2="415.2" stroke="#111" stroke-width="1.1"/>
<line x1="614.5" y1="413.6" x2="614.5" y2="415.2" stroke="#111" stroke-width="1.1"/>
<line x1="621.5" y1="413.6" x2="621.5" y2="415.2" stroke="#111" stroke-width="1.1"/>
<line x1="633.5" y1="413.6" x2="633.5" y2="415.2" stroke="#111" stroke-width="1.1"/>
<line x1="640.5" y1="413.6" x2="640.5" y2="415.2" stroke="#111" stroke-width="1.1"/>
<line x1="648.5" y1="413.6" x2="648.5" y2="415.2" stroke="#111" stroke-width="1.1"/>
<line x1="659.5" y1="413.6" x2="659.5" y2="415.2" stroke="#111" stroke-width="1.1"/>
<line x1="666.5" y1="413.6" x2="666.5" y2="415.2" stroke="#111" stroke-width="1.1"/>
<line x1="673.5" y1="413.6" x2="673.5" y2="415.2" stroke="#111" stroke-width="1.1"/>
<rect x="605.5" y="412.5" width="3" height="1.1" fill="#fff" stroke="#231f20" stroke-width="0.9"/>
<rect x="612.5" y="412.5" width="3" height="1.1" fill="#fff" stroke="#231f20" stroke-width="0.9"/>
<rect x="619.5" y="412.5" width="3" height="1.1" fill="#fff" stroke="#231f20" stroke-width="0.9"/>
<line x1="621.5" y1="412.11" x2="621.5" y2="412.5" stroke="#111" stroke-width="0.9"/>
<line x1="620.46" y1="412.5" x2="622.54" y2="412.5" stroke="#111" stroke-width="0.9"/>
<rect x="631.5" y="412.5" width="3" height="1.1" fill="#8488c4" stroke="#231f20" stroke-width="0.9"/>
<rect x="638.5" y="410.5" width="3" height="3.1" fill="#8488c4" stroke="#231f20" stroke-width="0.9"/>
<line x1="640.5" y1="409.07" x2="640.5" y2="410.5" stroke="#111" stroke-width="0.9"/>
<line x1="639.43" y1="409.5" x2="641.57" y2="409.5" stroke="#111" stroke-width="0.9"/>
<rect x="645.5" y="404.5" width="4" height="9.1" fill="#8488c4" stroke="#231f20" stroke-width="0.9"/>
<line x1="647.5" y1="402.14" x2="647.5" y2="404.5" stroke="#111" stroke-width="0.9"/>
<line x1="646.26" y1="402.5" x2="648.74" y2="402.5" stroke="#111" stroke-width="0.9"/>
<rect x="657.5" y="361.5" width="3" height="52.1" fill="#1e2288" stroke="#231f20" stroke-width="0.9"/>
<line x1="659.5" y1="361.37" x2="659.5" y2="361.5" stroke="#111" stroke-width="0.9"/>
<line x1="658.26" y1="361.5" x2="660.74" y2="361.5" stroke="#111" stroke-width="0.9"/>
<rect x="664.5" y="363.5" width="4" height="50.1" fill="#1e2288" stroke="#231f20" stroke-width="0.9"/>
<line x1="666.5" y1="362.97" x2="666.5" y2="363.5" stroke="#111" stroke-width="0.9"/>
<line x1="665.29" y1="362.5" x2="667.71" y2="362.5" stroke="#111" stroke-width="0.9"/>
<rect x="671.5" y="371.5" width="3" height="42.1" fill="#1e2288" stroke="#231f20" stroke-width="0.9"/>
<line x1="673.5" y1="371.23" x2="673.5" y2="371.5" stroke="#111" stroke-width="0.9"/>
<line x1="672.26" y1="371.5" x2="674.74" y2="371.5" stroke="#111" stroke-width="0.9"/>
<text x="607.1" y="424.5" font-size="8.4" text-anchor="middle" font-weight="bold" fill="#231f20" >a</text>
<text x="616.4" y="424.5" font-size="8.4" text-anchor="middle" font-weight="bold" fill="#231f20" >b</text>
<text x="623.5" y="424.5" font-size="8.4" text-anchor="middle" font-weight="bold" fill="#231f20" >c</text>
<text x="633.6" y="424.5" font-size="8.4" text-anchor="middle" font-weight="bold" fill="#231f20" >a</text>
<text x="641.2" y="424.5" font-size="8.4" text-anchor="middle" font-weight="bold" fill="#231f20" >b</text>
<text x="648.6" y="424.5" font-size="8.4" text-anchor="middle" font-weight="bold" fill="#231f20" >c</text>
<text x="660.9" y="424.5" font-size="8.4" text-anchor="middle" font-weight="bold" fill="#231f20" >a</text>
<text x="667.3" y="424.5" font-size="8.4" text-anchor="middle" font-weight="bold" fill="#231f20" >b</text>
<text x="674.2" y="424.5" font-size="8.4" text-anchor="middle" font-weight="bold" fill="#231f20" >c</text>
<line x1="630.4" y1="390.5" x2="653.4" y2="390.5" stroke="#111" stroke-width="1.1"/>
<text x="643.7" y="389.9" font-size="7.5" text-anchor="middle" font-weight="bold" fill="#231f20" >***</text>
<line x1="638.4" y1="399.5" x2="655" y2="399.5" stroke="#111" stroke-width="1.1"/>
<text x="648.9" y="398.5" font-size="7.5" text-anchor="middle" font-weight="bold" fill="#231f20" >***</text>
<text x="0.8" y="424.2" font-size="8.4" text-anchor="start" font-weight="bold" fill="#231f20" >G</text>
<line x1="20.5" y1="429.5" x2="342.6" y2="429.5" stroke="#111" stroke-width="1.2"/>
<line x1="349" y1="429.5" x2="679.7" y2="429.5" stroke="#111" stroke-width="1.2"/>
<text x="188.5" y="425.7" font-size="8.4" text-anchor="middle" font-weight="bold" fill="#231f20" >HepG2</text>
<text x="505.2" y="424.2" font-size="8.4" text-anchor="middle" font-weight="bold" fill="#231f20" >L02</text>
<text x="24.5" y="443.6" font-size="8.4" text-anchor="start" font-weight="bold" fill="#231f20" >Blank control</text>
<text x="92" y="444.4" font-size="8.4" text-anchor="start" font-weight="bold" fill="#231f20" >Negative control</text>
<text transform="translate(169.5,443.61) scale(1,0.85)" font-size="8.2" text-anchor="start" font-weight="bold" fill="#231f20" >siRNA-STAT4</text>
<text transform="translate(6.18,462.6) rotate(-90)" font-size="8.4" text-anchor="middle" font-weight="bold" fill="#231f20" >Number</text>
<g>
<line x1="13.4" y1="449.5" x2="13.4" y2="504.7" stroke="#777" stroke-width="0.6" stroke-dasharray="0.9,0.7"/>
<line x1="13.4" y1="504.7" x2="64" y2="504.7" stroke="#777" stroke-width="0.6" stroke-dasharray="0.9,0.7"/>
<line x1="12.2" y1="504.7" x2="13.4" y2="504.7" stroke="#777" stroke-width="0.5"/>
<text x="11.8" y="505.3" font-size="1.8" fill="#888" text-anchor="end">0</text>
<line x1="12.2" y1="496.12" x2="13.4" y2="496.12" stroke="#777" stroke-width="0.5"/>
<text x="11.8" y="496.72" font-size="1.8" fill="#888" text-anchor="end">40</text>
<line x1="12.2" y1="487.54" x2="13.4" y2="487.54" stroke="#777" stroke-width="0.5"/>
<text x="11.8" y="488.14" font-size="1.8" fill="#888" text-anchor="end">80</text>
<line x1="12.2" y1="478.96" x2="13.4" y2="478.96" stroke="#777" stroke-width="0.5"/>
<text x="11.8" y="479.56" font-size="1.8" fill="#888" text-anchor="end">120</text>
<line x1="12.2" y1="470.38" x2="13.4" y2="470.38" stroke="#777" stroke-width="0.5"/>
<text x="11.8" y="470.98" font-size="1.8" fill="#888" text-anchor="end">160</text>
<line x1="12.2" y1="461.8" x2="13.4" y2="461.8" stroke="#777" stroke-width="0.5"/>
<text x="11.8" y="462.4" font-size="1.8" fill="#888" text-anchor="end">200</text>
<line x1="12.2" y1="453.22" x2="13.4" y2="453.22" stroke="#777" stroke-width="0.5"/>
<text x="11.8" y="453.82" font-size="1.8" fill="#888" text-anchor="end">240</text>
<line x1="13.4" y1="504.7" x2="13.4" y2="505.9" stroke="#777" stroke-width="0.5"/>
<line x1="24.5" y1="504.7" x2="24.5" y2="505.9" stroke="#777" stroke-width="0.5"/>
<line x1="35.59" y1="504.7" x2="35.59" y2="505.9" stroke="#777" stroke-width="0.5"/>
<line x1="46.69" y1="504.7" x2="46.69" y2="505.9" stroke="#777" stroke-width="0.5"/>
<line x1="57.78" y1="504.7" x2="57.78" y2="505.9" stroke="#777" stroke-width="0.5"/>
<text transform="translate(9.6,477.1) rotate(-90)" font-size="2" fill="#888" text-anchor="middle">Number</text>
<text x="38.3" y="508.9" font-size="2" fill="#666" text-anchor="middle" font-style="italic">Channels (FL2-A)</text>
<path d="M17.2,503.5 17.7,503.4 18.2,503.4 18.7,503.3 19.2,503.2 19.7,503.1 20.2,503.0 20.7,502.9 21.2,502.8 21.7,502.7 22.2,502.7 22.7,502.7 23.2,502.8 23.7,502.9 24.2,503.0 24.7,503.1 25.2,503.2 25.7,501.8 26.2,499.8 26.7,497.5 27.2,495.0 27.7,492.4 28.2,489.5 28.7,486.6 29.2,483.5 29.7,480.2 30.2,476.7 30.7,472.9 31.2,468.9 31.7,464.6 32.2,460.3 32.7,452.3 33.2,455.6 33.7,465.7 34.2,474.1 34.7,477.7 35.2,481.2 35.7,484.6 36.2,487.9 36.7,491.0 37.2,493.7 37.7,494.4 38.2,494.4 38.7,494.4 39.2,494.4 39.7,494.4 40.2,494.4 40.7,494.4 41.2,494.3 41.7,494.3 42.2,494.2 42.7,494.1 43.2,494.0 43.7,493.9 44.2,493.8 44.7,493.6 45.2,493.5 45.7,493.4 46.2,493.3 46.7,493.2 47.2,493.3 47.7,493.3 48.2,493.4 48.7,493.5 49.2,493.7 49.7,493.8 50.2,494.0 50.7,494.1 51.2,494.2 51.7,494.6 52.2,495.8 52.7,497.5 53.2,499.5 53.7,501.3 54.2,502.8 54.7,503.5 55.2,503.5 55.7,503.5 56.2,503.5Z" fill="#fff" stroke="#6a6a6a" stroke-width="0.55"/>
<path d="M29.3,504.7 29.8,504.6 30.3,504.3 30.8,503.8 31.3,503.1 31.8,502.4 32.3,501.6 32.8,500.7 33.3,499.8 33.8,498.9 34.3,498.1 34.8,497.3 35.3,496.6 35.8,496.1 36.3,495.8 36.8,495.6 37.3,495.6 37.8,495.6 38.3,495.6 38.8,495.6 39.3,495.6 39.8,495.6 40.3,495.6 40.8,495.6 41.3,495.6 41.8,495.6 42.3,495.6 42.8,495.6 43.3,495.6 43.8,495.6 44.3,495.6 44.8,495.6 45.3,495.6 45.8,495.6 46.3,495.6 46.8,495.6 47.3,495.6 47.8,495.6 48.3,495.6 48.8,495.6 49.3,495.6 49.8,495.6 50.3,495.6 50.8,495.6 51.3,495.6 51.8,496.1 52.3,497.4 52.8,499.2 53.3,501.1 53.8,502.9 54.3,504.2 54.8,504.7Z" fill="#d3dcef" stroke="#a0abc4" stroke-width="0.3"/>
<path d="M25.2,504.7 25.7,503.2 26.2,501.2 26.7,498.8 27.2,496.3 27.7,493.6 28.2,490.7 28.7,487.8 29.2,484.7 29.7,481.5 30.2,478.3 30.7,474.9 31.2,471.5 31.7,468.0 32.2,464.4 32.7,467.7 33.2,472.5 33.7,477.2 34.2,481.8 34.7,486.2 35.2,490.4 35.7,494.3 36.2,498.0 36.7,501.3 37.2,504.0Z" fill="#d81e25"/>
<path d="M39.6,504.7 40.1,504.6 40.6,504.6 41.1,504.5 41.6,504.4 42.1,504.3 42.6,504.1 43.1,503.8 43.6,503.5 44.1,503.2 44.6,502.8 45.1,502.4 45.6,502.1 46.1,501.9 46.6,501.8 47.1,501.8 47.6,502.0 48.1,502.2 48.6,502.5 49.1,502.9 49.6,503.2 50.1,503.6 50.6,503.9 51.1,504.1 51.6,504.3 52.1,504.4 52.6,504.5 53.1,504.6 53.6,504.6Z" fill="#d81e25"/>
<path d="M26.2,504.7 L33.3,500.7 L40.4,504.7Z" fill="#a01418" opacity="0.5"/>
<rect x="38.7" y="448.2" width="2.8" height="2.1" fill="#d81e25" stroke="#999" stroke-width="0.2"/>
<text x="42.3" y="450" font-size="1.7" fill="#3050c0">Dip G1</text>
<rect x="38.7" y="450.8" width="2.8" height="2.1" fill="#d81e25" stroke="#999" stroke-width="0.2"/>
<text x="42.3" y="452.6" font-size="1.7" fill="#3050c0">Dip G2</text>
<rect x="38.7" y="453.4" width="2.8" height="2.1" fill="#dde3f0" stroke="#999" stroke-width="0.2"/>
<text x="42.3" y="455.2" font-size="1.7" fill="#3050c0">Dip S</text>
</g>
<g>
<line x1="84.6" y1="449.5" x2="84.6" y2="504.7" stroke="#777" stroke-width="0.6" stroke-dasharray="0.9,0.7"/>
<line x1="84.6" y1="504.7" x2="140.6" y2="504.7" stroke="#777" stroke-width="0.6" stroke-dasharray="0.9,0.7"/>
<line x1="83.4" y1="504.7" x2="84.6" y2="504.7" stroke="#777" stroke-width="0.5"/>
<text x="83" y="505.3" font-size="1.8" fill="#888" text-anchor="end">0</text>
<line x1="83.4" y1="496.12" x2="84.6" y2="496.12" stroke="#777" stroke-width="0.5"/>
<text x="83" y="496.72" font-size="1.8" fill="#888" text-anchor="end">40</text>
<line x1="83.4" y1="487.54" x2="84.6" y2="487.54" stroke="#777" stroke-width="0.5"/>
<text x="83" y="488.14" font-size="1.8" fill="#888" text-anchor="end">80</text>
<line x1="83.4" y1="478.96" x2="84.6" y2="478.96" stroke="#777" stroke-width="0.5"/>
<text x="83" y="479.56" font-size="1.8" fill="#888" text-anchor="end">120</text>
<line x1="83.4" y1="470.38" x2="84.6" y2="470.38" stroke="#777" stroke-width="0.5"/>
<text x="83" y="470.98" font-size="1.8" fill="#888" text-anchor="end">160</text>
<line x1="83.4" y1="461.8" x2="84.6" y2="461.8" stroke="#777" stroke-width="0.5"/>
<text x="83" y="462.4" font-size="1.8" fill="#888" text-anchor="end">200</text>
<line x1="83.4" y1="453.22" x2="84.6" y2="453.22" stroke="#777" stroke-width="0.5"/>
<text x="83" y="453.82" font-size="1.8" fill="#888" text-anchor="end">240</text>
<line x1="84.6" y1="504.7" x2="84.6" y2="505.9" stroke="#777" stroke-width="0.5"/>
<line x1="96.98" y1="504.7" x2="96.98" y2="505.9" stroke="#777" stroke-width="0.5"/>
<line x1="109.36" y1="504.7" x2="109.36" y2="505.9" stroke="#777" stroke-width="0.5"/>
<line x1="121.74" y1="504.7" x2="121.74" y2="505.9" stroke="#777" stroke-width="0.5"/>
<line x1="134.12" y1="504.7" x2="134.12" y2="505.9" stroke="#777" stroke-width="0.5"/>
<text transform="translate(80.8,477.1) rotate(-90)" font-size="2" fill="#888" text-anchor="middle">Number</text>
<text x="108.3" y="508.9" font-size="2" fill="#666" text-anchor="middle" font-style="italic">Channels (FL2-A)</text>
<path d="M87.5,503.5 88.0,503.4 88.5,503.4 89.0,503.3 89.5,503.2 90.0,503.1 90.5,503.0 91.0,502.9 91.5,502.8 92.0,502.7 92.5,502.7 93.0,502.7 93.5,502.8 94.0,502.9 94.5,503.0 95.0,503.1 95.5,503.2 96.0,501.8 96.5,499.7 97.0,497.4 97.5,494.9 98.0,492.1 98.5,489.2 99.0,486.2 99.5,483.0 100.0,479.6 100.5,476.0 101.0,472.1 101.5,468.0 102.0,463.8 102.5,456.6 103.0,451.6 103.5,462.0 104.0,470.8 104.5,477.0 105.0,480.2 105.5,483.4 106.0,486.5 106.5,489.5 107.0,492.3 107.5,494.8 108.0,495.4 108.5,495.4 109.0,495.4 109.5,495.4 110.0,495.4 110.5,495.3 111.0,495.3 111.5,495.3 112.0,495.2 112.5,495.1 113.0,494.9 113.5,494.8 114.0,494.6 114.5,494.4 115.0,494.2 115.5,494.0 116.0,493.9 116.5,493.8 117.0,493.8 117.5,493.9 118.0,494.0 118.5,494.2 119.0,494.3 119.5,494.5 120.0,494.7 120.5,494.9 121.0,495.0 121.5,495.6 122.0,496.8 122.5,498.5 123.0,500.3 123.5,501.9 124.0,503.0 124.5,503.5 125.0,503.5 125.5,503.5 126.0,503.5Z" fill="#fff" stroke="#6a6a6a" stroke-width="0.55"/>
<path d="M99.3,504.7 99.8,504.6 100.3,504.3 100.8,503.9 101.3,503.4 101.8,502.8 102.3,502.1 102.8,501.3 103.3,500.6 103.8,499.8 104.3,499.1 104.8,498.4 105.3,497.8 105.8,497.3 106.3,496.9 106.8,496.7 107.3,496.6 107.8,496.6 108.3,496.6 108.8,496.6 109.3,496.6 109.8,496.6 110.3,496.6 110.8,496.6 111.3,496.6 111.8,496.6 112.3,496.6 112.8,496.6 113.3,496.6 113.8,496.6 114.3,496.6 114.8,496.6 115.3,496.6 115.8,496.6 116.3,496.6 116.8,496.6 117.3,496.6 117.8,496.6 118.3,496.6 118.8,496.6 119.3,496.6 119.8,496.6 120.3,496.6 120.8,496.6 121.3,496.8 121.8,497.7 122.3,499.1 122.8,500.8 123.3,502.5 123.8,503.9 124.3,504.6Z" fill="#d3dcef" stroke="#a0abc4" stroke-width="0.3"/>
<path d="M95.5,504.7 96.0,503.2 96.5,501.1 97.0,498.7 97.5,496.1 98.0,493.3 98.5,490.4 99.0,487.4 99.5,484.2 100.0,481.0 100.5,477.7 101.0,474.2 101.5,470.7 102.0,467.2 102.5,466.8 103.0,471.3 103.5,475.7 104.0,480.0 104.5,484.1 105.0,488.0 105.5,491.8 106.0,495.3 106.5,498.6 107.0,501.6 107.5,504.1Z" fill="#d81e25"/>
<path d="M109.6,504.7 110.1,504.6 110.6,504.6 111.1,504.5 111.6,504.3 112.1,504.1 112.6,503.8 113.1,503.5 113.6,503.0 114.1,502.6 114.6,502.1 115.1,501.6 115.6,501.2 116.1,500.9 116.6,500.7 117.1,500.7 117.6,500.9 118.1,501.2 118.6,501.7 119.1,502.2 119.6,502.7 120.1,503.1 120.6,503.5 121.1,503.9 121.6,504.1 122.1,504.3 122.6,504.5 123.1,504.6 123.6,504.6Z" fill="#d81e25"/>
<path d="M96.5,504.7 L103.3,500.7 L110.7,504.7Z" fill="#a01418" opacity="0.5"/>
<rect x="108.1" y="448.2" width="2.8" height="2.1" fill="#d81e25" stroke="#999" stroke-width="0.2"/>
<text x="111.7" y="450" font-size="1.7" fill="#3050c0">Dip G1</text>
<rect x="108.1" y="450.8" width="2.8" height="2.1" fill="#d81e25" stroke="#999" stroke-width="0.2"/>
<text x="111.7" y="452.6" font-size="1.7" fill="#3050c0">Dip G2</text>
<rect x="108.1" y="453.4" width="2.8" height="2.1" fill="#dde3f0" stroke="#999" stroke-width="0.2"/>
<text x="111.7" y="455.2" font-size="1.7" fill="#3050c0">Dip S</text>
</g>
<g>
<line x1="158.6" y1="449.5" x2="158.6" y2="505.6" stroke="#777" stroke-width="0.6" stroke-dasharray="0.9,0.7"/>
<line x1="158.6" y1="505.6" x2="215.6" y2="505.6" stroke="#777" stroke-width="0.6" stroke-dasharray="0.9,0.7"/>
<line x1="157.4" y1="505.6" x2="158.6" y2="505.6" stroke="#777" stroke-width="0.5"/>
<text x="157" y="506.2" font-size="1.8" fill="#888" text-anchor="end">0</text>
<line x1="157.4" y1="496.87" x2="158.6" y2="496.87" stroke="#777" stroke-width="0.5"/>
<text x="157" y="497.47" font-size="1.8" fill="#888" text-anchor="end">40</text>
<line x1="157.4" y1="488.15" x2="158.6" y2="488.15" stroke="#777" stroke-width="0.5"/>
<text x="157" y="488.75" font-size="1.8" fill="#888" text-anchor="end">80</text>
<line x1="157.4" y1="479.42" x2="158.6" y2="479.42" stroke="#777" stroke-width="0.5"/>
<text x="157" y="480.02" font-size="1.8" fill="#888" text-anchor="end">120</text>
<line x1="157.4" y1="470.7" x2="158.6" y2="470.7" stroke="#777" stroke-width="0.5"/>
<text x="157" y="471.3" font-size="1.8" fill="#888" text-anchor="end">160</text>
<line x1="157.4" y1="461.97" x2="158.6" y2="461.97" stroke="#777" stroke-width="0.5"/>
<text x="157" y="462.57" font-size="1.8" fill="#888" text-anchor="end">200</text>
<line x1="157.4" y1="453.25" x2="158.6" y2="453.25" stroke="#777" stroke-width="0.5"/>
<text x="157" y="453.85" font-size="1.8" fill="#888" text-anchor="end">240</text>
<line x1="158.6" y1="505.6" x2="158.6" y2="506.8" stroke="#777" stroke-width="0.5"/>
<line x1="171.22" y1="505.6" x2="171.22" y2="506.8" stroke="#777" stroke-width="0.5"/>
<line x1="183.84" y1="505.6" x2="183.84" y2="506.8" stroke="#777" stroke-width="0.5"/>
<line x1="196.46" y1="505.6" x2="196.46" y2="506.8" stroke="#777" stroke-width="0.5"/>
<line x1="209.08" y1="505.6" x2="209.08" y2="506.8" stroke="#777" stroke-width="0.5"/>
<text transform="translate(154.8,477.55) rotate(-90)" font-size="2" fill="#888" text-anchor="middle">Number</text>
<text x="182.8" y="509.8" font-size="2" fill="#666" text-anchor="middle" font-style="italic">Channels (FL2-A)</text>
<path d="M161.5,504.4 162.0,504.3 162.5,504.3 163.0,504.2 163.5,504.1 164.0,504.0 164.5,503.9 165.0,503.8 165.5,503.7 166.0,503.6 166.5,503.6 167.0,503.6 167.5,503.7 168.0,503.8 168.5,503.9 169.0,504.0 169.5,504.1 170.0,502.8 170.5,501.0 171.0,499.0 171.5,496.7 172.0,494.2 172.5,491.7 173.0,489.0 173.5,486.2 174.0,483.3 174.5,480.3 175.0,477.2 175.5,474.0 176.0,470.7 176.5,466.7 177.0,459.3 177.5,455.4 178.0,466.7 178.5,476.4 179.0,483.8 179.5,487.6 180.0,491.2 180.5,494.7 181.0,497.9 181.5,500.7 182.0,503.0 182.5,503.2 183.0,503.2 183.5,503.1 184.0,503.2 184.5,503.1 185.0,502.7 185.5,502.2 186.0,501.6 186.5,500.9 187.0,500.2 187.5,499.5 188.0,498.8 188.5,498.3 189.0,498.0 189.5,497.8 190.0,497.9 190.5,498.2 191.0,498.6 191.5,499.2 192.0,499.9 192.5,500.7 193.0,501.4 193.5,502.0 194.0,502.6 194.5,503.1 195.0,503.5 195.5,503.8 196.0,504.0 196.5,504.1 197.0,504.2 197.5,504.3 198.0,504.3 198.5,504.4Z" fill="#fff" stroke="#6a6a6a" stroke-width="0.55"/>
<path d="M173.8,505.6 174.3,505.6 174.8,505.6 175.3,505.5 175.8,505.4 176.3,505.3 176.8,505.2 177.3,505.1 177.8,505.0 178.3,504.9 178.8,504.8 179.3,504.7 179.8,504.6 180.3,504.6 180.8,504.5 181.3,504.5 181.8,504.5 182.3,504.5 182.8,504.5 183.3,504.5 183.8,504.6 184.3,504.8 184.8,505.1 185.3,505.3 185.8,505.5 186.3,505.6Z" fill="#d3dcef" stroke="#a0abc4" stroke-width="0.3"/>
<path d="M169.5,505.6 170.0,504.2 170.5,502.4 171.0,500.2 171.5,497.9 172.0,495.5 172.5,492.9 173.0,490.2 173.5,487.4 174.0,484.5 174.5,481.5 175.0,478.4 175.5,475.3 176.0,472.1 176.5,468.9 177.0,468.7 177.5,473.2 178.0,477.5 178.5,481.7 179.0,485.8 179.5,489.7 180.0,493.4 180.5,496.9 181.0,500.2 181.5,503.1 182.0,505.3Z" fill="#d81e25"/>
<path d="M181.6,505.5 182.1,505.5 182.6,505.4 183.1,505.2 183.6,505.0 184.1,504.7 184.6,504.4 185.1,503.9 185.6,503.4 186.1,502.7 186.6,502.0 187.1,501.3 187.6,500.6 188.1,499.9 188.6,499.4 189.1,499.1 189.6,499.0 190.1,499.1 190.6,499.4 191.1,499.9 191.6,500.6 192.1,501.3 192.6,502.0 193.1,502.7 193.6,503.4 194.1,503.9 194.6,504.4 195.1,504.7 195.6,505.0 196.1,505.2 196.6,505.4 197.1,505.5 197.6,505.5Z" fill="#d81e25"/>
<path d="M170.5,505.6 L177.8,501.6 L185.1,505.6Z" fill="#a01418" opacity="0.5"/>
<rect x="182.5" y="450.2" width="2.8" height="2.1" fill="#d81e25" stroke="#999" stroke-width="0.2"/>
<text x="186.1" y="452" font-size="1.7" fill="#3050c0">Dip G1</text>
<rect x="182.5" y="452.8" width="2.8" height="2.1" fill="#d81e25" stroke="#999" stroke-width="0.2"/>
<text x="186.1" y="454.6" font-size="1.7" fill="#3050c0">Dip G2</text>
<rect x="182.5" y="455.4" width="2.8" height="2.1" fill="#dde3f0" stroke="#999" stroke-width="0.2"/>
<text x="186.1" y="457.2" font-size="1.7" fill="#3050c0">Dip S</text>
</g>
<text x="34" y="466.2" font-size="8.4" text-anchor="start" font-weight="bold" fill="#231f20" >G1: 59.94%</text>
<text x="78.2" y="476.2" font-size="8.4" text-anchor="end" font-weight="bold" fill="#231f20" >S: 32.85%</text>
<text x="34" y="487.2" font-size="8.4" text-anchor="start" font-weight="bold" fill="#231f20" >G2: 7.21%</text>
<text x="107.3" y="469" font-size="8.4" text-anchor="start" font-weight="bold" fill="#231f20" >G1: 61.43%</text>
<text x="151.6" y="477.5" font-size="8.4" text-anchor="end" font-weight="bold" fill="#231f20" >S: 27.07%</text>
<text x="107.3" y="487.4" font-size="8.4" text-anchor="start" font-weight="bold" fill="#231f20" >G2: 11.50%</text>
<text x="179.7" y="469.7" font-size="8.4" text-anchor="start" font-weight="bold" fill="#231f20" >G1: 66.91%</text>
<text x="223.6" y="479.6" font-size="8.4" text-anchor="end" font-weight="bold" fill="#231f20" >S: 11.82%</text>
<text x="179.7" y="489" font-size="8.4" text-anchor="start" font-weight="bold" fill="#231f20" >G2: 21.27%</text>
<rect x="246.8" y="432.9" width="7.3" height="3.2" fill="#fff" stroke="#231f20" stroke-width="0.9"/>
<rect x="246.8" y="439.9" width="7.3" height="3.2" fill="#8488c4" stroke="#231f20" stroke-width="0.9"/>
<rect x="246.8" y="446.4" width="7.3" height="3.2" fill="#1e2288" stroke="#231f20" stroke-width="0.9"/>
<text transform="translate(260.4,437) scale(1,0.92)" font-size="8.3" font-weight="bold" fill="#231f20">Control</text>
<text transform="translate(260.4,443.5) scale(1,0.92)" font-size="8.3" font-weight="bold" fill="#231f20">Negative control</text>
<text transform="translate(260.4,450.3) scale(1,0.92)" font-size="8.3" font-weight="bold" fill="#231f20">siRNA-STAT4</text>
<text transform="translate(237.18,478.9) rotate(-90)" font-size="8.4" text-anchor="middle" font-weight="bold" fill="#231f20" >% of cells</text>
<line x1="254.5" y1="459.1" x2="254.5" y2="506.6" stroke="#111" stroke-width="1.1"/>
<line x1="251.2" y1="506.5" x2="254" y2="506.5" stroke="#111" stroke-width="1.1"/>
<text x="249.8" y="509.04" font-size="8.4" text-anchor="end" font-weight="bold" fill="#231f20" >0</text>
<line x1="251.2" y1="494.5" x2="254" y2="494.5" stroke="#111" stroke-width="1.1"/>
<text x="249.8" y="497.42" font-size="8.4" text-anchor="end" font-weight="bold" fill="#231f20" >20</text>
<line x1="251.2" y1="482.5" x2="254" y2="482.5" stroke="#111" stroke-width="1.1"/>
<text x="249.8" y="485.79" font-size="8.4" text-anchor="end" font-weight="bold" fill="#231f20" >40</text>
<line x1="251.2" y1="471.5" x2="254" y2="471.5" stroke="#111" stroke-width="1.1"/>
<text x="249.8" y="474.17" font-size="8.4" text-anchor="end" font-weight="bold" fill="#231f20" >60</text>
<line x1="251.2" y1="459.5" x2="254" y2="459.5" stroke="#111" stroke-width="1.1"/>
<text x="249.8" y="462.54" font-size="8.4" text-anchor="end" font-weight="bold" fill="#231f20" >80</text>
<line x1="253.5" y1="506.5" x2="327.1" y2="506.5" stroke="#111" stroke-width="1.1"/>
<line x1="265.5" y1="506.1" x2="265.5" y2="508.1" stroke="#111" stroke-width="1.1"/>
<line x1="290.5" y1="506.1" x2="290.5" y2="508.1" stroke="#111" stroke-width="1.1"/>
<line x1="314.5" y1="506.1" x2="314.5" y2="508.1" stroke="#111" stroke-width="1.1"/>
<rect x="256.5" y="470.5" width="3" height="35.6" fill="#fff" stroke="#231f20" stroke-width="0.9"/>
<line x1="258.5" y1="468.4" x2="258.5" y2="470.5" stroke="#111" stroke-width="0.9"/>
<line x1="257.37" y1="468.5" x2="259.63" y2="468.5" stroke="#111" stroke-width="0.9"/>
<rect x="263.5" y="468.5" width="3" height="37.6" fill="#8488c4" stroke="#231f20" stroke-width="0.9"/>
<line x1="265.5" y1="466.6" x2="265.5" y2="468.5" stroke="#111" stroke-width="0.9"/>
<line x1="264.29" y1="466.5" x2="266.71" y2="466.5" stroke="#111" stroke-width="0.9"/>
<rect x="269.5" y="464.5" width="4" height="41.6" fill="#1e2288" stroke="#231f20" stroke-width="0.9"/>
<line x1="271.5" y1="462.7" x2="271.5" y2="464.5" stroke="#111" stroke-width="0.9"/>
<line x1="270.35" y1="462.5" x2="272.65" y2="462.5" stroke="#111" stroke-width="0.9"/>
<rect x="281.5" y="491.5" width="3" height="14.6" fill="#fff" stroke="#231f20" stroke-width="0.9"/>
<line x1="283.5" y1="486.8" x2="283.5" y2="491.5" stroke="#111" stroke-width="0.9"/>
<line x1="282.4" y1="486.5" x2="284.6" y2="486.5" stroke="#111" stroke-width="0.9"/>
<rect x="287.5" y="493.5" width="3" height="12.6" fill="#8488c4" stroke="#231f20" stroke-width="0.9"/>
<line x1="289.5" y1="490.3" x2="289.5" y2="493.5" stroke="#111" stroke-width="0.9"/>
<line x1="288.35" y1="490.5" x2="290.65" y2="490.5" stroke="#111" stroke-width="0.9"/>
<rect x="294.5" y="503.5" width="3" height="2.6" fill="#1e2288" stroke="#231f20" stroke-width="0.9"/>
<line x1="296.5" y1="499.6" x2="296.5" y2="503.5" stroke="#111" stroke-width="0.9"/>
<line x1="295.35" y1="499.5" x2="297.65" y2="499.5" stroke="#111" stroke-width="0.9"/>
<rect x="305.5" y="500.5" width="3" height="5.6" fill="#fff" stroke="#231f20" stroke-width="0.9"/>
<line x1="307.5" y1="496.8" x2="307.5" y2="500.5" stroke="#111" stroke-width="0.9"/>
<line x1="306.29" y1="496.5" x2="308.71" y2="496.5" stroke="#111" stroke-width="0.9"/>
<rect x="312.5" y="498.5" width="3" height="7.6" fill="#8488c4" stroke="#231f20" stroke-width="0.9"/>
<line x1="314.5" y1="496.4" x2="314.5" y2="498.5" stroke="#111" stroke-width="0.9"/>
<line x1="313.29" y1="496.5" x2="315.71" y2="496.5" stroke="#111" stroke-width="0.9"/>
<rect x="319.5" y="492.5" width="3" height="13.6" fill="#1e2288" stroke="#231f20" stroke-width="0.9"/>
<line x1="321.5" y1="491.5" x2="321.5" y2="492.5" stroke="#111" stroke-width="0.9"/>
<line x1="320.29" y1="491.5" x2="322.71" y2="491.5" stroke="#111" stroke-width="0.9"/>
<text x="264.8" y="519.1" font-size="8.4" text-anchor="middle" font-weight="bold" fill="#231f20" >G1</text>
<text x="287.6" y="519.1" font-size="8.4" text-anchor="middle" font-weight="bold" fill="#231f20" >S</text>
<text x="314.8" y="519.1" font-size="8.4" text-anchor="middle" font-weight="bold" fill="#231f20" >G2</text>
<line x1="278.9" y1="475.5" x2="303.8" y2="475.5" stroke="#111" stroke-width="1.1"/>
<text x="291.2" y="474.8" font-size="7.5" text-anchor="middle" font-weight="bold" fill="#231f20" >***</text>
<line x1="286.8" y1="482.5" x2="303.8" y2="482.5" stroke="#111" stroke-width="1.1"/>
<text x="294.7" y="482.1" font-size="7.5" text-anchor="middle" font-weight="bold" fill="#231f20" >**</text>
<line x1="306.1" y1="475.5" x2="327.6" y2="475.5" stroke="#111" stroke-width="1.1"/>
<text x="317.1" y="474.4" font-size="7.5" text-anchor="middle" font-weight="bold" fill="#231f20" >***</text>
<line x1="312.2" y1="483.5" x2="324.8" y2="483.5" stroke="#111" stroke-width="1.1"/>
<text x="317.1" y="483.2" font-size="7.5" text-anchor="middle" font-weight="bold" fill="#231f20" >**</text>
<text x="363.7" y="445.2" font-size="8.4" text-anchor="start" font-weight="bold" fill="#231f20" >Blank control</text>
<text x="443.8" y="446" font-size="8.4" text-anchor="start" font-weight="bold" fill="#231f20" >Negative control</text>
<text transform="translate(531.6,444.81) scale(1,0.85)" font-size="8.2" text-anchor="start" font-weight="bold" fill="#231f20" >siRNA-STAT4</text>
<text transform="translate(349.18,472.5) rotate(-90)" font-size="8.4" text-anchor="middle" font-weight="bold" fill="#231f20" >Number</text>
<g>
<line x1="359.5" y1="449.5" x2="359.5" y2="506.7" stroke="#777" stroke-width="0.6" stroke-dasharray="0.9,0.7"/>
<line x1="359.5" y1="506.7" x2="415.6" y2="506.7" stroke="#777" stroke-width="0.6" stroke-dasharray="0.9,0.7"/>
<line x1="358.3" y1="506.7" x2="359.5" y2="506.7" stroke="#777" stroke-width="0.5"/>
<text x="357.9" y="507.3" font-size="1.8" fill="#888" text-anchor="end">0</text>
<line x1="358.3" y1="497.8" x2="359.5" y2="497.8" stroke="#777" stroke-width="0.5"/>
<text x="357.9" y="498.4" font-size="1.8" fill="#888" text-anchor="end">40</text>
<line x1="358.3" y1="488.89" x2="359.5" y2="488.89" stroke="#777" stroke-width="0.5"/>
<text x="357.9" y="489.49" font-size="1.8" fill="#888" text-anchor="end">80</text>
<line x1="358.3" y1="479.99" x2="359.5" y2="479.99" stroke="#777" stroke-width="0.5"/>
<text x="357.9" y="480.59" font-size="1.8" fill="#888" text-anchor="end">120</text>
<line x1="358.3" y1="471.09" x2="359.5" y2="471.09" stroke="#777" stroke-width="0.5"/>
<text x="357.9" y="471.69" font-size="1.8" fill="#888" text-anchor="end">160</text>
<line x1="358.3" y1="462.18" x2="359.5" y2="462.18" stroke="#777" stroke-width="0.5"/>
<text x="357.9" y="462.78" font-size="1.8" fill="#888" text-anchor="end">200</text>
<line x1="358.3" y1="453.28" x2="359.5" y2="453.28" stroke="#777" stroke-width="0.5"/>
<text x="357.9" y="453.88" font-size="1.8" fill="#888" text-anchor="end">240</text>
<line x1="359.5" y1="506.7" x2="359.5" y2="507.9" stroke="#777" stroke-width="0.5"/>
<line x1="371.9" y1="506.7" x2="371.9" y2="507.9" stroke="#777" stroke-width="0.5"/>
<line x1="384.31" y1="506.7" x2="384.31" y2="507.9" stroke="#777" stroke-width="0.5"/>
<line x1="396.71" y1="506.7" x2="396.71" y2="507.9" stroke="#777" stroke-width="0.5"/>
<line x1="409.12" y1="506.7" x2="409.12" y2="507.9" stroke="#777" stroke-width="0.5"/>
<text transform="translate(355.7,478.1) rotate(-90)" font-size="2" fill="#888" text-anchor="middle">Number</text>
<text x="386.8" y="510.9" font-size="2" fill="#666" text-anchor="middle" font-style="italic">Channels (FL2-A)</text>
<path d="M367.9,505.5 368.4,505.4 368.9,505.4 369.4,505.3 369.9,505.2 370.4,505.1 370.9,505.0 371.4,504.9 371.9,504.8 372.4,504.7 372.9,504.7 373.4,504.7 373.9,504.8 374.4,504.9 374.9,505.0 375.4,505.1 375.9,505.2 376.4,502.9 376.9,499.7 377.4,496.1 377.9,492.0 378.4,487.5 378.9,482.6 379.4,477.2 379.9,471.4 380.4,465.4 380.9,461.5 381.4,450.2 381.9,463.9 382.4,474.9 382.9,480.8 383.4,485.3 383.9,489.5 384.4,493.4 384.9,496.4 385.4,496.4 385.9,496.4 386.4,496.4 386.9,496.4 387.4,496.4 387.9,496.4 388.4,496.4 388.9,496.4 389.4,496.4 389.9,496.4 390.4,496.4 390.9,496.4 391.4,496.4 391.9,496.4 392.4,496.4 392.9,496.4 393.4,496.4 393.9,496.4 394.4,496.4 394.9,496.4 395.4,496.3 395.9,496.2 396.4,496.1 396.9,496.0 397.4,495.9 397.9,495.9 398.4,496.0 398.9,496.1 399.4,496.3 399.9,496.3 400.4,496.4 400.9,496.4 401.4,497.1 401.9,498.5 402.4,500.4 402.9,502.3 403.4,504.0 403.9,505.2 404.4,505.5 404.9,505.5 405.4,505.5Z" fill="#fff" stroke="#6a6a6a" stroke-width="0.55"/>
<path d="M377.8,506.7 378.3,506.6 378.8,506.1 379.3,505.5 379.8,504.7 380.3,503.8 380.8,502.8 381.3,501.7 381.8,500.7 382.3,499.8 382.8,498.9 383.3,498.3 383.8,497.8 384.3,497.6 384.8,497.6 385.3,497.6 385.8,497.6 386.3,497.6 386.8,497.6 387.3,497.6 387.8,497.6 388.3,497.6 388.8,497.6 389.3,497.6 389.8,497.6 390.3,497.6 390.8,497.6 391.3,497.6 391.8,497.6 392.3,497.6 392.8,497.6 393.3,497.6 393.8,497.6 394.3,497.6 394.8,497.6 395.3,497.6 395.8,497.6 396.3,497.6 396.8,497.6 397.3,497.6 397.8,497.6 398.3,497.6 398.8,497.6 399.3,497.6 399.8,497.6 400.3,497.6 400.8,497.6 401.3,498.1 401.8,499.4 402.3,501.2 402.8,503.1 403.3,504.9 403.8,506.2 404.3,506.7Z" fill="#d3dcef" stroke="#a0abc4" stroke-width="0.3"/>
<path d="M375.9,506.7 376.4,504.3 376.9,501.1 377.4,497.3 377.9,493.3 378.4,489.0 378.9,484.4 379.4,479.7 379.9,474.8 380.4,469.8 380.9,466.8 381.4,473.0 381.9,478.9 382.4,484.6 382.9,489.9 383.4,495.0 383.9,499.7 384.4,503.7 384.9,506.7Z" fill="#d81e25"/>
<path d="M393.6,506.7 394.1,506.7 394.6,506.7 395.1,506.6 395.6,506.4 396.1,506.2 396.6,505.9 397.1,505.6 397.6,505.5 398.1,505.6 398.6,505.9 399.1,506.2 399.6,506.4 400.1,506.6 400.6,506.7 401.1,506.7 401.6,506.7Z" fill="#d81e25"/>
<path d="M376.9,506.7 L381.8,502.7 L387.9,506.7Z" fill="#a01418" opacity="0.5"/>
<rect x="386" y="453.4" width="2.8" height="2.1" fill="#d81e25" stroke="#999" stroke-width="0.2"/>
<text x="389.6" y="455.2" font-size="1.7" fill="#3050c0">Dip G1</text>
<rect x="386" y="456" width="2.8" height="2.1" fill="#d81e25" stroke="#999" stroke-width="0.2"/>
<text x="389.6" y="457.8" font-size="1.7" fill="#3050c0">Dip G2</text>
<rect x="386" y="458.6" width="2.8" height="2.1" fill="#dde3f0" stroke="#999" stroke-width="0.2"/>
<text x="389.6" y="460.4" font-size="1.7" fill="#3050c0">Dip S</text>
</g>
<g>
<line x1="439.5" y1="449.5" x2="439.5" y2="505.6" stroke="#777" stroke-width="0.6" stroke-dasharray="0.9,0.7"/>
<line x1="439.5" y1="505.6" x2="495" y2="505.6" stroke="#777" stroke-width="0.6" stroke-dasharray="0.9,0.7"/>
<line x1="438.3" y1="505.6" x2="439.5" y2="505.6" stroke="#777" stroke-width="0.5"/>
<text x="437.9" y="506.2" font-size="1.8" fill="#888" text-anchor="end">0</text>
<line x1="438.3" y1="496.87" x2="439.5" y2="496.87" stroke="#777" stroke-width="0.5"/>
<text x="437.9" y="497.47" font-size="1.8" fill="#888" text-anchor="end">40</text>
<line x1="438.3" y1="488.15" x2="439.5" y2="488.15" stroke="#777" stroke-width="0.5"/>
<text x="437.9" y="488.75" font-size="1.8" fill="#888" text-anchor="end">80</text>
<line x1="438.3" y1="479.42" x2="439.5" y2="479.42" stroke="#777" stroke-width="0.5"/>
<text x="437.9" y="480.02" font-size="1.8" fill="#888" text-anchor="end">120</text>
<line x1="438.3" y1="470.7" x2="439.5" y2="470.7" stroke="#777" stroke-width="0.5"/>
<text x="437.9" y="471.3" font-size="1.8" fill="#888" text-anchor="end">160</text>
<line x1="438.3" y1="461.97" x2="439.5" y2="461.97" stroke="#777" stroke-width="0.5"/>
<text x="437.9" y="462.57" font-size="1.8" fill="#888" text-anchor="end">200</text>
<line x1="438.3" y1="453.25" x2="439.5" y2="453.25" stroke="#777" stroke-width="0.5"/>
<text x="437.9" y="453.85" font-size="1.8" fill="#888" text-anchor="end">240</text>
<line x1="439.5" y1="505.6" x2="439.5" y2="506.8" stroke="#777" stroke-width="0.5"/>
<line x1="451.76" y1="505.6" x2="451.76" y2="506.8" stroke="#777" stroke-width="0.5"/>
<line x1="464.02" y1="505.6" x2="464.02" y2="506.8" stroke="#777" stroke-width="0.5"/>
<line x1="476.29" y1="505.6" x2="476.29" y2="506.8" stroke="#777" stroke-width="0.5"/>
<line x1="488.55" y1="505.6" x2="488.55" y2="506.8" stroke="#777" stroke-width="0.5"/>
<text transform="translate(435.7,477.55) rotate(-90)" font-size="2" fill="#888" text-anchor="middle">Number</text>
<text x="466.8" y="509.8" font-size="2" fill="#666" text-anchor="middle" font-style="italic">Channels (FL2-A)</text>
<path d="M447.9,504.4 448.4,504.3 448.9,504.3 449.4,504.2 449.9,504.1 450.4,504.0 450.9,503.9 451.4,503.8 451.9,503.7 452.4,503.6 452.9,503.6 453.4,503.6 453.9,503.7 454.4,503.8 454.9,503.9 455.4,504.0 455.9,504.1 456.4,501.9 456.9,498.9 457.4,495.4 457.9,491.5 458.4,487.2 458.9,482.4 459.4,477.3 459.9,471.7 460.4,466.0 460.9,461.7 461.4,449.6 461.9,463.1 462.4,474.1 462.9,480.6 463.4,484.8 463.9,488.8 464.4,492.6 464.9,495.4 465.4,495.4 465.9,495.4 466.4,495.4 466.9,495.4 467.4,495.4 467.9,495.4 468.4,495.4 468.9,495.4 469.4,495.4 469.9,495.4 470.4,495.4 470.9,495.3 471.4,495.3 471.9,495.2 472.4,495.1 472.9,495.0 473.4,494.8 473.9,494.6 474.4,494.4 474.9,494.2 475.4,493.9 475.9,493.7 476.4,493.6 476.9,493.5 477.4,493.4 477.9,493.5 478.4,493.6 478.9,493.8 479.4,494.0 479.9,494.2 480.4,494.5 480.9,494.7 481.4,495.6 481.9,497.1 482.4,499.1 482.9,501.1 483.4,502.8 483.9,504.0 484.4,504.3 484.9,504.3 485.4,504.4Z" fill="#fff" stroke="#6a6a6a" stroke-width="0.55"/>
<path d="M457.8,505.6 458.3,505.5 458.8,505.0 459.3,504.4 459.8,503.6 460.3,502.7 460.8,501.7 461.3,500.7 461.8,499.7 462.3,498.8 462.8,497.9 463.3,497.3 463.8,496.8 464.3,496.6 464.8,496.6 465.3,496.6 465.8,496.6 466.3,496.6 466.8,496.6 467.3,496.6 467.8,496.6 468.3,496.6 468.8,496.6 469.3,496.6 469.8,496.6 470.3,496.6 470.8,496.6 471.3,496.6 471.8,496.6 472.3,496.6 472.8,496.6 473.3,496.6 473.8,496.6 474.3,496.6 474.8,496.6 475.3,496.6 475.8,496.6 476.3,496.6 476.8,496.6 477.3,496.6 477.8,496.6 478.3,496.6 478.8,496.6 479.3,496.6 479.8,496.6 480.3,496.6 480.8,496.6 481.3,497.1 481.8,498.4 482.3,500.1 482.8,502.1 483.3,503.8 483.8,505.1 484.3,505.6Z" fill="#d3dcef" stroke="#a0abc4" stroke-width="0.3"/>
<path d="M455.9,505.6 456.4,503.3 456.9,500.2 457.4,496.7 457.9,492.8 458.4,488.7 458.9,484.3 459.4,479.8 459.9,475.1 460.4,470.3 460.9,467.5 461.4,473.4 461.9,479.0 462.4,484.4 462.9,489.6 463.4,494.4 463.9,498.9 464.4,502.8 464.9,505.6Z" fill="#d81e25"/>
<path d="M469.8,505.5 470.3,505.5 470.8,505.4 471.3,505.3 471.8,505.1 472.3,504.9 472.8,504.6 473.3,504.2 473.8,503.7 474.3,503.2 474.8,502.6 475.3,502.0 475.8,501.5 476.3,501.1 476.8,500.8 477.3,500.7 477.8,500.8 478.3,501.1 478.8,501.5 479.3,502.0 479.8,502.6 480.3,503.2 480.8,503.7 481.3,504.2 481.8,504.6 482.3,504.9 482.8,505.1 483.3,505.3 483.8,505.4 484.3,505.5 484.8,505.5Z" fill="#d81e25"/>
<path d="M456.9,505.6 L461.8,501.6 L467.9,505.6Z" fill="#a01418" opacity="0.5"/>
<rect x="467" y="453" width="2.8" height="2.1" fill="#d81e25" stroke="#999" stroke-width="0.2"/>
<text x="470.6" y="454.8" font-size="1.7" fill="#3050c0">Dip G1</text>
<rect x="467" y="455.6" width="2.8" height="2.1" fill="#d81e25" stroke="#999" stroke-width="0.2"/>
<text x="470.6" y="457.4" font-size="1.7" fill="#3050c0">Dip G2</text>
<rect x="467" y="458.2" width="2.8" height="2.1" fill="#dde3f0" stroke="#999" stroke-width="0.2"/>
<text x="470.6" y="460" font-size="1.7" fill="#3050c0">Dip S</text>
</g>
<g>
<line x1="514.9" y1="449.5" x2="514.9" y2="506.3" stroke="#777" stroke-width="0.6" stroke-dasharray="0.9,0.7"/>
<line x1="514.9" y1="506.3" x2="570" y2="506.3" stroke="#777" stroke-width="0.6" stroke-dasharray="0.9,0.7"/>
<line x1="513.7" y1="506.3" x2="514.9" y2="506.3" stroke="#777" stroke-width="0.5"/>
<text x="513.3" y="506.9" font-size="1.8" fill="#888" text-anchor="end">0</text>
<line x1="513.7" y1="497.46" x2="514.9" y2="497.46" stroke="#777" stroke-width="0.5"/>
<text x="513.3" y="498.06" font-size="1.8" fill="#888" text-anchor="end">40</text>
<line x1="513.7" y1="488.62" x2="514.9" y2="488.62" stroke="#777" stroke-width="0.5"/>
<text x="513.3" y="489.22" font-size="1.8" fill="#888" text-anchor="end">80</text>
<line x1="513.7" y1="479.78" x2="514.9" y2="479.78" stroke="#777" stroke-width="0.5"/>
<text x="513.3" y="480.38" font-size="1.8" fill="#888" text-anchor="end">120</text>
<line x1="513.7" y1="470.95" x2="514.9" y2="470.95" stroke="#777" stroke-width="0.5"/>
<text x="513.3" y="471.55" font-size="1.8" fill="#888" text-anchor="end">160</text>
<line x1="513.7" y1="462.11" x2="514.9" y2="462.11" stroke="#777" stroke-width="0.5"/>
<text x="513.3" y="462.71" font-size="1.8" fill="#888" text-anchor="end">200</text>
<line x1="513.7" y1="453.27" x2="514.9" y2="453.27" stroke="#777" stroke-width="0.5"/>
<text x="513.3" y="453.87" font-size="1.8" fill="#888" text-anchor="end">240</text>
<line x1="514.9" y1="506.3" x2="514.9" y2="507.5" stroke="#777" stroke-width="0.5"/>
<line x1="527.07" y1="506.3" x2="527.07" y2="507.5" stroke="#777" stroke-width="0.5"/>
<line x1="539.23" y1="506.3" x2="539.23" y2="507.5" stroke="#777" stroke-width="0.5"/>
<line x1="551.4" y1="506.3" x2="551.4" y2="507.5" stroke="#777" stroke-width="0.5"/>
<line x1="563.57" y1="506.3" x2="563.57" y2="507.5" stroke="#777" stroke-width="0.5"/>
<text transform="translate(511.1,477.9) rotate(-90)" font-size="2" fill="#888" text-anchor="middle">Number</text>
<text x="544.1" y="510.5" font-size="2" fill="#666" text-anchor="middle" font-style="italic">Channels (FL2-A)</text>
<path d="M521.4,505.1 521.9,505.0 522.4,505.0 522.9,504.9 523.4,504.8 523.9,504.7 524.4,504.6 524.9,504.5 525.4,504.4 525.9,504.3 526.4,504.3 526.9,504.3 527.4,504.4 527.9,504.5 528.4,504.6 528.9,504.7 529.4,504.8 529.9,503.7 530.4,502.2 530.9,500.5 531.4,498.6 531.9,496.5 532.4,494.3 532.9,492.1 533.4,489.7 533.9,487.2 534.4,484.7 534.9,482.2 535.4,479.5 535.9,476.6 536.4,473.6 536.9,470.3 537.4,467.0 537.9,461.8 538.4,454.7 538.9,454.6 539.4,464.4 539.9,472.8 540.4,478.2 540.9,481.4 541.4,484.6 541.9,487.6 542.4,490.5 542.9,493.3 543.4,495.8 543.9,497.3 544.4,497.3 544.9,497.3 545.4,497.2 545.9,497.2 546.4,497.5 546.9,498.4 547.4,499.8 547.9,501.4 548.4,502.9 548.9,503.6 549.4,503.4 549.9,503.0 550.4,502.5 550.9,502.0 551.4,501.5 551.9,501.0 552.4,500.5 552.9,500.1 553.4,499.8 553.9,499.6 554.4,499.5 554.9,499.5 555.4,499.7 555.9,500.0 556.4,500.4 556.9,500.8 557.4,501.3 557.9,501.8 558.4,502.3 558.9,502.8 559.4,503.2 559.9,503.6 560.4,504.0 560.9,504.2 561.4,504.5 561.9,504.6 562.4,504.8 562.9,504.9 563.4,505.0 563.9,505.0 564.4,505.0 564.9,505.1Z" fill="#fff" stroke="#6a6a6a" stroke-width="0.55"/>
<path d="M535.1,506.3 535.6,506.2 536.1,506.0 536.6,505.6 537.1,505.1 537.6,504.6 538.1,503.9 538.6,503.2 539.1,502.5 539.6,501.8 540.1,501.1 540.6,500.5 541.1,499.9 541.6,499.4 542.1,499.0 542.6,498.7 543.1,498.5 543.6,498.5 544.1,498.5 544.6,498.5 545.1,498.5 545.6,498.5 546.1,498.5 546.6,499.1 547.1,500.3 547.6,501.9 548.1,503.6 548.6,505.0 549.1,506.0Z" fill="#d3dcef" stroke="#a0abc4" stroke-width="0.3"/>
<path d="M529.4,506.3 529.9,505.2 530.4,503.6 530.9,501.8 531.4,499.8 531.9,497.7 532.4,495.5 532.9,493.3 533.4,490.9 533.9,488.4 534.4,485.9 534.9,483.4 535.4,480.7 535.9,478.0 536.4,475.3 536.9,472.5 537.4,469.7 537.9,466.8 538.4,468.3 538.9,472.6 539.4,476.9 539.9,481.0 540.4,485.0 540.9,488.8 541.4,492.5 541.9,496.0 542.4,499.3 542.9,502.2 543.4,504.8Z" fill="#d81e25"/>
<path d="M545.0,506.2 545.5,506.2 546.0,506.1 546.5,506.0 547.0,505.9 547.5,505.7 548.0,505.5 548.5,505.2 549.0,504.9 549.5,504.5 550.0,504.1 550.5,503.6 551.0,503.1 551.5,502.6 552.0,502.1 552.5,501.6 553.0,501.2 553.5,501.0 554.0,500.8 554.5,500.7 555.0,500.8 555.5,501.0 556.0,501.2 556.5,501.6 557.0,502.1 557.5,502.6 558.0,503.1 558.5,503.6 559.0,504.1 559.5,504.5 560.0,504.9 560.5,505.2 561.0,505.5 561.5,505.7 562.0,505.9 562.5,506.0 563.0,506.1 563.5,506.2 564.0,506.2Z" fill="#d81e25"/>
<path d="M530.4,506.3 L539.1,502.3 L546.8,506.3Z" fill="#a01418" opacity="0.5"/>
<rect x="543.8" y="454" width="2.8" height="2.1" fill="#d81e25" stroke="#999" stroke-width="0.2"/>
<text x="547.4" y="455.8" font-size="1.7" fill="#3050c0">Dip G1</text>
<rect x="543.8" y="456.6" width="2.8" height="2.1" fill="#d81e25" stroke="#999" stroke-width="0.2"/>
<text x="547.4" y="458.4" font-size="1.7" fill="#3050c0">Dip G2</text>
<rect x="543.8" y="459.2" width="2.8" height="2.1" fill="#dde3f0" stroke="#999" stroke-width="0.2"/>
<text x="547.4" y="461" font-size="1.7" fill="#3050c0">Dip S</text>
</g>
<text x="384.5" y="473.6" font-size="8.4" text-anchor="start" font-weight="bold" fill="#231f20" >G1: 50.92%</text>
<text x="429" y="482.6" font-size="8.4" text-anchor="end" font-weight="bold" fill="#231f20" >S: 47.09%</text>
<text x="384.5" y="491.6" font-size="8.4" text-anchor="start" font-weight="bold" fill="#231f20" >G2: 1.99%</text>
<text x="462.4" y="471.6" font-size="8.4" text-anchor="start" font-weight="bold" fill="#231f20" >G1: 52.35%</text>
<text x="506.6" y="480.4" font-size="8.4" text-anchor="end" font-weight="bold" fill="#231f20" >S : 36.68%</text>
<text x="462.4" y="490.4" font-size="8.4" text-anchor="start" font-weight="bold" fill="#231f20" >G2: 10.97%</text>
<text x="541.1" y="469" font-size="8.4" text-anchor="start" font-weight="bold" fill="#231f20" >G1: 64.33%</text>
<text x="585" y="478.7" font-size="8.4" text-anchor="end" font-weight="bold" fill="#231f20" >S: 19.31%</text>
<text x="541.1" y="489" font-size="8.4" text-anchor="start" font-weight="bold" fill="#231f20" >G2: 16.36%</text>
<rect x="597.9" y="435.9" width="7.9" height="3.6" fill="#fff" stroke="#231f20" stroke-width="0.9"/>
<rect x="597.9" y="443.4" width="7.9" height="3.6" fill="#8488c4" stroke="#231f20" stroke-width="0.9"/>
<rect x="597.9" y="450.4" width="7.9" height="3.6" fill="#1e2288" stroke="#231f20" stroke-width="0.9"/>
<text transform="translate(611.4,440.5) scale(1,0.95)" font-size="8.2" font-weight="bold" fill="#231f20">Control</text>
<text transform="translate(611.4,447.6) scale(1,0.95)" font-size="8.2" font-weight="bold" fill="#231f20">Negative control</text>
<text transform="translate(611.4,454.5) scale(1,0.95)" font-size="8.2" font-weight="bold" fill="#231f20">siRNA-STAT4</text>
<text transform="translate(590.78,477) rotate(-90)" font-size="8.4" text-anchor="middle" font-weight="bold" fill="#231f20" >% of cells</text>
<line x1="604.5" y1="459.4" x2="604.5" y2="505.6" stroke="#111" stroke-width="1.1"/>
<line x1="601.7" y1="505.5" x2="604.5" y2="505.5" stroke="#111" stroke-width="1.1"/>
<text x="602.3" y="508.04" font-size="8.4" text-anchor="end" font-weight="bold" fill="#231f20" >0</text>
<line x1="601.7" y1="493.5" x2="604.5" y2="493.5" stroke="#111" stroke-width="1.1"/>
<text x="602.3" y="496.74" font-size="8.4" text-anchor="end" font-weight="bold" fill="#231f20" >20</text>
<line x1="601.7" y1="482.5" x2="604.5" y2="482.5" stroke="#111" stroke-width="1.1"/>
<text x="602.3" y="485.44" font-size="8.4" text-anchor="end" font-weight="bold" fill="#231f20" >40</text>
<line x1="601.7" y1="471.5" x2="604.5" y2="471.5" stroke="#111" stroke-width="1.1"/>
<text x="602.3" y="474.14" font-size="8.4" text-anchor="end" font-weight="bold" fill="#231f20" >60</text>
<line x1="601.7" y1="459.5" x2="604.5" y2="459.5" stroke="#111" stroke-width="1.1"/>
<text x="602.3" y="462.84" font-size="8.4" text-anchor="end" font-weight="bold" fill="#231f20" >80</text>
<line x1="604" y1="505.5" x2="678.2" y2="505.5" stroke="#111" stroke-width="1.1"/>
<line x1="617.5" y1="505.1" x2="617.5" y2="507.1" stroke="#111" stroke-width="1.1"/>
<line x1="642.5" y1="505.1" x2="642.5" y2="507.1" stroke="#111" stroke-width="1.1"/>
<line x1="666.5" y1="505.1" x2="666.5" y2="507.1" stroke="#111" stroke-width="1.1"/>
<rect x="608.5" y="472.5" width="4" height="32.6" fill="#fff" stroke="#231f20" stroke-width="0.9"/>
<line x1="610.5" y1="468.7" x2="610.5" y2="472.5" stroke="#111" stroke-width="0.9"/>
<line x1="609.37" y1="468.5" x2="611.63" y2="468.5" stroke="#111" stroke-width="0.9"/>
<rect x="615.5" y="471.5" width="3" height="33.6" fill="#8488c4" stroke="#231f20" stroke-width="0.9"/>
<line x1="617.5" y1="467.4" x2="617.5" y2="471.5" stroke="#111" stroke-width="0.9"/>
<line x1="616.4" y1="467.5" x2="618.6" y2="467.5" stroke="#111" stroke-width="0.9"/>
<rect x="621.5" y="467.5" width="3" height="37.6" fill="#1e2288" stroke="#231f20" stroke-width="0.9"/>
<line x1="623.5" y1="464.5" x2="623.5" y2="467.5" stroke="#111" stroke-width="0.9"/>
<line x1="622.35" y1="464.5" x2="624.65" y2="464.5" stroke="#111" stroke-width="0.9"/>
<rect x="633.5" y="484.5" width="3" height="20.6" fill="#fff" stroke="#231f20" stroke-width="0.9"/>
<line x1="635.5" y1="479.2" x2="635.5" y2="484.5" stroke="#111" stroke-width="0.9"/>
<line x1="634.4" y1="479.5" x2="636.6" y2="479.5" stroke="#111" stroke-width="0.9"/>
<rect x="640.5" y="489.5" width="3" height="15.6" fill="#8488c4" stroke="#231f20" stroke-width="0.9"/>
<line x1="642.5" y1="485" x2="642.5" y2="489.5" stroke="#111" stroke-width="0.9"/>
<line x1="641.4" y1="485.5" x2="643.6" y2="485.5" stroke="#111" stroke-width="0.9"/>
<rect x="646.5" y="498.5" width="3" height="6.6" fill="#1e2288" stroke="#231f20" stroke-width="0.9"/>
<line x1="648.5" y1="494.3" x2="648.5" y2="498.5" stroke="#111" stroke-width="0.9"/>
<line x1="647.35" y1="494.5" x2="649.65" y2="494.5" stroke="#111" stroke-width="0.9"/>
<rect x="657.5" y="503.5" width="3" height="1.6" fill="#fff" stroke="#231f20" stroke-width="0.9"/>
<line x1="659.5" y1="502" x2="659.5" y2="503.5" stroke="#111" stroke-width="0.9"/>
<line x1="658.4" y1="502.5" x2="660.6" y2="502.5" stroke="#111" stroke-width="0.9"/>
<rect x="664.5" y="499.5" width="3" height="5.6" fill="#8488c4" stroke="#231f20" stroke-width="0.9"/>
<line x1="666.5" y1="497.8" x2="666.5" y2="499.5" stroke="#111" stroke-width="0.9"/>
<line x1="665.29" y1="497.5" x2="667.71" y2="497.5" stroke="#111" stroke-width="0.9"/>
<rect x="671.5" y="494.5" width="3" height="10.6" fill="#1e2288" stroke="#231f20" stroke-width="0.9"/>
<line x1="673.5" y1="492.9" x2="673.5" y2="494.5" stroke="#111" stroke-width="0.9"/>
<line x1="672.29" y1="492.5" x2="674.71" y2="492.5" stroke="#111" stroke-width="0.9"/>
<text x="615.9" y="519" font-size="8.4" text-anchor="middle" font-weight="bold" fill="#231f20" >G1</text>
<text x="639.6" y="519" font-size="8.4" text-anchor="middle" font-weight="bold" fill="#231f20" >S</text>
<text x="665.9" y="519" font-size="8.4" text-anchor="middle" font-weight="bold" fill="#231f20" >G2</text>
<line x1="632.9" y1="474.5" x2="652.2" y2="474.5" stroke="#111" stroke-width="1.1"/>
<text x="643.5" y="473.8" font-size="7.5" text-anchor="middle" font-weight="bold" fill="#231f20" >***</text>
<line x1="640.5" y1="480.5" x2="655" y2="480.5" stroke="#111" stroke-width="1.1"/>
<text x="648.7" y="480.3" font-size="7.5" text-anchor="middle" font-weight="bold" fill="#231f20" >**</text>
<line x1="659.2" y1="480.5" x2="679" y2="480.5" stroke="#111" stroke-width="1.1"/>
<text x="668.5" y="480" font-size="7.5" text-anchor="middle" font-weight="bold" fill="#231f20" >***</text>
<line x1="664.1" y1="488.5" x2="677.3" y2="488.5" stroke="#111" stroke-width="1.1"/>
<text x="669.7" y="487.9" font-size="7.5" text-anchor="middle" font-weight="bold" fill="#231f20" >**</text>
</svg>
</body></html>
